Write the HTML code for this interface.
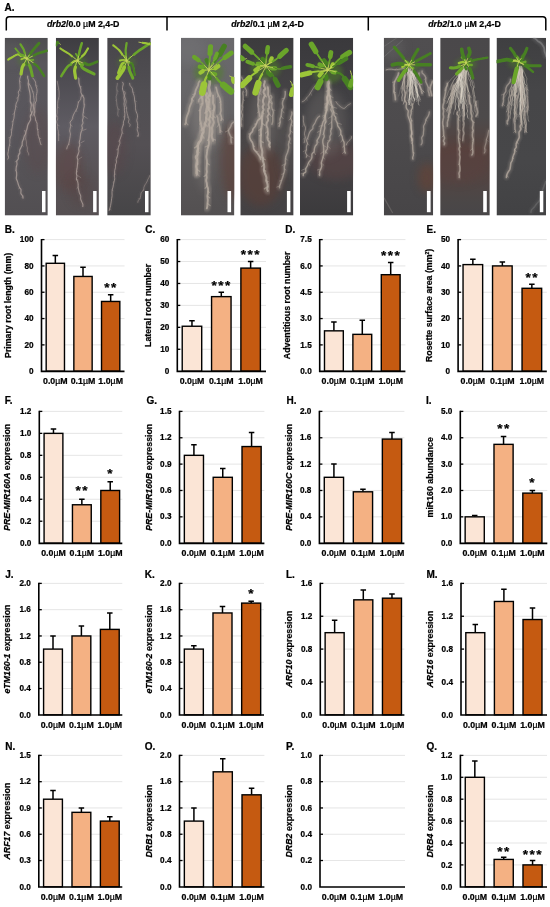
<!DOCTYPE html>
<html lang="en">
<head>
<meta charset="utf-8">
<title>Figure: drb2 response to 2,4-D</title>
<style>
html,body{margin:0;padding:0;background:#fff;}
body{width:550px;height:907px;overflow:hidden;}
svg{display:block;}
svg text{font-family:"Liberation Sans", sans-serif;fill:#000;stroke:#000;stroke-width:0.22px;}
</style>
</head>
<body>
<svg width="550" height="907" viewBox="0 0 550 907">
<rect width="550" height="907" fill="#fff"/>
<text x="4.5" y="10.9" font-size="10" font-weight="bold">A.</text>
<path d="M6.3 30.5V19.6Q6.3 16.8 9.2 16.8H542.9Q545.8 16.8 545.8 19.6V30.5M167.0 16.8V30.5M368.3 16.8V30.5" stroke="#000" stroke-width="1.5" fill="none"/>
<text x="83.2" y="27.3" text-anchor="middle" font-size="8.8" font-weight="bold" xml:space="preserve"><tspan font-style="italic">drb2</tspan>/0.0 <tspan font-weight="normal">µ</tspan>M 2,4-D</text>
<text x="267.5" y="27.3" text-anchor="middle" font-size="8.8" font-weight="bold" xml:space="preserve"><tspan font-style="italic">drb2</tspan>/0.1 <tspan font-weight="normal">µ</tspan>M 2,4-D</text>
<text x="464.5" y="27.3" text-anchor="middle" font-size="8.8" font-weight="bold" xml:space="preserve"><tspan font-style="italic">drb2</tspan>/1.0 <tspan font-weight="normal">µ</tspan>M 2,4-D</text>
<defs>
<filter id="soft" x="-5%" y="-5%" width="110%" height="110%"><feGaussianBlur stdDeviation="0.45"/></filter>
<filter id="halo" x="-30%" y="-10%" width="160%" height="120%"><feGaussianBlur stdDeviation="0.9"/></filter>
<filter id="gblob" x="-50%" y="-50%" width="200%" height="200%"><feGaussianBlur stdDeviation="2.2"/></filter>
<filter id="blob" x="-50%" y="-50%" width="200%" height="200%"><feGaussianBlur stdDeviation="4"/></filter>
<linearGradient id="bg0" x1="0" y1="0" x2="0" y2="1"><stop offset="0" stop-color="#4e4d50"/><stop offset="0.15" stop-color="#58565b"/><stop offset="0.45" stop-color="#5a575d"/><stop offset="0.75" stop-color="#565357"/><stop offset="1" stop-color="#524f52"/></linearGradient>
<clipPath id="cp0"><rect x="4.7" y="37.8" width="43.1" height="177.8"/></clipPath>
<linearGradient id="bg1" x1="0" y1="0" x2="0" y2="1"><stop offset="0" stop-color="#3e3d41"/><stop offset="0.2" stop-color="#4c4a50"/><stop offset="0.5" stop-color="#5f5c63"/><stop offset="0.8" stop-color="#585255"/><stop offset="1" stop-color="#565052"/></linearGradient>
<clipPath id="cp1"><rect x="55.8" y="37.8" width="43.1" height="177.8"/></clipPath>
<linearGradient id="bg2" x1="0" y1="0" x2="0" y2="1"><stop offset="0" stop-color="#48464a"/><stop offset="0.3" stop-color="#514f53"/><stop offset="0.6" stop-color="#545054"/><stop offset="1" stop-color="#464547"/></linearGradient>
<clipPath id="cp2"><rect x="107.2" y="37.8" width="43.6" height="177.8"/></clipPath>
<linearGradient id="bg3" x1="0" y1="0" x2="0" y2="1"><stop offset="0" stop-color="#6a696c"/><stop offset="0.3" stop-color="#676668"/><stop offset="0.6" stop-color="#5f5d5e"/><stop offset="0.85" stop-color="#575455"/><stop offset="1" stop-color="#535051"/></linearGradient>
<clipPath id="cp3"><rect x="181.0" y="37.8" width="53.4" height="177.8"/></clipPath>
<linearGradient id="bg4" x1="0" y1="0" x2="0" y2="1"><stop offset="0" stop-color="#3c3b3d"/><stop offset="0.3" stop-color="#454345"/><stop offset="0.6" stop-color="#4a4748"/><stop offset="1" stop-color="#444244"/></linearGradient>
<clipPath id="cp4"><rect x="240.3" y="37.8" width="53.3" height="177.8"/></clipPath>
<linearGradient id="bg5" x1="0" y1="0" x2="0" y2="1"><stop offset="0" stop-color="#3a393c"/><stop offset="0.4" stop-color="#434245"/><stop offset="0.7" stop-color="#464346"/><stop offset="1" stop-color="#3b3a3c"/></linearGradient>
<clipPath id="cp5"><rect x="300.0" y="37.8" width="53.2" height="177.8"/></clipPath>
<linearGradient id="bg6" x1="0" y1="0" x2="0" y2="1"><stop offset="0" stop-color="#504e50"/><stop offset="0.5" stop-color="#4d4b4d"/><stop offset="1" stop-color="#474547"/></linearGradient>
<clipPath id="cp6"><rect x="383.8" y="37.8" width="49.4" height="177.8"/></clipPath>
<linearGradient id="bg7" x1="0" y1="0" x2="0" y2="1"><stop offset="0" stop-color="#4a484a"/><stop offset="0.45" stop-color="#4d4a4b"/><stop offset="0.62" stop-color="#55433f"/><stop offset="0.8" stop-color="#524543"/><stop offset="0.92" stop-color="#4b4747"/><stop offset="1" stop-color="#484648"/></linearGradient>
<clipPath id="cp7"><rect x="440.2" y="37.8" width="49.6" height="177.8"/></clipPath>
<linearGradient id="bg8" x1="0" y1="0" x2="0" y2="1"><stop offset="0" stop-color="#3f3f41"/><stop offset="0.3" stop-color="#464648"/><stop offset="0.7" stop-color="#474749"/><stop offset="1" stop-color="#424244"/></linearGradient>
<clipPath id="cp8"><rect x="496.5" y="37.8" width="49.5" height="177.8"/></clipPath>
</defs>
<g clip-path="url(#cp0)">
<rect x="4.7" y="37.8" width="43.1" height="177.8" fill="url(#bg0)"/>
<ellipse cx="37.9" cy="140.6" rx="14.4" ry="32.8" fill="#5c4a4c" opacity="0.4125" filter="url(#blob)"/>
<ellipse cx="12.3" cy="52.5" rx="14.4" ry="12.3" fill="#626163" opacity="0.375" filter="url(#blob)"/>
<ellipse cx="26.7" cy="60.4" rx="9.0" ry="7.0" fill="#4f8226" opacity="0.4" filter="url(#gblob)"/>
<g filter="url(#soft)" fill="none" stroke-linecap="round" stroke-linejoin="round">
<path d="M20.5 74.0C20.6 74.3 20.9 75.1 20.8 75.7C20.7 76.4 20.2 77.2 20.0 78.1C19.8 79.0 19.6 79.9 19.6 80.9C19.6 82.0 19.8 83.0 19.9 84.1C20.0 85.2 20.1 86.5 20.1 87.4C20.1 88.3 20.0 89.0 19.7 89.8C19.4 90.5 18.4 91.2 18.3 92.1C18.1 92.9 18.9 93.9 18.9 94.8C18.8 95.7 18.1 96.6 18.0 97.5C17.8 98.4 18.1 99.4 17.8 100.3C17.5 101.2 16.7 102.0 16.4 102.9C16.0 103.8 16.0 104.8 15.8 105.7C15.7 106.6 15.7 107.4 15.6 108.2C15.4 109.0 15.1 109.9 14.9 110.7C14.7 111.6 14.5 112.4 14.4 113.3C14.3 114.2 14.3 115.1 14.2 116.0C14.1 116.9 14.0 117.8 13.8 118.7C13.6 119.5 13.1 120.3 13.0 121.2C12.8 122.1 12.9 123.0 12.8 123.8C12.7 124.7 12.5 125.4 12.4 126.3C12.3 127.2 12.1 128.2 11.9 129.1C11.8 130.0 11.6 130.9 11.5 131.9C11.4 132.8 11.6 133.8 11.4 134.7C11.3 135.6 10.7 136.4 10.4 137.2C10.2 138.1 9.9 139.0 9.8 139.8C9.7 140.7 9.9 141.6 9.9 142.4C9.8 143.2 9.7 143.8 9.6 144.8C9.4 145.7 9.0 147.0 8.8 148.1C8.6 149.2 8.4 150.4 8.3 151.5C8.1 152.5 7.8 153.6 7.8 154.6C7.9 155.5 8.6 156.5 8.6 157.3C8.6 158.0 7.9 158.8 7.8 159.1" stroke="#ad9f9a" stroke-width="2.6" opacity="0.15" filter="url(#halo)"/>
<path d="M20.5 74.0C20.6 74.3 20.9 75.1 20.8 75.7C20.7 76.4 20.2 77.2 20.0 78.1C19.8 79.0 19.6 79.9 19.6 80.9C19.6 82.0 19.8 83.0 19.9 84.1C20.0 85.2 20.1 86.5 20.1 87.4C20.1 88.3 20.0 89.0 19.7 89.8C19.4 90.5 18.4 91.2 18.3 92.1C18.1 92.9 18.9 93.9 18.9 94.8C18.8 95.7 18.1 96.6 18.0 97.5C17.8 98.4 18.1 99.4 17.8 100.3C17.5 101.2 16.7 102.0 16.4 102.9C16.0 103.8 16.0 104.8 15.8 105.7C15.7 106.6 15.7 107.4 15.6 108.2C15.4 109.0 15.1 109.9 14.9 110.7C14.7 111.6 14.5 112.4 14.4 113.3C14.3 114.2 14.3 115.1 14.2 116.0C14.1 116.9 14.0 117.8 13.8 118.7C13.6 119.5 13.1 120.3 13.0 121.2C12.8 122.1 12.9 123.0 12.8 123.8C12.7 124.7 12.5 125.4 12.4 126.3C12.3 127.2 12.1 128.2 11.9 129.1C11.8 130.0 11.6 130.9 11.5 131.9C11.4 132.8 11.6 133.8 11.4 134.7C11.3 135.6 10.7 136.4 10.4 137.2C10.2 138.1 9.9 139.0 9.8 139.8C9.7 140.7 9.9 141.6 9.9 142.4C9.8 143.2 9.7 143.8 9.6 144.8C9.4 145.7 9.0 147.0 8.8 148.1C8.6 149.2 8.4 150.4 8.3 151.5C8.1 152.5 7.8 153.6 7.8 154.6C7.9 155.5 8.6 156.5 8.6 157.3C8.6 158.0 7.9 158.8 7.8 159.1" stroke="#ad9f9a" stroke-width="1.0" opacity="0.75"/>
<path d="M19.6 80.9L21.0 82.0M19.7 89.8L20.7 91.3M18.0 97.5L16.6 98.2M15.8 105.7L17.2 107.1M14.4 113.3L12.7 114.3M13.0 121.2L11.9 121.7M11.9 129.1L10.6 129.8M10.4 137.2L8.7 137.8M9.6 144.8L10.7 146.0" stroke="#ad9f9a" stroke-width="0.7" opacity="0.525"/>
<path d="M27.7 76.0C27.7 76.4 27.6 77.2 27.7 78.0C27.8 78.8 28.4 79.7 28.5 80.8C28.5 81.8 28.2 82.9 28.2 84.0C28.3 85.1 28.5 86.3 28.7 87.3C28.8 88.3 29.1 89.1 29.3 90.0C29.5 90.9 29.7 91.8 29.9 92.8C30.0 93.8 30.2 94.8 30.3 95.8C30.4 96.7 30.3 97.8 30.3 98.8C30.3 99.8 30.1 100.8 30.3 101.7C30.4 102.7 31.2 103.6 31.3 104.6C31.4 105.5 31.1 106.5 31.0 107.5C30.9 108.5 30.6 109.5 30.7 110.4C30.8 111.4 31.7 112.4 31.7 113.3C31.6 114.3 30.5 115.0 30.3 116.0C30.1 116.9 30.8 118.3 30.6 119.3C30.4 120.4 29.7 121.2 29.3 122.1C28.8 123.1 28.2 123.9 27.8 125.0C27.4 126.1 27.3 127.5 27.1 128.5C26.8 129.5 26.5 130.1 26.2 131.0C26.0 131.8 26.0 132.8 25.6 133.7C25.3 134.6 24.5 135.4 24.2 136.3C23.8 137.2 23.7 138.3 23.4 139.2C23.1 140.1 22.6 141.0 22.3 142.0C22.1 142.9 22.3 144.0 22.1 144.9C21.8 145.8 21.3 146.7 20.9 147.6C20.6 148.4 19.9 149.3 19.7 150.2C19.5 151.2 20.0 152.3 19.8 153.2C19.5 154.1 18.5 154.9 18.3 155.8C18.0 156.7 18.6 157.7 18.3 158.6C18.1 159.5 17.0 160.1 16.8 161.0C16.6 162.0 17.1 163.2 17.0 164.2C16.9 165.2 16.5 166.1 16.3 167.0C16.2 168.0 16.0 168.9 16.1 169.9C16.1 170.8 16.5 171.7 16.6 172.7C16.7 173.6 16.7 174.5 16.6 175.5C16.6 176.5 16.1 177.6 16.3 178.6C16.4 179.6 17.2 180.6 17.5 181.6C17.9 182.6 18.0 183.7 18.4 184.7C18.7 185.7 19.1 186.6 19.5 187.5C19.9 188.3 20.7 188.7 21.0 189.7C21.2 190.7 20.6 192.5 20.9 193.5C21.2 194.6 22.4 195.3 22.8 196.1C23.1 196.8 22.9 197.7 23.0 198.1" stroke="#ad9f9a" stroke-width="3.1" opacity="0.16" filter="url(#halo)"/>
<path d="M27.7 76.0C27.7 76.4 27.6 77.2 27.7 78.0C27.8 78.8 28.4 79.7 28.5 80.8C28.5 81.8 28.2 82.9 28.2 84.0C28.3 85.1 28.5 86.3 28.7 87.3C28.8 88.3 29.1 89.1 29.3 90.0C29.5 90.9 29.7 91.8 29.9 92.8C30.0 93.8 30.2 94.8 30.3 95.8C30.4 96.7 30.3 97.8 30.3 98.8C30.3 99.8 30.1 100.8 30.3 101.7C30.4 102.7 31.2 103.6 31.3 104.6C31.4 105.5 31.1 106.5 31.0 107.5C30.9 108.5 30.6 109.5 30.7 110.4C30.8 111.4 31.7 112.4 31.7 113.3C31.6 114.3 30.5 115.0 30.3 116.0C30.1 116.9 30.8 118.3 30.6 119.3C30.4 120.4 29.7 121.2 29.3 122.1C28.8 123.1 28.2 123.9 27.8 125.0C27.4 126.1 27.3 127.5 27.1 128.5C26.8 129.5 26.5 130.1 26.2 131.0C26.0 131.8 26.0 132.8 25.6 133.7C25.3 134.6 24.5 135.4 24.2 136.3C23.8 137.2 23.7 138.3 23.4 139.2C23.1 140.1 22.6 141.0 22.3 142.0C22.1 142.9 22.3 144.0 22.1 144.9C21.8 145.8 21.3 146.7 20.9 147.6C20.6 148.4 19.9 149.3 19.7 150.2C19.5 151.2 20.0 152.3 19.8 153.2C19.5 154.1 18.5 154.9 18.3 155.8C18.0 156.7 18.6 157.7 18.3 158.6C18.1 159.5 17.0 160.1 16.8 161.0C16.6 162.0 17.1 163.2 17.0 164.2C16.9 165.2 16.5 166.1 16.3 167.0C16.2 168.0 16.0 168.9 16.1 169.9C16.1 170.8 16.5 171.7 16.6 172.7C16.7 173.6 16.7 174.5 16.6 175.5C16.6 176.5 16.1 177.6 16.3 178.6C16.4 179.6 17.2 180.6 17.5 181.6C17.9 182.6 18.0 183.7 18.4 184.7C18.7 185.7 19.1 186.6 19.5 187.5C19.9 188.3 20.7 188.7 21.0 189.7C21.2 190.7 20.6 192.5 20.9 193.5C21.2 194.6 22.4 195.3 22.8 196.1C23.1 196.8 22.9 197.7 23.0 198.1" stroke="#ad9f9a" stroke-width="1.2" opacity="0.8"/>
<path d="M28.2 84.0L29.7 85.1M22.1 144.9L23.1 146.2M19.8 153.2L18.3 153.8M16.8 161.0L15.1 161.8M16.1 169.9L15.4 170.4M19.5 187.5L18.8 188.9M22.8 196.1L22.1 197.2" stroke="#ad9f9a" stroke-width="0.7" opacity="0.56"/>
<path d="M32.8 78.1C33.0 78.4 33.6 79.0 34.1 79.6C34.5 80.3 35.2 81.2 35.5 82.1C35.8 83.1 35.6 84.3 35.8 85.3C36.0 86.3 36.5 87.2 36.7 88.2C37.0 89.2 37.1 90.3 37.1 91.5C37.0 92.7 36.5 94.5 36.4 95.5C36.2 96.6 36.2 97.0 36.2 97.9C36.2 98.7 36.5 99.7 36.4 100.6C36.2 101.5 35.4 102.4 35.1 103.4C34.9 104.3 35.0 105.3 34.9 106.3C34.8 107.3 34.7 108.3 34.7 109.2C34.7 110.2 34.9 111.0 34.8 111.9C34.8 112.9 34.4 114.0 34.4 114.9C34.5 115.9 35.1 116.7 35.3 117.6C35.5 118.5 35.3 119.5 35.6 120.4C35.9 121.3 36.7 122.1 37.0 123.1C37.2 124.0 37.1 125.3 37.2 126.2C37.3 127.2 37.2 128.0 37.3 128.9C37.5 129.8 37.9 130.8 38.0 131.8C38.1 132.8 37.9 134.0 38.1 135.0C38.3 136.1 38.9 137.0 39.1 138.0C39.4 138.9 39.6 139.9 39.8 140.8C40.0 141.6 40.2 142.4 40.4 143.1C40.6 143.8 40.9 144.5 41.0 144.7" stroke="#ad9f9a" stroke-width="2.6" opacity="0.15" filter="url(#halo)"/>
<path d="M32.8 78.1C33.0 78.4 33.6 79.0 34.1 79.6C34.5 80.3 35.2 81.2 35.5 82.1C35.8 83.1 35.6 84.3 35.8 85.3C36.0 86.3 36.5 87.2 36.7 88.2C37.0 89.2 37.1 90.3 37.1 91.5C37.0 92.7 36.5 94.5 36.4 95.5C36.2 96.6 36.2 97.0 36.2 97.9C36.2 98.7 36.5 99.7 36.4 100.6C36.2 101.5 35.4 102.4 35.1 103.4C34.9 104.3 35.0 105.3 34.9 106.3C34.8 107.3 34.7 108.3 34.7 109.2C34.7 110.2 34.9 111.0 34.8 111.9C34.8 112.9 34.4 114.0 34.4 114.9C34.5 115.9 35.1 116.7 35.3 117.6C35.5 118.5 35.3 119.5 35.6 120.4C35.9 121.3 36.7 122.1 37.0 123.1C37.2 124.0 37.1 125.3 37.2 126.2C37.3 127.2 37.2 128.0 37.3 128.9C37.5 129.8 37.9 130.8 38.0 131.8C38.1 132.8 37.9 134.0 38.1 135.0C38.3 136.1 38.9 137.0 39.1 138.0C39.4 138.9 39.6 139.9 39.8 140.8C40.0 141.6 40.2 142.4 40.4 143.1C40.6 143.8 40.9 144.5 41.0 144.7" stroke="#ad9f9a" stroke-width="1.0" opacity="0.75"/>
<path d="M35.8 85.3L37.5 86.1M35.1 103.4L35.7 104.0M34.8 111.9L33.9 112.6M35.6 120.4L36.5 120.7M37.3 128.9L38.6 129.6M39.1 138.0L40.8 138.6" stroke="#ad9f9a" stroke-width="0.7" opacity="0.525"/>
<path d="M28.7 83.2C28.9 83.5 29.6 84.3 30.0 85.1C30.5 85.9 31.0 87.1 31.5 88.1C31.9 89.2 32.2 90.5 32.6 91.5C32.9 92.5 33.3 93.2 33.5 94.2C33.7 95.2 33.6 96.3 33.7 97.3C33.9 98.4 34.2 99.5 34.2 100.6C34.2 101.6 33.8 102.6 33.6 103.7C33.5 104.8 33.5 105.9 33.4 107.1C33.3 108.3 33.3 109.7 33.0 110.8C32.7 112.0 31.8 113.0 31.4 113.8C31.1 114.7 30.9 115.7 30.8 116.0" stroke="#ad9f9a" stroke-width="2.6" opacity="0.14" filter="url(#halo)"/>
<path d="M28.7 83.2C28.9 83.5 29.6 84.3 30.0 85.1C30.5 85.9 31.0 87.1 31.5 88.1C31.9 89.2 32.2 90.5 32.6 91.5C32.9 92.5 33.3 93.2 33.5 94.2C33.7 95.2 33.6 96.3 33.7 97.3C33.9 98.4 34.2 99.5 34.2 100.6C34.2 101.6 33.8 102.6 33.6 103.7C33.5 104.8 33.5 105.9 33.4 107.1C33.3 108.3 33.3 109.7 33.0 110.8C32.7 112.0 31.8 113.0 31.4 113.8C31.1 114.7 30.9 115.7 30.8 116.0" stroke="#ad9f9a" stroke-width="1.0" opacity="0.7"/>
<path d="M32.6 91.5L34.1 92.0" stroke="#ad9f9a" stroke-width="0.7" opacity="0.49"/>
<path d="M24.6 130.4C24.7 130.7 25.2 131.5 25.4 132.3C25.6 133.1 25.8 134.2 25.9 135.2C25.9 136.3 25.7 137.5 25.7 138.6C25.8 139.7 26.3 140.9 26.4 141.9C26.5 142.9 26.3 143.8 26.4 144.8C26.6 145.8 27.2 146.8 27.4 147.8C27.5 148.8 27.1 150.0 27.3 150.9C27.5 151.8 28.2 152.5 28.5 153.2C28.7 153.9 28.7 154.7 28.7 155.0" stroke="#ad9f9a" stroke-width="2.1" opacity="0.12" filter="url(#halo)"/>
<path d="M24.6 130.4C24.7 130.7 25.2 131.5 25.4 132.3C25.6 133.1 25.8 134.2 25.9 135.2C25.9 136.3 25.7 137.5 25.7 138.6C25.8 139.7 26.3 140.9 26.4 141.9C26.5 142.9 26.3 143.8 26.4 144.8C26.6 145.8 27.2 146.8 27.4 147.8C27.5 148.8 27.1 150.0 27.3 150.9C27.5 151.8 28.2 152.5 28.5 153.2C28.7 153.9 28.7 154.7 28.7 155.0" stroke="#ad9f9a" stroke-width="0.8" opacity="0.6"/>
<path d="M25.7 138.6L24.6 139.6" stroke="#ad9f9a" stroke-width="0.7" opacity="0.42"/>
<path d="M30.8 101.7C31.0 102.1 31.7 103.3 32.2 104.3C32.7 105.4 33.4 106.8 33.7 107.9C34.1 108.9 34.3 109.8 34.3 110.8C34.3 111.8 34.0 113.0 33.7 113.9C33.5 114.8 33.0 115.7 32.8 116.0" stroke="#ad9f9a" stroke-width="2.3" opacity="0.12" filter="url(#halo)"/>
<path d="M30.8 101.7C31.0 102.1 31.7 103.3 32.2 104.3C32.7 105.4 33.4 106.8 33.7 107.9C34.1 108.9 34.3 109.8 34.3 110.8C34.3 111.8 34.0 113.0 33.7 113.9C33.5 114.8 33.0 115.7 32.8 116.0" stroke="#ad9f9a" stroke-width="0.9" opacity="0.6"/>
<path d="M26.7 58.6C27.2 58.9 28.9 59.9 30.0 60.1C31.1 60.3 32.7 59.9 33.3 59.8" stroke="#c4d35c" stroke-width="0.9"/>
<path d="M28.7 59.5C28.9 59.6 29.2 60.0 30.0 60.1C30.8 60.1 32.7 59.9 33.3 59.8" stroke="#6aa52c" stroke-width="1.8"/>
<path d="M26.7 58.6C26.5 59.2 25.7 60.9 25.8 62.0C25.8 63.0 26.6 64.4 26.7 64.9" stroke="#c4d35c" stroke-width="0.9"/>
<path d="M26.1 60.6C26.1 60.9 25.7 61.3 25.8 62.0C25.9 62.7 26.6 64.4 26.7 64.9" stroke="#478023" stroke-width="1.8"/>
<path d="M26.7 58.6C26.2 58.6 24.6 58.2 23.7 58.3C22.8 58.4 21.7 59.1 21.3 59.3" stroke="#c4d35c" stroke-width="0.9"/>
<path d="M24.9 58.4C24.7 58.4 24.3 58.2 23.7 58.3C23.1 58.4 21.7 59.1 21.3 59.3" stroke="#9cc537" stroke-width="1.8"/>
<path d="M26.7 58.6C26.2 58.1 25.1 56.3 24.1 55.6C23.1 54.9 21.2 54.6 20.7 54.4" stroke="#c4d35c" stroke-width="0.9"/>
<path d="M25.1 56.8C25.0 56.6 24.8 56.0 24.1 55.6C23.4 55.2 21.2 54.6 20.7 54.4" stroke="#6aa52c" stroke-width="1.8"/>
<path d="M26.7 58.6C27.0 58.3 28.5 57.3 29.0 56.5C29.5 55.8 29.5 54.4 29.7 54.0" stroke="#c4d35c" stroke-width="0.9"/>
<path d="M28.0 57.4C28.2 57.2 28.7 57.1 29.0 56.5C29.2 56.0 29.5 54.4 29.7 54.0" stroke="#478023" stroke-width="1.8"/>
<path d="M26.7 58.6C25.1 57.9 20.5 54.3 17.4 54.5C14.4 54.7 9.7 58.8 8.2 59.6" stroke="#c4d35c" stroke-width="0.9"/>
<path d="M21.1 56.1C20.5 55.9 19.6 53.9 17.4 54.5C15.3 55.1 9.7 58.8 8.2 59.6" stroke="#9cc537" stroke-width="2.2"/>
<path d="M26.7 58.6C26.1 57.1 24.6 51.8 23.6 49.4C22.6 47.0 21.0 45.1 20.5 44.3" stroke="#c4d35c" stroke-width="0.9"/>
<path d="M24.8 53.1C24.6 52.5 24.3 50.9 23.6 49.4C22.9 47.9 21.0 45.1 20.5 44.3" stroke="#6aa52c" stroke-width="2.2"/>
<path d="M26.7 58.6C27.7 57.2 30.8 53.0 32.8 50.4C34.9 47.8 37.9 44.4 39.0 43.2" stroke="#c4d35c" stroke-width="0.9"/>
<path d="M30.4 53.7C30.8 53.1 31.4 52.2 32.8 50.4C34.2 48.7 37.9 44.4 39.0 43.2" stroke="#478023" stroke-width="2.8"/>
<path d="M27.7 58.6C29.4 57.8 34.8 54.8 37.9 53.5C41.1 52.2 45.3 51.3 46.8 50.8" stroke="#c4d35c" stroke-width="0.9"/>
<path d="M33.8 55.5C34.5 55.2 35.8 54.3 37.9 53.5C40.1 52.7 45.3 51.3 46.8 50.8" stroke="#478023" stroke-width="2.5"/>
<path d="M26.3 59.6C25.6 61.0 23.0 65.4 22.1 67.8C21.3 70.2 21.3 73.0 21.1 74.0" stroke="#c4d35c" stroke-width="0.9"/>
<path d="M23.8 64.6C23.5 65.1 22.6 66.3 22.1 67.8C21.7 69.4 21.3 73.0 21.1 74.0" stroke="#9cc537" stroke-width="3.2"/>
<path d="M27.7 59.6C28.2 61.2 30.0 66.1 30.8 68.9C31.5 71.6 32.1 74.8 32.4 76.0" stroke="#c4d35c" stroke-width="0.9"/>
<path d="M29.5 65.2C29.7 65.8 30.3 67.1 30.8 68.9C31.2 70.7 32.1 74.8 32.4 76.0" stroke="#6aa52c" stroke-width="3.0"/>
<path d="M28.7 59.6C30.3 60.8 35.4 64.1 37.9 66.8C40.5 69.5 43.1 74.5 44.1 76.0" stroke="#c4d35c" stroke-width="0.9"/>
<path d="M34.2 63.9C34.9 64.4 36.3 64.8 37.9 66.8C39.6 68.8 43.1 74.5 44.1 76.0" stroke="#478023" stroke-width="2.5"/>
<path d="M26.7 58.6C25.6 57.9 22.4 56.2 20.5 54.5C18.6 52.8 16.2 49.4 15.4 48.4" stroke="#c4d35c" stroke-width="0.9"/>
<path d="M23.0 56.1C22.6 55.9 21.8 55.8 20.5 54.5C19.2 53.2 16.2 49.4 15.4 48.4" stroke="#6aa52c" stroke-width="1.9"/>
<circle cx="26.7" cy="58.6" r="1.1" fill="#c4d35c" stroke="none"/>
</g>
<rect x="42.0" y="191.0" width="3.5" height="21.2" fill="#fff"/>
</g>
<g clip-path="url(#cp1)">
<rect x="55.8" y="37.8" width="43.1" height="177.8" fill="url(#bg1)"/>
<ellipse cx="68.5" cy="167.4" rx="14.4" ry="24.6" fill="#5e4240" opacity="0.45" filter="url(#blob)"/>
<ellipse cx="80.8" cy="190.0" rx="12.3" ry="16.4" fill="#57403f" opacity="0.3" filter="url(#blob)"/>
<ellipse cx="77.7" cy="62.4" rx="9.0" ry="7.0" fill="#4f8226" opacity="0.4" filter="url(#gblob)"/>
<g filter="url(#soft)" fill="none" stroke-linecap="round" stroke-linejoin="round">
<path d="M78.7 78.1C78.8 78.5 78.8 79.3 78.9 80.2C78.9 81.0 78.8 82.1 79.0 83.1C79.1 84.1 79.6 85.2 80.0 86.3C80.3 87.3 80.7 88.4 80.9 89.4C81.0 90.4 80.7 91.5 80.9 92.5C81.1 93.4 81.7 94.3 82.2 95.2C82.7 96.1 83.6 97.0 83.9 98.1C84.2 99.2 83.8 100.7 83.9 101.7C83.9 102.7 84.1 103.2 84.1 104.1C84.2 104.9 84.3 105.7 84.2 106.6C84.1 107.5 83.7 108.4 83.6 109.3C83.5 110.2 83.4 111.2 83.3 112.1C83.2 113.0 82.9 113.9 82.9 114.8C82.9 115.8 83.3 116.7 83.2 117.6C83.2 118.5 82.5 119.3 82.5 120.2C82.4 121.1 83.1 122.1 83.0 123.0C82.9 123.9 81.9 124.7 81.8 125.6C81.7 126.5 82.5 127.5 82.4 128.3C82.4 129.2 81.9 130.0 81.6 130.9C81.3 131.8 80.9 132.6 80.7 133.6C80.5 134.5 80.5 135.6 80.3 136.5C80.2 137.5 80.2 138.4 80.0 139.3C79.9 140.2 79.3 141.2 79.3 142.2C79.2 143.2 79.9 144.4 79.8 145.4C79.7 146.4 78.8 147.3 78.7 148.4C78.5 149.4 79.1 150.5 79.0 151.5C78.8 152.5 78.3 153.4 78.0 154.4C77.7 155.3 77.2 156.1 77.1 157.1C77.1 158.0 77.7 159.2 77.8 160.1C77.9 161.1 77.7 162.0 77.6 163.0C77.5 163.9 77.5 164.8 77.4 165.6C77.3 166.5 77.2 167.4 77.1 168.2C76.9 169.1 76.7 170.0 76.6 170.9C76.5 171.7 76.4 172.6 76.4 173.6C76.5 174.5 76.9 175.4 76.9 176.3C76.9 177.2 76.3 178.2 76.4 179.1C76.5 180.0 77.4 180.8 77.7 181.7C77.9 182.6 78.1 183.5 78.1 184.4C78.2 185.4 78.1 186.3 78.1 187.2C78.2 188.2 78.5 189.0 78.7 190.0C78.9 190.9 79.1 191.9 79.4 192.9C79.8 193.9 80.5 194.8 80.7 195.9C80.9 197.0 80.5 198.2 80.7 199.2C80.9 200.3 81.5 201.2 81.9 202.1C82.2 202.9 82.7 203.7 82.9 204.5C83.0 205.2 82.8 206.1 82.8 206.4" stroke="#ad9f9a" stroke-width="2.9" opacity="0.16" filter="url(#halo)"/>
<path d="M78.7 78.1C78.8 78.5 78.8 79.3 78.9 80.2C78.9 81.0 78.8 82.1 79.0 83.1C79.1 84.1 79.6 85.2 80.0 86.3C80.3 87.3 80.7 88.4 80.9 89.4C81.0 90.4 80.7 91.5 80.9 92.5C81.1 93.4 81.7 94.3 82.2 95.2C82.7 96.1 83.6 97.0 83.9 98.1C84.2 99.2 83.8 100.7 83.9 101.7C83.9 102.7 84.1 103.2 84.1 104.1C84.2 104.9 84.3 105.7 84.2 106.6C84.1 107.5 83.7 108.4 83.6 109.3C83.5 110.2 83.4 111.2 83.3 112.1C83.2 113.0 82.9 113.9 82.9 114.8C82.9 115.8 83.3 116.7 83.2 117.6C83.2 118.5 82.5 119.3 82.5 120.2C82.4 121.1 83.1 122.1 83.0 123.0C82.9 123.9 81.9 124.7 81.8 125.6C81.7 126.5 82.5 127.5 82.4 128.3C82.4 129.2 81.9 130.0 81.6 130.9C81.3 131.8 80.9 132.6 80.7 133.6C80.5 134.5 80.5 135.6 80.3 136.5C80.2 137.5 80.2 138.4 80.0 139.3C79.9 140.2 79.3 141.2 79.3 142.2C79.2 143.2 79.9 144.4 79.8 145.4C79.7 146.4 78.8 147.3 78.7 148.4C78.5 149.4 79.1 150.5 79.0 151.5C78.8 152.5 78.3 153.4 78.0 154.4C77.7 155.3 77.2 156.1 77.1 157.1C77.1 158.0 77.7 159.2 77.8 160.1C77.9 161.1 77.7 162.0 77.6 163.0C77.5 163.9 77.5 164.8 77.4 165.6C77.3 166.5 77.2 167.4 77.1 168.2C76.9 169.1 76.7 170.0 76.6 170.9C76.5 171.7 76.4 172.6 76.4 173.6C76.5 174.5 76.9 175.4 76.9 176.3C76.9 177.2 76.3 178.2 76.4 179.1C76.5 180.0 77.4 180.8 77.7 181.7C77.9 182.6 78.1 183.5 78.1 184.4C78.2 185.4 78.1 186.3 78.1 187.2C78.2 188.2 78.5 189.0 78.7 190.0C78.9 190.9 79.1 191.9 79.4 192.9C79.8 193.9 80.5 194.8 80.7 195.9C80.9 197.0 80.5 198.2 80.7 199.2C80.9 200.3 81.5 201.2 81.9 202.1C82.2 202.9 82.7 203.7 82.9 204.5C83.0 205.2 82.8 206.1 82.8 206.4" stroke="#ad9f9a" stroke-width="1.1" opacity="0.8"/>
<path d="M80.0 86.3L81.7 86.9M82.2 95.2L83.4 95.4M84.1 104.1L85.0 104.6M83.3 112.1L84.1 112.8M82.4 128.3L80.9 129.4M79.8 145.4L79.0 145.9M78.0 154.4L78.6 155.1M77.6 163.0L78.2 163.5M76.6 170.9L77.6 171.8M76.4 179.1L78.1 180.0M78.1 187.2L76.8 188.5" stroke="#ad9f9a" stroke-width="0.7" opacity="0.56"/>
<path d="M81.8 95.6C81.7 95.8 81.2 96.4 81.0 97.1C80.8 97.8 80.9 98.7 80.6 99.5C80.2 100.3 79.2 101.0 78.7 101.8C78.3 102.7 78.1 103.8 77.9 104.8C77.6 105.7 77.6 106.8 77.3 107.7C77.0 108.6 76.6 109.3 76.1 110.1C75.7 110.9 75.1 111.8 74.6 112.6C74.2 113.4 73.8 114.1 73.4 115.0C73.1 115.8 72.9 116.6 72.6 117.4C72.4 118.3 72.3 119.1 71.9 119.9C71.5 120.7 70.3 121.3 70.1 122.1C69.9 123.0 70.7 124.1 70.7 125.1C70.8 126.1 70.4 127.0 70.2 128.0C70.1 128.9 69.7 129.9 69.7 130.9C69.8 131.9 70.4 132.9 70.4 133.9C70.5 134.8 70.2 135.6 70.1 136.7C69.9 137.7 69.7 139.0 69.5 140.2C69.2 141.4 69.1 142.7 68.8 143.8C68.4 144.9 67.6 145.9 67.3 146.7C66.9 147.6 66.9 148.6 66.8 148.9" stroke="#ad9f9a" stroke-width="2.6" opacity="0.15" filter="url(#halo)"/>
<path d="M81.8 95.6C81.7 95.8 81.2 96.4 81.0 97.1C80.8 97.8 80.9 98.7 80.6 99.5C80.2 100.3 79.2 101.0 78.7 101.8C78.3 102.7 78.1 103.8 77.9 104.8C77.6 105.7 77.6 106.8 77.3 107.7C77.0 108.6 76.6 109.3 76.1 110.1C75.7 110.9 75.1 111.8 74.6 112.6C74.2 113.4 73.8 114.1 73.4 115.0C73.1 115.8 72.9 116.6 72.6 117.4C72.4 118.3 72.3 119.1 71.9 119.9C71.5 120.7 70.3 121.3 70.1 122.1C69.9 123.0 70.7 124.1 70.7 125.1C70.8 126.1 70.4 127.0 70.2 128.0C70.1 128.9 69.7 129.9 69.7 130.9C69.8 131.9 70.4 132.9 70.4 133.9C70.5 134.8 70.2 135.6 70.1 136.7C69.9 137.7 69.7 139.0 69.5 140.2C69.2 141.4 69.1 142.7 68.8 143.8C68.4 144.9 67.6 145.9 67.3 146.7C66.9 147.6 66.9 148.6 66.8 148.9" stroke="#ad9f9a" stroke-width="1.0" opacity="0.75"/>
<path d="M78.7 101.8L77.8 102.0M76.1 110.1L76.8 111.6M72.6 117.4L73.1 118.1M70.7 125.1L72.2 126.2M68.8 143.8L69.4 144.8" stroke="#ad9f9a" stroke-width="0.7" opacity="0.525"/>
<path d="M57.2 81.2C57.2 81.5 57.4 82.3 57.5 83.0C57.7 83.8 57.8 84.7 58.0 85.6C58.2 86.5 58.4 87.6 58.6 88.6C58.8 89.7 59.0 90.9 59.1 92.0C59.2 93.2 59.2 94.5 59.1 95.6C59.1 96.6 59.0 97.3 58.7 98.1C58.5 99.0 58.1 99.9 57.9 100.8C57.7 101.7 57.6 102.7 57.6 103.7C57.5 104.6 57.7 105.7 57.6 106.7C57.5 107.7 57.3 108.7 57.2 109.7C57.1 110.8 57.2 111.8 57.2 112.9C57.1 113.9 56.6 115.1 56.7 116.1C56.8 117.1 57.7 117.8 57.7 118.8C57.7 119.7 56.7 120.8 56.7 121.8C56.6 122.8 57.5 123.8 57.6 124.9C57.8 125.9 57.4 127.1 57.5 128.1C57.6 129.2 58.2 130.2 58.4 131.2C58.5 132.2 58.3 133.2 58.4 134.2C58.4 135.1 58.6 136.0 58.6 136.8C58.7 137.6 58.6 138.4 58.6 139.0C58.6 139.7 58.6 140.4 58.6 140.7" stroke="#ad9f9a" stroke-width="2.3" opacity="0.12" filter="url(#halo)"/>
<path d="M57.2 81.2C57.2 81.5 57.4 82.3 57.5 83.0C57.7 83.8 57.8 84.7 58.0 85.6C58.2 86.5 58.4 87.6 58.6 88.6C58.8 89.7 59.0 90.9 59.1 92.0C59.2 93.2 59.2 94.5 59.1 95.6C59.1 96.6 59.0 97.3 58.7 98.1C58.5 99.0 58.1 99.9 57.9 100.8C57.7 101.7 57.6 102.7 57.6 103.7C57.5 104.6 57.7 105.7 57.6 106.7C57.5 107.7 57.3 108.7 57.2 109.7C57.1 110.8 57.2 111.8 57.2 112.9C57.1 113.9 56.6 115.1 56.7 116.1C56.8 117.1 57.7 117.8 57.7 118.8C57.7 119.7 56.7 120.8 56.7 121.8C56.6 122.8 57.5 123.8 57.6 124.9C57.8 125.9 57.4 127.1 57.5 128.1C57.6 129.2 58.2 130.2 58.4 131.2C58.5 132.2 58.3 133.2 58.4 134.2C58.4 135.1 58.6 136.0 58.6 136.8C58.7 137.6 58.6 138.4 58.6 139.0C58.6 139.7 58.6 140.4 58.6 140.7" stroke="#ad9f9a" stroke-width="0.9" opacity="0.6"/>
<path d="M58.6 88.6L57.9 89.4M58.7 98.1L59.7 99.3M57.6 106.7L59.1 107.9M56.7 116.1L57.9 116.8M57.6 124.9L59.3 125.8M58.4 134.2L59.8 135.1" stroke="#ad9f9a" stroke-width="0.7" opacity="0.42"/>
<path d="M83.9 116.1L87.3 118.5" stroke="#ad9f9a" stroke-width="0.8" opacity="0.6"/>
<path d="M82.8 130.4L86.1 129.2" stroke="#ad9f9a" stroke-width="0.8" opacity="0.6"/>
<path d="M80.8 142.8L84.1 141.1" stroke="#ad9f9a" stroke-width="0.8" opacity="0.6"/>
<path d="M78.7 159.2L81.8 157.1" stroke="#ad9f9a" stroke-width="0.8" opacity="0.5"/>
<path d="M77.7 175.6L80.8 177.6" stroke="#ad9f9a" stroke-width="0.8" opacity="0.5"/>
<path d="M77.7 60.7C78.1 61.2 79.1 62.9 80.0 63.6C80.9 64.3 82.6 64.7 83.2 64.9" stroke="#c4d35c" stroke-width="0.9"/>
<path d="M79.1 62.4C79.2 62.6 79.3 63.2 80.0 63.6C80.7 64.0 82.6 64.7 83.2 64.9" stroke="#6aa52c" stroke-width="1.8"/>
<path d="M77.7 60.7C77.3 61.2 75.9 62.9 75.5 64.0C75.1 65.1 75.5 66.8 75.5 67.4" stroke="#c4d35c" stroke-width="0.9"/>
<path d="M76.4 62.7C76.2 62.9 75.7 63.2 75.5 64.0C75.4 64.8 75.5 66.8 75.5 67.4" stroke="#478023" stroke-width="1.8"/>
<path d="M77.7 60.7C77.1 60.8 75.0 60.8 73.9 61.2C72.8 61.7 71.7 62.9 71.3 63.2" stroke="#c4d35c" stroke-width="0.9"/>
<path d="M75.4 61.0C75.2 61.0 74.6 60.9 73.9 61.2C73.2 61.6 71.7 62.9 71.3 63.2" stroke="#9cc537" stroke-width="1.8"/>
<path d="M77.7 60.7C77.7 60.0 78.1 58.0 77.8 56.8C77.5 55.7 76.2 54.4 75.9 53.9" stroke="#c4d35c" stroke-width="0.9"/>
<path d="M77.7 58.4C77.7 58.1 78.1 57.6 77.8 56.8C77.5 56.1 76.2 54.4 75.9 53.9" stroke="#6aa52c" stroke-width="1.8"/>
<path d="M77.7 60.7C78.2 60.4 79.7 59.8 80.4 59.2C81.0 58.6 81.5 57.3 81.7 57.0" stroke="#c4d35c" stroke-width="0.9"/>
<path d="M79.3 59.8C79.5 59.7 80.0 59.6 80.4 59.2C80.8 58.7 81.5 57.3 81.7 57.0" stroke="#478023" stroke-width="1.8"/>
<path d="M77.7 60.7C76.2 59.5 71.4 55.5 68.5 53.5C65.6 51.4 61.6 49.2 60.3 48.4" stroke="#c4d35c" stroke-width="0.9"/>
<path d="M72.2 56.4C71.5 55.9 70.5 54.8 68.5 53.5C66.5 52.2 61.6 49.2 60.3 48.4" stroke="#9cc537" stroke-width="2.0"/>
<path d="M77.7 60.7C78.0 59.0 79.1 53.3 79.8 50.4C80.4 47.5 81.5 44.4 81.8 43.2" stroke="#c4d35c" stroke-width="0.9"/>
<path d="M78.9 54.5C79.1 53.8 79.3 52.3 79.8 50.4C80.2 48.5 81.5 44.4 81.8 43.2" stroke="#6aa52c" stroke-width="2.5"/>
<path d="M77.7 60.7C78.9 59.5 83.2 55.5 84.9 53.5C86.6 51.4 87.5 49.2 88.0 48.4" stroke="#c4d35c" stroke-width="0.9"/>
<path d="M82.0 56.4C82.5 55.9 83.9 54.8 84.9 53.5C85.9 52.2 87.5 49.2 88.0 48.4" stroke="#9cc537" stroke-width="2.2"/>
<path d="M77.7 60.7C79.6 61.4 85.7 64.6 89.0 64.8C92.2 65.0 95.8 62.2 97.2 61.7" stroke="#c4d35c" stroke-width="0.9"/>
<path d="M84.5 63.1C85.2 63.4 86.9 65.0 89.0 64.8C91.1 64.5 95.8 62.2 97.2 61.7" stroke="#478023" stroke-width="2.8"/>
<path d="M77.7 61.7C78.7 62.9 81.1 66.8 83.9 68.9C86.6 70.9 92.4 73.2 94.1 74.0" stroke="#c4d35c" stroke-width="0.9"/>
<path d="M81.4 66.0C81.8 66.5 81.7 67.6 83.9 68.9C86.0 70.2 92.4 73.2 94.1 74.0" stroke="#6aa52c" stroke-width="3.0"/>
<path d="M76.7 61.7C76.3 63.2 74.8 68.2 74.6 70.9C74.5 73.7 75.5 76.9 75.7 78.1" stroke="#c4d35c" stroke-width="0.9"/>
<path d="M75.4 67.2C75.3 67.9 74.6 69.1 74.6 70.9C74.7 72.8 75.5 76.9 75.7 78.1" stroke="#9cc537" stroke-width="3.2"/>
<path d="M76.7 60.7C75.1 61.7 70.0 64.3 67.4 66.8C64.9 69.4 62.3 74.5 61.3 76.1" stroke="#c4d35c" stroke-width="0.9"/>
<path d="M71.1 64.4C70.5 64.8 69.1 64.9 67.4 66.8C65.8 68.8 62.3 74.5 61.3 76.1" stroke="#6aa52c" stroke-width="2.5"/>
<path d="M60.3 44.3C59.7 43.9 57.9 42.0 57.2 42.2C56.5 42.4 56.3 44.8 56.2 45.3" stroke="#c4d35c" stroke-width="0.9"/>
<path d="M58.4 43.0C58.2 42.9 57.6 41.8 57.2 42.2C56.8 42.6 56.3 44.8 56.2 45.3" stroke="#478023" stroke-width="2.5"/>
<circle cx="77.7" cy="60.7" r="1.1" fill="#c4d35c" stroke="none"/>
</g>
<rect x="93.1" y="191.0" width="3.5" height="21.2" fill="#fff"/>
</g>
<g clip-path="url(#cp2)">
<rect x="107.2" y="37.8" width="43.6" height="177.8" fill="url(#bg2)"/>
<ellipse cx="114.3" cy="148.9" rx="12.3" ry="26.7" fill="#5c4448" opacity="0.4125" filter="url(#blob)"/>
<ellipse cx="126.6" cy="62.4" rx="9.0" ry="7.0" fill="#4f8226" opacity="0.4" filter="url(#gblob)"/>
<g filter="url(#soft)" fill="none" stroke-linecap="round" stroke-linejoin="round">
<path d="M122.5 82.2C122.7 82.5 123.3 83.2 123.3 83.9C123.4 84.5 122.9 85.4 122.7 86.3C122.6 87.1 122.4 88.1 122.5 89.1C122.6 90.1 123.3 91.1 123.5 92.2C123.8 93.3 124.1 94.5 124.2 95.5C124.3 96.5 123.9 97.2 123.9 98.1C123.9 99.1 124.4 100.0 124.4 101.0C124.4 102.0 124.0 103.1 124.0 104.1C124.0 105.1 124.4 106.2 124.4 107.2C124.5 108.2 124.3 109.3 124.4 110.3C124.5 111.3 124.7 112.3 124.8 113.3C124.9 114.3 124.8 115.1 124.8 116.1C124.7 117.1 124.7 118.1 124.5 119.1C124.3 120.0 123.6 120.9 123.4 121.8C123.2 122.7 123.6 123.7 123.4 124.6C123.3 125.5 122.7 126.3 122.4 127.1C122.2 128.0 121.9 128.8 121.8 129.8C121.8 130.7 122.3 131.7 122.2 132.6C122.1 133.6 121.7 134.4 121.4 135.3C121.1 136.2 120.8 137.0 120.5 137.9C120.2 138.8 119.8 139.6 119.7 140.5C119.6 141.4 120.0 142.5 119.9 143.4C119.7 144.3 119.1 145.1 118.9 146.0C118.6 147.0 118.2 147.9 118.1 148.9C118.0 149.8 118.2 150.6 118.1 151.5C118.1 152.4 117.9 153.3 117.8 154.2C117.6 155.1 117.5 156.1 117.2 156.9C117.0 157.8 116.3 158.7 116.2 159.6C116.1 160.5 116.6 161.5 116.5 162.4C116.3 163.3 115.6 164.1 115.5 164.9C115.3 165.8 115.6 166.5 115.5 167.4C115.4 168.3 114.9 169.5 114.7 170.5C114.6 171.5 114.6 172.4 114.6 173.3C114.5 174.2 114.3 175.1 114.3 176.0C114.3 177.0 114.8 177.9 114.7 178.8C114.7 179.8 114.3 180.8 114.0 181.7C113.8 182.6 113.6 183.4 113.5 184.3C113.3 185.2 113.2 186.2 113.0 187.1C112.8 188.1 112.4 189.0 112.2 190.0C112.0 190.9 112.1 191.9 112.0 192.9C112.0 193.8 112.1 194.8 112.1 195.7C112.0 196.6 111.9 197.2 111.7 198.3C111.6 199.3 111.4 200.7 111.2 201.9C111.0 203.1 110.8 204.4 110.6 205.5C110.4 206.5 110.1 207.6 109.8 208.4C109.6 209.3 109.3 210.1 109.2 210.5" stroke="#ad9f9a" stroke-width="2.6" opacity="0.15" filter="url(#halo)"/>
<path d="M122.5 82.2C122.7 82.5 123.3 83.2 123.3 83.9C123.4 84.5 122.9 85.4 122.7 86.3C122.6 87.1 122.4 88.1 122.5 89.1C122.6 90.1 123.3 91.1 123.5 92.2C123.8 93.3 124.1 94.5 124.2 95.5C124.3 96.5 123.9 97.2 123.9 98.1C123.9 99.1 124.4 100.0 124.4 101.0C124.4 102.0 124.0 103.1 124.0 104.1C124.0 105.1 124.4 106.2 124.4 107.2C124.5 108.2 124.3 109.3 124.4 110.3C124.5 111.3 124.7 112.3 124.8 113.3C124.9 114.3 124.8 115.1 124.8 116.1C124.7 117.1 124.7 118.1 124.5 119.1C124.3 120.0 123.6 120.9 123.4 121.8C123.2 122.7 123.6 123.7 123.4 124.6C123.3 125.5 122.7 126.3 122.4 127.1C122.2 128.0 121.9 128.8 121.8 129.8C121.8 130.7 122.3 131.7 122.2 132.6C122.1 133.6 121.7 134.4 121.4 135.3C121.1 136.2 120.8 137.0 120.5 137.9C120.2 138.8 119.8 139.6 119.7 140.5C119.6 141.4 120.0 142.5 119.9 143.4C119.7 144.3 119.1 145.1 118.9 146.0C118.6 147.0 118.2 147.9 118.1 148.9C118.0 149.8 118.2 150.6 118.1 151.5C118.1 152.4 117.9 153.3 117.8 154.2C117.6 155.1 117.5 156.1 117.2 156.9C117.0 157.8 116.3 158.7 116.2 159.6C116.1 160.5 116.6 161.5 116.5 162.4C116.3 163.3 115.6 164.1 115.5 164.9C115.3 165.8 115.6 166.5 115.5 167.4C115.4 168.3 114.9 169.5 114.7 170.5C114.6 171.5 114.6 172.4 114.6 173.3C114.5 174.2 114.3 175.1 114.3 176.0C114.3 177.0 114.8 177.9 114.7 178.8C114.7 179.8 114.3 180.8 114.0 181.7C113.8 182.6 113.6 183.4 113.5 184.3C113.3 185.2 113.2 186.2 113.0 187.1C112.8 188.1 112.4 189.0 112.2 190.0C112.0 190.9 112.1 191.9 112.0 192.9C112.0 193.8 112.1 194.8 112.1 195.7C112.0 196.6 111.9 197.2 111.7 198.3C111.6 199.3 111.4 200.7 111.2 201.9C111.0 203.1 110.8 204.4 110.6 205.5C110.4 206.5 110.1 207.6 109.8 208.4C109.6 209.3 109.3 210.1 109.2 210.5" stroke="#ad9f9a" stroke-width="1.0" opacity="0.75"/>
<path d="M124.8 116.1L123.4 117.0M123.4 124.6L122.5 125.0M122.2 132.6L123.1 133.5M119.7 140.5L118.3 141.3M118.1 148.9L116.6 149.7M117.2 156.9L116.5 157.2M114.6 173.3L115.9 174.5M114.0 181.7L113.2 182.1M112.2 190.0L113.1 190.9M109.8 208.4L111.0 209.9" stroke="#ad9f9a" stroke-width="0.7" opacity="0.525"/>
<path d="M129.7 83.3C129.8 83.6 129.6 84.7 130.1 85.5C130.5 86.3 131.7 87.1 132.2 88.2C132.7 89.2 132.5 90.7 132.8 91.9C133.1 93.1 133.7 94.5 134.0 95.5C134.3 96.5 134.4 97.1 134.5 97.9C134.6 98.8 134.5 99.6 134.6 100.5C134.8 101.3 135.1 102.1 135.2 103.0C135.3 103.9 135.5 104.8 135.5 105.8C135.6 106.7 135.3 107.8 135.5 108.8C135.6 109.8 136.0 111.1 136.3 112.0C136.6 112.9 137.1 113.6 137.3 114.4C137.5 115.3 137.6 116.3 137.5 117.3C137.4 118.3 136.8 119.5 136.8 120.5C136.8 121.6 137.5 122.6 137.6 123.7C137.7 124.8 137.6 125.9 137.5 126.9C137.4 127.9 137.1 129.0 137.2 129.9C137.3 130.9 137.9 131.8 138.1 132.6C138.3 133.4 138.4 134.2 138.4 134.9C138.4 135.5 138.0 136.3 137.9 136.6" stroke="#ad9f9a" stroke-width="2.6" opacity="0.14" filter="url(#halo)"/>
<path d="M129.7 83.3C129.8 83.6 129.6 84.7 130.1 85.5C130.5 86.3 131.7 87.1 132.2 88.2C132.7 89.2 132.5 90.7 132.8 91.9C133.1 93.1 133.7 94.5 134.0 95.5C134.3 96.5 134.4 97.1 134.5 97.9C134.6 98.8 134.5 99.6 134.6 100.5C134.8 101.3 135.1 102.1 135.2 103.0C135.3 103.9 135.5 104.8 135.5 105.8C135.6 106.7 135.3 107.8 135.5 108.8C135.6 109.8 136.0 111.1 136.3 112.0C136.6 112.9 137.1 113.6 137.3 114.4C137.5 115.3 137.6 116.3 137.5 117.3C137.4 118.3 136.8 119.5 136.8 120.5C136.8 121.6 137.5 122.6 137.6 123.7C137.7 124.8 137.6 125.9 137.5 126.9C137.4 127.9 137.1 129.0 137.2 129.9C137.3 130.9 137.9 131.8 138.1 132.6C138.3 133.4 138.4 134.2 138.4 134.9C138.4 135.5 138.0 136.3 137.9 136.6" stroke="#ad9f9a" stroke-width="1.0" opacity="0.7"/>
<path d="M132.8 91.9L134.0 92.4M134.6 100.5L136.4 101.4M137.5 126.9L138.9 128.1M138.4 134.9L137.1 135.8" stroke="#ad9f9a" stroke-width="0.7" opacity="0.49"/>
<path d="M124.6 91.5C124.7 91.7 125.2 92.5 125.2 93.2C125.2 93.9 124.5 94.8 124.5 95.7C124.5 96.6 125.1 97.5 125.4 98.5C125.6 99.5 126.2 100.5 126.2 101.6C126.3 102.7 125.5 103.9 125.6 104.9C125.6 106.0 126.4 106.9 126.6 107.9C126.8 108.8 126.4 109.7 126.5 110.6C126.7 111.6 127.0 112.6 127.2 113.6C127.5 114.6 127.7 115.6 128.0 116.6C128.3 117.6 128.9 118.6 129.0 119.5C129.0 120.5 128.2 121.6 128.4 122.5C128.6 123.3 129.9 123.9 130.1 124.5C130.3 125.2 129.8 126.0 129.7 126.3" stroke="#ad9f9a" stroke-width="2.3" opacity="0.13" filter="url(#halo)"/>
<path d="M124.6 91.5C124.7 91.7 125.2 92.5 125.2 93.2C125.2 93.9 124.5 94.8 124.5 95.7C124.5 96.6 125.1 97.5 125.4 98.5C125.6 99.5 126.2 100.5 126.2 101.6C126.3 102.7 125.5 103.9 125.6 104.9C125.6 106.0 126.4 106.9 126.6 107.9C126.8 108.8 126.4 109.7 126.5 110.6C126.7 111.6 127.0 112.6 127.2 113.6C127.5 114.6 127.7 115.6 128.0 116.6C128.3 117.6 128.9 118.6 129.0 119.5C129.0 120.5 128.2 121.6 128.4 122.5C128.6 123.3 129.9 123.9 130.1 124.5C130.3 125.2 129.8 126.0 129.7 126.3" stroke="#ad9f9a" stroke-width="0.9" opacity="0.65"/>
<path d="M125.4 98.5L124.3 99.9M126.6 107.9L125.8 108.7M128.0 116.6L127.2 117.7" stroke="#ad9f9a" stroke-width="0.7" opacity="0.455"/>
<path d="M117.4 83.3C117.4 83.5 117.3 84.3 117.2 85.0C117.1 85.7 116.7 86.6 116.7 87.5C116.6 88.4 116.9 89.4 117.0 90.5C117.0 91.5 117.2 92.6 117.0 93.6C116.9 94.7 116.2 95.7 116.1 96.7C116.0 97.7 116.3 98.7 116.4 99.7C116.5 100.6 116.6 101.6 116.7 102.6C116.8 103.6 116.8 104.7 117.0 105.7C117.2 106.8 117.7 107.8 117.9 108.8C118.1 109.8 118.1 110.9 118.0 111.8C118.0 112.7 117.6 113.7 117.7 114.4C117.7 115.1 118.3 115.8 118.4 116.1" stroke="#ad9f9a" stroke-width="2.1" opacity="0.1" filter="url(#halo)"/>
<path d="M117.4 83.3C117.4 83.5 117.3 84.3 117.2 85.0C117.1 85.7 116.7 86.6 116.7 87.5C116.6 88.4 116.9 89.4 117.0 90.5C117.0 91.5 117.2 92.6 117.0 93.6C116.9 94.7 116.2 95.7 116.1 96.7C116.0 97.7 116.3 98.7 116.4 99.7C116.5 100.6 116.6 101.6 116.7 102.6C116.8 103.6 116.8 104.7 117.0 105.7C117.2 106.8 117.7 107.8 117.9 108.8C118.1 109.8 118.1 110.9 118.0 111.8C118.0 112.7 117.6 113.7 117.7 114.4C117.7 115.1 118.3 115.8 118.4 116.1" stroke="#ad9f9a" stroke-width="0.8" opacity="0.5"/>
<path d="M117.0 90.5L118.2 91.3M116.4 99.7L115.7 100.4M117.9 108.8L119.6 109.6" stroke="#ad9f9a" stroke-width="0.7" opacity="0.35"/>
<path d="M149.6 175.6C149.5 175.9 149.4 176.7 149.1 177.3C148.9 177.9 148.2 178.6 147.9 179.4C147.5 180.2 147.3 181.2 146.8 182.1C146.4 183.0 145.6 183.8 145.1 184.7C144.7 185.6 144.1 186.5 143.9 187.4C143.6 188.3 144.0 189.3 143.6 190.2C143.1 191.0 141.7 191.6 141.2 192.5C140.8 193.4 140.9 194.6 140.7 195.6C140.5 196.6 140.4 197.7 140.0 198.5C139.6 199.3 138.6 199.9 138.3 200.5C137.9 201.1 138.0 202.0 137.9 202.3" stroke="#ad9f9a" stroke-width="2.3" opacity="0.11" filter="url(#halo)"/>
<path d="M149.6 175.6C149.5 175.9 149.4 176.7 149.1 177.3C148.9 177.9 148.2 178.6 147.9 179.4C147.5 180.2 147.3 181.2 146.8 182.1C146.4 183.0 145.6 183.8 145.1 184.7C144.7 185.6 144.1 186.5 143.9 187.4C143.6 188.3 144.0 189.3 143.6 190.2C143.1 191.0 141.7 191.6 141.2 192.5C140.8 193.4 140.9 194.6 140.7 195.6C140.5 196.6 140.4 197.7 140.0 198.5C139.6 199.3 138.6 199.9 138.3 200.5C137.9 201.1 138.0 202.0 137.9 202.3" stroke="#ad9f9a" stroke-width="0.9" opacity="0.55"/>
<path d="M143.6 190.2L142.5 190.4M140.0 198.5L138.3 198.8" stroke="#ad9f9a" stroke-width="0.7" opacity="0.385"/>
<path d="M126.6 60.7C127.0 61.0 128.0 62.2 128.8 62.6C129.6 63.1 130.9 63.1 131.4 63.2" stroke="#c4d35c" stroke-width="0.9"/>
<path d="M127.9 61.8C128.1 62.0 128.2 62.4 128.8 62.6C129.3 62.9 130.9 63.1 131.4 63.2" stroke="#6aa52c" stroke-width="1.8"/>
<path d="M126.6 60.7C126.3 61.3 125.1 63.0 124.9 64.1C124.7 65.3 125.2 66.9 125.3 67.4" stroke="#c4d35c" stroke-width="0.9"/>
<path d="M125.6 62.8C125.5 63.0 124.9 63.4 124.9 64.1C124.9 64.9 125.2 66.9 125.3 67.4" stroke="#478023" stroke-width="1.8"/>
<path d="M126.6 60.7C126.0 60.5 124.2 59.8 123.1 59.8C122.0 59.7 120.5 60.4 119.9 60.5" stroke="#c4d35c" stroke-width="0.9"/>
<path d="M124.5 60.1C124.3 60.1 123.8 59.7 123.1 59.8C122.3 59.8 120.5 60.4 119.9 60.5" stroke="#9cc537" stroke-width="1.8"/>
<path d="M126.6 60.7C126.5 60.2 126.4 58.4 126.0 57.6C125.5 56.7 124.3 55.9 123.9 55.6" stroke="#c4d35c" stroke-width="0.9"/>
<path d="M126.2 58.8C126.2 58.6 126.3 58.1 126.0 57.6C125.6 57.1 124.3 55.9 123.9 55.6" stroke="#6aa52c" stroke-width="1.8"/>
<path d="M126.6 60.7C127.0 60.4 128.5 59.8 129.2 59.1C129.8 58.5 130.2 57.3 130.3 57.0" stroke="#c4d35c" stroke-width="0.9"/>
<path d="M128.2 59.8C128.3 59.7 128.8 59.6 129.2 59.1C129.5 58.7 130.2 57.3 130.3 57.0" stroke="#478023" stroke-width="1.8"/>
<path d="M126.6 60.7C125.4 59.0 121.7 53.0 119.4 50.4C117.2 47.9 114.3 46.1 113.3 45.3" stroke="#c4d35c" stroke-width="0.9"/>
<path d="M122.3 54.5C121.8 53.8 120.9 52.0 119.4 50.4C117.9 48.9 114.3 46.1 113.3 45.3" stroke="#9cc537" stroke-width="2.2"/>
<path d="M126.6 60.7C126.5 59.0 125.6 53.3 125.6 50.4C125.6 47.5 126.5 44.4 126.6 43.2" stroke="#c4d35c" stroke-width="0.9"/>
<path d="M126.0 54.5C125.9 53.8 125.5 52.3 125.6 50.4C125.7 48.5 126.5 44.4 126.6 43.2" stroke="#6aa52c" stroke-width="2.2"/>
<path d="M127.7 59.7C129.4 58.3 134.1 54.2 137.9 51.4C141.7 48.7 148.2 44.6 150.2 43.2" stroke="#c4d35c" stroke-width="0.9"/>
<path d="M133.8 54.7C134.5 54.2 135.2 53.4 137.9 51.4C140.6 49.5 148.2 44.6 150.2 43.2" stroke="#6aa52c" stroke-width="2.5"/>
<path d="M138.9 42.2C140.0 42.4 143.1 42.9 145.1 43.2C147.1 43.6 149.9 44.1 150.8 44.3" stroke="#c4d35c" stroke-width="0.9"/>
<path d="M142.6 42.8C143.0 42.9 143.7 43.0 145.1 43.2C146.5 43.5 149.9 44.1 150.8 44.3" stroke="#9cc537" stroke-width="2.2"/>
<path d="M126.6 61.7C125.9 63.2 124.1 68.2 122.5 70.9C121.0 73.7 118.2 76.9 117.4 78.1" stroke="#c4d35c" stroke-width="0.9"/>
<path d="M124.2 67.2C123.9 67.9 123.6 69.1 122.5 70.9C121.4 72.8 118.2 76.9 117.4 78.1" stroke="#9cc537" stroke-width="3.8"/>
<path d="M127.7 61.7C128.0 63.2 128.8 68.2 129.7 70.9C130.6 73.7 132.3 76.9 132.8 78.1" stroke="#c4d35c" stroke-width="0.9"/>
<path d="M128.9 67.2C129.0 67.9 129.1 69.1 129.7 70.9C130.4 72.8 132.3 76.9 132.8 78.1" stroke="#6aa52c" stroke-width="3.0"/>
<path d="M126.2 60.7C125.4 61.4 122.8 62.7 121.5 64.8C120.2 66.8 118.9 71.6 118.4 73.0" stroke="#c4d35c" stroke-width="0.9"/>
<path d="M123.4 63.1C123.1 63.4 122.3 63.1 121.5 64.8C120.7 66.4 118.9 71.6 118.4 73.0" stroke="#9cc537" stroke-width="2.8"/>
<path d="M127.7 60.7C128.5 61.4 131.6 62.4 132.8 64.8C134.0 67.2 134.5 73.3 134.8 75.0" stroke="#c4d35c" stroke-width="0.9"/>
<path d="M130.7 63.1C131.1 63.4 132.1 62.8 132.8 64.8C133.5 66.8 134.5 73.3 134.8 75.0" stroke="#478023" stroke-width="2.2"/>
<circle cx="126.6" cy="60.7" r="1.1" fill="#c4d35c" stroke="none"/>
</g>
<rect x="145.0" y="191.0" width="3.5" height="21.2" fill="#fff"/>
</g>
<g clip-path="url(#cp3)">
<rect x="181.0" y="37.8" width="53.4" height="177.8" fill="url(#bg3)"/>
<ellipse cx="232.4" cy="161.2" rx="11.3" ry="39.0" fill="#5e3e36" opacity="0.5625" filter="url(#blob)"/>
<ellipse cx="188.3" cy="50.4" rx="16.4" ry="14.4" fill="#77777a" opacity="0.375" filter="url(#blob)"/>
<ellipse cx="206.8" cy="116.1" rx="15.4" ry="34.9" fill="#9c9692" opacity="0.3375" filter="url(#blob)"/>
<ellipse cx="204.7" cy="161.2" rx="8.2" ry="30.8" fill="#8f8985" opacity="0.225" filter="url(#blob)"/>
<ellipse cx="208.8" cy="72.6" rx="15.0" ry="11.0" fill="#4f8226" opacity="0.5" filter="url(#gblob)"/>
<g filter="url(#soft)" fill="none" stroke-linecap="round" stroke-linejoin="round">
<path d="M206.8 93.5C206.7 93.8 206.2 94.5 206.2 95.2C206.2 95.9 206.8 96.7 206.8 97.5C206.8 98.4 206.1 99.4 206.1 100.3C206.1 101.3 206.7 102.3 206.9 103.4C207.1 104.4 207.4 105.4 207.3 106.4C207.3 107.4 206.9 108.4 206.7 109.4C206.5 110.3 206.3 111.0 206.3 111.9C206.3 112.9 206.6 114.1 206.6 115.1C206.6 116.1 206.3 117.0 206.2 118.0C206.1 118.9 206.4 119.9 206.1 120.8C205.9 121.7 205.1 122.5 204.9 123.4C204.6 124.3 205.0 125.4 204.7 126.3C204.5 127.3 203.7 128.0 203.5 129.0C203.3 130.0 203.7 131.2 203.4 132.2C203.2 133.2 202.3 133.9 202.0 134.9C201.6 135.9 201.5 136.9 201.3 137.9C201.0 138.9 200.8 140.0 200.3 140.9C199.8 141.7 198.8 142.3 198.4 143.1C197.9 144.0 197.8 144.9 197.7 145.9C197.6 146.8 198.1 147.9 198.0 148.8C198.0 149.7 197.4 150.6 197.3 151.5C197.3 152.5 197.8 153.5 197.6 154.4C197.3 155.3 196.0 156.1 195.9 157.0C195.8 158.0 196.8 159.0 196.9 160.0C197.0 161.0 196.7 162.1 196.6 163.2C196.5 164.2 196.3 165.3 196.3 166.3C196.3 167.3 196.6 168.3 196.6 169.2C196.7 170.1 196.5 171.0 196.5 171.7C196.5 172.4 196.5 173.2 196.5 173.5" stroke="#b9aea3" stroke-width="8.2" opacity="0.336" filter="url(#halo)"/>
<path d="M206.8 93.5C206.7 93.8 206.2 94.5 206.2 95.2C206.2 95.9 206.8 96.7 206.8 97.5C206.8 98.4 206.1 99.4 206.1 100.3C206.1 101.3 206.7 102.3 206.9 103.4C207.1 104.4 207.4 105.4 207.3 106.4C207.3 107.4 206.9 108.4 206.7 109.4C206.5 110.3 206.3 111.0 206.3 111.9C206.3 112.9 206.6 114.1 206.6 115.1C206.6 116.1 206.3 117.0 206.2 118.0C206.1 118.9 206.4 119.9 206.1 120.8C205.9 121.7 205.1 122.5 204.9 123.4C204.6 124.3 205.0 125.4 204.7 126.3C204.5 127.3 203.7 128.0 203.5 129.0C203.3 130.0 203.7 131.2 203.4 132.2C203.2 133.2 202.3 133.9 202.0 134.9C201.6 135.9 201.5 136.9 201.3 137.9C201.0 138.9 200.8 140.0 200.3 140.9C199.8 141.7 198.8 142.3 198.4 143.1C197.9 144.0 197.8 144.9 197.7 145.9C197.6 146.8 198.1 147.9 198.0 148.8C198.0 149.7 197.4 150.6 197.3 151.5C197.3 152.5 197.8 153.5 197.6 154.4C197.3 155.3 196.0 156.1 195.9 157.0C195.8 158.0 196.8 159.0 196.9 160.0C197.0 161.0 196.7 162.1 196.6 163.2C196.5 164.2 196.3 165.3 196.3 166.3C196.3 167.3 196.6 168.3 196.6 169.2C196.7 170.1 196.5 171.0 196.5 171.7C196.5 172.4 196.5 173.2 196.5 173.5" stroke="#b9aea3" stroke-width="2.4" opacity="0.8"/>
<path d="M206.1 100.3L208.9 102.3M207.3 106.4L210.3 108.8M206.3 111.9L204.7 113.1M206.2 118.0L208.6 120.1M204.9 123.4L207.2 126.3M202.0 134.9L204.0 138.1M197.7 145.9L194.5 147.9M196.6 163.2L197.8 164.3M196.6 169.2L199.6 171.3" stroke="#b9aea3" stroke-width="1.4" opacity="0.56"/>
<path d="M208.8 95.5C208.8 95.9 208.4 96.7 208.4 97.4C208.5 98.2 209.1 99.0 209.2 99.9C209.3 100.8 209.1 101.9 209.0 102.9C208.9 104.0 208.8 105.1 208.7 106.2C208.7 107.3 208.6 108.5 208.9 109.6C209.2 110.7 210.3 111.9 210.5 112.9C210.7 114.0 210.3 115.0 210.1 116.1C209.9 117.1 209.2 118.0 209.1 119.0C209.1 119.9 209.8 120.9 209.8 121.9C209.8 122.9 209.0 123.8 209.0 124.8C209.0 125.8 209.6 126.8 209.7 127.8C209.9 128.8 209.7 129.8 209.6 130.7C209.6 131.7 209.5 132.7 209.4 133.7C209.3 134.6 209.2 135.6 209.1 136.6C209.0 137.6 208.7 138.5 208.7 139.5C208.7 140.5 209.0 141.5 209.0 142.5C209.0 143.5 208.8 144.5 208.6 145.4C208.4 146.4 207.9 147.3 207.7 148.3C207.4 149.3 207.2 150.2 207.1 151.2C206.9 152.2 206.9 153.2 206.8 154.1C206.6 155.1 206.4 156.1 206.4 157.1C206.4 158.0 206.7 159.0 206.9 160.0C207.0 161.0 207.0 162.0 207.0 163.0C207.0 164.0 206.8 165.0 206.8 166.0C206.7 167.0 206.6 168.0 206.6 168.9C206.6 169.9 206.9 170.9 206.9 171.9C206.8 172.8 206.4 173.8 206.4 174.8C206.4 175.7 206.7 176.7 206.7 177.6C206.6 178.5 206.1 179.5 206.2 180.4C206.2 181.4 206.6 182.3 206.8 183.2C207.0 184.1 206.9 185.1 207.1 186.0C207.3 186.9 207.9 187.8 208.0 188.6C208.2 189.5 208.0 190.4 208.0 191.3C207.9 192.1 208.0 193.0 207.9 193.7C207.8 194.5 207.4 195.0 207.4 196.0C207.4 197.1 207.7 198.6 207.8 199.9C207.8 201.1 207.6 202.3 207.5 203.4C207.4 204.5 207.4 205.5 207.3 206.3C207.2 207.2 206.9 208.0 206.8 208.4" stroke="#b9aea3" stroke-width="6.5" opacity="0.336" filter="url(#halo)"/>
<path d="M208.8 95.5C208.8 95.9 208.4 96.7 208.4 97.4C208.5 98.2 209.1 99.0 209.2 99.9C209.3 100.8 209.1 101.9 209.0 102.9C208.9 104.0 208.8 105.1 208.7 106.2C208.7 107.3 208.6 108.5 208.9 109.6C209.2 110.7 210.3 111.9 210.5 112.9C210.7 114.0 210.3 115.0 210.1 116.1C209.9 117.1 209.2 118.0 209.1 119.0C209.1 119.9 209.8 120.9 209.8 121.9C209.8 122.9 209.0 123.8 209.0 124.8C209.0 125.8 209.6 126.8 209.7 127.8C209.9 128.8 209.7 129.8 209.6 130.7C209.6 131.7 209.5 132.7 209.4 133.7C209.3 134.6 209.2 135.6 209.1 136.6C209.0 137.6 208.7 138.5 208.7 139.5C208.7 140.5 209.0 141.5 209.0 142.5C209.0 143.5 208.8 144.5 208.6 145.4C208.4 146.4 207.9 147.3 207.7 148.3C207.4 149.3 207.2 150.2 207.1 151.2C206.9 152.2 206.9 153.2 206.8 154.1C206.6 155.1 206.4 156.1 206.4 157.1C206.4 158.0 206.7 159.0 206.9 160.0C207.0 161.0 207.0 162.0 207.0 163.0C207.0 164.0 206.8 165.0 206.8 166.0C206.7 167.0 206.6 168.0 206.6 168.9C206.6 169.9 206.9 170.9 206.9 171.9C206.8 172.8 206.4 173.8 206.4 174.8C206.4 175.7 206.7 176.7 206.7 177.6C206.6 178.5 206.1 179.5 206.2 180.4C206.2 181.4 206.6 182.3 206.8 183.2C207.0 184.1 206.9 185.1 207.1 186.0C207.3 186.9 207.9 187.8 208.0 188.6C208.2 189.5 208.0 190.4 208.0 191.3C207.9 192.1 208.0 193.0 207.9 193.7C207.8 194.5 207.4 195.0 207.4 196.0C207.4 197.1 207.7 198.6 207.8 199.9C207.8 201.1 207.6 202.3 207.5 203.4C207.4 204.5 207.4 205.5 207.3 206.3C207.2 207.2 206.9 208.0 206.8 208.4" stroke="#b9aea3" stroke-width="1.9" opacity="0.8"/>
<path d="M208.9 109.6L207.0 112.0M210.1 116.1L212.4 118.7M208.7 139.5L207.4 140.4M208.6 145.4L205.1 147.0M207.0 163.0L209.3 164.8M206.4 174.8L204.0 176.5M207.1 186.0L205.0 188.4M208.0 191.3L209.3 192.4M207.4 196.0L209.9 198.0M207.5 203.4L210.2 205.7" stroke="#b9aea3" stroke-width="1.1" opacity="0.56"/>
<path d="M199.6 81.2C199.4 81.4 198.7 82.0 198.5 82.7C198.3 83.3 198.4 84.4 198.1 85.2C197.9 86.1 197.2 86.9 196.8 87.8C196.4 88.8 195.9 89.7 195.6 90.7C195.3 91.7 195.3 92.8 195.0 93.7C194.7 94.6 194.2 95.4 193.7 96.3C193.2 97.1 192.3 97.9 192.0 98.8C191.7 99.8 192.0 101.0 191.7 102.0C191.5 103.0 190.8 103.9 190.5 104.9C190.1 105.8 189.7 106.9 189.4 107.9C189.2 108.9 189.3 109.8 189.0 110.8C188.7 111.8 188.3 112.8 187.9 113.8C187.5 114.8 187.0 115.9 186.7 116.9C186.4 117.9 186.3 119.0 186.1 119.9C186.0 120.8 186.0 121.8 185.9 122.5C185.7 123.2 185.3 124.0 185.2 124.3" stroke="#b9aea3" stroke-width="6.1" opacity="0.294" filter="url(#halo)"/>
<path d="M199.6 81.2C199.4 81.4 198.7 82.0 198.5 82.7C198.3 83.3 198.4 84.4 198.1 85.2C197.9 86.1 197.2 86.9 196.8 87.8C196.4 88.8 195.9 89.7 195.6 90.7C195.3 91.7 195.3 92.8 195.0 93.7C194.7 94.6 194.2 95.4 193.7 96.3C193.2 97.1 192.3 97.9 192.0 98.8C191.7 99.8 192.0 101.0 191.7 102.0C191.5 103.0 190.8 103.9 190.5 104.9C190.1 105.8 189.7 106.9 189.4 107.9C189.2 108.9 189.3 109.8 189.0 110.8C188.7 111.8 188.3 112.8 187.9 113.8C187.5 114.8 187.0 115.9 186.7 116.9C186.4 117.9 186.3 119.0 186.1 119.9C186.0 120.8 186.0 121.8 185.9 122.5C185.7 123.2 185.3 124.0 185.2 124.3" stroke="#b9aea3" stroke-width="1.8" opacity="0.7"/>
<path d="M195.0 93.7L192.8 94.4M192.0 98.8L193.5 101.0M185.9 122.5L188.0 124.9" stroke="#b9aea3" stroke-width="1.1" opacity="0.49"/>
<path d="M216.0 87.3C216.1 87.6 216.4 88.5 216.6 89.2C216.8 90.0 216.9 91.0 217.2 91.9C217.5 92.9 217.9 94.0 218.3 95.0C218.8 96.1 219.5 97.1 219.9 98.2C220.2 99.3 220.4 100.6 220.6 101.6C220.7 102.6 220.7 103.3 220.7 104.2C220.8 105.2 220.7 106.2 220.7 107.2C220.8 108.2 221.0 109.3 221.0 110.3C220.9 111.3 220.4 112.4 220.4 113.3C220.5 114.3 221.0 115.3 221.2 116.1C221.4 116.9 221.6 117.8 221.6 118.4C221.6 119.1 221.2 119.9 221.1 120.2" stroke="#b9aea3" stroke-width="5.4" opacity="0.294" filter="url(#halo)"/>
<path d="M216.0 87.3C216.1 87.6 216.4 88.5 216.6 89.2C216.8 90.0 216.9 91.0 217.2 91.9C217.5 92.9 217.9 94.0 218.3 95.0C218.8 96.1 219.5 97.1 219.9 98.2C220.2 99.3 220.4 100.6 220.6 101.6C220.7 102.6 220.7 103.3 220.7 104.2C220.8 105.2 220.7 106.2 220.7 107.2C220.8 108.2 221.0 109.3 221.0 110.3C220.9 111.3 220.4 112.4 220.4 113.3C220.5 114.3 221.0 115.3 221.2 116.1C221.4 116.9 221.6 117.8 221.6 118.4C221.6 119.1 221.2 119.9 221.1 120.2" stroke="#b9aea3" stroke-width="1.6" opacity="0.7"/>
<path d="M218.3 95.0L217.1 97.2M220.6 101.6L219.4 102.7M220.4 113.3L219.0 114.5M221.6 118.4L223.6 120.0" stroke="#b9aea3" stroke-width="1.0" opacity="0.49"/>
<path d="M212.9 95.5C213.0 95.9 213.1 96.7 213.1 97.4C213.2 98.2 213.2 99.1 213.2 100.0C213.2 101.0 213.0 102.1 213.1 103.1C213.3 104.2 214.1 105.3 214.3 106.4C214.4 107.6 214.1 108.8 213.9 109.9C213.8 111.0 213.3 112.1 213.2 113.2C213.0 114.2 213.2 115.0 213.2 116.0C213.2 117.0 213.0 118.0 213.0 119.1C213.1 120.1 213.7 121.2 213.7 122.2C213.7 123.2 213.3 124.1 213.0 125.0C212.7 126.0 212.2 126.8 212.1 127.7C212.0 128.6 212.2 129.5 212.3 130.3C212.3 131.1 212.4 131.5 212.3 132.5C212.2 133.4 211.7 135.1 211.7 136.1C211.8 137.2 212.3 138.1 212.5 138.8C212.8 139.6 212.9 140.4 212.9 140.7" stroke="#b9aea3" stroke-width="7.5" opacity="0.315" filter="url(#halo)"/>
<path d="M212.9 95.5C213.0 95.9 213.1 96.7 213.1 97.4C213.2 98.2 213.2 99.1 213.2 100.0C213.2 101.0 213.0 102.1 213.1 103.1C213.3 104.2 214.1 105.3 214.3 106.4C214.4 107.6 214.1 108.8 213.9 109.9C213.8 111.0 213.3 112.1 213.2 113.2C213.0 114.2 213.2 115.0 213.2 116.0C213.2 117.0 213.0 118.0 213.0 119.1C213.1 120.1 213.7 121.2 213.7 122.2C213.7 123.2 213.3 124.1 213.0 125.0C212.7 126.0 212.2 126.8 212.1 127.7C212.0 128.6 212.2 129.5 212.3 130.3C212.3 131.1 212.4 131.5 212.3 132.5C212.2 133.4 211.7 135.1 211.7 136.1C211.8 137.2 212.3 138.1 212.5 138.8C212.8 139.6 212.9 140.4 212.9 140.7" stroke="#b9aea3" stroke-width="2.2" opacity="0.75"/>
<path d="M213.9 109.9L211.9 111.0M213.2 116.0L215.3 117.7M212.5 138.8L215.5 140.0" stroke="#b9aea3" stroke-width="1.3" opacity="0.525"/>
<path d="M202.7 95.5C202.6 95.8 202.1 96.6 202.0 97.4C202.0 98.2 202.3 99.1 202.4 100.1C202.4 101.1 202.7 102.2 202.5 103.3C202.3 104.4 201.5 105.5 201.1 106.6C200.8 107.7 200.4 108.9 200.3 110.0C200.1 111.1 200.2 112.2 200.2 113.2C200.2 114.2 200.3 115.0 200.2 116.0C200.2 117.1 200.0 118.4 200.1 119.6C200.2 120.7 200.6 121.9 200.8 122.9C201.0 124.0 201.1 125.1 201.3 126.0C201.5 126.9 201.9 127.8 202.0 128.5C202.1 129.2 201.7 130.1 201.6 130.4" stroke="#b9aea3" stroke-width="6.8" opacity="0.294" filter="url(#halo)"/>
<path d="M202.7 95.5C202.6 95.8 202.1 96.6 202.0 97.4C202.0 98.2 202.3 99.1 202.4 100.1C202.4 101.1 202.7 102.2 202.5 103.3C202.3 104.4 201.5 105.5 201.1 106.6C200.8 107.7 200.4 108.9 200.3 110.0C200.1 111.1 200.2 112.2 200.2 113.2C200.2 114.2 200.3 115.0 200.2 116.0C200.2 117.1 200.0 118.4 200.1 119.6C200.2 120.7 200.6 121.9 200.8 122.9C201.0 124.0 201.1 125.1 201.3 126.0C201.5 126.9 201.9 127.8 202.0 128.5C202.1 129.2 201.7 130.1 201.6 130.4" stroke="#b9aea3" stroke-width="2.0" opacity="0.7"/>
<path d="M202.5 103.3L200.2 104.4M200.3 110.0L198.9 110.7M200.8 122.9L199.6 124.2M202.0 128.5L204.1 129.8" stroke="#b9aea3" stroke-width="1.2" opacity="0.49"/>
<path d="M217.0 116.1C217.1 116.4 217.6 117.3 217.8 118.1C217.9 119.0 217.9 120.3 218.1 121.3C218.3 122.3 218.7 123.3 219.0 124.3C219.3 125.3 219.6 126.3 219.8 127.3C220.0 128.3 220.1 129.4 220.1 130.3C220.2 131.2 220.1 132.1 220.1 132.5" stroke="#b9aea3" stroke-width="5.4" opacity="0.252" filter="url(#halo)"/>
<path d="M217.0 116.1C217.1 116.4 217.6 117.3 217.8 118.1C217.9 119.0 217.9 120.3 218.1 121.3C218.3 122.3 218.7 123.3 219.0 124.3C219.3 125.3 219.6 126.3 219.8 127.3C220.0 128.3 220.1 129.4 220.1 130.3C220.2 131.2 220.1 132.1 220.1 132.5" stroke="#b9aea3" stroke-width="1.6" opacity="0.6"/>
<path d="M219.0 124.3L216.9 127.1M220.1 130.3L222.4 131.8" stroke="#b9aea3" stroke-width="1.0" opacity="0.42"/>
<path d="M202.7 132.5C202.5 132.7 201.9 133.4 201.8 134.0C201.6 134.7 201.8 135.5 201.7 136.4C201.7 137.3 201.8 138.3 201.4 139.2C201.1 140.1 200.2 141.0 199.7 142.0C199.2 143.0 198.7 144.1 198.4 145.2C198.2 146.3 198.1 147.8 198.0 148.8C197.9 149.8 198.0 150.3 197.9 151.2C197.8 152.1 197.5 153.0 197.5 153.9C197.4 154.9 197.7 155.9 197.7 157.0C197.7 158.0 197.6 159.0 197.6 160.1C197.6 161.1 198.0 162.2 197.8 163.3C197.6 164.3 196.5 165.3 196.4 166.3C196.3 167.2 197.1 168.3 197.2 169.2C197.3 170.1 197.1 171.0 197.2 171.8C197.2 172.6 197.5 173.3 197.4 174.0C197.3 174.6 196.7 175.3 196.5 175.5" stroke="#b9aea3" stroke-width="5.4" opacity="0.252" filter="url(#halo)"/>
<path d="M202.7 132.5C202.5 132.7 201.9 133.4 201.8 134.0C201.6 134.7 201.8 135.5 201.7 136.4C201.7 137.3 201.8 138.3 201.4 139.2C201.1 140.1 200.2 141.0 199.7 142.0C199.2 143.0 198.7 144.1 198.4 145.2C198.2 146.3 198.1 147.8 198.0 148.8C197.9 149.8 198.0 150.3 197.9 151.2C197.8 152.1 197.5 153.0 197.5 153.9C197.4 154.9 197.7 155.9 197.7 157.0C197.7 158.0 197.6 159.0 197.6 160.1C197.6 161.1 198.0 162.2 197.8 163.3C197.6 164.3 196.5 165.3 196.4 166.3C196.3 167.2 197.1 168.3 197.2 169.2C197.3 170.1 197.1 171.0 197.2 171.8C197.2 172.6 197.5 173.3 197.4 174.0C197.3 174.6 196.7 175.3 196.5 175.5" stroke="#b9aea3" stroke-width="1.6" opacity="0.6"/>
<path d="M198.4 145.2L196.3 146.1M197.9 151.2L199.8 153.0M197.4 174.0L199.6 176.3" stroke="#b9aea3" stroke-width="1.0" opacity="0.42"/>
<path d="M209.8 81.2C209.8 81.6 210.0 82.8 209.8 83.8C209.6 84.9 208.7 86.3 208.7 87.3C208.6 88.4 209.1 89.2 209.4 90.2C209.6 91.2 210.2 92.3 210.2 93.2C210.3 94.1 209.9 95.2 209.8 95.5" stroke="#b9aea3" stroke-width="8.8" opacity="0.294" filter="url(#halo)"/>
<path d="M209.8 81.2C209.8 81.6 210.0 82.8 209.8 83.8C209.6 84.9 208.7 86.3 208.7 87.3C208.6 88.4 209.1 89.2 209.4 90.2C209.6 91.2 210.2 92.3 210.2 93.2C210.3 94.1 209.9 95.2 209.8 95.5" stroke="#b9aea3" stroke-width="2.6" opacity="0.7"/>
<path d="M204.7 83.2C204.6 83.5 204.1 84.3 204.0 85.1C203.8 85.9 204.2 87.1 204.0 88.0C203.7 89.0 202.8 89.9 202.4 90.8C202.0 91.7 201.7 92.4 201.5 93.4C201.3 94.5 201.6 95.9 201.2 96.9C200.8 98.0 199.4 98.7 199.0 99.5C198.5 100.3 198.6 101.3 198.6 101.7" stroke="#b9aea3" stroke-width="5.4" opacity="0.252" filter="url(#halo)"/>
<path d="M204.7 83.2C204.6 83.5 204.1 84.3 204.0 85.1C203.8 85.9 204.2 87.1 204.0 88.0C203.7 89.0 202.8 89.9 202.4 90.8C202.0 91.7 201.7 92.4 201.5 93.4C201.3 94.5 201.6 95.9 201.2 96.9C200.8 98.0 199.4 98.7 199.0 99.5C198.5 100.3 198.6 101.3 198.6 101.7" stroke="#b9aea3" stroke-width="1.6" opacity="0.6"/>
<path d="M202.4 90.8L198.9 91.6M201.2 96.9L202.5 99.1" stroke="#b9aea3" stroke-width="1.0" opacity="0.42"/>
<path d="M233.4 122.2C233.1 122.5 232.2 123.1 231.7 123.9C231.2 124.7 231.0 126.0 230.4 127.1C229.9 128.1 228.8 129.2 228.6 130.3C228.4 131.4 228.9 132.4 229.3 133.5C229.7 134.6 230.6 135.8 230.9 136.9C231.2 138.1 230.9 139.4 231.0 140.4C231.1 141.3 231.3 142.3 231.4 142.7" stroke="#b9aea3" stroke-width="5.4" opacity="0.252" filter="url(#halo)"/>
<path d="M233.4 122.2C233.1 122.5 232.2 123.1 231.7 123.9C231.2 124.7 231.0 126.0 230.4 127.1C229.9 128.1 228.8 129.2 228.6 130.3C228.4 131.4 228.9 132.4 229.3 133.5C229.7 134.6 230.6 135.8 230.9 136.9C231.2 138.1 230.9 139.4 231.0 140.4C231.1 141.3 231.3 142.3 231.4 142.7" stroke="#b9aea3" stroke-width="1.6" opacity="0.6"/>
<path d="M228.6 130.3L225.4 131.9M230.9 136.9L233.2 137.9" stroke="#b9aea3" stroke-width="1.0" opacity="0.42"/>
<path d="M208.8 69.9C209.3 70.4 210.5 72.3 211.5 73.1C212.6 73.8 214.6 74.1 215.2 74.3" stroke="#c4d35c" stroke-width="0.9"/>
<path d="M210.5 71.8C210.6 72.0 210.7 72.7 211.5 73.1C212.3 73.5 214.6 74.1 215.2 74.3" stroke="#6aa52c" stroke-width="1.4"/>
<path d="M212.6 73.5C212.8 73.5 212.9 73.6 213.4 73.7C213.8 73.9 214.9 74.2 215.2 74.3" stroke="#6aa52c" stroke-width="4.2"/>
<path d="M208.8 69.9C208.7 70.7 207.8 73.1 208.0 74.6C208.1 76.0 209.4 77.7 209.7 78.4" stroke="#c4d35c" stroke-width="0.9"/>
<path d="M208.3 72.7C208.3 73.0 207.8 73.6 208.0 74.6C208.2 75.5 209.4 77.7 209.7 78.4" stroke="#478023" stroke-width="1.4"/>
<path d="M208.5 75.7C208.5 75.8 208.6 76.0 208.8 76.5C209.0 76.9 209.5 78.0 209.7 78.4" stroke="#478023" stroke-width="4.2"/>
<path d="M208.8 69.9C208.0 70.0 205.3 69.9 203.9 70.4C202.5 70.9 201.0 72.4 200.4 72.7" stroke="#c4d35c" stroke-width="0.9"/>
<path d="M205.9 70.2C205.5 70.2 204.8 70.0 203.9 70.4C203.0 70.8 201.0 72.4 200.4 72.7" stroke="#9cc537" stroke-width="1.4"/>
<path d="M202.8 71.1C202.7 71.2 202.5 71.3 202.1 71.6C201.7 71.8 200.7 72.6 200.4 72.7" stroke="#9cc537" stroke-width="4.2"/>
<path d="M208.8 69.9C208.1 69.4 205.9 67.6 204.4 67.1C202.9 66.5 200.5 66.8 199.7 66.7" stroke="#c4d35c" stroke-width="0.9"/>
<path d="M206.2 68.2C205.9 68.0 205.5 67.3 204.4 67.1C203.3 66.8 200.5 66.8 199.7 66.7" stroke="#6aa52c" stroke-width="1.4"/>
<path d="M203.0 67.0C202.8 67.0 202.6 66.9 202.0 66.9C201.5 66.9 200.1 66.8 199.7 66.7" stroke="#6aa52c" stroke-width="4.2"/>
<path d="M208.8 69.9C208.9 69.0 209.5 66.0 209.1 64.3C208.8 62.7 207.0 60.8 206.6 60.1" stroke="#c4d35c" stroke-width="0.9"/>
<path d="M209.0 66.6C209.0 66.2 209.5 65.4 209.1 64.3C208.7 63.2 207.0 60.8 206.6 60.1" stroke="#478023" stroke-width="1.4"/>
<path d="M208.4 63.0C208.3 62.9 208.2 62.7 207.9 62.2C207.6 61.7 206.8 60.4 206.6 60.1" stroke="#478023" stroke-width="4.2"/>
<path d="M208.8 69.9C209.8 69.8 212.9 69.7 214.5 69.1C216.1 68.5 217.7 66.7 218.4 66.2" stroke="#c4d35c" stroke-width="0.9"/>
<path d="M212.2 69.4C212.6 69.3 213.4 69.6 214.5 69.1C215.5 68.5 217.7 66.7 218.4 66.2" stroke="#9cc537" stroke-width="1.4"/>
<path d="M215.6 68.2C215.8 68.1 216.0 68.0 216.4 67.6C216.9 67.3 218.0 66.4 218.4 66.2" stroke="#9cc537" stroke-width="4.2"/>
<path d="M208.8 69.9C207.5 68.5 203.1 63.8 200.6 61.7C198.2 59.5 195.1 57.8 194.1 57.0" stroke="#c4d35c" stroke-width="0.9"/>
<path d="M203.9 65.0C203.4 64.4 202.3 63.0 200.6 61.7C199.0 60.4 195.1 57.8 194.1 57.0" stroke="#6aa52c" stroke-width="1.4"/>
<path d="M198.6 60.3C198.4 60.1 198.1 59.9 197.3 59.3C196.6 58.8 194.6 57.4 194.1 57.0" stroke="#6aa52c" stroke-width="4.2"/>
<path d="M208.8 69.9C209.0 67.7 209.6 60.4 209.8 56.6C210.1 52.7 210.4 48.4 210.5 46.7" stroke="#c4d35c" stroke-width="0.9"/>
<path d="M209.4 61.9C209.5 61.0 209.7 59.1 209.8 56.6C210.0 54.0 210.4 48.4 210.5 46.7" stroke="#6aa52c" stroke-width="1.8"/>
<path d="M210.0 53.6C210.1 53.3 210.1 52.8 210.2 51.6C210.2 50.5 210.4 47.5 210.5 46.7" stroke="#6aa52c" stroke-width="5.1"/>
<path d="M208.8 69.9C210.4 67.8 215.5 61.5 218.1 57.6C220.6 53.7 223.2 48.2 224.2 46.3" stroke="#c4d35c" stroke-width="0.9"/>
<path d="M214.4 62.5C215.0 61.7 216.4 60.3 218.1 57.6C219.7 54.9 223.2 48.2 224.2 46.3" stroke="#478023" stroke-width="1.9"/>
<path d="M219.9 54.2C220.1 53.8 220.4 53.3 221.1 51.9C221.8 50.6 223.7 47.2 224.2 46.3" stroke="#478023" stroke-width="5.4"/>
<path d="M209.8 69.9C211.9 68.2 218.6 62.5 222.2 59.6C225.7 56.8 229.8 54.0 231.4 52.9" stroke="#c4d35c" stroke-width="0.9"/>
<path d="M217.2 63.7C218.1 63.1 219.8 61.5 222.2 59.6C224.5 57.8 229.8 54.0 231.4 52.9" stroke="#6aa52c" stroke-width="1.7"/>
<path d="M224.9 57.6C225.2 57.4 225.7 57.0 226.8 56.3C227.8 55.5 230.6 53.4 231.4 52.9" stroke="#6aa52c" stroke-width="4.8"/>
<path d="M208.8 70.9C208.1 72.6 205.8 77.6 204.7 81.2C203.6 84.8 202.7 90.6 202.3 92.5" stroke="#c4d35c" stroke-width="0.9"/>
<path d="M206.4 77.1C206.1 77.8 205.4 78.6 204.7 81.2C204.0 83.7 202.7 90.6 202.3 92.5" stroke="#9cc537" stroke-width="2.3"/>
<path d="M204.0 84.6C203.9 84.9 203.8 85.5 203.5 86.8C203.2 88.1 202.5 91.5 202.3 92.5" stroke="#9cc537" stroke-width="6.7"/>
<path d="M210.9 71.9C212.4 73.7 216.8 79.0 220.1 82.2C223.5 85.5 229.2 89.9 231.0 91.4" stroke="#c4d35c" stroke-width="0.9"/>
<path d="M216.4 78.1C217.0 78.8 217.7 80.0 220.1 82.2C222.5 84.4 229.2 89.9 231.0 91.4" stroke="#6aa52c" stroke-width="2.3"/>
<path d="M223.4 85.0C223.7 85.3 224.3 85.7 225.5 86.8C226.8 87.9 230.1 90.7 231.0 91.4" stroke="#6aa52c" stroke-width="6.7"/>
<path d="M229.7 76.1C230.3 76.4 232.3 77.2 233.0 78.1C233.7 79.0 233.7 81.0 233.8 81.6" stroke="#c4d35c" stroke-width="0.9"/>
<path d="M231.7 77.3C231.9 77.4 232.7 77.4 233.0 78.1C233.4 78.8 233.7 81.0 233.8 81.6" stroke="#9cc537" stroke-width="1.7"/>
<path d="M233.3 79.1C233.3 79.3 233.3 79.4 233.4 79.8C233.5 80.3 233.8 81.3 233.8 81.6" stroke="#9cc537" stroke-width="4.8"/>
<path d="M208.8 69.9C209.7 68.4 212.6 63.4 213.9 60.7C215.3 57.9 216.5 54.7 217.0 53.5" stroke="#c4d35c" stroke-width="0.9"/>
<path d="M211.9 64.4C212.2 63.7 213.1 62.5 213.9 60.7C214.8 58.9 216.5 54.7 217.0 53.5" stroke="#6aa52c" stroke-width="1.3"/>
<path d="M214.9 58.5C215.0 58.3 215.1 57.9 215.5 57.1C215.8 56.2 216.8 54.1 217.0 53.5" stroke="#6aa52c" stroke-width="3.8"/>
<circle cx="208.8" cy="69.9" r="1.1" fill="#c4d35c" stroke="none"/>
</g>
<rect x="227.5" y="191.0" width="3.6" height="21.2" fill="#fff"/>
</g>
<g clip-path="url(#cp4)">
<rect x="240.3" y="37.8" width="53.3" height="177.8" fill="url(#bg4)"/>
<ellipse cx="260.6" cy="175.5" rx="22.6" ry="30.8" fill="#5e3c34" opacity="0.525" filter="url(#blob)"/>
<ellipse cx="263.7" cy="120.2" rx="14.4" ry="36.9" fill="#8e8884" opacity="0.3" filter="url(#blob)"/>
<ellipse cx="286.3" cy="140.7" rx="6.2" ry="36.9" fill="#77716e" opacity="0.225" filter="url(#blob)"/>
<ellipse cx="265.7" cy="68.5" rx="15.0" ry="11.0" fill="#4f8226" opacity="0.5" filter="url(#gblob)"/>
<g filter="url(#soft)" fill="none" stroke-linecap="round" stroke-linejoin="round">
<path d="M264.7 81.2C264.7 81.5 264.6 82.3 264.5 83.0C264.3 83.8 263.8 84.6 263.9 85.6C264.0 86.5 265.2 87.6 265.2 88.7C265.1 89.7 263.6 90.8 263.5 91.9C263.5 93.1 264.8 94.3 264.8 95.4C264.7 96.5 263.7 97.6 263.4 98.7C263.1 99.7 263.0 100.7 263.0 101.6C263.1 102.6 263.7 103.6 263.7 104.4C263.6 105.3 262.7 106.1 262.7 107.0C262.7 107.9 263.6 108.9 263.6 109.7C263.5 110.6 262.7 111.4 262.5 112.2C262.3 113.1 262.5 113.9 262.4 114.8C262.3 115.7 262.0 116.5 261.9 117.4C261.9 118.3 262.0 119.2 262.0 120.2C262.0 121.1 262.1 122.1 262.0 123.0C262.0 124.0 261.8 124.9 261.7 125.9C261.5 126.9 261.4 127.8 261.3 128.8C261.1 129.8 260.9 130.8 260.8 131.8C260.8 132.8 261.0 133.8 261.0 134.8C261.0 135.7 260.8 136.7 260.7 137.7C260.7 138.7 260.6 139.7 260.6 140.7C260.6 141.7 260.8 142.6 260.8 143.6C260.9 144.6 260.9 145.6 261.1 146.6C261.3 147.6 261.7 148.6 261.9 149.6C262.1 150.6 262.3 151.6 262.3 152.6C262.3 153.6 262.0 154.6 262.1 155.6C262.1 156.6 262.6 157.5 262.8 158.4C262.9 159.3 262.8 160.2 263.0 161.1C263.2 162.1 263.7 163.1 263.9 164.1C264.1 165.0 264.2 166.0 264.2 167.0C264.2 167.9 263.8 169.0 263.9 169.9C263.9 170.8 264.3 171.7 264.6 172.5C264.9 173.4 265.3 174.2 265.6 175.0C265.9 175.9 266.3 176.5 266.4 177.5C266.5 178.4 266.2 179.6 266.3 180.7C266.5 181.7 267.1 182.7 267.4 183.7C267.6 184.7 267.7 185.7 267.7 186.6C267.7 187.5 267.1 188.5 267.2 189.2C267.2 189.9 267.7 190.6 267.8 190.9" stroke="#b9aea3" stroke-width="7.1" opacity="0.336" filter="url(#halo)"/>
<path d="M264.7 81.2C264.7 81.5 264.6 82.3 264.5 83.0C264.3 83.8 263.8 84.6 263.9 85.6C264.0 86.5 265.2 87.6 265.2 88.7C265.1 89.7 263.6 90.8 263.5 91.9C263.5 93.1 264.8 94.3 264.8 95.4C264.7 96.5 263.7 97.6 263.4 98.7C263.1 99.7 263.0 100.7 263.0 101.6C263.1 102.6 263.7 103.6 263.7 104.4C263.6 105.3 262.7 106.1 262.7 107.0C262.7 107.9 263.6 108.9 263.6 109.7C263.5 110.6 262.7 111.4 262.5 112.2C262.3 113.1 262.5 113.9 262.4 114.8C262.3 115.7 262.0 116.5 261.9 117.4C261.9 118.3 262.0 119.2 262.0 120.2C262.0 121.1 262.1 122.1 262.0 123.0C262.0 124.0 261.8 124.9 261.7 125.9C261.5 126.9 261.4 127.8 261.3 128.8C261.1 129.8 260.9 130.8 260.8 131.8C260.8 132.8 261.0 133.8 261.0 134.8C261.0 135.7 260.8 136.7 260.7 137.7C260.7 138.7 260.6 139.7 260.6 140.7C260.6 141.7 260.8 142.6 260.8 143.6C260.9 144.6 260.9 145.6 261.1 146.6C261.3 147.6 261.7 148.6 261.9 149.6C262.1 150.6 262.3 151.6 262.3 152.6C262.3 153.6 262.0 154.6 262.1 155.6C262.1 156.6 262.6 157.5 262.8 158.4C262.9 159.3 262.8 160.2 263.0 161.1C263.2 162.1 263.7 163.1 263.9 164.1C264.1 165.0 264.2 166.0 264.2 167.0C264.2 167.9 263.8 169.0 263.9 169.9C263.9 170.8 264.3 171.7 264.6 172.5C264.9 173.4 265.3 174.2 265.6 175.0C265.9 175.9 266.3 176.5 266.4 177.5C266.5 178.4 266.2 179.6 266.3 180.7C266.5 181.7 267.1 182.7 267.4 183.7C267.6 184.7 267.7 185.7 267.7 186.6C267.7 187.5 267.1 188.5 267.2 189.2C267.2 189.9 267.7 190.6 267.8 190.9" stroke="#b9aea3" stroke-width="2.1" opacity="0.8"/>
<path d="M265.2 88.7L263.2 90.0M264.8 95.4L266.5 96.8M262.5 112.2L263.9 113.8M262.0 123.0L264.7 125.3M261.3 128.8L258.8 130.2M261.0 134.8L259.4 135.9M260.6 140.7L263.3 142.6M262.8 158.4L265.2 159.7M263.9 164.1L261.7 166.6M263.9 169.9L265.7 171.1M266.3 180.7L268.0 181.5M267.7 186.6L264.4 188.9" stroke="#b9aea3" stroke-width="1.3" opacity="0.56"/>
<path d="M261.6 116.1C261.4 116.4 261.1 117.3 260.5 118.1C259.9 118.8 258.6 119.3 257.9 120.3C257.3 121.2 257.0 122.6 256.5 123.7C256.0 124.7 255.5 125.8 255.0 126.6C254.4 127.5 253.6 128.1 253.1 128.9C252.7 129.7 252.8 130.8 252.3 131.6C251.9 132.4 250.9 132.9 250.4 133.8C250.0 134.6 249.6 135.6 249.6 136.6C249.6 137.5 250.0 138.6 250.5 139.6C250.9 140.6 251.9 141.5 252.4 142.5C252.8 143.5 253.0 144.7 253.3 145.8C253.5 146.9 253.4 148.2 253.9 149.1C254.4 150.1 255.4 150.9 256.1 151.8C256.8 152.6 257.7 153.6 258.3 154.4C259.0 155.3 259.7 156.2 260.0 157.0C260.4 157.7 260.5 158.8 260.6 159.1" stroke="#b9aea3" stroke-width="5.8" opacity="0.315" filter="url(#halo)"/>
<path d="M261.6 116.1C261.4 116.4 261.1 117.3 260.5 118.1C259.9 118.8 258.6 119.3 257.9 120.3C257.3 121.2 257.0 122.6 256.5 123.7C256.0 124.7 255.5 125.8 255.0 126.6C254.4 127.5 253.6 128.1 253.1 128.9C252.7 129.7 252.8 130.8 252.3 131.6C251.9 132.4 250.9 132.9 250.4 133.8C250.0 134.6 249.6 135.6 249.6 136.6C249.6 137.5 250.0 138.6 250.5 139.6C250.9 140.6 251.9 141.5 252.4 142.5C252.8 143.5 253.0 144.7 253.3 145.8C253.5 146.9 253.4 148.2 253.9 149.1C254.4 150.1 255.4 150.9 256.1 151.8C256.8 152.6 257.7 153.6 258.3 154.4C259.0 155.3 259.7 156.2 260.0 157.0C260.4 157.7 260.5 158.8 260.6 159.1" stroke="#b9aea3" stroke-width="1.7" opacity="0.75"/>
<path d="M256.5 123.7L254.6 124.1M250.4 133.8L248.7 134.0M253.3 145.8L254.7 146.4M256.1 151.8L257.9 151.7M260.0 157.0L263.8 157.7" stroke="#b9aea3" stroke-width="1.0" opacity="0.525"/>
<path d="M267.8 87.3C267.8 87.6 268.0 88.5 268.1 89.2C268.2 89.9 268.3 90.8 268.3 91.7C268.3 92.6 268.0 93.7 268.2 94.7C268.4 95.7 269.2 96.8 269.3 97.9C269.5 99.0 269.4 100.2 269.2 101.4C269.1 102.5 268.5 103.7 268.5 104.7C268.5 105.8 269.2 106.9 269.1 107.9C269.0 108.9 268.0 109.7 267.9 110.7C267.9 111.7 268.9 112.8 268.8 113.8C268.7 114.8 267.5 115.7 267.4 116.7C267.4 117.7 268.3 118.8 268.2 119.8C268.1 120.8 267.2 121.7 266.9 122.6C266.6 123.6 266.4 124.6 266.5 125.5C266.6 126.5 267.3 127.4 267.5 128.3C267.7 129.3 267.6 130.2 267.7 131.2C267.8 132.2 268.0 133.2 267.9 134.2C267.9 135.3 267.3 136.5 267.3 137.5C267.3 138.5 267.7 139.5 268.1 140.4C268.5 141.3 269.6 142.0 269.7 142.8C269.9 143.6 269.1 144.6 269.1 145.3C269.1 145.9 269.7 146.6 269.8 146.8" stroke="#b9aea3" stroke-width="6.5" opacity="0.315" filter="url(#halo)"/>
<path d="M267.8 87.3C267.8 87.6 268.0 88.5 268.1 89.2C268.2 89.9 268.3 90.8 268.3 91.7C268.3 92.6 268.0 93.7 268.2 94.7C268.4 95.7 269.2 96.8 269.3 97.9C269.5 99.0 269.4 100.2 269.2 101.4C269.1 102.5 268.5 103.7 268.5 104.7C268.5 105.8 269.2 106.9 269.1 107.9C269.0 108.9 268.0 109.7 267.9 110.7C267.9 111.7 268.9 112.8 268.8 113.8C268.7 114.8 267.5 115.7 267.4 116.7C267.4 117.7 268.3 118.8 268.2 119.8C268.1 120.8 267.2 121.7 266.9 122.6C266.6 123.6 266.4 124.6 266.5 125.5C266.6 126.5 267.3 127.4 267.5 128.3C267.7 129.3 267.6 130.2 267.7 131.2C267.8 132.2 268.0 133.2 267.9 134.2C267.9 135.3 267.3 136.5 267.3 137.5C267.3 138.5 267.7 139.5 268.1 140.4C268.5 141.3 269.6 142.0 269.7 142.8C269.9 143.6 269.1 144.6 269.1 145.3C269.1 145.9 269.7 146.6 269.8 146.8" stroke="#b9aea3" stroke-width="1.9" opacity="0.75"/>
<path d="M269.2 101.4L271.7 103.7M269.1 107.9L267.5 108.8M268.8 113.8L270.6 115.4M267.7 131.2L265.5 133.1M267.3 137.5L268.7 138.4M269.7 142.8L268.6 144.2" stroke="#b9aea3" stroke-width="1.1" opacity="0.525"/>
<path d="M285.2 91.4C285.2 91.7 285.3 92.5 285.3 93.2C285.2 93.9 285.3 94.7 285.1 95.5C285.0 96.4 284.7 97.3 284.3 98.2C283.9 99.1 283.2 100.1 282.9 101.0C282.6 102.0 282.4 103.1 282.5 104.1C282.5 105.2 283.3 106.3 283.1 107.3C283.0 108.2 282.1 108.9 281.8 109.8C281.5 110.8 281.7 111.9 281.5 112.9C281.4 114.0 281.3 115.1 281.1 116.1C280.8 117.2 280.2 118.2 280.0 119.2C279.9 120.2 280.3 121.3 280.2 122.2C280.1 123.1 279.8 123.9 279.6 124.6C279.4 125.3 279.2 126.0 279.1 126.3" stroke="#b9aea3" stroke-width="5.1" opacity="0.252" filter="url(#halo)"/>
<path d="M285.2 91.4C285.2 91.7 285.3 92.5 285.3 93.2C285.2 93.9 285.3 94.7 285.1 95.5C285.0 96.4 284.7 97.3 284.3 98.2C283.9 99.1 283.2 100.1 282.9 101.0C282.6 102.0 282.4 103.1 282.5 104.1C282.5 105.2 283.3 106.3 283.1 107.3C283.0 108.2 282.1 108.9 281.8 109.8C281.5 110.8 281.7 111.9 281.5 112.9C281.4 114.0 281.3 115.1 281.1 116.1C280.8 117.2 280.2 118.2 280.0 119.2C279.9 120.2 280.3 121.3 280.2 122.2C280.1 123.1 279.8 123.9 279.6 124.6C279.4 125.3 279.2 126.0 279.1 126.3" stroke="#b9aea3" stroke-width="1.5" opacity="0.6"/>
<path d="M284.3 98.2L281.9 98.8M281.8 109.8L284.0 112.8M281.1 116.1L283.3 118.8M280.2 122.2L278.0 123.6" stroke="#b9aea3" stroke-width="0.9" opacity="0.42"/>
<path d="M291.8 111.9C291.8 112.2 292.1 113.0 292.0 113.6C292.0 114.2 291.6 115.0 291.4 115.8C291.2 116.5 290.8 117.4 290.8 118.3C290.9 119.2 291.8 120.3 291.9 121.3C292.0 122.3 291.5 123.3 291.2 124.3C291.0 125.3 290.6 126.4 290.4 127.4C290.2 128.4 290.2 129.4 290.2 130.4C290.1 131.3 290.4 132.2 290.2 133.1C290.0 134.0 289.0 134.8 288.9 135.7C288.9 136.7 289.9 137.8 289.9 138.7C290.0 139.7 289.4 140.6 289.1 141.6C288.9 142.5 288.6 143.5 288.5 144.5C288.5 145.5 288.8 146.5 288.8 147.5C288.7 148.4 288.4 149.4 288.1 150.3C287.9 151.2 287.6 152.1 287.3 153.0C286.9 153.8 286.5 154.7 286.2 155.6C285.9 156.4 285.7 157.3 285.6 158.3C285.4 159.2 285.4 160.1 285.4 161.0C285.3 161.9 285.6 162.9 285.4 163.8C285.2 164.6 284.6 165.4 284.4 166.3C284.2 167.1 284.4 168.0 284.4 168.9C284.4 169.7 284.5 170.6 284.4 171.4C284.3 172.2 284.0 172.7 283.7 173.6C283.4 174.6 283.1 176.0 282.8 177.1C282.4 178.2 281.9 179.3 281.6 180.4C281.2 181.4 280.9 182.5 280.6 183.4C280.3 184.3 279.9 185.2 279.7 185.9C279.5 186.7 279.5 187.5 279.5 187.8" stroke="#b9aea3" stroke-width="5.1" opacity="0.252" filter="url(#halo)"/>
<path d="M291.8 111.9C291.8 112.2 292.1 113.0 292.0 113.6C292.0 114.2 291.6 115.0 291.4 115.8C291.2 116.5 290.8 117.4 290.8 118.3C290.9 119.2 291.8 120.3 291.9 121.3C292.0 122.3 291.5 123.3 291.2 124.3C291.0 125.3 290.6 126.4 290.4 127.4C290.2 128.4 290.2 129.4 290.2 130.4C290.1 131.3 290.4 132.2 290.2 133.1C290.0 134.0 289.0 134.8 288.9 135.7C288.9 136.7 289.9 137.8 289.9 138.7C290.0 139.7 289.4 140.6 289.1 141.6C288.9 142.5 288.6 143.5 288.5 144.5C288.5 145.5 288.8 146.5 288.8 147.5C288.7 148.4 288.4 149.4 288.1 150.3C287.9 151.2 287.6 152.1 287.3 153.0C286.9 153.8 286.5 154.7 286.2 155.6C285.9 156.4 285.7 157.3 285.6 158.3C285.4 159.2 285.4 160.1 285.4 161.0C285.3 161.9 285.6 162.9 285.4 163.8C285.2 164.6 284.6 165.4 284.4 166.3C284.2 167.1 284.4 168.0 284.4 168.9C284.4 169.7 284.5 170.6 284.4 171.4C284.3 172.2 284.0 172.7 283.7 173.6C283.4 174.6 283.1 176.0 282.8 177.1C282.4 178.2 281.9 179.3 281.6 180.4C281.2 181.4 280.9 182.5 280.6 183.4C280.3 184.3 279.9 185.2 279.7 185.9C279.5 186.7 279.5 187.5 279.5 187.8" stroke="#b9aea3" stroke-width="1.5" opacity="0.6"/>
<path d="M290.8 118.3L288.9 120.1M291.2 124.3L293.0 126.5M290.2 130.4L293.1 132.7M289.1 141.6L291.0 143.8M285.6 158.3L287.4 160.1M285.4 163.8L282.0 165.5M284.4 168.9L285.9 170.0M283.7 173.6L281.8 174.3M281.6 180.4L279.5 181.0M279.7 185.9L276.8 187.1" stroke="#b9aea3" stroke-width="0.9" opacity="0.42"/>
<path d="M243.2 91.4C243.1 91.8 242.8 92.6 242.7 93.3C242.7 94.1 243.0 95.0 243.1 96.0C243.1 97.0 243.2 98.0 243.1 99.1C243.1 100.2 242.9 101.4 242.7 102.5C242.5 103.6 242.1 104.8 242.1 105.9C242.0 107.0 242.4 108.2 242.3 109.2C242.2 110.2 241.4 110.9 241.4 111.9C241.4 113.0 242.4 114.3 242.4 115.5C242.5 116.6 241.8 117.7 241.5 118.8C241.3 119.9 241.2 120.9 241.2 121.9C241.2 122.8 241.4 123.7 241.5 124.4C241.6 125.2 241.7 126.0 241.7 126.3" stroke="#b9aea3" stroke-width="4.8" opacity="0.21" filter="url(#halo)"/>
<path d="M243.2 91.4C243.1 91.8 242.8 92.6 242.7 93.3C242.7 94.1 243.0 95.0 243.1 96.0C243.1 97.0 243.2 98.0 243.1 99.1C243.1 100.2 242.9 101.4 242.7 102.5C242.5 103.6 242.1 104.8 242.1 105.9C242.0 107.0 242.4 108.2 242.3 109.2C242.2 110.2 241.4 110.9 241.4 111.9C241.4 113.0 242.4 114.3 242.4 115.5C242.5 116.6 241.8 117.7 241.5 118.8C241.3 119.9 241.2 120.9 241.2 121.9C241.2 122.8 241.4 123.7 241.5 124.4C241.6 125.2 241.7 126.0 241.7 126.3" stroke="#b9aea3" stroke-width="1.4" opacity="0.5"/>
<path d="M243.1 99.1L244.7 100.5M242.1 105.9L243.5 107.1M241.4 111.9L238.9 113.9M241.5 118.8L242.6 120.0M241.5 124.4L239.8 126.1" stroke="#b9aea3" stroke-width="0.8" opacity="0.35"/>
<path d="M241.7 77.1C241.8 77.4 242.0 78.3 242.4 79.0C242.8 79.7 243.9 80.5 244.2 81.4C244.4 82.4 243.9 83.8 244.0 84.8C244.1 85.8 244.4 86.5 244.8 87.4C245.2 88.4 246.2 89.4 246.5 90.4C246.8 91.4 246.6 92.6 246.6 93.4C246.5 94.3 246.3 95.2 246.3 95.5" stroke="#b9aea3" stroke-width="4.4" opacity="0.21" filter="url(#halo)"/>
<path d="M241.7 77.1C241.8 77.4 242.0 78.3 242.4 79.0C242.8 79.7 243.9 80.5 244.2 81.4C244.4 82.4 243.9 83.8 244.0 84.8C244.1 85.8 244.4 86.5 244.8 87.4C245.2 88.4 246.2 89.4 246.5 90.4C246.8 91.4 246.6 92.6 246.6 93.4C246.5 94.3 246.3 95.2 246.3 95.5" stroke="#b9aea3" stroke-width="1.3" opacity="0.5"/>
<path d="M246.5 90.4L244.9 92.6" stroke="#b9aea3" stroke-width="0.8" opacity="0.35"/>
<path d="M260.6 85.3C260.5 85.6 260.2 86.3 260.2 87.1C260.2 87.8 260.7 88.8 260.6 89.7C260.5 90.6 259.9 91.6 259.6 92.6C259.3 93.6 259.0 94.7 258.8 95.7C258.5 96.8 258.3 97.8 258.3 98.8C258.2 99.8 258.4 100.7 258.4 101.7C258.3 102.7 257.9 103.8 257.9 104.9C257.9 106.1 258.4 107.2 258.6 108.3C258.7 109.4 258.6 110.5 258.8 111.5C258.9 112.4 259.3 113.4 259.4 114.1C259.5 114.9 259.6 115.7 259.6 116.1" stroke="#b9aea3" stroke-width="5.4" opacity="0.252" filter="url(#halo)"/>
<path d="M260.6 85.3C260.5 85.6 260.2 86.3 260.2 87.1C260.2 87.8 260.7 88.8 260.6 89.7C260.5 90.6 259.9 91.6 259.6 92.6C259.3 93.6 259.0 94.7 258.8 95.7C258.5 96.8 258.3 97.8 258.3 98.8C258.2 99.8 258.4 100.7 258.4 101.7C258.3 102.7 257.9 103.8 257.9 104.9C257.9 106.1 258.4 107.2 258.6 108.3C258.7 109.4 258.6 110.5 258.8 111.5C258.9 112.4 259.3 113.4 259.4 114.1C259.5 114.9 259.6 115.7 259.6 116.1" stroke="#b9aea3" stroke-width="1.6" opacity="0.6"/>
<path d="M259.6 92.6L261.3 94.9M258.3 98.8L260.1 100.4M257.9 104.9L259.5 106.1M258.8 111.5L257.3 113.0" stroke="#b9aea3" stroke-width="1.0" opacity="0.42"/>
<path d="M270.9 95.5C271.0 95.8 271.8 96.5 271.8 97.3C271.8 98.0 270.8 99.1 270.9 100.0C270.9 101.0 271.9 101.9 272.1 103.0C272.2 104.0 271.6 105.2 271.6 106.3C271.6 107.3 271.9 108.4 272.2 109.3C272.5 110.3 273.2 110.9 273.3 111.9C273.4 113.0 272.8 114.4 272.8 115.6C272.7 116.8 272.8 118.1 272.8 119.2C272.8 120.3 272.8 121.3 272.6 122.2C272.5 123.0 272.0 123.9 271.9 124.3" stroke="#b9aea3" stroke-width="5.1" opacity="0.231" filter="url(#halo)"/>
<path d="M270.9 95.5C271.0 95.8 271.8 96.5 271.8 97.3C271.8 98.0 270.8 99.1 270.9 100.0C270.9 101.0 271.9 101.9 272.1 103.0C272.2 104.0 271.6 105.2 271.6 106.3C271.6 107.3 271.9 108.4 272.2 109.3C272.5 110.3 273.2 110.9 273.3 111.9C273.4 113.0 272.8 114.4 272.8 115.6C272.7 116.8 272.8 118.1 272.8 119.2C272.8 120.3 272.8 121.3 272.6 122.2C272.5 123.0 272.0 123.9 271.9 124.3" stroke="#b9aea3" stroke-width="1.5" opacity="0.55"/>
<path d="M272.2 109.3L275.0 110.4M272.8 115.6L271.0 116.7" stroke="#b9aea3" stroke-width="0.9" opacity="0.385"/>
<path d="M265.7 65.8C266.5 66.2 268.9 67.9 270.5 68.4C272.0 68.8 274.5 68.4 275.3 68.4" stroke="#c4d35c" stroke-width="0.9"/>
<path d="M268.6 67.3C268.9 67.5 269.3 68.2 270.5 68.4C271.6 68.5 274.5 68.4 275.3 68.4" stroke="#6aa52c" stroke-width="1.4"/>
<path d="M271.9 68.4C272.1 68.4 272.3 68.4 272.9 68.4C273.4 68.4 274.9 68.4 275.3 68.4" stroke="#6aa52c" stroke-width="4.2"/>
<path d="M265.7 65.8C265.9 66.7 266.1 69.9 266.9 71.4C267.7 73.0 269.9 74.5 270.5 75.1" stroke="#c4d35c" stroke-width="0.9"/>
<path d="M266.4 69.2C266.5 69.5 266.2 70.4 266.9 71.4C267.6 72.4 269.9 74.5 270.5 75.1" stroke="#478023" stroke-width="1.4"/>
<path d="M268.0 72.5C268.1 72.7 268.3 72.8 268.7 73.3C269.1 73.7 270.2 74.8 270.5 75.1" stroke="#478023" stroke-width="4.2"/>
<path d="M265.7 65.8C264.7 66.0 261.3 66.2 259.5 66.9C257.8 67.6 256.1 69.7 255.4 70.2" stroke="#c4d35c" stroke-width="0.9"/>
<path d="M262.0 66.5C261.6 66.5 260.6 66.3 259.5 66.9C258.4 67.5 256.1 69.7 255.4 70.2" stroke="#9cc537" stroke-width="1.4"/>
<path d="M258.3 67.9C258.1 68.0 257.9 68.2 257.5 68.6C257.0 69.0 255.7 70.0 255.4 70.2" stroke="#9cc537" stroke-width="4.2"/>
<path d="M265.7 65.8C265.1 65.5 263.1 64.1 261.7 63.8C260.4 63.5 258.4 63.9 257.7 63.9" stroke="#c4d35c" stroke-width="0.9"/>
<path d="M263.3 64.6C263.1 64.5 262.7 63.9 261.7 63.8C260.8 63.7 258.4 63.9 257.7 63.9" stroke="#6aa52c" stroke-width="1.4"/>
<path d="M260.5 63.8C260.4 63.8 260.2 63.9 259.7 63.9C259.3 63.9 258.0 63.9 257.7 63.9" stroke="#6aa52c" stroke-width="4.2"/>
<path d="M265.7 65.8C265.6 65.1 265.6 62.8 265.0 61.7C264.5 60.6 262.9 59.4 262.5 58.9" stroke="#c4d35c" stroke-width="0.9"/>
<path d="M265.3 63.3C265.3 63.1 265.5 62.4 265.0 61.7C264.6 61.0 262.9 59.4 262.5 58.9" stroke="#478023" stroke-width="1.4"/>
<path d="M264.3 60.9C264.2 60.8 264.1 60.6 263.8 60.3C263.5 60.0 262.7 59.2 262.5 58.9" stroke="#478023" stroke-width="4.2"/>
<path d="M265.7 65.8C266.5 65.2 269.1 63.8 270.1 62.5C271.1 61.3 271.5 59.0 271.7 58.3" stroke="#c4d35c" stroke-width="0.9"/>
<path d="M268.3 63.8C268.6 63.6 269.5 63.4 270.1 62.5C270.6 61.6 271.5 59.0 271.7 58.3" stroke="#9cc537" stroke-width="1.4"/>
<path d="M270.6 61.2C270.6 61.1 270.7 60.9 270.9 60.4C271.1 59.9 271.6 58.6 271.7 58.3" stroke="#9cc537" stroke-width="4.2"/>
<path d="M265.7 65.8C263.9 63.9 257.9 57.8 254.5 54.5C251.0 51.3 246.8 47.7 245.2 46.3" stroke="#c4d35c" stroke-width="0.9"/>
<path d="M259.0 59.0C258.2 58.3 256.8 56.6 254.5 54.5C252.2 52.4 246.8 47.7 245.2 46.3" stroke="#6aa52c" stroke-width="1.8"/>
<path d="M251.7 52.1C251.4 51.8 250.9 51.4 249.8 50.4C248.8 49.5 246.0 47.0 245.2 46.3" stroke="#6aa52c" stroke-width="5.1"/>
<path d="M265.7 65.8C265.9 63.9 266.4 57.6 266.8 54.5C267.1 51.4 267.6 48.5 267.8 47.3" stroke="#c4d35c" stroke-width="0.9"/>
<path d="M266.4 59.0C266.4 58.3 266.5 56.5 266.8 54.5C267.0 52.6 267.6 48.5 267.8 47.3" stroke="#6aa52c" stroke-width="1.5"/>
<path d="M267.1 52.4C267.1 52.1 267.2 51.8 267.3 50.9C267.4 50.1 267.7 47.9 267.8 47.3" stroke="#6aa52c" stroke-width="4.5"/>
<path d="M265.7 65.8C267.6 64.6 273.6 61.2 277.0 58.6C280.4 56.1 284.7 51.8 286.3 50.4" stroke="#c4d35c" stroke-width="0.9"/>
<path d="M272.5 61.5C273.3 61.0 274.7 60.5 277.0 58.6C279.3 56.8 284.7 51.8 286.3 50.4" stroke="#6aa52c" stroke-width="1.8"/>
<path d="M279.8 56.2C280.1 55.9 280.6 55.5 281.6 54.5C282.7 53.6 285.5 51.1 286.3 50.4" stroke="#6aa52c" stroke-width="5.1"/>
<path d="M265.7 65.8C268.0 66.3 275.0 68.7 279.1 68.9C283.2 69.0 288.5 67.2 290.4 66.8" stroke="#c4d35c" stroke-width="0.9"/>
<path d="M273.7 67.6C274.6 67.8 276.3 69.0 279.1 68.9C281.8 68.7 288.5 67.2 290.4 66.8" stroke="#478023" stroke-width="1.2"/>
<path d="M282.5 68.3C282.8 68.2 283.4 68.1 284.7 67.8C286.0 67.6 289.4 67.0 290.4 66.8" stroke="#478023" stroke-width="3.5"/>
<path d="M265.7 66.8C264.7 68.9 261.3 74.9 259.6 79.1C257.9 83.4 256.2 90.2 255.5 92.5" stroke="#c4d35c" stroke-width="0.9"/>
<path d="M262.1 74.2C261.6 75.0 260.7 76.1 259.6 79.1C258.5 82.2 256.2 90.2 255.5 92.5" stroke="#9cc537" stroke-width="2.2"/>
<path d="M258.4 83.1C258.2 83.6 258.0 84.2 257.5 85.8C257.1 87.4 255.8 91.4 255.5 92.5" stroke="#9cc537" stroke-width="6.4"/>
<path d="M266.8 66.8C268.0 68.5 272.1 74.0 273.9 77.1C275.8 80.2 277.4 83.9 278.1 85.3" stroke="#c4d35c" stroke-width="0.9"/>
<path d="M271.1 73.0C271.6 73.7 272.8 75.0 273.9 77.1C275.1 79.1 277.4 83.9 278.1 85.3" stroke="#478023" stroke-width="1.8"/>
<path d="M275.2 79.5C275.3 79.8 275.5 80.2 276.0 81.2C276.5 82.1 277.7 84.6 278.1 85.3" stroke="#478023" stroke-width="5.1"/>
<path d="M264.7 66.8C262.7 68.2 256.2 71.9 252.4 75.0C248.6 78.1 243.9 83.6 242.2 85.3" stroke="#c4d35c" stroke-width="0.9"/>
<path d="M257.3 71.7C256.5 72.3 254.9 72.8 252.4 75.0C249.9 77.3 243.9 83.6 242.2 85.3" stroke="#9cc537" stroke-width="2.0"/>
<path d="M249.3 78.1C249.0 78.4 248.5 79.0 247.3 80.2C246.1 81.4 243.0 84.4 242.2 85.3" stroke="#9cc537" stroke-width="5.8"/>
<path d="M246.3 58.6C245.7 58.8 244.0 59.8 243.2 59.6C242.3 59.5 241.5 57.9 241.1 57.6" stroke="#c4d35c" stroke-width="0.9"/>
<path d="M244.4 59.2C244.2 59.3 243.7 59.9 243.2 59.6C242.6 59.4 241.5 57.9 241.1 57.6" stroke="#6aa52c" stroke-width="1.7"/>
<path d="M242.6 59.0C242.5 59.0 242.4 58.9 242.2 58.6C241.9 58.4 241.3 57.8 241.1 57.6" stroke="#6aa52c" stroke-width="4.8"/>
<path d="M265.7 65.8C264.0 65.6 258.6 65.5 255.5 64.8C252.4 64.1 248.6 62.2 247.3 61.7" stroke="#c4d35c" stroke-width="0.9"/>
<path d="M259.6 65.2C258.9 65.1 257.5 65.4 255.5 64.8C253.4 64.2 248.6 62.2 247.3 61.7" stroke="#6aa52c" stroke-width="1.3"/>
<path d="M253.0 63.8C252.8 63.7 252.3 63.6 251.4 63.2C250.4 62.9 248.0 61.9 247.3 61.7" stroke="#6aa52c" stroke-width="3.8"/>
<path d="M290.4 81.2C290.9 82.2 293.3 85.1 293.4 87.3C293.6 89.6 291.7 93.3 291.4 94.5" stroke="#c4d35c" stroke-width="0.9"/>
<path d="M292.2 84.9C292.4 85.3 293.6 85.7 293.4 87.3C293.3 88.9 291.7 93.3 291.4 94.5" stroke="#9cc537" stroke-width="1.8"/>
<path d="M292.8 89.5C292.8 89.7 292.6 90.1 292.4 90.9C292.2 91.8 291.6 93.9 291.4 94.5" stroke="#9cc537" stroke-width="5.1"/>
<circle cx="265.7" cy="65.8" r="1.1" fill="#c4d35c" stroke="none"/>
</g>
<rect x="286.9" y="191.0" width="3.5" height="21.2" fill="#fff"/>
</g>
<g clip-path="url(#cp5)">
<rect x="300.0" y="37.8" width="53.2" height="177.8" fill="url(#bg5)"/>
<ellipse cx="336.0" cy="161.2" rx="26.7" ry="18.5" fill="#5e4444" opacity="0.4875" filter="url(#blob)"/>
<ellipse cx="325.8" cy="122.2" rx="20.5" ry="34.9" fill="#7d7875" opacity="0.3" filter="url(#blob)"/>
<ellipse cx="327.8" cy="72.6" rx="15.0" ry="11.0" fill="#4f8226" opacity="0.5" filter="url(#gblob)"/>
<g filter="url(#soft)" fill="none" stroke-linecap="round" stroke-linejoin="round">
<path d="M328.8 81.2C328.9 81.5 329.3 82.2 329.3 82.8C329.2 83.5 328.7 84.2 328.6 85.0C328.5 85.9 328.6 86.8 328.5 87.7C328.5 88.6 328.2 89.6 328.2 90.6C328.2 91.6 328.6 92.7 328.4 93.7C328.3 94.7 327.6 95.7 327.4 96.7C327.3 97.7 327.5 98.7 327.6 99.6C327.7 100.5 328.1 101.4 328.0 102.2C327.9 103.0 327.5 103.8 327.2 104.7C327.0 105.5 326.6 106.3 326.5 107.2C326.3 108.0 326.3 108.9 326.2 109.8C326.1 110.7 326.3 111.6 326.2 112.5C326.0 113.4 325.6 114.2 325.4 115.1C325.1 115.9 324.8 116.8 324.6 117.6C324.3 118.5 324.4 119.4 324.1 120.2C323.8 121.1 323.0 121.8 322.7 122.7C322.4 123.5 322.4 124.5 322.1 125.3C321.9 126.2 321.4 127.0 321.1 127.9C320.9 128.8 320.8 129.7 320.6 130.6C320.5 131.5 320.4 132.5 320.2 133.3C320.0 134.2 319.9 135.1 319.6 136.0C319.3 136.8 318.8 137.6 318.4 138.3C318.0 139.1 317.3 139.6 317.1 140.5C316.9 141.4 317.3 142.8 317.0 143.8C316.7 144.7 315.7 145.4 315.2 146.2C314.8 147.1 314.6 148.0 314.4 148.9C314.2 149.9 314.4 150.9 314.0 151.8C313.6 152.6 312.3 153.1 312.0 154.0C311.6 155.0 312.1 156.3 311.9 157.3C311.7 158.3 311.2 159.1 310.7 159.9C310.1 160.8 309.1 161.6 308.6 162.6C308.0 163.5 307.8 164.7 307.4 165.7C306.9 166.7 306.0 167.6 305.8 168.6C305.5 169.6 306.1 171.0 305.7 171.9C305.3 172.7 303.9 173.0 303.5 173.6C303.1 174.3 303.3 175.2 303.2 175.5" stroke="#b9aea3" stroke-width="4.5" opacity="0.28" filter="url(#halo)"/>
<path d="M328.8 81.2C328.9 81.5 329.3 82.2 329.3 82.8C329.2 83.5 328.7 84.2 328.6 85.0C328.5 85.9 328.6 86.8 328.5 87.7C328.5 88.6 328.2 89.6 328.2 90.6C328.2 91.6 328.6 92.7 328.4 93.7C328.3 94.7 327.6 95.7 327.4 96.7C327.3 97.7 327.5 98.7 327.6 99.6C327.7 100.5 328.1 101.4 328.0 102.2C327.9 103.0 327.5 103.8 327.2 104.7C327.0 105.5 326.6 106.3 326.5 107.2C326.3 108.0 326.3 108.9 326.2 109.8C326.1 110.7 326.3 111.6 326.2 112.5C326.0 113.4 325.6 114.2 325.4 115.1C325.1 115.9 324.8 116.8 324.6 117.6C324.3 118.5 324.4 119.4 324.1 120.2C323.8 121.1 323.0 121.8 322.7 122.7C322.4 123.5 322.4 124.5 322.1 125.3C321.9 126.2 321.4 127.0 321.1 127.9C320.9 128.8 320.8 129.7 320.6 130.6C320.5 131.5 320.4 132.5 320.2 133.3C320.0 134.2 319.9 135.1 319.6 136.0C319.3 136.8 318.8 137.6 318.4 138.3C318.0 139.1 317.3 139.6 317.1 140.5C316.9 141.4 317.3 142.8 317.0 143.8C316.7 144.7 315.7 145.4 315.2 146.2C314.8 147.1 314.6 148.0 314.4 148.9C314.2 149.9 314.4 150.9 314.0 151.8C313.6 152.6 312.3 153.1 312.0 154.0C311.6 155.0 312.1 156.3 311.9 157.3C311.7 158.3 311.2 159.1 310.7 159.9C310.1 160.8 309.1 161.6 308.6 162.6C308.0 163.5 307.8 164.7 307.4 165.7C306.9 166.7 306.0 167.6 305.8 168.6C305.5 169.6 306.1 171.0 305.7 171.9C305.3 172.7 303.9 173.0 303.5 173.6C303.1 174.3 303.3 175.2 303.2 175.5" stroke="#b9aea3" stroke-width="1.4" opacity="0.7"/>
<path d="M328.5 87.7L331.8 90.5M328.4 93.7L330.5 95.7M326.2 109.8L327.9 111.2M325.4 115.1L322.6 116.1M324.1 120.2L325.6 122.7M322.1 125.3L319.1 126.4M320.6 130.6L317.2 132.4M317.1 140.5L318.8 142.6M314.0 151.8L315.5 154.6M308.6 162.6L309.8 165.3M305.8 168.6L301.6 170.3M303.5 173.6L301.1 173.8" stroke="#b9aea3" stroke-width="0.8" opacity="0.49"/>
<path d="M328.8 83.2C328.8 83.5 328.6 84.3 328.7 84.9C328.7 85.6 328.9 86.4 329.1 87.2C329.3 88.0 329.8 88.9 329.8 89.8C329.9 90.8 329.3 91.8 329.3 92.9C329.2 93.9 329.3 94.9 329.6 95.9C329.8 96.9 330.3 97.9 330.5 98.9C330.8 99.8 331.0 100.7 331.1 101.7C331.2 102.6 330.8 103.6 331.1 104.4C331.3 105.3 332.3 106.0 332.6 106.9C333.0 107.8 332.8 108.8 332.9 109.7C333.1 110.6 333.5 111.5 333.7 112.4C333.9 113.3 333.7 114.3 334.1 115.1C334.4 116.0 335.4 116.6 335.7 117.5C336.0 118.3 335.6 119.3 335.9 120.2C336.1 121.1 336.9 122.0 337.2 122.9C337.6 123.9 337.4 125.0 337.8 125.9C338.2 126.8 339.0 127.5 339.5 128.4C340.0 129.2 340.6 130.0 340.8 131.0C341.0 131.9 340.6 133.1 340.8 134.0C341.0 135.0 341.9 135.6 342.2 136.6C342.5 137.5 342.4 138.5 342.7 139.5C343.0 140.5 343.9 141.5 344.1 142.5C344.3 143.6 344.1 144.8 344.1 145.8C344.2 146.8 344.4 147.8 344.5 148.7C344.5 149.6 344.5 150.5 344.6 151.2C344.8 151.9 345.2 152.7 345.3 153.0" stroke="#b9aea3" stroke-width="4.5" opacity="0.28" filter="url(#halo)"/>
<path d="M328.8 83.2C328.8 83.5 328.6 84.3 328.7 84.9C328.7 85.6 328.9 86.4 329.1 87.2C329.3 88.0 329.8 88.9 329.8 89.8C329.9 90.8 329.3 91.8 329.3 92.9C329.2 93.9 329.3 94.9 329.6 95.9C329.8 96.9 330.3 97.9 330.5 98.9C330.8 99.8 331.0 100.7 331.1 101.7C331.2 102.6 330.8 103.6 331.1 104.4C331.3 105.3 332.3 106.0 332.6 106.9C333.0 107.8 332.8 108.8 332.9 109.7C333.1 110.6 333.5 111.5 333.7 112.4C333.9 113.3 333.7 114.3 334.1 115.1C334.4 116.0 335.4 116.6 335.7 117.5C336.0 118.3 335.6 119.3 335.9 120.2C336.1 121.1 336.9 122.0 337.2 122.9C337.6 123.9 337.4 125.0 337.8 125.9C338.2 126.8 339.0 127.5 339.5 128.4C340.0 129.2 340.6 130.0 340.8 131.0C341.0 131.9 340.6 133.1 340.8 134.0C341.0 135.0 341.9 135.6 342.2 136.6C342.5 137.5 342.4 138.5 342.7 139.5C343.0 140.5 343.9 141.5 344.1 142.5C344.3 143.6 344.1 144.8 344.1 145.8C344.2 146.8 344.4 147.8 344.5 148.7C344.5 149.6 344.5 150.5 344.6 151.2C344.8 151.9 345.2 152.7 345.3 153.0" stroke="#b9aea3" stroke-width="1.4" opacity="0.7"/>
<path d="M329.8 89.8L328.5 90.8M329.6 95.9L333.2 97.6M331.1 101.7L329.5 103.1M332.6 106.9L336.8 108.2M333.7 112.4L337.3 114.0M335.7 117.5L334.4 119.5M337.2 122.9L341.4 124.3M340.8 134.0L339.0 136.2M342.7 139.5L340.9 142.1M344.1 145.8L342.4 147.2M344.6 151.2L342.6 153.4" stroke="#b9aea3" stroke-width="0.8" opacity="0.49"/>
<path d="M327.8 95.5C327.7 95.8 327.1 96.6 327.0 97.3C327.0 98.1 327.4 99.0 327.5 99.9C327.6 100.9 327.7 101.9 327.6 103.0C327.6 104.0 327.1 105.1 327.0 106.2C326.9 107.3 327.4 108.5 327.1 109.7C326.9 110.8 325.8 111.8 325.5 112.9C325.2 113.9 325.3 115.0 325.3 116.0C325.3 117.0 325.4 118.0 325.5 119.0C325.6 120.0 326.1 121.0 325.9 122.0C325.8 123.0 324.7 123.8 324.5 124.8C324.4 125.8 324.9 126.8 324.8 127.8C324.8 128.8 324.4 129.7 324.2 130.7C324.0 131.7 323.7 132.6 323.7 133.6C323.7 134.6 324.4 135.6 324.2 136.6C324.1 137.6 323.3 138.5 323.0 139.5C322.8 140.5 322.7 141.5 322.8 142.5C322.9 143.5 323.3 144.5 323.4 145.5C323.6 146.5 323.6 147.5 323.6 148.4C323.6 149.4 323.6 150.4 323.6 151.4C323.6 152.4 323.8 153.4 323.7 154.3C323.6 155.3 323.2 156.2 323.0 157.1C322.7 158.1 322.4 159.0 322.2 160.0C321.9 160.9 321.4 161.9 321.3 162.9C321.2 164.0 321.8 165.1 321.7 166.2C321.6 167.2 321.2 168.1 320.8 169.0C320.5 169.9 319.8 170.7 319.6 171.5C319.4 172.3 319.7 173.2 319.7 173.9C319.7 174.5 319.6 175.3 319.6 175.5" stroke="#b9aea3" stroke-width="4.5" opacity="0.28" filter="url(#halo)"/>
<path d="M327.8 95.5C327.7 95.8 327.1 96.6 327.0 97.3C327.0 98.1 327.4 99.0 327.5 99.9C327.6 100.9 327.7 101.9 327.6 103.0C327.6 104.0 327.1 105.1 327.0 106.2C326.9 107.3 327.4 108.5 327.1 109.7C326.9 110.8 325.8 111.8 325.5 112.9C325.2 113.9 325.3 115.0 325.3 116.0C325.3 117.0 325.4 118.0 325.5 119.0C325.6 120.0 326.1 121.0 325.9 122.0C325.8 123.0 324.7 123.8 324.5 124.8C324.4 125.8 324.9 126.8 324.8 127.8C324.8 128.8 324.4 129.7 324.2 130.7C324.0 131.7 323.7 132.6 323.7 133.6C323.7 134.6 324.4 135.6 324.2 136.6C324.1 137.6 323.3 138.5 323.0 139.5C322.8 140.5 322.7 141.5 322.8 142.5C322.9 143.5 323.3 144.5 323.4 145.5C323.6 146.5 323.6 147.5 323.6 148.4C323.6 149.4 323.6 150.4 323.6 151.4C323.6 152.4 323.8 153.4 323.7 154.3C323.6 155.3 323.2 156.2 323.0 157.1C322.7 158.1 322.4 159.0 322.2 160.0C321.9 160.9 321.4 161.9 321.3 162.9C321.2 164.0 321.8 165.1 321.7 166.2C321.6 167.2 321.2 168.1 320.8 169.0C320.5 169.9 319.8 170.7 319.6 171.5C319.4 172.3 319.7 173.2 319.7 173.9C319.7 174.5 319.6 175.3 319.6 175.5" stroke="#b9aea3" stroke-width="1.4" opacity="0.7"/>
<path d="M327.6 103.0L330.9 105.8M327.1 109.7L325.0 110.6M325.3 116.0L323.0 117.8M325.9 122.0L324.2 122.9M323.7 133.6L322.5 134.6M323.4 145.5L326.5 147.2M323.6 151.4L320.6 153.7M323.0 157.1L324.5 159.0M321.3 162.9L323.8 165.2M320.8 169.0L317.3 170.0M319.7 173.9L318.5 174.8" stroke="#b9aea3" stroke-width="0.8" opacity="0.49"/>
<path d="M329.9 95.5C329.9 95.8 330.3 96.6 330.2 97.4C330.2 98.1 329.5 99.1 329.6 100.0C329.8 100.9 330.7 101.8 331.1 102.9C331.5 103.9 332.0 105.0 331.9 106.1C331.9 107.2 330.8 108.5 330.9 109.7C330.9 110.8 332.3 111.8 332.4 112.9C332.6 114.0 332.0 115.0 331.9 116.1C331.8 117.1 331.9 118.0 331.9 119.0C331.9 120.0 331.7 121.0 331.7 122.0C331.7 123.0 331.8 124.1 331.8 125.1C331.8 126.1 331.9 127.1 331.7 128.1C331.5 129.1 330.8 130.0 330.7 131.0C330.6 132.0 331.2 133.0 331.0 134.0C330.9 134.9 330.1 135.6 329.9 136.6C329.7 137.6 330.4 138.9 330.0 139.9C329.7 140.9 328.2 141.8 327.8 142.8C327.4 143.8 327.7 145.0 327.6 146.0C327.5 147.0 327.5 148.1 327.2 149.0C326.9 149.8 326.0 150.4 325.7 151.1C325.5 151.8 325.8 152.7 325.8 153.0" stroke="#b9aea3" stroke-width="4.2" opacity="0.26" filter="url(#halo)"/>
<path d="M329.9 95.5C329.9 95.8 330.3 96.6 330.2 97.4C330.2 98.1 329.5 99.1 329.6 100.0C329.8 100.9 330.7 101.8 331.1 102.9C331.5 103.9 332.0 105.0 331.9 106.1C331.9 107.2 330.8 108.5 330.9 109.7C330.9 110.8 332.3 111.8 332.4 112.9C332.6 114.0 332.0 115.0 331.9 116.1C331.8 117.1 331.9 118.0 331.9 119.0C331.9 120.0 331.7 121.0 331.7 122.0C331.7 123.0 331.8 124.1 331.8 125.1C331.8 126.1 331.9 127.1 331.7 128.1C331.5 129.1 330.8 130.0 330.7 131.0C330.6 132.0 331.2 133.0 331.0 134.0C330.9 134.9 330.1 135.6 329.9 136.6C329.7 137.6 330.4 138.9 330.0 139.9C329.7 140.9 328.2 141.8 327.8 142.8C327.4 143.8 327.7 145.0 327.6 146.0C327.5 147.0 327.5 148.1 327.2 149.0C326.9 149.8 326.0 150.4 325.7 151.1C325.5 151.8 325.8 152.7 325.8 153.0" stroke="#b9aea3" stroke-width="1.3" opacity="0.65"/>
<path d="M330.9 109.7L334.0 111.7M331.9 116.1L328.4 118.3M331.7 122.0L328.5 124.4M331.7 128.1L330.2 128.9M330.0 139.9L327.5 140.7M327.6 146.0L330.3 148.5M325.7 151.1L327.3 153.4" stroke="#b9aea3" stroke-width="0.8" opacity="0.455"/>
<path d="M319.6 116.1C319.3 116.3 318.5 116.8 317.9 117.4C317.4 118.1 316.8 118.9 316.3 119.9C315.8 120.8 315.5 122.0 314.9 123.1C314.3 124.1 313.3 125.1 313.0 126.0C312.6 127.0 313.2 127.9 312.8 128.7C312.5 129.4 311.4 129.8 310.8 130.5C310.2 131.2 309.8 132.0 309.4 132.8C309.0 133.6 308.8 134.5 308.5 135.4C308.3 136.3 308.0 137.1 307.7 138.0C307.3 138.8 306.6 139.6 306.6 140.5C306.5 141.4 307.5 142.5 307.5 143.6C307.4 144.6 306.5 145.5 306.4 146.6C306.2 147.6 306.5 148.7 306.4 149.8C306.3 150.8 305.5 151.8 305.6 152.7C305.7 153.7 306.8 154.6 306.9 155.3C307.0 156.0 306.4 156.8 306.3 157.1" stroke="#b9aea3" stroke-width="3.8" opacity="0.24" filter="url(#halo)"/>
<path d="M319.6 116.1C319.3 116.3 318.5 116.8 317.9 117.4C317.4 118.1 316.8 118.9 316.3 119.9C315.8 120.8 315.5 122.0 314.9 123.1C314.3 124.1 313.3 125.1 313.0 126.0C312.6 127.0 313.2 127.9 312.8 128.7C312.5 129.4 311.4 129.8 310.8 130.5C310.2 131.2 309.8 132.0 309.4 132.8C309.0 133.6 308.8 134.5 308.5 135.4C308.3 136.3 308.0 137.1 307.7 138.0C307.3 138.8 306.6 139.6 306.6 140.5C306.5 141.4 307.5 142.5 307.5 143.6C307.4 144.6 306.5 145.5 306.4 146.6C306.2 147.6 306.5 148.7 306.4 149.8C306.3 150.8 305.5 151.8 305.6 152.7C305.7 153.7 306.8 154.6 306.9 155.3C307.0 156.0 306.4 156.8 306.3 157.1" stroke="#b9aea3" stroke-width="1.2" opacity="0.6"/>
<path d="M307.7 138.0L308.6 139.5M307.5 143.6L309.2 145.0M306.4 149.8L303.2 151.6M306.9 155.3L310.5 157.2" stroke="#b9aea3" stroke-width="0.7" opacity="0.42"/>
<path d="M303.2 116.1C303.2 116.4 303.4 117.2 303.5 118.1C303.5 118.9 303.3 119.9 303.4 121.0C303.5 122.0 303.7 123.1 304.0 124.2C304.4 125.3 305.3 126.4 305.5 127.4C305.7 128.4 305.4 129.3 305.2 130.4C305.0 131.5 304.4 132.7 304.4 133.9C304.4 135.1 305.3 136.4 305.3 137.5C305.4 138.6 304.7 139.7 304.6 140.6C304.4 141.4 304.3 142.4 304.2 142.7" stroke="#b9aea3" stroke-width="3.2" opacity="0.2" filter="url(#halo)"/>
<path d="M303.2 116.1C303.2 116.4 303.4 117.2 303.5 118.1C303.5 118.9 303.3 119.9 303.4 121.0C303.5 122.0 303.7 123.1 304.0 124.2C304.4 125.3 305.3 126.4 305.5 127.4C305.7 128.4 305.4 129.3 305.2 130.4C305.0 131.5 304.4 132.7 304.4 133.9C304.4 135.1 305.3 136.4 305.3 137.5C305.4 138.6 304.7 139.7 304.6 140.6C304.4 141.4 304.3 142.4 304.2 142.7" stroke="#b9aea3" stroke-width="1.0" opacity="0.5"/>
<path d="M304.0 124.2L302.4 126.5M305.3 137.5L303.1 139.2" stroke="#b9aea3" stroke-width="0.7" opacity="0.35"/>
<path d="M315.5 85.3C315.3 85.6 314.6 86.3 314.1 87.1C313.6 87.8 312.9 88.8 312.4 89.7C311.8 90.7 311.1 91.7 310.6 92.7C310.0 93.6 309.7 94.4 309.0 95.3C308.4 96.1 307.4 97.0 306.6 97.9C305.8 98.8 305.1 100.0 304.4 100.7C303.7 101.3 302.5 101.5 302.2 101.7" stroke="#b9aea3" stroke-width="3.2" opacity="0.2" filter="url(#halo)"/>
<path d="M315.5 85.3C315.3 85.6 314.6 86.3 314.1 87.1C313.6 87.8 312.9 88.8 312.4 89.7C311.8 90.7 311.1 91.7 310.6 92.7C310.0 93.6 309.7 94.4 309.0 95.3C308.4 96.1 307.4 97.0 306.6 97.9C305.8 98.8 305.1 100.0 304.4 100.7C303.7 101.3 302.5 101.5 302.2 101.7" stroke="#b9aea3" stroke-width="1.0" opacity="0.5"/>
<path d="M310.6 92.7L311.6 95.3M306.6 97.9L307.1 100.3" stroke="#b9aea3" stroke-width="0.7" opacity="0.35"/>
<path d="M336.0 101.7C336.3 102.1 336.9 103.4 337.7 104.2C338.5 105.1 339.8 106.3 340.9 107.0C342.0 107.6 343.2 108.6 344.2 108.4C345.3 108.1 346.4 106.3 347.4 105.5C348.4 104.7 349.9 104.0 350.4 103.7" stroke="#b9aea3" stroke-width="3.2" opacity="0.2" filter="url(#halo)"/>
<path d="M336.0 101.7C336.3 102.1 336.9 103.4 337.7 104.2C338.5 105.1 339.8 106.3 340.9 107.0C342.0 107.6 343.2 108.6 344.2 108.4C345.3 108.1 346.4 106.3 347.4 105.5C348.4 104.7 349.9 104.0 350.4 103.7" stroke="#b9aea3" stroke-width="1.0" opacity="0.5"/>
<path d="M346.3 144.8C346.4 144.4 346.8 143.4 347.3 142.7C347.7 141.9 348.5 141.2 349.1 140.5C349.7 139.8 350.7 139.3 351.1 138.6C351.5 138.0 351.4 136.9 351.4 136.6" stroke="#b9aea3" stroke-width="3.2" opacity="0.2" filter="url(#halo)"/>
<path d="M346.3 144.8C346.4 144.4 346.8 143.4 347.3 142.7C347.7 141.9 348.5 141.2 349.1 140.5C349.7 139.8 350.7 139.3 351.1 138.6C351.5 138.0 351.4 136.9 351.4 136.6" stroke="#b9aea3" stroke-width="1.0" opacity="0.5"/>
<path d="M327.8 82.2C327.8 82.5 327.7 83.3 327.6 84.0C327.6 84.8 327.4 85.7 327.5 86.6C327.7 87.6 328.4 88.6 328.5 89.7C328.5 90.7 327.9 91.7 327.8 92.7C327.7 93.7 328.1 94.5 327.9 95.6C327.7 96.6 327.0 97.8 326.9 99.0C326.8 100.1 327.5 101.5 327.4 102.6C327.2 103.8 326.5 104.8 326.2 105.7C326.0 106.5 325.8 107.5 325.8 107.8" stroke="#b9aea3" stroke-width="6.4" opacity="0.24" filter="url(#halo)"/>
<path d="M327.8 82.2C327.8 82.5 327.7 83.3 327.6 84.0C327.6 84.8 327.4 85.7 327.5 86.6C327.7 87.6 328.4 88.6 328.5 89.7C328.5 90.7 327.9 91.7 327.8 92.7C327.7 93.7 328.1 94.5 327.9 95.6C327.7 96.6 327.0 97.8 326.9 99.0C326.8 100.1 327.5 101.5 327.4 102.6C327.2 103.8 326.5 104.8 326.2 105.7C326.0 106.5 325.8 107.5 325.8 107.8" stroke="#b9aea3" stroke-width="2.0" opacity="0.6"/>
<path d="M328.5 89.7L326.3 91.5M327.4 102.6L325.0 104.1" stroke="#b9aea3" stroke-width="1.2" opacity="0.42"/>
<path d="M327.8 69.9C328.5 70.3 330.3 71.8 331.6 72.2C332.9 72.6 334.9 72.3 335.6 72.3" stroke="#c4d35c" stroke-width="0.9"/>
<path d="M330.1 71.3C330.3 71.4 330.7 72.0 331.6 72.2C332.5 72.4 334.9 72.3 335.6 72.3" stroke="#6aa52c" stroke-width="1.4"/>
<path d="M332.8 72.2C332.9 72.2 333.1 72.2 333.6 72.3C334.1 72.3 335.3 72.3 335.6 72.3" stroke="#6aa52c" stroke-width="4.2"/>
<path d="M327.8 69.9C327.5 70.7 326.0 73.1 325.8 74.5C325.6 76.0 326.4 78.1 326.5 78.8" stroke="#c4d35c" stroke-width="0.9"/>
<path d="M326.6 72.7C326.5 73.0 325.8 73.5 325.8 74.5C325.8 75.6 326.4 78.1 326.5 78.8" stroke="#478023" stroke-width="1.4"/>
<path d="M326.0 75.8C326.0 76.0 326.1 76.2 326.2 76.7C326.2 77.2 326.5 78.5 326.5 78.8" stroke="#478023" stroke-width="4.2"/>
<path d="M327.8 69.9C326.9 70.2 324.0 70.9 322.6 71.8C321.2 72.7 320.0 74.8 319.5 75.4" stroke="#c4d35c" stroke-width="0.9"/>
<path d="M324.7 71.0C324.3 71.2 323.4 71.1 322.6 71.8C321.7 72.5 320.0 74.8 319.5 75.4" stroke="#9cc537" stroke-width="1.4"/>
<path d="M321.7 72.9C321.5 73.0 321.4 73.2 321.0 73.6C320.7 74.0 319.8 75.1 319.5 75.4" stroke="#9cc537" stroke-width="4.2"/>
<path d="M327.8 69.9C327.2 69.2 325.6 66.9 324.2 66.0C322.8 65.1 320.3 64.8 319.5 64.5" stroke="#c4d35c" stroke-width="0.9"/>
<path d="M325.6 67.5C325.4 67.3 325.2 66.5 324.2 66.0C323.2 65.5 320.3 64.8 319.5 64.5" stroke="#6aa52c" stroke-width="1.4"/>
<path d="M322.8 65.5C322.6 65.5 322.4 65.4 321.8 65.3C321.3 65.1 319.9 64.7 319.5 64.5" stroke="#6aa52c" stroke-width="4.2"/>
<path d="M327.8 69.9C327.7 68.9 327.8 65.8 327.2 64.2C326.5 62.6 324.4 60.9 323.9 60.2" stroke="#c4d35c" stroke-width="0.9"/>
<path d="M327.4 66.5C327.4 66.1 327.8 65.2 327.2 64.2C326.6 63.2 324.4 60.9 323.9 60.2" stroke="#478023" stroke-width="1.4"/>
<path d="M326.2 63.0C326.1 62.9 325.9 62.7 325.5 62.2C325.1 61.7 324.1 60.5 323.9 60.2" stroke="#478023" stroke-width="4.2"/>
<path d="M327.8 69.9C328.4 69.5 330.5 68.4 331.4 67.5C332.2 66.6 332.7 64.8 332.9 64.3" stroke="#c4d35c" stroke-width="0.9"/>
<path d="M330.0 68.5C330.2 68.3 330.9 68.2 331.4 67.5C331.9 66.8 332.7 64.8 332.9 64.3" stroke="#9cc537" stroke-width="1.4"/>
<path d="M331.9 66.5C331.9 66.4 332.0 66.3 332.2 65.9C332.3 65.5 332.8 64.6 332.9 64.3" stroke="#9cc537" stroke-width="4.2"/>
<path d="M327.8 69.9C326.1 67.3 320.3 58.8 317.6 54.5C314.8 50.2 312.4 46.0 311.4 44.3" stroke="#c4d35c" stroke-width="0.9"/>
<path d="M321.7 60.7C321.0 59.6 319.3 57.2 317.6 54.5C315.9 51.8 312.4 46.0 311.4 44.3" stroke="#6aa52c" stroke-width="1.9"/>
<path d="M315.7 51.4C315.5 51.1 315.2 50.6 314.5 49.4C313.8 48.2 311.9 45.1 311.4 44.3" stroke="#6aa52c" stroke-width="5.4"/>
<path d="M327.8 69.9C328.2 68.0 329.4 61.5 329.9 58.6C330.4 55.7 330.7 53.5 330.9 52.5" stroke="#c4d35c" stroke-width="0.9"/>
<path d="M329.1 63.1C329.2 62.4 329.6 60.4 329.9 58.6C330.2 56.8 330.7 53.5 330.9 52.5" stroke="#6aa52c" stroke-width="1.7"/>
<path d="M330.2 56.8C330.2 56.6 330.3 56.3 330.4 55.5C330.5 54.8 330.8 53.0 330.9 52.5" stroke="#6aa52c" stroke-width="4.8"/>
<path d="M327.8 69.9C329.9 68.0 336.5 61.5 340.1 58.6C343.7 55.7 347.8 53.5 349.4 52.5" stroke="#c4d35c" stroke-width="0.9"/>
<path d="M335.2 63.1C336.0 62.4 337.8 60.4 340.1 58.6C342.5 56.8 347.8 53.5 349.4 52.5" stroke="#6aa52c" stroke-width="1.9"/>
<path d="M342.9 56.8C343.2 56.6 343.7 56.3 344.7 55.5C345.8 54.8 348.6 53.0 349.4 52.5" stroke="#6aa52c" stroke-width="5.4"/>
<path d="M328.8 69.9C331.1 70.8 338.6 72.1 342.2 75.0C345.8 77.9 349.0 85.3 350.4 87.3" stroke="#c4d35c" stroke-width="0.9"/>
<path d="M336.8 73.0C337.7 73.3 339.9 72.6 342.2 75.0C344.4 77.4 349.0 85.3 350.4 87.3" stroke="#478023" stroke-width="2.0"/>
<path d="M344.6 78.7C344.9 79.1 345.3 79.7 346.3 81.2C347.2 82.6 349.7 86.3 350.4 87.3" stroke="#478023" stroke-width="5.8"/>
<path d="M327.8 70.9C326.8 72.3 323.4 76.4 321.7 79.1C320.0 81.9 318.2 86.0 317.6 87.3" stroke="#c4d35c" stroke-width="0.9"/>
<path d="M324.1 75.8C323.7 76.4 322.8 77.2 321.7 79.1C320.6 81.0 318.2 86.0 317.6 87.3" stroke="#6aa52c" stroke-width="2.1"/>
<path d="M320.4 81.6C320.3 81.9 320.1 82.3 319.6 83.2C319.1 84.2 317.9 86.6 317.6 87.3" stroke="#6aa52c" stroke-width="6.1"/>
<path d="M326.8 70.5C324.6 70.8 317.7 71.2 313.5 71.9C309.2 72.7 303.2 74.5 301.2 75.0" stroke="#c4d35c" stroke-width="0.9"/>
<path d="M318.8 71.4C317.9 71.5 316.4 71.3 313.5 71.9C310.5 72.6 303.2 74.5 301.2 75.0" stroke="#9cc537" stroke-width="1.8"/>
<path d="M309.8 72.9C309.4 73.0 308.7 73.1 307.3 73.5C305.9 73.8 302.2 74.8 301.2 75.0" stroke="#9cc537" stroke-width="5.1"/>
<path d="M327.8 69.9C329.2 69.0 332.9 66.6 336.0 64.8C339.1 62.9 344.6 59.6 346.3 58.6" stroke="#c4d35c" stroke-width="0.9"/>
<path d="M332.7 66.8C333.3 66.5 333.8 66.1 336.0 64.8C338.3 63.4 344.6 59.6 346.3 58.6" stroke="#478023" stroke-width="1.4"/>
<path d="M339.1 62.9C339.4 62.7 340.0 62.4 341.2 61.7C342.4 61.0 345.4 59.1 346.3 58.6" stroke="#478023" stroke-width="4.2"/>
<path d="M327.8 69.9C325.8 69.4 318.9 67.7 315.5 66.8C312.1 66.0 308.7 65.1 307.3 64.8" stroke="#c4d35c" stroke-width="0.9"/>
<path d="M320.4 68.1C319.6 67.8 317.7 67.4 315.5 66.8C313.3 66.3 308.7 65.1 307.3 64.8" stroke="#6aa52c" stroke-width="1.3"/>
<path d="M313.1 66.2C312.8 66.1 312.4 66.0 311.4 65.8C310.5 65.6 308.0 64.9 307.3 64.8" stroke="#6aa52c" stroke-width="3.8"/>
<path d="M350.4 70.9C350.7 72.3 352.4 76.7 352.4 79.1C352.4 81.5 350.7 84.3 350.4 85.3" stroke="#c4d35c" stroke-width="0.9"/>
<path d="M351.6 75.8C351.8 76.4 352.6 77.6 352.4 79.1C352.2 80.7 350.7 84.3 350.4 85.3" stroke="#6aa52c" stroke-width="1.7"/>
<path d="M351.8 81.0C351.8 81.2 351.6 81.5 351.4 82.2C351.2 82.9 350.6 84.8 350.4 85.3" stroke="#6aa52c" stroke-width="4.8"/>
<circle cx="327.8" cy="69.9" r="1.1" fill="#c4d35c" stroke="none"/>
</g>
<rect x="347.1" y="191.0" width="3.6" height="21.2" fill="#fff"/>
</g>
<g clip-path="url(#cp6)">
<rect x="383.8" y="37.8" width="49.4" height="177.8" fill="url(#bg6)"/>
<ellipse cx="427.2" cy="177.6" rx="9.2" ry="14.4" fill="#6c4232" opacity="0.5625" filter="url(#blob)"/>
<ellipse cx="392.4" cy="48.4" rx="12.3" ry="12.3" fill="#6b6a6a" opacity="0.3375" filter="url(#blob)"/>
<ellipse cx="408.8" cy="66.3" rx="11.0" ry="6.0" fill="#4f8226" opacity="0.45" filter="url(#gblob)"/>
<g filter="url(#soft)" fill="none" stroke-linecap="round" stroke-linejoin="round">
<path d="M407.2 67.3C407.0 67.6 406.7 68.2 406.4 68.8C406.2 69.4 406.0 70.1 405.8 70.8C405.6 71.6 405.5 72.5 405.3 73.4C405.2 74.2 404.9 75.2 404.7 76.1C404.6 77.0 404.5 78.1 404.2 79.0C403.9 79.9 403.2 80.7 402.9 81.5C402.7 82.4 402.8 83.3 402.6 84.1C402.5 85.0 402.1 85.8 402.1 86.6C402.0 87.5 402.4 88.5 402.3 89.4C402.3 90.3 401.9 91.3 401.9 92.2C401.9 93.1 402.4 94.0 402.4 94.9C402.4 95.7 401.9 96.6 401.9 97.3C401.8 98.1 401.9 98.8 402.0 99.4C402.0 100.0 402.2 100.6 402.2 100.9" stroke="#d0c7b9" stroke-width="1.0" opacity="0.62"/>
<path d="M409.6 67.6C409.7 67.9 410.1 68.4 410.3 68.9C410.6 69.5 411.1 70.0 411.3 70.8C411.6 71.5 411.5 72.4 411.8 73.2C412.2 74.0 413.0 74.6 413.4 75.4C413.7 76.2 413.6 77.2 413.9 78.0C414.1 78.7 414.5 79.3 414.8 80.1C415.1 80.9 415.6 81.8 415.8 82.8C416.0 83.7 415.7 84.8 415.9 85.8C416.1 86.7 416.7 87.7 416.8 88.5C417.0 89.4 416.8 90.3 416.8 91.0C416.8 91.7 417.0 92.4 417.0 92.7" stroke="#d0c7b9" stroke-width="1.0" opacity="0.40"/>
<path d="M409.7 69.0C409.7 69.3 410.0 70.0 409.9 70.7C409.7 71.4 409.0 72.3 409.0 73.2C408.9 74.1 409.6 75.2 409.6 76.1C409.5 77.0 408.8 77.8 408.7 78.7C408.5 79.6 408.8 80.6 408.7 81.5C408.5 82.4 408.2 83.4 407.8 84.3C407.4 85.1 406.5 85.9 406.3 86.6C406.1 87.3 406.3 88.2 406.3 88.5" stroke="#d0c7b9" stroke-width="0.8" opacity="0.46"/>
<path d="M408.3 69.8C408.5 70.0 409.1 70.6 409.6 71.1C410.1 71.5 410.8 72.2 411.5 72.8C412.1 73.4 413.0 73.9 413.6 74.6C414.2 75.4 414.4 76.5 415.0 77.1C415.7 77.7 416.9 77.8 417.6 78.4C418.3 79.0 418.7 80.0 419.2 80.7C419.8 81.5 420.2 82.3 420.7 82.8C421.3 83.3 422.0 83.6 422.3 83.8" stroke="#d0c7b9" stroke-width="0.7" opacity="0.31"/>
<path d="M410.1 68.7C410.1 68.9 410.0 69.6 410.0 70.1C410.1 70.7 410.2 71.4 410.2 72.1C410.2 72.9 410.1 73.7 410.1 74.5C410.2 75.4 410.6 76.2 410.6 77.1C410.6 78.0 410.1 79.0 410.1 79.9C410.0 80.8 410.1 81.7 410.2 82.6C410.3 83.4 410.4 84.2 410.6 85.0C410.7 85.8 411.2 86.6 411.3 87.5C411.4 88.3 411.2 89.3 411.3 90.2C411.4 91.1 411.7 92.0 411.9 92.9C412.0 93.7 412.3 94.6 412.3 95.5C412.3 96.3 412.0 97.2 412.0 98.0C412.0 98.7 412.1 99.4 412.3 100.0C412.4 100.5 412.9 101.1 413.0 101.4" stroke="#d0c7b9" stroke-width="0.8" opacity="0.53"/>
<path d="M408.2 69.4C408.3 69.6 408.4 70.4 408.6 71.1C408.7 71.8 408.8 72.6 408.8 73.5C408.9 74.4 408.8 75.4 409.0 76.4C409.2 77.4 409.7 78.3 410.0 79.2C410.2 80.2 410.3 81.1 410.5 82.0C410.7 82.9 410.8 83.8 411.1 84.7C411.4 85.6 412.0 86.6 412.3 87.5C412.6 88.5 412.6 89.6 412.8 90.4C413.0 91.3 413.2 92.2 413.4 92.9C413.6 93.6 413.9 94.3 414.0 94.6" stroke="#d0c7b9" stroke-width="0.7" opacity="0.41"/>
<path d="M408.9 69.7C408.8 70.0 408.6 70.6 408.2 71.2C407.9 71.7 407.4 72.4 407.0 73.1C406.6 73.8 406.2 74.6 405.8 75.4C405.5 76.3 405.4 77.3 405.0 78.2C404.7 79.1 404.4 80.0 404.0 80.8C403.6 81.5 403.0 82.2 402.7 82.9C402.3 83.7 402.3 84.5 402.0 85.3C401.6 86.1 401.0 86.9 400.7 87.7C400.4 88.5 400.3 89.5 400.1 90.3C399.9 91.1 399.8 91.9 399.6 92.7C399.4 93.4 399.3 94.1 399.1 94.6C399.0 95.2 398.9 95.9 398.8 96.1" stroke="#d0c7b9" stroke-width="0.7" opacity="0.31"/>
<path d="M408.0 69.0C408.2 69.2 408.6 69.8 408.7 70.4C408.9 71.0 408.8 71.8 408.9 72.6C409.1 73.4 409.4 74.2 409.6 75.1C409.9 75.9 409.9 76.9 410.2 77.8C410.6 78.7 411.3 79.6 411.6 80.5C412.0 81.4 412.1 82.4 412.3 83.2C412.5 84.1 412.7 84.9 412.9 85.8C413.0 86.7 413.2 87.5 413.2 88.4C413.2 89.3 412.9 90.3 413.0 91.2C413.1 92.1 413.8 93.1 413.9 94.0C414.0 94.9 413.6 95.8 413.7 96.7C413.7 97.6 414.1 98.4 414.2 99.2C414.3 99.9 414.2 100.6 414.2 101.2C414.2 101.8 414.2 102.5 414.1 102.8" stroke="#d0c7b9" stroke-width="0.8" opacity="0.41"/>
<path d="M408.0 69.8C408.1 70.0 408.4 70.7 408.4 71.2C408.3 71.8 407.9 72.4 407.8 73.1C407.7 73.8 407.9 74.6 407.8 75.4C407.8 76.1 407.5 77.0 407.5 77.8C407.6 78.7 408.1 79.6 408.2 80.4C408.3 81.2 408.3 82.1 408.2 82.9C408.1 83.7 407.8 84.5 407.7 85.3C407.6 86.0 407.7 86.8 407.7 87.6C407.8 88.4 408.0 89.3 408.0 90.1C408.0 91.0 407.6 91.8 407.6 92.7C407.6 93.5 407.9 94.4 407.8 95.2C407.8 96.0 407.4 96.7 407.4 97.4C407.4 98.1 408.0 98.8 408.0 99.3C408.0 99.9 407.7 100.5 407.6 100.7" stroke="#d0c7b9" stroke-width="0.9" opacity="0.34"/>
<path d="M408.0 69.6C408.0 69.9 407.7 70.7 408.0 71.3C408.2 72.0 409.3 72.6 409.5 73.4C409.7 74.2 409.3 75.3 409.4 76.1C409.6 76.9 410.4 77.6 410.5 78.4C410.6 79.2 409.9 80.1 410.1 80.9C410.2 81.7 411.2 82.5 411.3 83.3C411.4 84.1 410.7 85.0 410.7 85.7C410.7 86.3 411.1 87.0 411.2 87.2" stroke="#d0c7b9" stroke-width="1.0" opacity="0.35"/>
<path d="M407.6 68.1C407.9 68.3 408.5 68.8 409.0 69.3C409.6 69.8 410.2 70.6 410.8 71.3C411.4 72.0 412.2 72.7 412.9 73.4C413.5 74.1 414.1 74.8 414.6 75.5C415.2 76.2 415.7 76.8 416.2 77.5C416.7 78.2 417.0 79.2 417.5 79.8C418.0 80.5 418.8 81.0 419.2 81.5C419.5 82.1 419.7 82.8 419.9 83.0" stroke="#d0c7b9" stroke-width="0.6" opacity="0.36"/>
<path d="M408.4 68.8C408.4 69.0 408.7 69.6 408.8 70.2C409.0 70.8 409.0 71.5 409.2 72.2C409.4 72.9 409.5 73.8 409.9 74.5C410.2 75.3 411.0 76.0 411.4 76.8C411.7 77.6 411.6 78.7 411.9 79.5C412.1 80.4 412.5 81.2 412.9 82.0C413.2 82.9 413.4 83.6 413.8 84.4C414.2 85.1 414.8 85.8 415.3 86.5C415.7 87.3 416.1 88.2 416.4 89.0C416.8 89.9 417.0 90.9 417.2 91.8C417.5 92.6 417.6 93.6 418.0 94.4C418.4 95.2 419.1 95.8 419.5 96.5C419.8 97.1 419.9 97.9 420.1 98.5C420.3 99.0 420.6 99.6 420.7 99.9" stroke="#d0c7b9" stroke-width="0.8" opacity="0.42"/>
<path d="M407.9 68.6C408.0 68.9 408.4 69.4 408.5 70.0C408.6 70.6 408.3 71.4 408.4 72.2C408.5 73.0 409.0 73.8 409.2 74.6C409.4 75.4 409.7 76.3 409.8 77.2C409.9 78.1 409.9 79.0 409.9 79.9C410.0 80.8 410.1 81.5 410.2 82.3C410.3 83.2 410.3 83.9 410.4 84.8C410.4 85.6 410.4 86.5 410.4 87.4C410.5 88.3 410.6 89.2 410.6 90.1C410.6 90.9 410.6 91.8 410.5 92.5C410.4 93.3 410.1 94.0 410.0 94.6C410.0 95.2 410.2 95.8 410.2 96.1" stroke="#d0c7b9" stroke-width="0.7" opacity="0.53"/>
<path d="M408.1 68.3C408.0 68.5 407.9 69.1 407.9 69.6C407.8 70.2 407.7 70.8 407.7 71.5C407.8 72.1 407.9 72.9 408.0 73.7C408.0 74.4 407.9 75.3 407.9 76.1C408.0 76.9 408.1 77.8 408.0 78.7C407.9 79.5 407.3 80.4 407.3 81.3C407.2 82.1 407.7 83.0 407.8 83.9C407.9 84.7 407.8 85.5 407.7 86.2C407.6 87.0 407.4 87.8 407.2 88.6C407.0 89.4 406.9 90.3 406.7 91.2C406.5 92.0 406.2 92.9 406.0 93.8C405.8 94.6 405.6 95.5 405.5 96.4C405.3 97.2 405.2 98.1 405.0 98.8C404.8 99.6 404.4 100.3 404.2 101.0C404.0 101.6 403.9 102.3 403.8 102.8C403.6 103.3 403.3 103.9 403.2 104.2" stroke="#d0c7b9" stroke-width="0.8" opacity="0.56"/>
<path d="M407.3 68.5C407.3 68.7 407.1 69.4 407.2 70.0C407.3 70.6 407.7 71.2 407.9 71.9C408.1 72.6 408.2 73.4 408.4 74.2C408.5 75.0 408.5 75.9 408.8 76.7C409.1 77.5 409.7 78.3 410.0 79.2C410.2 80.0 410.0 81.0 410.0 81.8C410.0 82.6 410.0 83.4 410.0 84.2C410.0 85.0 410.1 85.7 410.2 86.5C410.2 87.4 410.3 88.2 410.4 89.1C410.5 90.0 410.7 90.9 410.7 91.7C410.7 92.6 410.5 93.4 410.3 94.2C410.1 95.0 409.5 95.7 409.5 96.5C409.5 97.2 410.2 97.9 410.3 98.4C410.3 99.0 409.8 99.6 409.8 99.8" stroke="#d0c7b9" stroke-width="0.7" opacity="0.58"/>
<path d="M407.9 69.3C408.0 69.5 408.5 70.0 408.7 70.6C408.9 71.2 408.7 72.0 408.9 72.8C409.0 73.5 409.4 74.3 409.7 75.1C410.0 75.9 410.4 76.8 410.7 77.6C411.1 78.5 411.6 79.3 411.8 80.2C412.0 81.1 411.9 82.2 412.1 83.0C412.2 83.9 412.5 84.7 412.7 85.5C413.0 86.3 413.4 87.0 413.6 87.9C413.9 88.7 414.0 89.6 414.2 90.5C414.5 91.4 414.8 92.3 415.1 93.1C415.3 94.0 415.7 94.8 415.8 95.7C416.0 96.5 415.9 97.4 415.9 98.1C416.0 98.8 416.0 99.5 416.1 100.1C416.2 100.7 416.4 101.3 416.5 101.6" stroke="#d0c7b9" stroke-width="0.7" opacity="0.44"/>
<path d="M406.4 68.8C406.6 69.1 406.8 70.0 407.4 70.5C408.0 71.1 409.1 71.4 409.9 72.1C410.6 72.7 411.5 73.5 412.1 74.3C412.7 75.2 412.8 76.5 413.4 77.2C414.1 77.9 415.1 77.9 415.8 78.4C416.5 78.9 417.2 79.5 417.7 80.2C418.3 80.9 418.7 81.8 419.2 82.4C419.8 83.0 420.6 83.3 421.1 83.7C421.6 84.1 422.0 84.7 422.1 84.9" stroke="#d0c7b9" stroke-width="0.7" opacity="0.34"/>
<path d="M410.7 66.8C410.7 67.1 410.5 67.7 410.6 68.3C410.6 68.8 410.8 69.4 411.0 70.1C411.1 70.7 411.2 71.4 411.5 72.2C411.8 72.9 412.6 73.5 412.8 74.3C413.1 75.1 412.8 76.1 412.9 76.9C413.1 77.8 413.5 78.6 413.7 79.4C413.9 80.2 414.0 81.1 414.2 81.9C414.5 82.6 414.9 83.3 415.2 84.0C415.5 84.8 415.6 85.5 415.8 86.3C416.0 87.1 416.0 88.0 416.3 88.8C416.5 89.7 417.0 90.5 417.2 91.3C417.5 92.1 417.5 93.0 417.8 93.8C418.0 94.6 418.6 95.3 418.9 96.0C419.2 96.8 419.4 97.5 419.5 98.2C419.6 98.9 419.4 99.6 419.5 100.1C419.6 100.7 420.0 101.2 420.1 101.4" stroke="#d0c7b9" stroke-width="1.0" opacity="0.35"/>
<path d="M407.0 68.6C407.1 68.8 407.5 69.4 407.9 69.9C408.2 70.4 408.6 71.0 409.2 71.5C409.8 72.0 410.9 72.3 411.4 72.9C412.0 73.6 412.0 74.8 412.6 75.5C413.2 76.1 414.4 76.4 414.9 77.0C415.4 77.6 415.4 78.4 415.9 79.1C416.3 79.8 417.3 80.3 417.6 81.0C418.0 81.8 417.8 82.9 418.1 83.7C418.5 84.5 419.3 85.1 419.6 85.8C419.9 86.6 419.7 87.4 419.8 88.0C420.0 88.6 420.4 89.1 420.6 89.4" stroke="#d0c7b9" stroke-width="0.8" opacity="0.51"/>
<path d="M407.5 67.4C407.6 67.7 407.9 68.3 408.0 69.0C408.0 69.7 407.8 70.7 407.9 71.6C408.0 72.4 408.2 73.4 408.4 74.2C408.6 75.1 409.1 76.0 409.1 76.8C409.0 77.6 408.3 78.4 408.0 79.3C407.8 80.1 407.7 81.1 407.6 82.0C407.5 82.9 407.6 83.9 407.4 84.6C407.2 85.3 406.6 85.9 406.5 86.2" stroke="#d0c7b9" stroke-width="1.0" opacity="0.34"/>
<path d="M407.8 69.6C407.9 69.9 407.7 70.6 407.9 71.3C408.1 71.9 408.6 72.6 408.8 73.4C409.1 74.2 409.2 75.1 409.3 76.0C409.4 77.0 409.3 78.0 409.5 79.0C409.7 79.9 410.4 80.8 410.6 81.7C410.7 82.6 410.4 83.6 410.4 84.5C410.5 85.4 410.7 86.3 411.1 87.2C411.4 88.1 412.2 88.9 412.5 89.9C412.8 90.8 412.4 91.9 412.6 92.9C412.8 93.8 413.3 94.7 413.5 95.5C413.7 96.3 413.8 97.1 413.9 97.8C414.1 98.4 414.4 99.1 414.5 99.3" stroke="#d0c7b9" stroke-width="0.7" opacity="0.43"/>
<path d="M406.4 67.7C406.4 67.9 406.6 68.7 406.7 69.4C406.9 70.1 407.2 71.0 407.4 71.9C407.6 72.8 407.6 73.8 407.9 74.7C408.1 75.5 408.8 76.3 409.0 77.2C409.3 78.0 409.3 78.9 409.2 79.8C409.1 80.7 408.4 81.6 408.2 82.5C408.1 83.4 408.5 84.3 408.4 85.0C408.4 85.7 408.1 86.4 408.1 86.7" stroke="#d0c7b9" stroke-width="1.0" opacity="0.41"/>
<path d="M408.9 69.9C408.8 70.2 408.6 71.1 408.3 71.8C408.0 72.5 407.5 73.4 407.0 74.3C406.4 75.1 405.6 75.9 405.1 76.8C404.7 77.7 404.6 78.7 404.4 79.6C404.1 80.5 403.9 81.3 403.6 82.2C403.3 83.1 402.9 84.1 402.6 84.9C402.4 85.8 402.3 86.7 402.1 87.4C402.0 88.1 401.8 88.8 401.7 89.1" stroke="#d0c7b9" stroke-width="0.7" opacity="0.42"/>
<path d="M406.7 69.0C406.8 69.3 406.8 70.0 406.9 70.6C407.1 71.2 407.4 71.9 407.5 72.7C407.6 73.5 407.3 74.4 407.4 75.3C407.6 76.1 408.2 77.0 408.3 77.8C408.5 78.6 408.3 79.4 408.3 80.2C408.3 81.1 408.5 81.8 408.5 82.7C408.5 83.5 408.5 84.4 408.3 85.3C408.2 86.1 407.6 87.0 407.6 87.7C407.6 88.5 408.2 89.3 408.3 90.0C408.3 90.6 407.8 91.2 407.8 91.5" stroke="#d0c7b9" stroke-width="0.7" opacity="0.37"/>
<path d="M409.2 69.7C409.3 70.0 409.6 70.6 410.0 71.2C410.4 71.8 411.0 72.5 411.6 73.3C412.1 74.0 412.8 74.8 413.3 75.6C413.8 76.5 413.9 77.7 414.4 78.6C414.9 79.4 415.8 80.1 416.3 80.8C416.9 81.5 417.2 82.1 417.7 82.8C418.1 83.5 418.6 84.3 419.0 85.0C419.5 85.8 420.0 86.6 420.4 87.3C420.8 88.1 421.1 88.9 421.5 89.5C422.0 90.1 422.8 90.4 423.2 90.9C423.6 91.3 423.9 91.9 424.0 92.1" stroke="#d0c7b9" stroke-width="1.0" opacity="0.54"/>
<path d="M410.1 67.0C410.2 67.3 410.6 67.9 410.7 68.4C410.8 68.9 410.7 69.5 410.7 70.2C410.7 70.9 410.6 71.6 410.6 72.4C410.6 73.2 410.4 74.0 410.5 74.9C410.6 75.7 411.0 76.5 411.2 77.4C411.3 78.2 411.3 79.1 411.3 80.0C411.3 80.8 411.4 81.7 411.3 82.5C411.2 83.3 410.7 84.1 410.7 84.9C410.7 85.6 411.3 86.4 411.2 87.2C411.1 88.1 410.6 88.9 410.4 89.7C410.2 90.6 410.2 91.4 410.2 92.3C410.2 93.2 410.4 94.1 410.4 94.9C410.3 95.8 409.8 96.5 409.6 97.3C409.5 98.1 409.5 98.8 409.4 99.5C409.3 100.2 409.3 100.8 409.2 101.3C409.1 101.9 409.0 102.5 408.9 102.7" stroke="#d0c7b9" stroke-width="0.9" opacity="0.45"/>
<path d="M413.9 72.2C414.0 72.5 414.2 73.2 414.3 73.9C414.4 74.6 414.3 75.5 414.5 76.4C414.8 77.2 415.6 78.1 415.9 79.0C416.2 80.0 416.1 81.1 416.3 82.0C416.5 82.9 417.0 83.8 417.1 84.7C417.2 85.6 416.8 86.5 416.9 87.5C417.0 88.4 417.5 89.4 417.6 90.4C417.8 91.3 417.8 92.3 417.7 93.2C417.7 94.1 417.4 94.9 417.4 95.6C417.4 96.3 417.8 97.0 417.8 97.3" stroke="#e6dfd2" stroke-width="1.0" opacity="0.51"/>
<path d="M414.2 70.5C414.1 70.7 413.9 71.3 413.8 71.8C413.7 72.3 413.3 72.9 413.4 73.6C413.4 74.2 413.9 75.0 414.0 75.8C414.0 76.6 414.0 77.4 413.7 78.2C413.5 79.0 412.6 79.8 412.4 80.6C412.3 81.4 412.8 82.4 412.8 83.2C412.8 84.1 412.8 84.9 412.6 85.7C412.5 86.5 412.2 87.2 412.1 88.0C412.0 88.8 411.9 89.8 411.8 90.7C411.7 91.6 411.5 92.6 411.4 93.5C411.4 94.5 411.4 95.5 411.4 96.4C411.3 97.4 411.3 98.4 411.3 99.3C411.2 100.2 410.9 101.0 410.9 101.8C410.9 102.6 411.3 103.4 411.3 104.0C411.3 104.6 411.0 105.3 410.9 105.6" stroke="#e6dfd2" stroke-width="0.9" opacity="0.53"/>
<path d="M413.6 71.9C413.7 72.1 414.1 72.7 414.2 73.3C414.3 73.9 414.1 74.7 414.3 75.5C414.4 76.3 415.1 77.0 415.3 77.9C415.4 78.7 414.8 79.8 415.0 80.7C415.1 81.6 415.9 82.4 416.1 83.2C416.3 84.1 416.2 84.9 416.2 85.7C416.1 86.6 416.0 87.4 416.0 88.2C416.0 89.1 415.9 90.0 415.9 90.9C416.0 91.8 416.2 92.7 416.2 93.5C416.3 94.4 416.1 95.3 416.1 96.0C416.1 96.8 416.2 97.5 416.2 98.1C416.2 98.7 416.2 99.4 416.2 99.6" stroke="#e6dfd2" stroke-width="0.9" opacity="0.42"/>
<path d="M412.5 70.7C412.5 70.9 412.1 71.6 412.1 72.3C412.1 72.9 412.7 73.8 412.7 74.6C412.6 75.4 411.7 76.3 411.6 77.2C411.5 78.1 411.8 79.2 411.9 80.1C412.0 81.1 412.1 82.1 412.1 83.0C412.1 84.0 412.1 84.8 412.1 85.7C412.1 86.6 411.9 87.5 411.9 88.4C412.0 89.3 412.2 90.3 412.3 91.3C412.4 92.3 412.5 93.3 412.6 94.2C412.8 95.2 412.9 96.1 413.2 96.9C413.5 97.7 414.2 98.4 414.4 99.0C414.6 99.7 414.3 100.5 414.3 100.7" stroke="#e6dfd2" stroke-width="1.1" opacity="0.60"/>
<path d="M412.1 70.9C412.2 71.1 412.6 71.7 412.8 72.2C413.0 72.8 413.2 73.4 413.3 74.2C413.3 74.9 413.1 75.8 413.2 76.6C413.4 77.4 413.8 78.2 414.1 79.0C414.4 79.8 414.8 80.6 415.0 81.4C415.2 82.2 415.3 82.9 415.5 83.7C415.7 84.6 415.7 85.6 415.9 86.5C416.2 87.5 416.6 88.5 416.8 89.5C417.0 90.4 416.9 91.5 417.1 92.4C417.3 93.3 418.0 94.1 418.2 94.8C418.4 95.4 418.2 96.3 418.2 96.6" stroke="#e6dfd2" stroke-width="1.1" opacity="0.49"/>
<path d="M411.6 71.6C411.6 71.8 411.6 72.5 411.6 73.1C411.6 73.7 411.8 74.4 411.6 75.1C411.5 75.8 410.9 76.6 410.7 77.4C410.6 78.3 410.8 79.2 410.8 80.1C410.7 81.0 410.7 82.0 410.6 82.9C410.5 83.8 410.4 84.7 410.2 85.5C410.1 86.4 410.0 87.2 409.9 88.0C409.8 88.9 409.8 89.7 409.9 90.6C410.0 91.4 410.4 92.4 410.3 93.3C410.2 94.2 409.3 95.1 409.3 96.0C409.2 96.9 409.9 97.8 410.0 98.7C410.1 99.5 409.9 100.3 409.9 101.1C409.8 101.8 409.8 102.5 409.7 103.1C409.6 103.7 409.4 104.3 409.3 104.6" stroke="#e6dfd2" stroke-width="0.8" opacity="0.62"/>
<path d="M413.0 70.9C413.1 71.1 413.3 71.9 413.2 72.5C413.0 73.1 412.5 73.8 412.2 74.6C411.9 75.4 411.5 76.2 411.4 77.1C411.3 78.0 411.9 79.1 411.7 80.0C411.6 80.9 410.7 81.8 410.6 82.7C410.4 83.5 410.9 84.5 410.9 85.3C410.9 86.2 410.6 87.0 410.4 87.9C410.2 88.7 409.7 89.7 409.6 90.6C409.6 91.5 410.1 92.5 410.0 93.4C410.0 94.3 409.5 95.1 409.5 95.9C409.5 96.7 410.0 97.5 410.0 98.1C409.9 98.8 409.5 99.4 409.4 99.7" stroke="#e6dfd2" stroke-width="0.8" opacity="0.30"/>
<path d="M410.9 71.2C411.0 71.4 411.4 71.9 411.6 72.5C411.9 73.0 412.2 73.6 412.3 74.3C412.5 74.9 412.3 75.8 412.5 76.6C412.6 77.4 413.0 78.2 413.3 79.0C413.5 79.8 413.7 80.7 414.0 81.5C414.3 82.3 414.7 83.0 414.9 83.8C415.2 84.6 415.3 85.3 415.4 86.1C415.5 86.9 415.4 87.9 415.5 88.9C415.6 89.8 415.8 90.8 416.1 91.7C416.4 92.6 416.9 93.6 417.1 94.5C417.3 95.4 417.3 96.3 417.5 97.1C417.6 98.0 417.9 98.7 418.0 99.4C418.0 100.0 417.8 100.8 417.8 101.0" stroke="#e6dfd2" stroke-width="0.9" opacity="0.39"/>
<path d="M409.8 70.9C410.0 71.1 410.4 71.5 410.7 72.0C410.9 72.5 411.1 73.1 411.3 73.8C411.4 74.5 411.3 75.4 411.6 76.1C411.8 76.8 412.7 77.4 412.9 78.2C413.2 79.0 412.9 80.1 413.1 80.9C413.3 81.8 413.7 82.6 414.0 83.4C414.3 84.2 414.6 85.0 414.9 85.8C415.2 86.5 415.6 87.1 415.8 87.9C416.0 88.7 415.9 89.7 416.1 90.6C416.3 91.5 417.0 92.3 417.3 93.3C417.5 94.2 417.3 95.2 417.4 96.2C417.6 97.1 418.0 98.0 418.1 98.9C418.3 99.7 418.4 100.6 418.4 101.4C418.4 102.1 418.2 102.9 418.3 103.5C418.4 104.1 418.9 104.8 419.0 105.0" stroke="#e6dfd2" stroke-width="0.8" opacity="0.56"/>
<path d="M410.5 72.7C410.5 72.9 410.5 73.6 410.5 74.1C410.4 74.7 410.3 75.4 410.3 76.1C410.2 76.8 410.2 77.6 410.2 78.4C410.1 79.2 410.1 80.1 410.0 81.0C409.9 81.8 409.8 82.7 409.7 83.6C409.6 84.5 409.4 85.4 409.4 86.2C409.4 87.0 409.6 87.8 409.6 88.6C409.6 89.4 409.4 90.2 409.3 91.0C409.3 91.9 409.4 92.8 409.5 93.7C409.5 94.5 409.5 95.4 409.4 96.3C409.4 97.2 409.1 98.0 409.0 98.8C408.8 99.7 408.7 100.4 408.7 101.2C408.7 101.9 409.0 102.6 409.0 103.1C409.1 103.7 409.0 104.3 409.0 104.6" stroke="#e6dfd2" stroke-width="1.1" opacity="0.58"/>
<path d="M398.5 73.0C398.4 73.4 398.3 74.4 398.0 75.3C397.7 76.2 397.0 77.2 396.5 78.3C395.9 79.3 395.1 80.5 394.7 81.6C394.2 82.8 394.1 84.1 394.0 85.2C393.9 86.3 394.2 87.2 394.2 88.3C394.2 89.3 393.9 90.5 394.0 91.6C394.1 92.7 394.7 93.8 394.9 94.8C395.1 95.8 395.2 96.8 395.3 97.6C395.4 98.4 395.4 99.3 395.4 99.6" stroke="#b9aea3" stroke-width="5.1" opacity="0.28" filter="url(#halo)"/>
<path d="M398.5 73.0C398.4 73.4 398.3 74.4 398.0 75.3C397.7 76.2 397.0 77.2 396.5 78.3C395.9 79.3 395.1 80.5 394.7 81.6C394.2 82.8 394.1 84.1 394.0 85.2C393.9 86.3 394.2 87.2 394.2 88.3C394.2 89.3 393.9 90.5 394.0 91.6C394.1 92.7 394.7 93.8 394.9 94.8C395.1 95.8 395.2 96.8 395.3 97.6C395.4 98.4 395.4 99.3 395.4 99.6" stroke="#b9aea3" stroke-width="1.7" opacity="0.7"/>
<path d="M394.7 81.6L392.5 82.3M394.0 91.6L395.6 92.6" stroke="#b9aea3" stroke-width="1.0" opacity="0.49"/>
<path d="M404.7 75.0C404.6 75.3 404.2 76.1 404.0 76.9C403.9 77.6 403.8 78.4 403.9 79.4C403.9 80.3 404.4 81.3 404.4 82.4C404.5 83.4 404.2 84.6 404.2 85.7C404.1 86.8 403.8 88.0 404.0 89.1C404.1 90.2 404.9 91.3 405.0 92.4C405.2 93.5 405.1 94.5 405.1 95.5C405.0 96.5 404.5 97.3 404.5 98.2C404.5 99.1 404.6 99.9 405.0 100.8C405.3 101.6 406.3 102.3 406.5 103.1C406.7 104.0 406.1 105.0 406.1 105.9C406.1 106.8 406.2 107.7 406.5 108.5C406.8 109.3 407.9 110.0 408.2 110.8C408.4 111.7 408.0 112.6 408.0 113.5C408.0 114.4 407.9 115.3 408.1 116.2C408.3 117.1 408.7 118.1 409.1 119.0C409.4 119.9 409.8 120.9 410.1 121.8C410.4 122.7 410.7 123.7 410.9 124.6C411.0 125.6 410.9 126.6 411.0 127.6C411.1 128.6 411.5 129.5 411.6 130.5C411.7 131.5 411.7 132.5 411.7 133.5C411.7 134.5 411.3 135.6 411.3 136.6C411.4 137.6 411.9 138.4 412.1 139.4C412.2 140.4 412.2 141.5 412.3 142.6C412.4 143.7 412.6 144.8 412.7 145.9C412.8 146.9 412.7 148.1 412.8 149.1C412.9 150.2 413.0 151.2 413.1 152.2C413.2 153.2 413.4 154.1 413.4 155.0C413.3 155.9 412.8 156.7 412.7 157.4C412.6 158.1 412.8 158.8 412.9 159.1" stroke="#b9aea3" stroke-width="3.9" opacity="0.3" filter="url(#halo)"/>
<path d="M404.7 75.0C404.6 75.3 404.2 76.1 404.0 76.9C403.9 77.6 403.8 78.4 403.9 79.4C403.9 80.3 404.4 81.3 404.4 82.4C404.5 83.4 404.2 84.6 404.2 85.7C404.1 86.8 403.8 88.0 404.0 89.1C404.1 90.2 404.9 91.3 405.0 92.4C405.2 93.5 405.1 94.5 405.1 95.5C405.0 96.5 404.5 97.3 404.5 98.2C404.5 99.1 404.6 99.9 405.0 100.8C405.3 101.6 406.3 102.3 406.5 103.1C406.7 104.0 406.1 105.0 406.1 105.9C406.1 106.8 406.2 107.7 406.5 108.5C406.8 109.3 407.9 110.0 408.2 110.8C408.4 111.7 408.0 112.6 408.0 113.5C408.0 114.4 407.9 115.3 408.1 116.2C408.3 117.1 408.7 118.1 409.1 119.0C409.4 119.9 409.8 120.9 410.1 121.8C410.4 122.7 410.7 123.7 410.9 124.6C411.0 125.6 410.9 126.6 411.0 127.6C411.1 128.6 411.5 129.5 411.6 130.5C411.7 131.5 411.7 132.5 411.7 133.5C411.7 134.5 411.3 135.6 411.3 136.6C411.4 137.6 411.9 138.4 412.1 139.4C412.2 140.4 412.2 141.5 412.3 142.6C412.4 143.7 412.6 144.8 412.7 145.9C412.8 146.9 412.7 148.1 412.8 149.1C412.9 150.2 413.0 151.2 413.1 152.2C413.2 153.2 413.4 154.1 413.4 155.0C413.3 155.9 412.8 156.7 412.7 157.4C412.6 158.1 412.8 158.8 412.9 159.1" stroke="#b9aea3" stroke-width="1.3" opacity="0.75"/>
<path d="M405.0 92.4L406.4 93.1M405.0 100.8L403.8 102.8M411.7 133.5L413.0 134.6M412.3 142.6L411.4 143.4M413.1 152.2L414.5 153.1" stroke="#b9aea3" stroke-width="0.8" opacity="0.525"/>
<path d="M412.9 103.7C412.8 104.0 412.4 104.7 412.3 105.4C412.3 106.1 412.6 107.0 412.4 107.9C412.2 108.7 411.4 109.6 411.2 110.6C411.0 111.6 411.3 112.7 411.2 113.7C411.0 114.8 410.3 115.9 410.4 116.9C410.4 118.0 411.2 119.2 411.3 120.2C411.4 121.2 411.1 122.0 411.1 123.0C411.1 124.1 411.3 125.2 411.3 126.3C411.4 127.4 411.2 128.6 411.3 129.7C411.4 130.9 411.9 132.0 411.8 133.1C411.8 134.1 410.9 135.3 411.0 136.2C411.0 137.2 411.8 138.0 412.0 138.8C412.1 139.5 411.9 140.3 411.8 140.7" stroke="#b9aea3" stroke-width="3.9" opacity="0.28" filter="url(#halo)"/>
<path d="M412.9 103.7C412.8 104.0 412.4 104.7 412.3 105.4C412.3 106.1 412.6 107.0 412.4 107.9C412.2 108.7 411.4 109.6 411.2 110.6C411.0 111.6 411.3 112.7 411.2 113.7C411.0 114.8 410.3 115.9 410.4 116.9C410.4 118.0 411.2 119.2 411.3 120.2C411.4 121.2 411.1 122.0 411.1 123.0C411.1 124.1 411.3 125.2 411.3 126.3C411.4 127.4 411.2 128.6 411.3 129.7C411.4 130.9 411.9 132.0 411.8 133.1C411.8 134.1 410.9 135.3 411.0 136.2C411.0 137.2 411.8 138.0 412.0 138.8C412.1 139.5 411.9 140.3 411.8 140.7" stroke="#b9aea3" stroke-width="1.3" opacity="0.7"/>
<path d="M411.2 110.6L411.9 111.4M411.3 120.2L412.7 121.0" stroke="#b9aea3" stroke-width="0.8" opacity="0.49"/>
<path d="M386.2 69.9C386.6 69.8 387.5 69.4 388.4 69.3C389.3 69.2 390.5 69.1 391.7 69.2C392.9 69.3 394.2 69.8 395.3 69.8C396.5 69.8 397.4 69.6 398.6 69.4C399.8 69.2 401.2 69.0 402.5 68.7C403.7 68.4 405.1 67.7 406.1 67.6C407.2 67.4 408.3 67.8 408.8 67.8" stroke="#b9aea3" stroke-width="3.0" opacity="0.24" filter="url(#halo)"/>
<path d="M386.2 69.9C386.6 69.8 387.5 69.4 388.4 69.3C389.3 69.2 390.5 69.1 391.7 69.2C392.9 69.3 394.2 69.8 395.3 69.8C396.5 69.8 397.4 69.6 398.6 69.4C399.8 69.2 401.2 69.0 402.5 68.7C403.7 68.4 405.1 67.7 406.1 67.6C407.2 67.4 408.3 67.8 408.8 67.8" stroke="#b9aea3" stroke-width="1.0" opacity="0.6"/>
<path d="M395.3 69.8L396.3 68.5M406.1 67.6L406.7 66.8" stroke="#b9aea3" stroke-width="0.7" opacity="0.42"/>
<path d="M422.1 70.9C422.1 71.3 421.9 72.3 422.2 72.9C422.6 73.6 423.7 74.2 424.3 75.0C424.9 75.8 425.5 76.8 425.8 77.9C426.0 78.9 425.6 80.3 425.7 81.3C425.9 82.4 426.4 83.1 426.8 84.0C427.2 85.0 427.9 86.1 428.1 87.2C428.3 88.3 428.0 89.6 428.2 90.7C428.3 91.7 428.8 92.7 429.0 93.5C429.1 94.3 429.2 95.2 429.3 95.5" stroke="#b9aea3" stroke-width="4.2" opacity="0.24" filter="url(#halo)"/>
<path d="M422.1 70.9C422.1 71.3 421.9 72.3 422.2 72.9C422.6 73.6 423.7 74.2 424.3 75.0C424.9 75.8 425.5 76.8 425.8 77.9C426.0 78.9 425.6 80.3 425.7 81.3C425.9 82.4 426.4 83.1 426.8 84.0C427.2 85.0 427.9 86.1 428.1 87.2C428.3 88.3 428.0 89.6 428.2 90.7C428.3 91.7 428.8 92.7 429.0 93.5C429.1 94.3 429.2 95.2 429.3 95.5" stroke="#b9aea3" stroke-width="1.4" opacity="0.6"/>
<path d="M425.8 77.9L424.3 79.6M428.1 87.2L429.8 88.0" stroke="#b9aea3" stroke-width="0.8" opacity="0.42"/>
<path d="M429.3 111.9C429.2 112.3 429.3 113.2 429.0 114.0C428.8 114.8 428.4 115.7 427.9 116.6C427.4 117.5 426.5 118.4 426.0 119.5C425.6 120.5 425.6 121.8 425.2 123.0C424.7 124.1 423.8 125.2 423.6 126.2C423.4 127.2 423.8 128.0 423.8 128.9C423.7 129.9 423.6 130.9 423.5 131.9C423.4 132.9 423.5 134.0 423.2 135.0C422.9 136.0 421.9 136.9 421.7 137.9C421.6 138.8 422.1 139.9 422.2 140.8C422.2 141.7 422.2 142.5 422.0 143.2C421.8 143.8 421.2 144.5 421.1 144.8" stroke="#b9aea3" stroke-width="3.9" opacity="0.24" filter="url(#halo)"/>
<path d="M429.3 111.9C429.2 112.3 429.3 113.2 429.0 114.0C428.8 114.8 428.4 115.7 427.9 116.6C427.4 117.5 426.5 118.4 426.0 119.5C425.6 120.5 425.6 121.8 425.2 123.0C424.7 124.1 423.8 125.2 423.6 126.2C423.4 127.2 423.8 128.0 423.8 128.9C423.7 129.9 423.6 130.9 423.5 131.9C423.4 132.9 423.5 134.0 423.2 135.0C422.9 136.0 421.9 136.9 421.7 137.9C421.6 138.8 422.1 139.9 422.2 140.8C422.2 141.7 422.2 142.5 422.0 143.2C421.8 143.8 421.2 144.5 421.1 144.8" stroke="#b9aea3" stroke-width="1.3" opacity="0.6"/>
<path d="M426.0 119.5L426.9 121.0" stroke="#b9aea3" stroke-width="0.8" opacity="0.42"/>
<path d="M432.4 81.2C432.3 81.5 432.0 82.5 431.7 83.4C431.4 84.3 430.7 85.4 430.5 86.4C430.2 87.4 430.0 88.3 430.1 89.4C430.3 90.5 431.0 91.9 431.2 92.9C431.5 93.9 431.7 95.1 431.7 95.5" stroke="#b9aea3" stroke-width="5.1" opacity="0.24" filter="url(#halo)"/>
<path d="M432.4 81.2C432.3 81.5 432.0 82.5 431.7 83.4C431.4 84.3 430.7 85.4 430.5 86.4C430.2 87.4 430.0 88.3 430.1 89.4C430.3 90.5 431.0 91.9 431.2 92.9C431.5 93.9 431.7 95.1 431.7 95.5" stroke="#b9aea3" stroke-width="1.7" opacity="0.6"/>
<path d="M419.0 73.0C419.0 73.4 418.8 74.6 418.9 75.7C418.9 76.7 419.1 78.2 419.3 79.5C419.5 80.7 419.8 82.1 419.9 83.2C420.0 84.4 419.8 85.2 420.0 86.1C420.2 87.1 420.8 88.1 421.0 89.0C421.3 90.0 421.3 90.9 421.5 91.7C421.7 92.4 422.0 93.2 422.1 93.5" stroke="#b9aea3" stroke-width="4.8" opacity="0.24" filter="url(#halo)"/>
<path d="M419.0 73.0C419.0 73.4 418.8 74.6 418.9 75.7C418.9 76.7 419.1 78.2 419.3 79.5C419.5 80.7 419.8 82.1 419.9 83.2C420.0 84.4 419.8 85.2 420.0 86.1C420.2 87.1 420.8 88.1 421.0 89.0C421.3 90.0 421.3 90.9 421.5 91.7C421.7 92.4 422.0 93.2 422.1 93.5" stroke="#b9aea3" stroke-width="1.6" opacity="0.6"/>
<path d="M419.9 83.2L421.3 84.1M421.5 91.7L422.6 92.1" stroke="#b9aea3" stroke-width="1.0" opacity="0.42"/>
<path d="M384.2 56.6L402.6 40.2" stroke="#9a9a9a" stroke-width="0.8" opacity="0.35"/>
<path d="M384.2 46.3L396.5 38.1" stroke="#9a9a9a" stroke-width="0.8" opacity="0.3"/>
<path d="M384.2 198.1L392.4 212.5" stroke="#8c8684" stroke-width="1.2" opacity="0.4"/>
<path d="M408.8 64.8C409.1 65.2 409.9 66.5 410.7 67.1C411.4 67.6 412.8 67.9 413.2 68.1" stroke="#c4d35c" stroke-width="0.9"/>
<path d="M409.9 66.2C410.0 66.3 410.1 66.8 410.7 67.1C411.2 67.4 412.8 67.9 413.2 68.1" stroke="#6aa52c" stroke-width="2.4"/>
<path d="M408.8 64.8C408.4 65.3 407.0 66.8 406.6 67.9C406.3 68.9 406.6 70.5 406.6 71.1" stroke="#c4d35c" stroke-width="0.9"/>
<path d="M407.5 66.6C407.3 66.9 406.8 67.2 406.6 67.9C406.5 68.6 406.6 70.5 406.6 71.1" stroke="#478023" stroke-width="2.4"/>
<path d="M408.8 64.8C408.1 64.8 406.1 64.8 405.0 65.2C403.9 65.6 402.8 66.7 402.4 67.0" stroke="#c4d35c" stroke-width="0.9"/>
<path d="M406.5 65.0C406.3 65.0 405.7 64.8 405.0 65.2C404.3 65.5 402.8 66.7 402.4 67.0" stroke="#9cc537" stroke-width="2.4"/>
<path d="M408.8 64.8C408.6 64.4 408.1 63.0 407.6 62.3C407.0 61.7 405.8 61.2 405.5 61.0" stroke="#c4d35c" stroke-width="0.9"/>
<path d="M408.1 63.3C408.0 63.2 408.0 62.7 407.6 62.3C407.2 62.0 405.8 61.2 405.5 61.0" stroke="#6aa52c" stroke-width="2.4"/>
<path d="M408.8 64.8C409.2 64.4 410.9 63.4 411.6 62.5C412.2 61.7 412.5 60.2 412.6 59.7" stroke="#c4d35c" stroke-width="0.9"/>
<path d="M410.5 63.4C410.6 63.3 411.2 63.1 411.6 62.5C412.0 61.9 412.5 60.2 412.6 59.7" stroke="#478023" stroke-width="2.4"/>
<path d="M408.8 64.8C407.4 63.1 403.0 57.4 400.6 54.5C398.2 51.6 395.4 48.5 394.4 47.3" stroke="#c4d35c" stroke-width="0.9"/>
<path d="M403.8 58.6C403.3 57.9 402.1 56.4 400.6 54.5C399.0 52.6 395.4 48.5 394.4 47.3" stroke="#478023" stroke-width="3.1"/>
<path d="M408.8 64.8C409.8 63.1 413.4 57.1 414.9 54.5C416.5 51.9 417.5 50.2 418.0 49.4" stroke="#c4d35c" stroke-width="0.9"/>
<path d="M412.5 58.6C412.9 57.9 414.0 56.1 414.9 54.5C415.8 53.0 417.5 50.2 418.0 49.4" stroke="#478023" stroke-width="3.1"/>
<path d="M408.8 64.8C410.8 63.7 417.5 60.5 421.1 58.6C424.7 56.7 428.8 54.3 430.3 53.5" stroke="#c4d35c" stroke-width="0.9"/>
<path d="M416.2 61.1C417.0 60.7 418.7 59.9 421.1 58.6C423.4 57.4 428.8 54.3 430.3 53.5" stroke="#478023" stroke-width="2.9"/>
<path d="M408.8 64.8C411.0 64.8 418.5 64.8 422.1 64.8C425.7 64.8 428.9 64.8 430.3 64.8" stroke="#c4d35c" stroke-width="0.9"/>
<path d="M416.8 64.8C417.7 64.8 419.8 64.8 422.1 64.8C424.4 64.8 428.9 64.8 430.3 64.8" stroke="#478023" stroke-width="3.6"/>
<path d="M408.8 64.8C407.1 64.6 401.2 63.7 398.5 63.7C395.8 63.7 393.4 64.6 392.4 64.8" stroke="#c4d35c" stroke-width="0.9"/>
<path d="M402.6 64.2C401.9 64.1 400.2 63.6 398.5 63.7C396.8 63.8 393.4 64.6 392.4 64.8" stroke="#478023" stroke-width="3.8"/>
<path d="M408.8 65.8C407.7 67.2 404.3 71.6 402.6 74.0C400.9 76.4 399.2 79.1 398.5 80.2" stroke="#c4d35c" stroke-width="0.9"/>
<path d="M405.1 70.7C404.7 71.3 403.7 72.4 402.6 74.0C401.5 75.6 399.2 79.1 398.5 80.2" stroke="#6aa52c" stroke-width="3.6"/>
<path d="M409.8 65.8C411.0 67.3 415.1 72.3 417.0 75.0C418.9 77.8 420.4 81.0 421.1 82.2" stroke="#c4d35c" stroke-width="0.9"/>
<path d="M414.1 71.3C414.6 71.9 415.8 73.2 417.0 75.0C418.1 76.8 420.4 81.0 421.1 82.2" stroke="#478023" stroke-width="3.1"/>
<circle cx="408.8" cy="64.8" r="1.1" fill="#c4d35c" stroke="none"/>
</g>
<rect x="426.9" y="191.0" width="3.7" height="21.2" fill="#fff"/>
</g>
<g clip-path="url(#cp7)">
<rect x="440.2" y="37.8" width="49.6" height="177.8" fill="url(#bg7)"/>
<ellipse cx="459.6" cy="163.2" rx="28.7" ry="19.5" fill="#5e403c" opacity="0.375" filter="url(#blob)"/>
<ellipse cx="465.8" cy="64.2" rx="11.0" ry="6.0" fill="#4f8226" opacity="0.45" filter="url(#gblob)"/>
<g filter="url(#soft)" fill="none" stroke-linecap="round" stroke-linejoin="round">
<path d="M463.9 67.9C463.8 68.1 463.6 68.7 463.4 69.2C463.2 69.6 463.0 70.3 462.7 70.8C462.3 71.4 461.5 71.8 461.2 72.4C460.8 73.1 460.9 74.1 460.5 74.8C460.2 75.5 459.4 76.1 458.9 76.8C458.5 77.6 458.2 78.4 457.9 79.2C457.5 80.0 457.4 80.9 457.0 81.6C456.6 82.4 455.9 83.0 455.6 83.7C455.3 84.4 455.4 85.2 455.2 85.9C454.9 86.7 454.3 87.4 454.0 88.2C453.8 89.0 453.8 89.9 453.7 90.8C453.5 91.7 453.3 92.5 453.0 93.4C452.8 94.2 452.4 95.1 452.1 95.9C451.9 96.7 451.4 97.5 451.3 98.2C451.2 99.0 451.6 99.9 451.6 100.6C451.5 101.2 451.3 101.9 451.1 102.4C450.9 102.9 450.6 103.5 450.5 103.7" stroke="#d0c7b9" stroke-width="0.9" opacity="0.55"/>
<path d="M463.7 66.9C463.5 67.1 463.4 67.9 463.0 68.3C462.6 68.7 461.6 68.9 461.2 69.5C460.8 70.1 460.9 71.2 460.4 71.9C460.0 72.6 458.9 73.0 458.4 73.8C457.9 74.5 457.7 75.6 457.3 76.4C456.8 77.2 456.2 77.9 455.5 78.6C454.9 79.3 453.9 79.7 453.4 80.5C453.0 81.2 453.2 82.2 452.8 83.0C452.5 83.8 451.6 84.4 451.2 85.2C450.7 86.0 450.5 87.0 450.1 87.8C449.7 88.7 449.3 89.6 449.0 90.5C448.6 91.4 448.2 92.2 447.9 93.0C447.6 93.9 447.6 94.8 447.2 95.5C446.9 96.1 446.1 96.6 445.8 97.2C445.6 97.7 445.6 98.5 445.6 98.7" stroke="#d0c7b9" stroke-width="0.9" opacity="0.31"/>
<path d="M463.8 67.4C463.7 67.6 463.6 68.2 463.5 68.7C463.4 69.3 463.3 69.8 463.2 70.5C463.1 71.1 463.2 71.9 462.9 72.5C462.7 73.2 461.9 73.9 461.7 74.7C461.5 75.4 462.1 76.4 462.0 77.3C461.9 78.1 461.3 78.9 460.9 79.8C460.6 80.6 460.1 81.4 460.0 82.3C459.9 83.2 460.4 84.2 460.4 85.0C460.3 85.9 459.7 86.6 459.5 87.4C459.3 88.2 459.1 89.0 459.1 89.8C459.1 90.5 459.5 91.3 459.5 92.1C459.5 93.0 459.2 93.8 459.0 94.6C458.9 95.5 458.7 96.3 458.6 97.2C458.6 98.1 458.9 98.9 458.9 99.8C458.9 100.7 458.6 101.5 458.6 102.4C458.7 103.2 459.1 104.0 459.2 104.8C459.3 105.6 459.2 106.4 459.2 107.1C459.2 107.8 459.4 108.5 459.4 109.1C459.3 109.7 459.1 110.3 459.0 110.8C458.9 111.3 459.0 111.9 459.0 112.2" stroke="#d0c7b9" stroke-width="0.7" opacity="0.32"/>
<path d="M466.2 69.6C466.1 69.8 465.8 70.3 465.5 70.7C465.3 71.1 465.1 71.7 464.8 72.2C464.5 72.7 464.0 73.2 463.6 73.8C463.3 74.4 463.2 75.2 462.8 75.9C462.4 76.5 461.6 76.9 461.0 77.6C460.5 78.2 460.2 79.0 459.8 79.7C459.3 80.5 458.9 81.2 458.6 82.0C458.3 82.8 458.1 83.7 457.8 84.5C457.4 85.2 456.6 85.8 456.2 86.5C455.8 87.2 455.6 88.0 455.3 88.7C455.0 89.4 454.8 90.1 454.4 90.7C453.9 91.4 453.2 91.9 452.7 92.6C452.3 93.3 451.9 94.1 451.7 95.0C451.5 95.8 451.9 96.9 451.7 97.7C451.4 98.6 450.4 99.1 450.0 99.9C449.6 100.7 449.6 101.6 449.4 102.4C449.2 103.2 449.0 104.0 448.8 104.8C448.6 105.5 448.4 106.3 448.2 106.9C447.9 107.6 447.4 108.1 447.1 108.7C446.9 109.3 446.9 109.9 446.8 110.4C446.7 110.9 446.4 111.4 446.3 111.6" stroke="#d0c7b9" stroke-width="0.8" opacity="0.40"/>
<path d="M464.0 66.9C464.2 67.1 464.7 67.7 465.1 68.3C465.6 68.9 466.1 69.6 466.6 70.3C467.1 71.1 467.5 72.1 468.1 72.9C468.7 73.7 469.7 74.3 470.2 75.0C470.8 75.8 471.2 76.5 471.6 77.3C472.0 78.2 472.3 79.2 472.7 80.2C473.1 81.2 473.7 82.1 473.9 83.1C474.2 84.0 474.1 85.1 474.3 85.9C474.4 86.6 474.7 87.4 474.7 87.7" stroke="#d0c7b9" stroke-width="1.0" opacity="0.29"/>
<path d="M463.6 68.0C463.5 68.2 463.1 68.8 462.6 69.2C462.2 69.7 461.5 70.1 461.0 70.7C460.4 71.3 459.7 71.9 459.2 72.6C458.6 73.3 458.2 74.2 457.7 75.0C457.2 75.8 456.7 76.5 456.2 77.1C455.7 77.8 455.0 78.1 454.6 78.8C454.1 79.5 453.9 80.4 453.5 81.1C453.1 81.9 452.4 82.6 452.1 83.4C451.7 84.2 451.6 85.1 451.5 85.9C451.3 86.6 451.1 87.4 451.0 87.9C450.8 88.5 450.7 89.2 450.6 89.4" stroke="#d0c7b9" stroke-width="0.9" opacity="0.38"/>
<path d="M466.8 67.2C466.8 67.5 467.1 68.2 467.0 68.9C467.0 69.6 466.6 70.4 466.5 71.2C466.4 72.0 466.5 73.0 466.5 73.9C466.4 74.9 466.2 75.9 466.3 76.9C466.4 77.9 466.8 78.9 467.0 79.8C467.1 80.8 467.0 81.7 467.1 82.6C467.2 83.4 467.4 84.1 467.5 84.9C467.7 85.7 467.8 86.5 467.9 87.4C468.0 88.2 467.7 89.2 467.9 90.0C468.1 90.9 468.9 91.6 469.1 92.4C469.3 93.1 469.1 94.0 469.2 94.7C469.4 95.4 469.9 95.9 470.0 96.5C470.1 97.0 470.0 97.7 470.0 97.9" stroke="#d0c7b9" stroke-width="1.0" opacity="0.42"/>
<path d="M463.6 67.6C463.6 67.8 464.0 68.5 464.0 69.2C464.0 69.8 463.6 70.6 463.5 71.4C463.5 72.2 463.7 73.1 463.7 74.0C463.7 74.9 463.4 75.9 463.4 76.8C463.5 77.8 464.0 78.7 464.1 79.7C464.2 80.6 464.1 81.4 463.9 82.3C463.8 83.2 463.3 84.0 463.1 84.9C462.9 85.8 462.8 86.7 462.6 87.7C462.5 88.6 462.6 89.7 462.3 90.6C462.1 91.5 461.6 92.3 461.3 93.1C461.1 93.9 461.2 94.8 461.1 95.4C460.9 96.0 460.7 96.7 460.6 97.0" stroke="#d0c7b9" stroke-width="0.9" opacity="0.57"/>
<path d="M463.3 68.8C463.1 69.0 462.3 69.4 462.0 70.0C461.7 70.7 462.0 71.8 461.6 72.6C461.2 73.4 460.0 73.9 459.5 74.7C459.0 75.5 459.0 76.7 458.5 77.5C458.0 78.3 456.9 78.7 456.5 79.5C456.1 80.3 456.5 81.5 456.1 82.3C455.7 83.1 454.6 83.7 454.1 84.4C453.6 85.2 453.5 86.2 453.1 87.0C452.8 87.7 452.2 88.4 452.0 89.0C451.7 89.6 451.7 90.4 451.6 90.6" stroke="#d0c7b9" stroke-width="0.8" opacity="0.45"/>
<path d="M464.1 68.3C464.0 68.5 463.9 69.1 463.6 69.6C463.4 70.0 463.0 70.5 462.7 71.0C462.4 71.6 462.1 72.2 461.8 72.8C461.4 73.5 461.0 74.1 460.7 74.8C460.3 75.5 460.0 76.2 459.5 77.0C459.1 77.7 458.5 78.3 458.1 79.1C457.7 79.9 457.6 80.8 457.2 81.6C456.8 82.4 456.1 83.0 455.7 83.8C455.4 84.6 455.5 85.6 455.2 86.4C454.9 87.2 454.3 87.8 453.9 88.5C453.5 89.2 453.3 89.8 453.0 90.6C452.8 91.3 452.7 92.1 452.4 92.9C452.1 93.7 451.3 94.4 451.1 95.2C450.8 96.0 451.0 97.0 450.8 97.9C450.6 98.7 450.0 99.5 449.7 100.4C449.4 101.2 449.1 102.0 449.0 102.9C448.9 103.7 449.3 104.7 449.1 105.4C449.0 106.2 448.3 106.9 448.0 107.6C447.8 108.2 447.8 109.0 447.7 109.6C447.6 110.2 447.6 110.8 447.5 111.3C447.4 111.8 447.4 112.4 447.4 112.7" stroke="#d0c7b9" stroke-width="0.7" opacity="0.33"/>
<path d="M464.2 69.5C464.2 69.7 464.0 70.3 463.7 70.8C463.5 71.2 463.1 71.7 462.8 72.3C462.5 72.8 462.0 73.4 461.8 74.1C461.6 74.8 461.8 75.8 461.6 76.5C461.3 77.3 460.6 77.9 460.2 78.6C459.8 79.4 459.5 80.3 459.2 81.1C458.9 81.9 458.5 82.7 458.3 83.6C458.0 84.5 458.0 85.5 457.8 86.3C457.6 87.2 457.3 88.1 456.9 88.9C456.6 89.6 456.1 90.4 455.7 91.1C455.3 91.9 454.8 92.5 454.6 93.3C454.4 94.0 454.6 94.9 454.4 95.7C454.2 96.5 453.7 97.2 453.5 98.0C453.3 98.8 453.3 99.7 453.0 100.5C452.8 101.4 452.2 102.1 451.9 102.9C451.6 103.7 451.3 104.6 451.2 105.4C451.1 106.3 451.4 107.2 451.2 108.0C451.0 108.8 450.2 109.4 450.1 110.2C450.0 110.9 450.6 111.8 450.5 112.5C450.4 113.2 449.6 113.7 449.4 114.2C449.1 114.8 449.0 115.3 448.9 115.8C448.9 116.3 449.0 116.9 449.0 117.2" stroke="#d0c7b9" stroke-width="0.9" opacity="0.54"/>
<path d="M464.6 68.8C464.6 69.1 464.7 69.8 464.5 70.2C464.3 70.7 463.7 71.1 463.5 71.7C463.3 72.3 463.3 73.1 463.2 73.8C463.0 74.5 462.9 75.2 462.6 76.0C462.4 76.7 461.9 77.5 461.6 78.3C461.3 79.1 461.1 79.9 460.8 80.8C460.5 81.6 460.3 82.5 460.0 83.3C459.7 84.2 459.4 85.0 459.2 85.9C458.9 86.8 458.8 87.7 458.5 88.5C458.3 89.4 458.0 90.2 457.7 91.0C457.4 91.8 456.8 92.4 456.5 93.1C456.2 93.9 456.3 94.8 456.0 95.6C455.7 96.4 455.2 97.1 454.8 97.9C454.4 98.7 454.1 99.6 453.7 100.4C453.4 101.3 453.0 102.1 452.7 103.0C452.3 103.8 451.8 104.6 451.6 105.5C451.4 106.4 451.5 107.4 451.3 108.2C451.1 109.1 450.8 109.9 450.4 110.6C450.0 111.3 449.4 111.9 449.1 112.6C448.8 113.3 448.6 114.0 448.5 114.6C448.3 115.2 448.4 115.9 448.2 116.4C448.0 116.9 447.6 117.4 447.4 117.6" stroke="#d0c7b9" stroke-width="0.8" opacity="0.33"/>
<path d="M463.6 69.7C463.4 69.9 463.1 70.5 462.8 70.9C462.5 71.4 462.2 71.9 461.9 72.5C461.7 73.1 461.5 73.9 461.2 74.6C461.0 75.3 460.5 76.0 460.2 76.8C459.9 77.5 459.7 78.4 459.2 79.1C458.8 79.9 457.9 80.5 457.6 81.3C457.2 82.1 457.4 83.2 457.2 84.0C456.9 84.8 456.6 85.6 456.3 86.4C456.0 87.1 455.7 87.7 455.4 88.5C455.1 89.3 454.8 90.1 454.5 91.0C454.2 91.8 453.9 92.7 453.6 93.6C453.4 94.5 453.1 95.4 452.9 96.3C452.7 97.2 452.6 98.2 452.3 99.0C452.1 99.9 451.7 100.7 451.5 101.5C451.2 102.3 451.1 103.1 450.9 103.8C450.7 104.5 450.3 105.1 450.2 105.7C450.0 106.2 449.9 106.9 449.8 107.1" stroke="#d0c7b9" stroke-width="0.8" opacity="0.59"/>
<path d="M464.4 69.8C464.3 70.0 463.8 70.7 463.7 71.3C463.5 71.9 463.6 72.7 463.5 73.5C463.3 74.3 463.1 75.2 462.9 76.1C462.7 77.0 462.3 77.9 462.2 78.9C462.2 79.8 462.5 80.9 462.4 81.8C462.3 82.7 461.9 83.5 461.7 84.3C461.5 85.2 461.3 86.0 461.2 86.9C461.1 87.8 461.0 88.7 461.0 89.7C461.0 90.6 461.1 91.6 461.2 92.5C461.3 93.4 461.5 94.3 461.5 95.1C461.5 95.9 461.3 96.6 461.2 97.3C461.1 97.9 461.1 98.6 461.0 98.9" stroke="#d0c7b9" stroke-width="0.9" opacity="0.50"/>
<path d="M465.8 69.2C465.8 69.5 466.1 70.1 466.1 70.6C466.0 71.0 465.6 71.6 465.5 72.2C465.4 72.8 465.5 73.5 465.5 74.1C465.5 74.8 465.5 75.6 465.6 76.3C465.6 77.1 465.8 77.9 465.7 78.7C465.7 79.5 465.2 80.4 465.1 81.2C465.0 82.1 465.0 82.9 465.0 83.8C465.0 84.7 465.2 85.5 465.3 86.4C465.3 87.2 465.2 88.1 465.3 88.9C465.3 89.8 465.5 90.6 465.6 91.4C465.7 92.2 465.9 92.9 465.9 93.7C465.9 94.5 465.7 95.2 465.6 96.0C465.6 96.8 465.5 97.7 465.6 98.5C465.7 99.4 466.3 100.2 466.4 101.0C466.4 101.9 465.9 102.8 465.9 103.7C466.0 104.6 466.6 105.4 466.8 106.2C467.0 107.1 466.9 107.9 467.1 108.7C467.2 109.5 467.6 110.3 467.6 111.1C467.5 111.8 466.9 112.7 466.9 113.4C466.9 114.1 467.3 114.7 467.4 115.3C467.5 115.9 467.4 116.5 467.5 117.0C467.6 117.5 467.9 118.0 468.0 118.2" stroke="#d0c7b9" stroke-width="1.0" opacity="0.59"/>
<path d="M464.6 69.4C464.5 69.6 464.0 70.2 464.0 70.8C464.0 71.4 464.6 72.1 464.6 72.9C464.7 73.6 464.8 74.5 464.5 75.3C464.3 76.1 463.4 76.9 463.3 77.8C463.2 78.7 463.8 79.7 463.8 80.6C463.9 81.5 463.8 82.4 463.6 83.3C463.5 84.1 463.0 84.9 462.8 85.7C462.7 86.5 463.0 87.4 462.8 88.2C462.7 89.1 462.0 89.9 461.9 90.8C461.8 91.7 462.3 92.7 462.2 93.6C462.0 94.5 461.2 95.3 461.1 96.1C460.9 96.9 461.4 97.9 461.4 98.6C461.3 99.3 460.9 100.0 460.8 100.6C460.7 101.1 460.7 101.8 460.7 102.0" stroke="#d0c7b9" stroke-width="0.7" opacity="0.50"/>
<path d="M464.8 67.6C464.6 67.9 464.1 68.5 463.8 69.1C463.4 69.8 463.1 70.7 462.8 71.6C462.4 72.5 462.0 73.4 461.8 74.4C461.7 75.3 462.0 76.3 461.8 77.2C461.7 78.0 461.1 78.8 461.0 79.6C460.8 80.5 461.0 81.5 460.9 82.4C460.9 83.3 460.7 84.1 460.7 84.8C460.7 85.5 460.7 86.3 460.7 86.5" stroke="#d0c7b9" stroke-width="0.7" opacity="0.43"/>
<path d="M466.2 67.5C466.3 67.8 466.4 68.4 466.5 68.9C466.6 69.4 466.7 70.0 467.1 70.6C467.4 71.2 468.2 71.7 468.5 72.4C468.7 73.1 468.3 74.1 468.6 74.9C468.9 75.7 469.9 76.2 470.2 77.0C470.6 77.8 470.4 78.8 470.7 79.6C471.0 80.4 471.9 81.1 472.1 81.9C472.4 82.7 472.0 83.7 472.2 84.4C472.5 85.2 473.2 85.7 473.4 86.5C473.6 87.3 473.4 88.3 473.5 89.1C473.5 90.0 473.8 90.9 473.9 91.8C474.1 92.7 474.1 93.7 474.3 94.6C474.5 95.5 474.9 96.4 475.0 97.3C475.1 98.2 474.8 99.1 474.8 99.9C474.8 100.8 474.8 101.6 475.0 102.3C475.2 103.0 475.9 103.6 476.1 104.1C476.2 104.7 475.9 105.4 475.9 105.6" stroke="#d0c7b9" stroke-width="1.0" opacity="0.57"/>
<path d="M465.2 67.4C465.2 67.6 465.6 68.1 465.7 68.7C465.8 69.2 465.6 69.9 465.8 70.6C465.9 71.2 466.2 71.9 466.5 72.5C466.9 73.2 467.6 73.8 467.9 74.6C468.2 75.4 467.9 76.4 468.1 77.3C468.3 78.1 468.7 78.9 469.1 79.7C469.6 80.5 470.3 81.3 470.5 82.1C470.7 83.0 470.2 84.1 470.4 85.0C470.6 85.8 471.5 86.5 471.8 87.3C472.1 88.1 472.2 88.8 472.3 89.6C472.5 90.4 472.6 91.2 472.7 92.0C472.8 92.8 472.8 93.7 473.0 94.5C473.2 95.3 473.7 96.1 473.8 97.0C473.9 97.9 473.6 98.8 473.6 99.7C473.6 100.5 473.7 101.4 473.8 102.2C473.9 103.1 474.3 103.9 474.4 104.6C474.5 105.4 474.3 106.2 474.4 106.9C474.5 107.7 474.7 108.3 474.8 108.9C474.9 109.6 474.7 110.2 474.8 110.7C474.9 111.2 475.2 111.7 475.3 112.0" stroke="#d0c7b9" stroke-width="0.9" opacity="0.46"/>
<path d="M464.2 67.2C464.1 67.4 463.8 68.0 463.9 68.6C463.9 69.1 464.3 69.8 464.4 70.5C464.5 71.2 464.4 71.9 464.4 72.7C464.3 73.5 463.9 74.3 463.9 75.2C463.9 76.0 464.5 76.9 464.4 77.8C464.4 78.7 463.8 79.6 463.7 80.5C463.6 81.4 463.6 82.2 463.7 83.1C463.9 83.9 464.5 84.7 464.5 85.5C464.5 86.3 464.0 87.1 464.0 87.9C463.9 88.7 464.2 89.6 464.3 90.5C464.3 91.4 464.3 92.3 464.3 93.1C464.3 94.0 464.2 94.9 464.2 95.8C464.2 96.7 464.2 97.5 464.4 98.3C464.5 99.1 465.1 99.8 465.1 100.5C465.2 101.1 464.8 101.8 464.9 102.4C464.9 102.9 465.2 103.5 465.3 103.8" stroke="#d0c7b9" stroke-width="0.8" opacity="0.38"/>
<path d="M462.7 69.4C462.8 69.7 462.8 70.3 462.9 70.9C463.0 71.5 463.2 72.1 463.4 72.9C463.5 73.6 463.4 74.4 463.7 75.2C464.0 76.0 464.7 76.8 465.1 77.6C465.5 78.5 465.8 79.4 465.9 80.3C466.0 81.3 465.6 82.3 465.7 83.3C465.9 84.2 466.5 85.0 466.8 85.8C467.0 86.7 467.1 87.5 467.1 88.4C467.2 89.2 466.9 90.0 467.0 90.9C467.1 91.8 467.8 92.6 467.8 93.5C467.9 94.5 467.3 95.4 467.3 96.4C467.3 97.3 467.6 98.2 467.8 99.1C468.0 99.9 468.3 100.8 468.3 101.6C468.2 102.4 467.6 103.2 467.5 104.0C467.4 104.7 467.8 105.3 467.9 105.9C468.0 106.5 468.0 107.1 468.0 107.4" stroke="#d0c7b9" stroke-width="0.7" opacity="0.37"/>
<path d="M466.6 68.7C466.7 69.0 466.9 69.7 466.9 70.3C466.9 71.0 466.7 71.8 466.6 72.6C466.4 73.4 465.9 74.3 465.9 75.1C465.8 76.0 466.1 77.0 466.1 77.9C466.2 78.7 466.2 79.5 466.2 80.3C466.2 81.2 466.1 82.0 466.3 82.9C466.4 83.8 466.7 84.7 466.9 85.6C467.2 86.5 467.6 87.3 467.8 88.1C468.1 88.9 468.2 89.8 468.3 90.4C468.4 91.1 468.6 91.8 468.6 92.0" stroke="#d0c7b9" stroke-width="0.9" opacity="0.59"/>
<path d="M466.5 68.1C466.4 68.3 466.3 69.0 466.3 69.5C466.2 70.0 466.4 70.6 466.3 71.3C466.2 71.9 465.6 72.5 465.5 73.3C465.5 74.0 465.9 74.8 465.8 75.6C465.8 76.5 465.5 77.3 465.3 78.1C465.2 79.0 465.3 79.9 465.2 80.8C465.2 81.7 465.1 82.6 464.9 83.5C464.7 84.4 464.1 85.3 464.1 86.2C464.0 87.1 464.7 88.1 464.7 89.0C464.7 89.8 464.3 90.7 464.2 91.5C464.1 92.4 464.3 93.2 464.3 94.0C464.2 94.8 464.2 95.6 464.1 96.4C463.9 97.3 463.4 98.1 463.4 99.0C463.4 99.9 464.0 100.8 464.0 101.7C464.1 102.6 463.8 103.6 463.7 104.5C463.7 105.4 464.0 106.3 464.0 107.2C463.9 108.1 463.7 109.0 463.7 109.8C463.7 110.7 463.9 111.5 464.0 112.3C464.1 113.1 464.3 113.9 464.3 114.6C464.4 115.4 464.1 116.1 464.1 116.7C464.1 117.3 464.2 117.9 464.2 118.5C464.2 119.0 464.1 119.6 464.1 119.8" stroke="#d0c7b9" stroke-width="0.9" opacity="0.58"/>
<path d="M463.2 67.4C463.0 67.5 462.5 67.9 462.1 68.4C461.6 68.8 461.2 69.4 460.7 69.9C460.2 70.5 459.7 71.3 459.0 71.8C458.4 72.3 457.3 72.6 456.6 73.2C456.0 73.8 455.6 74.7 455.0 75.4C454.4 76.0 453.7 76.6 453.1 77.2C452.6 77.8 452.1 78.2 451.5 78.8C450.9 79.5 450.2 80.3 449.6 81.1C448.9 81.9 448.1 82.7 447.7 83.6C447.2 84.5 447.2 85.6 446.8 86.4C446.4 87.2 445.5 87.7 445.2 88.4C444.9 89.0 444.9 89.8 444.8 90.1" stroke="#d0c7b9" stroke-width="0.7" opacity="0.45"/>
<path d="M462.8 69.1C462.7 69.4 462.7 70.1 462.5 70.6C462.3 71.2 462.0 71.7 461.6 72.3C461.2 72.9 460.7 73.6 460.3 74.3C459.8 75.0 459.2 75.7 458.9 76.5C458.5 77.3 458.5 78.3 458.2 79.2C457.8 80.0 457.4 80.9 457.0 81.7C456.6 82.5 456.2 83.3 455.7 84.0C455.2 84.8 454.5 85.3 454.2 86.1C453.8 86.8 454.0 87.8 453.7 88.6C453.3 89.3 452.5 90.0 452.1 90.7C451.6 91.5 451.3 92.4 451.0 93.3C450.8 94.1 450.8 95.1 450.4 95.9C450.1 96.7 449.4 97.4 449.1 98.1C448.7 98.8 448.5 99.5 448.2 100.2C448.0 100.8 447.7 101.4 447.5 102.0C447.3 102.5 447.0 103.0 446.9 103.2" stroke="#d0c7b9" stroke-width="0.9" opacity="0.61"/>
<path d="M462.6 68.3C462.7 68.6 463.1 69.2 463.3 69.9C463.5 70.5 463.5 71.3 463.6 72.1C463.7 72.9 464.0 73.8 464.1 74.7C464.1 75.7 463.9 76.7 464.1 77.7C464.3 78.6 464.9 79.5 465.1 80.4C465.4 81.3 465.3 82.3 465.6 83.1C465.9 83.9 466.7 84.4 467.0 85.1C467.2 85.9 467.2 86.8 467.4 87.7C467.6 88.5 467.7 89.4 468.0 90.2C468.3 91.0 469.0 91.7 469.3 92.5C469.5 93.2 469.5 94.1 469.7 94.8C469.9 95.5 470.2 96.1 470.5 96.6C470.8 97.1 471.2 97.5 471.4 97.7" stroke="#d0c7b9" stroke-width="0.7" opacity="0.31"/>
<path d="M462.7 66.9C462.6 67.2 462.4 67.7 462.2 68.2C462.1 68.7 461.9 69.3 461.7 69.9C461.4 70.5 461.0 71.1 460.9 71.8C460.7 72.5 460.9 73.4 460.7 74.2C460.5 75.0 459.9 75.7 459.6 76.5C459.2 77.3 458.9 78.1 458.6 78.9C458.3 79.7 457.9 80.6 457.7 81.4C457.6 82.3 457.8 83.3 457.6 84.2C457.3 85.0 456.6 85.7 456.3 86.5C456.0 87.2 455.8 88.0 455.5 88.8C455.3 89.5 455.1 90.3 454.8 91.1C454.4 91.9 453.7 92.5 453.4 93.4C453.1 94.2 453.1 95.2 452.8 96.0C452.6 96.9 452.3 97.8 451.9 98.6C451.5 99.4 450.7 100.1 450.4 100.9C450.0 101.7 449.9 102.6 449.7 103.4C449.5 104.3 449.3 105.1 449.1 105.8C448.8 106.5 448.5 107.2 448.2 107.8C448.0 108.4 447.6 108.9 447.4 109.4C447.1 109.9 446.9 110.5 446.8 110.7" stroke="#d0c7b9" stroke-width="0.6" opacity="0.59"/>
<path d="M465.9 67.4C465.8 67.6 465.6 68.2 465.4 68.6C465.2 69.1 465.0 69.6 464.7 70.2C464.4 70.8 464.0 71.3 463.7 72.0C463.4 72.6 463.2 73.3 462.9 74.0C462.6 74.8 462.2 75.5 462.0 76.3C461.8 77.1 461.9 78.1 461.6 78.9C461.3 79.7 460.5 80.3 460.2 81.1C459.9 82.0 460.0 82.9 459.8 83.8C459.6 84.7 459.3 85.5 459.1 86.3C458.9 87.1 458.8 87.9 458.6 88.7C458.3 89.4 457.7 90.0 457.5 90.8C457.3 91.6 457.4 92.5 457.3 93.3C457.1 94.2 456.9 95.0 456.6 95.9C456.4 96.7 456.0 97.6 455.8 98.5C455.6 99.4 455.4 100.3 455.2 101.2C455.0 102.1 454.8 103.0 454.8 103.9C454.8 104.8 455.1 105.7 455.1 106.6C455.1 107.4 454.9 108.2 454.8 108.9C454.7 109.7 454.5 110.4 454.3 111.0C454.1 111.7 453.9 112.2 453.8 112.8C453.6 113.3 453.6 113.9 453.6 114.2" stroke="#d0c7b9" stroke-width="0.9" opacity="0.32"/>
<path d="M466.7 67.4C466.6 67.7 466.6 68.4 466.4 69.0C466.3 69.7 466.1 70.4 466.0 71.2C465.9 72.0 465.9 73.0 465.8 73.9C465.7 74.8 465.4 75.7 465.3 76.7C465.3 77.6 465.7 78.7 465.6 79.6C465.4 80.5 464.7 81.2 464.5 82.1C464.2 83.0 464.5 83.9 464.3 84.8C464.1 85.7 463.7 86.7 463.4 87.6C463.2 88.6 462.9 89.6 462.7 90.5C462.4 91.4 461.9 92.2 461.8 93.0C461.6 93.9 461.9 94.8 461.8 95.4C461.7 96.1 461.2 96.7 461.1 97.0" stroke="#d0c7b9" stroke-width="0.7" opacity="0.55"/>
<path d="M466.1 68.4C466.1 68.6 466.2 69.3 466.1 69.9C466.0 70.4 465.5 71.0 465.3 71.7C465.2 72.4 465.3 73.2 465.2 74.0C465.2 74.8 465.1 75.7 465.1 76.5C465.0 77.4 465.1 78.3 465.0 79.2C464.9 80.1 464.6 81.0 464.7 81.9C464.7 82.8 465.3 83.8 465.2 84.6C465.2 85.5 464.4 86.2 464.2 87.0C464.1 87.8 464.3 88.7 464.2 89.5C464.0 90.4 463.3 91.2 463.1 92.1C462.9 93.0 462.9 93.9 462.7 94.9C462.6 95.8 462.2 96.6 461.9 97.5C461.7 98.4 461.5 99.2 461.3 100.0C461.1 100.8 460.9 101.6 460.6 102.3C460.4 103.0 460.0 103.6 459.9 104.1C459.8 104.7 459.9 105.4 459.8 105.7" stroke="#d0c7b9" stroke-width="0.7" opacity="0.34"/>
<path d="M463.2 66.8C463.2 67.1 463.1 67.8 463.2 68.3C463.4 68.8 464.0 69.3 464.1 70.0C464.3 70.6 464.0 71.4 464.0 72.2C464.0 73.0 464.1 73.8 464.2 74.6C464.3 75.5 464.4 76.4 464.7 77.2C464.9 78.1 465.3 79.0 465.4 79.9C465.6 80.8 465.6 81.7 465.8 82.7C466.0 83.6 466.4 84.4 466.6 85.3C466.8 86.2 466.8 87.2 467.0 88.0C467.2 88.8 467.7 89.6 467.9 90.4C468.0 91.2 467.7 92.0 467.8 92.7C467.9 93.5 468.2 94.3 468.4 95.1C468.7 95.9 469.1 96.7 469.3 97.5C469.6 98.3 469.7 99.2 469.8 100.0C470.0 100.9 469.9 101.8 470.1 102.6C470.3 103.4 470.8 104.1 471.0 104.9C471.1 105.7 471.0 106.6 471.0 107.3C471.1 108.1 471.4 108.8 471.6 109.5C471.8 110.1 471.9 110.8 472.2 111.3C472.5 111.9 473.1 112.3 473.3 112.7C473.5 113.2 473.2 113.9 473.2 114.1" stroke="#d0c7b9" stroke-width="0.7" opacity="0.48"/>
<path d="M465.8 68.1C465.7 68.3 465.5 68.9 465.4 69.4C465.3 69.9 465.3 70.5 465.2 71.1C465.0 71.7 464.6 72.3 464.5 73.0C464.4 73.7 464.8 74.6 464.6 75.3C464.4 76.1 463.7 76.8 463.5 77.6C463.2 78.4 463.4 79.3 463.2 80.2C463.1 81.0 462.6 81.8 462.5 82.7C462.3 83.6 462.5 84.5 462.4 85.4C462.3 86.3 461.9 87.1 461.7 87.9C461.6 88.8 461.5 89.6 461.4 90.4C461.3 91.2 461.2 92.0 461.0 92.7C460.8 93.5 460.5 94.2 460.4 95.0C460.3 95.8 460.5 96.7 460.4 97.5C460.3 98.3 459.8 99.2 459.8 100.0C459.7 100.9 459.9 101.8 460.0 102.7C460.1 103.5 460.3 104.4 460.3 105.3C460.2 106.1 459.9 106.9 459.8 107.8C459.7 108.6 459.7 109.4 459.8 110.1C459.9 110.9 460.2 111.7 460.1 112.4C460.1 113.0 459.7 113.7 459.7 114.3C459.7 114.9 460.2 115.5 460.2 116.0C460.2 116.5 459.7 117.1 459.6 117.3" stroke="#d0c7b9" stroke-width="0.9" opacity="0.39"/>
<path d="M466.3 68.4C466.3 68.6 466.5 69.2 466.5 69.7C466.5 70.2 466.3 70.8 466.2 71.4C466.2 72.0 466.3 72.6 466.3 73.3C466.2 74.0 466.0 74.7 465.9 75.4C465.8 76.2 465.7 77.0 465.6 77.8C465.5 78.6 465.4 79.4 465.4 80.2C465.3 81.1 465.6 81.9 465.6 82.8C465.6 83.7 465.4 84.5 465.3 85.4C465.3 86.2 465.5 87.1 465.3 87.9C465.2 88.7 464.6 89.5 464.6 90.3C464.5 91.1 465.0 91.8 465.0 92.6C464.9 93.4 464.3 94.2 464.3 95.1C464.3 96.0 464.9 96.9 465.0 97.8C465.1 98.7 465.1 99.7 465.0 100.6C464.9 101.5 464.6 102.5 464.5 103.4C464.4 104.3 464.5 105.3 464.4 106.2C464.4 107.1 464.2 108.0 464.1 108.8C464.0 109.7 463.9 110.5 463.9 111.3C463.9 112.0 464.1 112.8 464.2 113.5C464.3 114.1 464.4 114.8 464.4 115.3C464.4 115.9 464.2 116.5 464.1 116.7" stroke="#d0c7b9" stroke-width="0.7" opacity="0.50"/>
<path d="M465.2 67.0C465.1 67.2 464.9 67.8 464.5 68.3C464.2 68.7 463.5 69.1 463.2 69.7C462.9 70.3 463.1 71.4 462.8 72.1C462.5 72.8 461.9 73.5 461.3 74.2C460.8 74.8 459.9 75.4 459.4 76.2C459.0 76.9 458.7 77.8 458.4 78.6C458.1 79.5 458.0 80.4 457.6 81.2C457.3 81.9 456.8 82.6 456.3 83.2C455.8 83.9 455.1 84.4 454.8 85.1C454.4 85.8 454.3 86.7 454.0 87.6C453.8 88.4 453.7 89.4 453.3 90.1C452.9 90.9 451.8 91.3 451.4 92.1C451.1 92.8 451.4 93.9 451.1 94.6C450.9 95.3 450.1 95.8 449.8 96.3C449.4 96.9 449.2 97.5 449.0 98.0C448.8 98.5 448.7 99.1 448.6 99.3" stroke="#d0c7b9" stroke-width="0.9" opacity="0.50"/>
<path d="M458.8 72.9C458.8 73.2 458.7 74.0 458.8 74.6C458.8 75.3 458.7 76.1 459.0 76.9C459.2 77.7 460.0 78.6 460.2 79.5C460.5 80.4 460.7 81.4 460.7 82.4C460.7 83.4 460.0 84.5 460.1 85.4C460.1 86.4 460.8 87.1 461.0 88.0C461.2 88.9 461.3 89.8 461.3 90.7C461.3 91.7 461.2 92.7 461.1 93.6C461.1 94.6 461.1 95.6 461.1 96.5C461.1 97.5 460.9 98.4 460.9 99.2C460.9 100.1 461.0 100.9 461.1 101.5C461.1 102.2 461.2 102.9 461.2 103.2" stroke="#e6dfd2" stroke-width="1.0" opacity="0.53"/>
<path d="M459.9 74.0C459.9 74.2 460.1 74.8 460.0 75.4C459.8 75.9 459.3 76.4 459.2 77.1C459.1 77.8 459.4 78.6 459.2 79.4C459.0 80.1 458.1 80.8 458.0 81.6C457.8 82.4 458.3 83.4 458.2 84.3C458.1 85.1 457.7 86.0 457.4 86.8C457.2 87.6 456.9 88.5 456.7 89.3C456.5 90.1 456.3 90.8 456.2 91.6C456.2 92.4 456.4 93.1 456.3 94.0C456.3 94.8 456.1 95.6 456.0 96.5C456.0 97.3 456.1 98.2 456.0 99.0C455.9 99.9 455.5 100.7 455.5 101.6C455.5 102.4 456.0 103.2 456.0 104.0C456.0 104.8 455.6 105.5 455.5 106.1C455.4 106.8 455.5 107.4 455.5 107.9C455.5 108.5 455.5 109.1 455.5 109.3" stroke="#e6dfd2" stroke-width="0.8" opacity="0.56"/>
<path d="M461.7 74.7C461.6 74.9 461.3 75.5 461.4 76.1C461.5 76.6 462.2 77.2 462.2 77.9C462.3 78.5 461.5 79.3 461.5 80.0C461.5 80.8 462.0 81.6 462.1 82.4C462.3 83.3 462.4 84.1 462.5 85.0C462.6 85.9 462.6 86.8 462.5 87.7C462.5 88.6 462.3 89.5 462.2 90.4C462.1 91.2 462.2 92.1 462.1 92.9C462.1 93.8 462.0 94.5 462.0 95.4C462.0 96.2 461.9 96.9 462.0 97.8C462.1 98.6 462.7 99.5 462.7 100.3C462.7 101.2 462.0 102.1 462.0 103.0C462.0 103.9 462.7 104.8 462.7 105.7C462.7 106.5 462.0 107.4 462.0 108.2C461.9 109.1 462.3 109.9 462.3 110.7C462.3 111.4 462.2 112.2 462.2 112.8C462.1 113.5 462.0 114.1 462.0 114.6C462.0 115.2 462.2 115.8 462.2 116.0" stroke="#e6dfd2" stroke-width="0.8" opacity="0.48"/>
<path d="M458.3 73.5C458.3 73.8 458.5 74.5 458.4 75.1C458.4 75.7 458.4 76.4 458.2 77.1C457.9 77.8 457.4 78.6 457.2 79.5C457.0 80.3 457.2 81.2 457.2 82.2C457.2 83.1 457.2 84.0 457.2 84.9C457.2 85.9 457.0 86.8 457.0 87.6C456.9 88.5 456.7 89.3 456.7 90.2C456.7 91.0 457.0 91.8 457.0 92.7C457.1 93.5 456.8 94.5 456.9 95.4C457.0 96.3 457.6 97.2 457.8 98.1C458.0 99.0 457.8 99.9 457.9 100.8C458.0 101.6 458.3 102.4 458.4 103.2C458.4 104.0 458.1 104.7 458.2 105.3C458.2 105.9 458.6 106.5 458.7 106.8" stroke="#e6dfd2" stroke-width="1.1" opacity="0.29"/>
<path d="M458.8 72.9C458.9 73.1 459.1 73.8 459.2 74.3C459.4 74.8 459.8 75.4 459.8 76.1C459.9 76.9 459.5 77.7 459.6 78.5C459.7 79.4 460.2 80.1 460.5 81.0C460.7 81.9 461.0 82.8 461.1 83.7C461.3 84.6 461.4 85.5 461.5 86.5C461.7 87.4 461.7 88.4 461.9 89.3C462.1 90.2 462.3 91.1 462.5 91.9C462.8 92.8 463.4 93.5 463.4 94.4C463.5 95.2 462.8 96.1 462.9 97.0C462.9 97.9 463.7 98.7 464.0 99.6C464.2 100.5 464.1 101.5 464.1 102.4C464.2 103.3 464.2 104.3 464.2 105.2C464.2 106.1 464.2 107.0 464.1 107.9C464.1 108.8 463.9 109.6 464.0 110.4C464.0 111.2 464.5 111.9 464.6 112.6C464.7 113.3 464.6 114.0 464.6 114.5C464.6 115.1 464.4 115.7 464.3 116.0" stroke="#e6dfd2" stroke-width="0.8" opacity="0.46"/>
<path d="M459.3 72.8C459.4 73.1 459.9 73.8 460.1 74.5C460.3 75.2 460.2 76.1 460.2 77.0C460.3 77.9 460.2 79.0 460.5 80.0C460.8 80.9 461.8 81.8 461.9 82.8C462.1 83.7 461.5 84.7 461.6 85.6C461.6 86.5 462.2 87.4 462.2 88.3C462.2 89.3 461.9 90.3 461.7 91.3C461.5 92.2 460.9 93.2 460.8 94.1C460.7 95.0 461.1 95.9 461.0 96.6C461.0 97.3 460.7 98.0 460.6 98.3" stroke="#e6dfd2" stroke-width="1.0" opacity="0.35"/>
<path d="M462.2 74.6C462.2 74.9 462.5 75.5 462.6 76.1C462.8 76.7 463.0 77.4 463.0 78.1C463.0 78.9 462.7 79.7 462.8 80.6C462.8 81.4 463.0 82.3 463.1 83.2C463.2 84.0 463.2 84.9 463.3 85.8C463.4 86.6 463.6 87.4 463.7 88.2C463.7 89.0 463.7 89.8 463.6 90.6C463.4 91.4 463.1 92.3 463.0 93.2C462.9 94.0 462.8 94.9 462.9 95.8C462.9 96.6 463.2 97.5 463.2 98.2C463.2 99.0 463.1 99.7 463.0 100.3C462.9 100.8 462.7 101.5 462.6 101.7" stroke="#e6dfd2" stroke-width="1.0" opacity="0.32"/>
<path d="M460.8 73.7C460.9 73.9 461.2 74.5 461.4 75.1C461.5 75.6 461.5 76.3 461.5 77.0C461.5 77.7 461.2 78.5 461.3 79.3C461.4 80.1 462.1 80.8 462.2 81.7C462.3 82.5 461.7 83.5 461.7 84.4C461.7 85.3 462.0 86.2 462.2 87.1C462.3 87.9 462.4 88.8 462.6 89.6C462.7 90.5 463.0 91.2 463.1 92.0C463.1 92.8 462.8 93.6 462.8 94.5C462.9 95.3 463.5 96.2 463.6 97.0C463.6 97.9 463.3 98.8 463.3 99.7C463.3 100.6 463.5 101.5 463.6 102.3C463.6 103.2 463.6 104.0 463.5 104.8C463.4 105.6 463.0 106.4 463.1 107.1C463.1 107.7 463.8 108.4 463.9 108.9C464.0 109.5 463.7 110.1 463.6 110.3" stroke="#e6dfd2" stroke-width="0.8" opacity="0.48"/>
<path d="M462.1 72.2C462.0 72.5 461.9 73.1 461.6 73.7C461.4 74.2 461.0 74.8 460.7 75.5C460.4 76.2 460.1 77.0 459.7 77.8C459.4 78.5 459.1 79.4 458.7 80.2C458.3 81.0 457.9 81.9 457.5 82.7C457.1 83.5 456.7 84.4 456.4 85.2C456.1 86.0 456.1 86.8 455.9 87.6C455.7 88.4 455.3 89.1 455.1 89.9C454.9 90.8 454.9 91.7 454.8 92.5C454.6 93.4 454.5 94.3 454.3 95.1C454.1 95.9 453.7 96.7 453.5 97.5C453.3 98.3 453.0 99.0 452.9 99.7C452.8 100.4 453.0 101.1 453.0 101.7C453.0 102.3 452.8 102.9 452.8 103.1" stroke="#e6dfd2" stroke-width="1.0" opacity="0.46"/>
<path d="M460.4 72.1C460.3 72.4 459.9 72.9 459.8 73.5C459.7 74.0 460.0 74.7 459.9 75.5C459.9 76.2 459.6 76.9 459.5 77.7C459.4 78.5 459.4 79.4 459.4 80.2C459.3 81.1 459.4 82.0 459.3 82.8C459.2 83.7 458.9 84.5 458.9 85.4C458.8 86.2 458.9 86.9 459.0 87.7C459.0 88.5 459.1 89.2 459.2 90.0C459.2 90.8 459.3 91.7 459.4 92.6C459.5 93.4 459.8 94.3 459.9 95.1C460.0 96.0 459.7 96.9 459.8 97.7C459.9 98.5 460.5 99.2 460.6 99.9C460.8 100.6 460.5 101.3 460.5 101.9C460.5 102.4 460.8 103.0 460.8 103.3" stroke="#e6dfd2" stroke-width="1.0" opacity="0.44"/>
<path d="M459.0 73.4C458.9 73.7 458.8 74.3 458.8 74.9C458.9 75.4 459.1 76.1 459.2 76.8C459.2 77.5 459.0 78.3 458.9 79.1C458.8 79.8 458.6 80.7 458.6 81.6C458.6 82.4 458.9 83.3 458.9 84.2C458.8 85.1 458.5 86.0 458.3 86.9C458.1 87.8 457.8 88.7 457.8 89.5C457.8 90.4 458.3 91.2 458.3 92.0C458.3 92.8 458.0 93.6 457.9 94.4C457.9 95.3 457.7 96.2 457.9 97.1C458.1 98.0 458.8 98.8 459.0 99.7C459.2 100.6 459.2 101.5 459.2 102.4C459.1 103.3 459.0 104.1 458.9 104.9C458.8 105.7 458.5 106.5 458.5 107.2C458.6 107.9 459.1 108.6 459.2 109.1C459.3 109.7 459.2 110.3 459.2 110.5" stroke="#e6dfd2" stroke-width="1.0" opacity="0.61"/>
<path d="M462.4 73.6C462.3 73.9 462.0 74.5 462.0 75.2C461.9 75.8 462.1 76.5 462.0 77.3C461.8 78.1 461.3 78.9 461.2 79.8C461.1 80.7 461.4 81.7 461.3 82.6C461.3 83.6 460.7 84.5 460.7 85.5C460.7 86.4 461.3 87.5 461.3 88.4C461.3 89.3 460.9 90.1 460.9 91.0C460.9 91.9 461.2 92.7 461.3 93.6C461.4 94.5 461.6 95.5 461.6 96.4C461.7 97.4 461.8 98.4 461.8 99.3C461.9 100.2 461.9 101.2 462.0 102.1C462.1 103.0 462.3 103.8 462.4 104.6C462.4 105.4 462.2 106.2 462.3 106.8C462.3 107.4 462.5 108.1 462.5 108.4" stroke="#e6dfd2" stroke-width="1.2" opacity="0.45"/>
<path d="M447.3 83.2C447.3 83.5 447.4 84.4 447.2 85.0C447.1 85.7 446.6 86.5 446.3 87.3C446.1 88.2 446.0 89.2 445.8 90.1C445.6 91.1 445.5 92.2 445.3 93.3C445.1 94.3 445.0 95.4 444.7 96.5C444.5 97.5 444.1 98.6 444.0 99.6C443.9 100.6 444.1 101.4 444.0 102.3C443.8 103.2 443.3 104.1 443.1 105.0C442.9 106.0 442.8 106.9 442.9 107.9C443.0 108.9 443.5 109.9 443.6 110.9C443.6 111.9 443.2 112.9 443.2 113.9C443.2 114.9 443.7 115.9 443.6 117.0C443.6 118.0 443.1 119.2 443.0 120.2C442.8 121.1 442.7 121.9 442.7 122.9C442.7 123.8 442.9 124.8 443.0 125.8C443.1 126.9 443.2 127.9 443.3 129.0C443.4 130.0 443.5 131.1 443.6 132.2C443.6 133.2 443.6 134.3 443.7 135.3C443.9 136.3 444.5 137.3 444.5 138.2C444.4 139.1 443.5 140.1 443.5 140.9C443.5 141.7 444.5 142.4 444.6 143.1C444.7 143.7 444.3 144.5 444.2 144.8" stroke="#b9aea3" stroke-width="4.8" opacity="0.26" filter="url(#halo)"/>
<path d="M447.3 83.2C447.3 83.5 447.4 84.4 447.2 85.0C447.1 85.7 446.6 86.5 446.3 87.3C446.1 88.2 446.0 89.2 445.8 90.1C445.6 91.1 445.5 92.2 445.3 93.3C445.1 94.3 445.0 95.4 444.7 96.5C444.5 97.5 444.1 98.6 444.0 99.6C443.9 100.6 444.1 101.4 444.0 102.3C443.8 103.2 443.3 104.1 443.1 105.0C442.9 106.0 442.8 106.9 442.9 107.9C443.0 108.9 443.5 109.9 443.6 110.9C443.6 111.9 443.2 112.9 443.2 113.9C443.2 114.9 443.7 115.9 443.6 117.0C443.6 118.0 443.1 119.2 443.0 120.2C442.8 121.1 442.7 121.9 442.7 122.9C442.7 123.8 442.9 124.8 443.0 125.8C443.1 126.9 443.2 127.9 443.3 129.0C443.4 130.0 443.5 131.1 443.6 132.2C443.6 133.2 443.6 134.3 443.7 135.3C443.9 136.3 444.5 137.3 444.5 138.2C444.4 139.1 443.5 140.1 443.5 140.9C443.5 141.7 444.5 142.4 444.6 143.1C444.7 143.7 444.3 144.5 444.2 144.8" stroke="#b9aea3" stroke-width="1.6" opacity="0.65"/>
<path d="M445.8 90.1L444.7 90.7M444.0 99.6L445.7 101.3M442.9 107.9L445.3 109.4M443.0 125.8L443.9 126.4M443.7 135.3L442.0 137.0M444.6 143.1L443.8 143.9" stroke="#b9aea3" stroke-width="1.0" opacity="0.455"/>
<path d="M453.5 85.3C453.4 85.6 453.2 86.4 453.0 87.1C452.9 87.8 452.5 88.7 452.5 89.6C452.5 90.5 452.9 91.7 452.8 92.7C452.7 93.8 452.0 94.8 451.8 95.9C451.5 97.0 451.4 98.2 451.4 99.3C451.3 100.5 451.3 101.7 451.2 102.7C451.1 103.8 451.1 104.8 450.8 105.8C450.4 106.9 449.6 107.8 449.4 108.8C449.1 109.9 449.2 111.1 449.1 112.2C449.0 113.3 448.7 114.5 448.5 115.6C448.4 116.7 448.5 117.9 448.3 118.9C448.1 120.0 447.5 120.9 447.4 121.9C447.2 122.8 447.4 123.7 447.4 124.4C447.4 125.2 447.3 126.0 447.3 126.3" stroke="#b9aea3" stroke-width="4.8" opacity="0.26" filter="url(#halo)"/>
<path d="M453.5 85.3C453.4 85.6 453.2 86.4 453.0 87.1C452.9 87.8 452.5 88.7 452.5 89.6C452.5 90.5 452.9 91.7 452.8 92.7C452.7 93.8 452.0 94.8 451.8 95.9C451.5 97.0 451.4 98.2 451.4 99.3C451.3 100.5 451.3 101.7 451.2 102.7C451.1 103.8 451.1 104.8 450.8 105.8C450.4 106.9 449.6 107.8 449.4 108.8C449.1 109.9 449.2 111.1 449.1 112.2C449.0 113.3 448.7 114.5 448.5 115.6C448.4 116.7 448.5 117.9 448.3 118.9C448.1 120.0 447.5 120.9 447.4 121.9C447.2 122.8 447.4 123.7 447.4 124.4C447.4 125.2 447.3 126.0 447.3 126.3" stroke="#b9aea3" stroke-width="1.6" opacity="0.65"/>
<path d="M452.8 92.7L450.2 94.2M451.2 102.7L452.6 104.0" stroke="#b9aea3" stroke-width="1.0" opacity="0.455"/>
<path d="M457.6 111.9C457.5 112.3 456.8 113.1 457.0 113.8C457.1 114.5 458.3 115.3 458.5 116.2C458.7 117.0 458.2 118.1 458.2 119.1C458.1 120.1 458.1 121.2 458.1 122.3C458.1 123.4 458.2 124.6 458.2 125.7C458.2 126.8 458.0 128.0 458.1 129.2C458.3 130.3 458.9 131.5 459.0 132.4C459.1 133.4 458.7 134.2 458.6 135.0C458.5 135.9 458.4 136.8 458.5 137.8C458.5 138.7 458.7 139.6 458.8 140.5C458.9 141.5 459.2 142.4 459.3 143.3C459.5 144.3 459.8 145.2 459.7 146.2C459.7 147.1 459.0 148.1 459.0 149.0C459.0 150.0 459.7 150.9 459.8 151.8C459.8 152.7 459.4 153.6 459.4 154.5C459.4 155.4 460.0 156.1 460.0 157.1C460.0 158.1 459.7 159.3 459.6 160.4C459.5 161.5 459.3 162.7 459.3 163.8C459.4 165.0 459.8 166.1 459.9 167.2C459.9 168.3 460.0 169.4 459.9 170.5C459.7 171.5 459.1 172.4 459.0 173.3C458.9 174.2 459.3 175.1 459.4 175.8C459.4 176.5 459.2 177.3 459.2 177.6" stroke="#b9aea3" stroke-width="4.2" opacity="0.28" filter="url(#halo)"/>
<path d="M457.6 111.9C457.5 112.3 456.8 113.1 457.0 113.8C457.1 114.5 458.3 115.3 458.5 116.2C458.7 117.0 458.2 118.1 458.2 119.1C458.1 120.1 458.1 121.2 458.1 122.3C458.1 123.4 458.2 124.6 458.2 125.7C458.2 126.8 458.0 128.0 458.1 129.2C458.3 130.3 458.9 131.5 459.0 132.4C459.1 133.4 458.7 134.2 458.6 135.0C458.5 135.9 458.4 136.8 458.5 137.8C458.5 138.7 458.7 139.6 458.8 140.5C458.9 141.5 459.2 142.4 459.3 143.3C459.5 144.3 459.8 145.2 459.7 146.2C459.7 147.1 459.0 148.1 459.0 149.0C459.0 150.0 459.7 150.9 459.8 151.8C459.8 152.7 459.4 153.6 459.4 154.5C459.4 155.4 460.0 156.1 460.0 157.1C460.0 158.1 459.7 159.3 459.6 160.4C459.5 161.5 459.3 162.7 459.3 163.8C459.4 165.0 459.8 166.1 459.9 167.2C459.9 168.3 460.0 169.4 459.9 170.5C459.7 171.5 459.1 172.4 459.0 173.3C458.9 174.2 459.3 175.1 459.4 175.8C459.4 176.5 459.2 177.3 459.2 177.6" stroke="#b9aea3" stroke-width="1.4" opacity="0.7"/>
<path d="M458.2 119.1L460.1 120.7M458.1 129.2L460.1 130.3M458.5 137.8L460.6 139.2M459.7 146.2L461.0 147.2M459.3 163.8L458.4 164.6" stroke="#b9aea3" stroke-width="0.8" opacity="0.49"/>
<path d="M468.8 95.5C468.9 95.8 469.1 96.7 469.2 97.4C469.3 98.1 469.3 99.0 469.4 99.9C469.5 100.9 469.4 101.9 469.7 103.0C469.9 104.0 470.8 105.0 471.0 106.1C471.2 107.2 470.9 108.5 470.9 109.6C471.0 110.8 470.9 111.9 471.0 113.0C471.2 114.1 471.8 115.1 471.9 116.1C471.9 117.1 471.3 118.1 471.5 119.1C471.7 120.0 472.7 121.0 473.0 121.9C473.2 122.9 473.0 123.9 473.0 124.9C472.9 125.9 472.4 126.9 472.5 127.9C472.5 128.9 473.2 129.9 473.2 130.8C473.2 131.8 472.6 132.8 472.5 133.7C472.4 134.7 472.4 135.6 472.5 136.6C472.6 137.5 473.2 138.5 473.3 139.5C473.4 140.5 473.0 141.5 472.9 142.5C472.7 143.5 472.6 144.6 472.5 145.6C472.5 146.6 472.5 147.6 472.5 148.5C472.6 149.5 472.8 150.4 472.9 151.2C472.9 152.0 472.8 152.8 472.7 153.4C472.5 154.1 472.0 154.8 471.9 155.0" stroke="#b9aea3" stroke-width="4.5" opacity="0.28" filter="url(#halo)"/>
<path d="M468.8 95.5C468.9 95.8 469.1 96.7 469.2 97.4C469.3 98.1 469.3 99.0 469.4 99.9C469.5 100.9 469.4 101.9 469.7 103.0C469.9 104.0 470.8 105.0 471.0 106.1C471.2 107.2 470.9 108.5 470.9 109.6C471.0 110.8 470.9 111.9 471.0 113.0C471.2 114.1 471.8 115.1 471.9 116.1C471.9 117.1 471.3 118.1 471.5 119.1C471.7 120.0 472.7 121.0 473.0 121.9C473.2 122.9 473.0 123.9 473.0 124.9C472.9 125.9 472.4 126.9 472.5 127.9C472.5 128.9 473.2 129.9 473.2 130.8C473.2 131.8 472.6 132.8 472.5 133.7C472.4 134.7 472.4 135.6 472.5 136.6C472.6 137.5 473.2 138.5 473.3 139.5C473.4 140.5 473.0 141.5 472.9 142.5C472.7 143.5 472.6 144.6 472.5 145.6C472.5 146.6 472.5 147.6 472.5 148.5C472.6 149.5 472.8 150.4 472.9 151.2C472.9 152.0 472.8 152.8 472.7 153.4C472.5 154.1 472.0 154.8 471.9 155.0" stroke="#b9aea3" stroke-width="1.5" opacity="0.7"/>
<path d="M469.7 103.0L468.7 104.1M473.0 121.9L474.5 122.6M473.2 130.8L471.6 132.1M473.3 139.5L472.1 140.5M472.5 148.5L470.4 150.4" stroke="#b9aea3" stroke-width="0.9" opacity="0.49"/>
<path d="M476.0 101.7C476.0 102.2 475.6 103.5 475.7 104.7C475.8 105.8 476.5 107.4 476.8 108.6C477.2 109.8 477.6 111.0 477.6 112.0C477.7 113.0 477.2 114.0 476.9 114.7C476.6 115.4 476.2 115.8 476.0 116.1" stroke="#b9aea3" stroke-width="5.1" opacity="0.24" filter="url(#halo)"/>
<path d="M476.0 101.7C476.0 102.2 475.6 103.5 475.7 104.7C475.8 105.8 476.5 107.4 476.8 108.6C477.2 109.8 477.6 111.0 477.6 112.0C477.7 113.0 477.2 114.0 476.9 114.7C476.6 115.4 476.2 115.8 476.0 116.1" stroke="#b9aea3" stroke-width="1.7" opacity="0.6"/>
<path d="M463.7 105.8C463.8 106.1 464.0 106.9 464.1 107.7C464.1 108.5 463.9 109.4 463.9 110.3C463.8 111.3 463.9 112.4 463.8 113.5C463.7 114.6 463.4 115.7 463.3 116.9C463.2 118.0 463.0 119.2 463.1 120.3C463.3 121.4 463.9 122.5 464.0 123.5C464.1 124.5 463.9 125.3 463.7 126.3C463.6 127.3 463.0 128.6 463.0 129.8C463.0 130.9 463.9 132.1 463.9 133.2C464.0 134.3 463.3 135.3 463.2 136.3C463.0 137.2 463.0 138.1 462.9 138.8C462.8 139.6 462.7 140.4 462.7 140.7" stroke="#b9aea3" stroke-width="3.9" opacity="0.24" filter="url(#halo)"/>
<path d="M463.7 105.8C463.8 106.1 464.0 106.9 464.1 107.7C464.1 108.5 463.9 109.4 463.9 110.3C463.8 111.3 463.9 112.4 463.8 113.5C463.7 114.6 463.4 115.7 463.3 116.9C463.2 118.0 463.0 119.2 463.1 120.3C463.3 121.4 463.9 122.5 464.0 123.5C464.1 124.5 463.9 125.3 463.7 126.3C463.6 127.3 463.0 128.6 463.0 129.8C463.0 130.9 463.9 132.1 463.9 133.2C464.0 134.3 463.3 135.3 463.2 136.3C463.0 137.2 463.0 138.1 462.9 138.8C462.8 139.6 462.7 140.4 462.7 140.7" stroke="#b9aea3" stroke-width="1.3" opacity="0.6"/>
<path d="M463.8 113.5L465.3 114.8M464.0 123.5L462.4 125.0" stroke="#b9aea3" stroke-width="0.8" opacity="0.42"/>
<path d="M488.7 130.4C488.7 130.8 488.4 131.7 488.2 132.7C488.1 133.6 488.0 134.8 487.7 135.9C487.4 137.1 486.7 138.3 486.4 139.4C486.2 140.5 486.3 141.7 486.1 142.7C485.9 143.7 485.5 144.6 485.2 145.6C485.0 146.6 484.7 147.6 484.7 148.5C484.7 149.5 485.1 150.5 485.1 151.3C485.0 152.0 484.4 152.7 484.2 153.0" stroke="#b9aea3" stroke-width="3.6" opacity="0.2" filter="url(#halo)"/>
<path d="M488.7 130.4C488.7 130.8 488.4 131.7 488.2 132.7C488.1 133.6 488.0 134.8 487.7 135.9C487.4 137.1 486.7 138.3 486.4 139.4C486.2 140.5 486.3 141.7 486.1 142.7C485.9 143.7 485.5 144.6 485.2 145.6C485.0 146.6 484.7 147.6 484.7 148.5C484.7 149.5 485.1 150.5 485.1 151.3C485.0 152.0 484.4 152.7 484.2 153.0" stroke="#b9aea3" stroke-width="1.2" opacity="0.5"/>
<path d="M486.4 139.4L488.1 141.4M484.7 148.5L486.4 149.9" stroke="#b9aea3" stroke-width="0.7" opacity="0.35"/>
<path d="M465.8 62.7C466.2 63.0 467.6 64.3 468.6 64.7C469.6 65.1 471.2 65.0 471.7 65.0" stroke="#c4d35c" stroke-width="0.9"/>
<path d="M467.4 63.9C467.6 64.0 467.9 64.5 468.6 64.7C469.3 64.9 471.2 65.0 471.7 65.0" stroke="#6aa52c" stroke-width="2.4"/>
<path d="M465.8 62.7C465.6 63.3 464.9 65.2 465.0 66.3C465.1 67.4 466.0 68.8 466.2 69.3" stroke="#c4d35c" stroke-width="0.9"/>
<path d="M465.3 64.9C465.3 65.1 464.9 65.6 465.0 66.3C465.2 67.0 466.0 68.8 466.2 69.3" stroke="#478023" stroke-width="2.4"/>
<path d="M465.8 62.7C465.2 62.6 463.2 62.0 462.1 62.1C460.9 62.1 459.5 62.9 458.9 63.1" stroke="#c4d35c" stroke-width="0.9"/>
<path d="M463.6 62.3C463.3 62.3 462.8 61.9 462.1 62.1C461.3 62.2 459.5 62.9 458.9 63.1" stroke="#9cc537" stroke-width="2.4"/>
<path d="M465.8 62.7C465.6 62.2 465.2 60.3 464.5 59.4C463.9 58.5 462.4 57.7 461.9 57.4" stroke="#c4d35c" stroke-width="0.9"/>
<path d="M465.0 60.7C464.9 60.5 465.0 59.9 464.5 59.4C464.0 58.8 462.4 57.7 461.9 57.4" stroke="#6aa52c" stroke-width="2.4"/>
<path d="M465.8 62.7C466.3 62.5 468.1 62.0 469.0 61.4C469.8 60.8 470.5 59.5 470.8 59.1" stroke="#c4d35c" stroke-width="0.9"/>
<path d="M467.7 61.9C467.9 61.8 468.5 61.9 469.0 61.4C469.5 60.9 470.5 59.5 470.8 59.1" stroke="#478023" stroke-width="2.4"/>
<path d="M465.8 62.7C465.3 61.4 463.4 56.7 462.7 54.5C462.0 52.3 461.8 50.2 461.7 49.4" stroke="#c4d35c" stroke-width="0.9"/>
<path d="M463.9 57.8C463.7 57.2 463.1 55.9 462.7 54.5C462.3 53.1 461.8 50.2 461.7 49.4" stroke="#478023" stroke-width="3.6"/>
<path d="M465.8 62.7C466.5 61.0 469.4 54.9 469.9 52.5C470.4 50.1 469.0 49.0 468.8 48.4" stroke="#c4d35c" stroke-width="0.9"/>
<path d="M468.2 56.6C468.5 55.9 469.8 53.8 469.9 52.5C470.0 51.1 469.0 49.0 468.8 48.4" stroke="#478023" stroke-width="3.6"/>
<path d="M465.8 62.7C467.5 62.2 472.4 60.5 476.0 59.6C479.6 58.8 485.4 57.9 487.3 57.6" stroke="#c4d35c" stroke-width="0.9"/>
<path d="M471.9 60.9C472.6 60.7 473.5 60.2 476.0 59.6C478.6 59.1 485.4 57.9 487.3 57.6" stroke="#478023" stroke-width="2.4"/>
<path d="M465.8 63.7C464.1 64.4 458.1 67.2 455.5 67.8C452.9 68.5 451.2 67.8 450.4 67.8" stroke="#c4d35c" stroke-width="0.9"/>
<path d="M459.6 66.2C458.9 66.5 457.1 67.6 455.5 67.8C454.0 68.1 451.2 67.8 450.4 67.8" stroke="#6aa52c" stroke-width="3.1"/>
<path d="M466.8 63.7C467.5 64.9 469.9 68.5 470.9 70.9C471.9 73.3 472.6 76.9 472.9 78.1" stroke="#c4d35c" stroke-width="0.9"/>
<path d="M469.3 68.1C469.5 68.5 470.3 69.2 470.9 70.9C471.5 72.6 472.6 76.9 472.9 78.1" stroke="#478023" stroke-width="3.1"/>
<path d="M465.8 63.7C464.7 64.9 461.2 69.2 459.6 70.9C458.1 72.6 457.1 73.5 456.5 74.0" stroke="#c4d35c" stroke-width="0.9"/>
<path d="M462.1 68.1C461.7 68.5 460.5 69.9 459.6 70.9C458.7 71.9 457.1 73.5 456.5 74.0" stroke="#6aa52c" stroke-width="3.1"/>
<circle cx="465.8" cy="62.7" r="1.1" fill="#c4d35c" stroke="none"/>
</g>
<rect x="483.2" y="191.0" width="3.6" height="21.2" fill="#fff"/>
</g>
<g clip-path="url(#cp8)">
<rect x="496.5" y="37.8" width="49.5" height="177.8" fill="url(#bg8)"/>
<ellipse cx="518.7" cy="63.1" rx="11.0" ry="6.0" fill="#4f8226" opacity="0.45" filter="url(#gblob)"/>
<g filter="url(#soft)" fill="none" stroke-linecap="round" stroke-linejoin="round">
<path d="M520.1 65.9C520.1 66.1 520.5 66.8 520.4 67.4C520.4 68.0 519.8 68.8 519.8 69.6C519.9 70.3 520.7 71.1 520.8 72.0C520.9 72.9 520.3 73.9 520.3 74.8C520.4 75.7 521.0 76.7 521.1 77.6C521.3 78.5 521.2 79.5 521.2 80.4C521.1 81.3 520.5 82.2 520.6 83.0C520.7 83.9 521.5 84.7 521.6 85.6C521.8 86.5 521.5 87.5 521.5 88.4C521.6 89.3 521.9 90.3 522.0 91.2C522.2 92.2 522.3 93.1 522.4 94.0C522.5 94.8 522.5 95.7 522.6 96.5C522.8 97.2 523.1 97.9 523.2 98.5C523.3 99.1 523.1 99.8 523.1 100.1" stroke="#d0c7b9" stroke-width="1.0" opacity="0.32"/>
<path d="M520.8 66.3C520.8 66.5 521.0 67.2 521.1 67.9C521.3 68.5 521.5 69.3 521.7 70.2C521.9 71.0 522.4 71.9 522.5 72.8C522.6 73.7 522.2 74.8 522.4 75.7C522.7 76.6 523.6 77.2 523.9 78.1C524.3 78.9 524.1 79.9 524.3 80.8C524.5 81.7 524.5 82.8 524.9 83.7C525.4 84.6 526.4 85.3 526.7 86.1C527.1 86.9 527.0 87.9 527.2 88.6C527.4 89.2 527.8 89.9 527.9 90.2" stroke="#d0c7b9" stroke-width="0.9" opacity="0.59"/>
<path d="M518.8 67.2C518.8 67.4 518.7 68.0 518.7 68.5C518.7 69.0 518.9 69.6 518.9 70.2C518.9 70.8 518.7 71.4 518.7 72.1C518.7 72.8 519.1 73.5 519.1 74.2C519.0 75.0 518.5 75.8 518.4 76.6C518.3 77.4 518.4 78.2 518.4 79.1C518.4 80.0 518.5 80.8 518.6 81.7C518.7 82.6 519.1 83.5 519.1 84.4C519.1 85.3 518.8 86.2 518.8 87.1C518.8 88.0 518.9 88.9 519.0 89.8C519.1 90.7 519.2 91.6 519.2 92.4C519.1 93.3 518.7 94.2 518.6 95.0C518.5 95.8 518.5 96.6 518.7 97.4C518.9 98.2 519.7 98.9 519.8 99.8C519.9 100.6 519.3 101.5 519.3 102.4C519.3 103.3 519.6 104.1 519.8 105.0C520.0 105.9 520.2 106.8 520.4 107.7C520.6 108.6 520.8 109.5 520.8 110.4C520.9 111.3 520.7 112.2 520.8 113.1C520.9 114.0 521.3 114.8 521.4 115.7C521.5 116.5 521.5 117.4 521.6 118.2C521.7 119.0 521.7 119.8 522.0 120.6C522.2 121.3 522.7 122.0 522.8 122.7C522.9 123.3 522.5 124.1 522.5 124.7C522.4 125.3 522.4 125.9 522.5 126.4C522.6 126.9 523.0 127.4 523.2 127.6" stroke="#d0c7b9" stroke-width="1.0" opacity="0.40"/>
<path d="M519.7 67.3C519.7 67.5 519.8 68.1 519.8 68.6C519.8 69.0 519.8 69.6 519.8 70.1C519.7 70.7 519.4 71.3 519.5 72.0C519.5 72.6 520.0 73.3 520.1 74.0C520.2 74.7 520.1 75.4 520.1 76.2C520.2 76.9 520.1 77.7 520.2 78.5C520.3 79.3 520.7 80.1 520.7 81.0C520.8 81.8 520.6 82.7 520.5 83.6C520.5 84.4 520.6 85.3 520.5 86.2C520.5 87.0 520.4 87.9 520.5 88.8C520.6 89.6 521.2 90.5 521.3 91.3C521.4 92.2 521.2 93.0 521.2 93.9C521.2 94.7 521.6 95.5 521.5 96.3C521.4 97.1 520.9 97.9 520.8 98.6C520.7 99.4 520.8 100.2 521.0 100.9C521.1 101.7 521.7 102.5 521.6 103.4C521.6 104.2 520.9 105.1 520.7 105.9C520.5 106.8 520.7 107.6 520.7 108.5C520.8 109.4 521.0 110.2 521.0 111.1C521.1 112.0 520.9 112.8 521.0 113.7C521.1 114.6 521.3 115.4 521.4 116.3C521.5 117.1 521.6 117.9 521.5 118.7C521.5 119.5 521.0 120.3 521.0 121.1C521.0 121.8 521.4 122.6 521.4 123.3C521.5 124.0 521.3 124.7 521.2 125.3C521.2 126.0 521.1 126.6 521.2 127.1C521.2 127.7 521.4 128.2 521.4 128.7C521.3 129.2 520.9 129.8 520.9 130.0" stroke="#d0c7b9" stroke-width="0.8" opacity="0.51"/>
<path d="M517.2 68.1C517.3 68.4 517.3 69.4 517.3 70.3C517.3 71.2 517.2 72.5 517.3 73.6C517.3 74.6 517.4 75.9 517.6 76.8C517.9 77.7 518.4 78.3 518.8 79.0C519.2 79.8 519.5 80.7 519.8 81.5C520.1 82.3 520.2 83.2 520.3 83.9C520.5 84.5 520.7 85.2 520.8 85.5" stroke="#d0c7b9" stroke-width="0.8" opacity="0.55"/>
<path d="M520.2 68.2C520.2 68.5 520.3 69.1 520.1 69.6C520.0 70.1 519.6 70.5 519.4 71.1C519.2 71.7 519.2 72.3 519.0 73.0C518.8 73.7 518.5 74.3 518.4 75.1C518.3 75.9 518.7 76.7 518.6 77.5C518.5 78.4 518.2 79.1 518.1 80.0C517.9 80.8 517.8 81.7 517.7 82.5C517.5 83.4 517.4 84.3 517.1 85.1C516.9 86.0 516.3 86.8 516.2 87.6C516.0 88.5 516.4 89.4 516.4 90.3C516.3 91.1 515.7 91.9 515.6 92.6C515.5 93.4 515.7 94.2 515.7 95.0C515.7 95.8 515.5 96.5 515.4 97.3C515.3 98.1 515.3 98.9 515.2 99.7C515.0 100.6 514.7 101.4 514.7 102.3C514.6 103.1 514.7 104.0 514.9 104.9C515.0 105.7 515.4 106.6 515.4 107.5C515.5 108.3 515.2 109.2 515.2 110.0C515.2 110.8 515.4 111.7 515.3 112.4C515.2 113.2 514.7 114.0 514.6 114.8C514.5 115.5 514.7 116.2 514.7 116.9C514.8 117.6 514.8 118.2 514.8 118.8C514.8 119.4 514.7 119.9 514.8 120.4C514.8 120.9 515.0 121.5 515.1 121.7" stroke="#d0c7b9" stroke-width="1.0" opacity="0.45"/>
<path d="M519.9 67.1C519.9 67.4 520.1 68.1 519.9 68.7C519.7 69.2 519.0 69.7 518.7 70.4C518.4 71.1 518.3 71.9 518.0 72.7C517.7 73.5 517.2 74.2 517.0 75.1C516.8 76.0 517.0 77.0 516.9 77.9C516.8 78.7 516.5 79.6 516.3 80.4C516.0 81.2 515.5 81.9 515.3 82.6C515.1 83.4 515.1 84.2 515.1 85.0C515.0 85.9 515.3 86.7 515.2 87.6C515.1 88.4 514.7 89.3 514.7 90.2C514.6 91.0 514.9 91.9 514.9 92.7C514.8 93.5 514.4 94.2 514.4 94.9C514.5 95.6 515.0 96.3 515.0 96.8C515.1 97.4 514.7 98.0 514.6 98.2" stroke="#d0c7b9" stroke-width="0.8" opacity="0.52"/>
<path d="M518.3 68.3C518.2 68.5 517.7 69.1 517.8 69.6C517.9 70.1 518.7 70.7 518.7 71.4C518.8 72.0 518.0 72.7 518.0 73.4C518.0 74.1 518.6 74.9 518.5 75.7C518.5 76.5 517.7 77.3 517.7 78.2C517.7 79.0 518.6 79.9 518.6 80.8C518.6 81.7 517.9 82.6 517.7 83.5C517.6 84.4 517.9 85.3 517.9 86.2C517.9 87.1 517.7 88.0 517.7 88.8C517.6 89.7 517.4 90.6 517.5 91.4C517.6 92.3 518.1 93.0 518.2 93.9C518.3 94.7 518.1 95.5 518.0 96.3C517.9 97.1 517.6 98.0 517.5 98.8C517.5 99.7 517.8 100.6 517.9 101.5C517.9 102.4 517.8 103.3 517.8 104.2C517.8 105.1 517.8 106.1 517.7 106.9C517.6 107.8 517.1 108.7 517.0 109.5C516.8 110.4 516.9 111.2 516.8 112.0C516.8 112.8 516.7 113.6 516.8 114.3C516.9 115.0 517.3 115.7 517.3 116.4C517.2 117.0 516.6 117.6 516.5 118.1C516.4 118.6 516.8 119.2 516.9 119.4" stroke="#d0c7b9" stroke-width="0.8" opacity="0.38"/>
<path d="M518.7 67.4C518.8 67.6 518.9 68.2 518.8 68.7C518.8 69.1 518.7 69.6 518.7 70.2C518.7 70.8 518.7 71.4 518.7 72.0C518.7 72.6 518.7 73.3 518.6 74.0C518.6 74.7 518.7 75.5 518.6 76.2C518.6 77.0 518.3 77.7 518.3 78.5C518.3 79.3 518.7 80.2 518.7 81.0C518.7 81.8 518.2 82.7 518.2 83.5C518.2 84.4 518.8 85.3 518.8 86.1C518.8 87.0 518.5 87.8 518.4 88.7C518.3 89.6 518.3 90.4 518.3 91.3C518.3 92.1 518.5 93.0 518.3 93.8C518.2 94.6 517.7 95.4 517.6 96.2C517.5 97.0 518.0 97.7 517.9 98.5C517.8 99.3 517.4 100.0 517.3 100.8C517.1 101.5 516.9 102.3 516.9 103.2C516.9 104.0 517.4 104.9 517.4 105.7C517.3 106.6 516.6 107.4 516.5 108.2C516.3 109.1 516.3 110.0 516.3 110.8C516.2 111.7 516.1 112.6 516.1 113.4C516.2 114.3 516.6 115.2 516.5 116.0C516.4 116.9 516.0 117.7 515.8 118.4C515.6 119.2 515.4 120.0 515.4 120.8C515.3 121.5 515.5 122.3 515.4 123.0C515.4 123.7 515.3 124.4 515.3 125.0C515.2 125.6 515.1 126.2 515.0 126.8C514.9 127.4 514.9 127.9 514.9 128.4C514.8 128.8 514.5 129.4 514.5 129.6" stroke="#d0c7b9" stroke-width="1.0" opacity="0.34"/>
<path d="M518.8 66.4C518.8 66.6 518.6 67.2 518.4 67.8C518.2 68.3 517.9 68.9 517.6 69.5C517.3 70.2 517.0 70.9 516.8 71.6C516.7 72.4 517.0 73.4 516.8 74.2C516.6 75.0 516.0 75.8 515.7 76.6C515.4 77.4 515.4 78.3 515.2 79.0C515.1 79.8 514.9 80.5 514.9 81.3C514.9 82.2 515.2 83.1 515.3 84.0C515.4 84.9 515.4 85.9 515.4 86.9C515.3 87.8 515.2 88.8 515.1 89.7C515.1 90.7 514.9 91.6 514.9 92.4C515.0 93.2 515.5 94.0 515.6 94.6C515.7 95.3 515.5 96.0 515.4 96.3" stroke="#d0c7b9" stroke-width="0.8" opacity="0.49"/>
<path d="M519.4 66.4C519.4 66.7 519.5 67.6 519.4 68.3C519.2 69.0 518.6 69.9 518.4 70.8C518.3 71.7 518.3 72.8 518.3 73.8C518.2 74.7 518.1 75.6 517.9 76.6C517.8 77.5 517.4 78.3 517.2 79.3C517.0 80.2 516.9 81.3 516.8 82.2C516.7 83.1 516.5 84.0 516.4 84.8C516.3 85.5 516.2 86.3 516.1 86.6" stroke="#d0c7b9" stroke-width="1.0" opacity="0.31"/>
<path d="M520.9 68.2C520.9 68.4 520.9 69.0 520.9 69.5C520.9 69.9 520.9 70.5 521.0 71.1C521.0 71.7 521.3 72.3 521.4 72.9C521.6 73.6 521.6 74.3 521.7 75.0C521.8 75.8 522.1 76.5 522.1 77.3C522.1 78.1 521.7 79.0 521.8 79.8C521.9 80.7 522.5 81.4 522.8 82.3C523.0 83.1 523.1 84.0 523.2 84.8C523.3 85.7 523.4 86.6 523.5 87.4C523.5 88.3 523.7 89.1 523.8 89.9C523.9 90.8 523.9 91.6 524.0 92.4C524.2 93.2 524.3 93.9 524.4 94.7C524.6 95.4 524.8 96.2 524.9 97.0C525.1 97.7 525.0 98.6 525.1 99.4C525.2 100.3 525.5 101.1 525.6 101.9C525.7 102.8 525.6 103.7 525.7 104.6C525.9 105.4 526.3 106.2 526.5 107.1C526.8 107.9 527.0 108.8 527.1 109.6C527.3 110.4 527.4 111.2 527.4 112.0C527.5 112.8 527.4 113.7 527.5 114.4C527.6 115.1 527.9 115.8 528.0 116.5C528.1 117.2 528.0 117.8 528.0 118.4C528.1 119.0 528.1 119.6 528.3 120.0C528.4 120.5 528.7 121.1 528.8 121.3" stroke="#d0c7b9" stroke-width="0.8" opacity="0.54"/>
<path d="M519.2 67.1C519.1 67.3 518.7 67.9 518.5 68.4C518.4 68.9 518.5 69.6 518.4 70.2C518.3 70.9 518.1 71.6 517.9 72.3C517.7 73.1 517.4 73.8 517.3 74.7C517.2 75.5 517.6 76.5 517.4 77.4C517.3 78.3 516.8 79.1 516.6 80.0C516.3 80.9 516.0 81.8 515.8 82.7C515.6 83.6 515.5 84.5 515.4 85.4C515.3 86.3 515.3 87.2 515.3 88.1C515.3 89.0 515.5 89.8 515.4 90.6C515.4 91.4 515.2 92.2 515.0 93.0C514.8 93.9 514.2 94.7 514.2 95.6C514.2 96.5 514.9 97.4 515.0 98.4C515.1 99.3 514.8 100.2 514.7 101.1C514.5 102.0 514.0 102.9 514.0 103.8C513.9 104.6 514.3 105.5 514.4 106.3C514.5 107.2 514.6 108.0 514.6 108.7C514.6 109.5 514.6 110.2 514.5 110.9C514.3 111.5 513.9 112.1 513.9 112.6C513.8 113.2 514.2 113.8 514.2 114.1" stroke="#d0c7b9" stroke-width="0.9" opacity="0.47"/>
<path d="M519.1 66.4C519.2 66.6 519.6 67.1 519.6 67.6C519.6 68.1 519.3 68.7 519.3 69.2C519.3 69.8 519.4 70.4 519.5 71.0C519.7 71.6 519.8 72.3 519.9 73.0C520.1 73.7 520.4 74.4 520.5 75.1C520.5 75.9 520.2 76.7 520.2 77.5C520.2 78.4 520.3 79.2 520.5 80.0C520.6 80.8 520.9 81.6 521.1 82.5C521.2 83.3 521.2 84.2 521.4 85.1C521.5 85.9 521.8 86.8 521.9 87.6C522.1 88.4 522.4 89.3 522.5 90.1C522.5 91.0 522.4 91.8 522.4 92.7C522.4 93.5 522.3 94.3 522.4 95.1C522.5 95.9 523.1 96.6 523.1 97.4C523.2 98.1 522.6 98.9 522.6 99.7C522.7 100.5 523.2 101.3 523.4 102.1C523.6 102.9 523.5 103.7 523.6 104.6C523.7 105.4 524.0 106.2 524.0 107.1C523.9 108.0 523.3 108.9 523.2 109.8C523.2 110.6 523.6 111.5 523.7 112.3C523.7 113.2 523.6 114.0 523.7 114.9C523.8 115.7 523.9 116.5 524.1 117.3C524.3 118.1 524.8 118.8 524.9 119.6C525.0 120.3 524.8 121.1 524.7 121.8C524.7 122.5 524.6 123.2 524.7 123.8C524.8 124.4 525.2 125.0 525.2 125.6C525.2 126.1 524.5 126.7 524.5 127.2C524.4 127.6 524.9 128.2 525.0 128.4" stroke="#d0c7b9" stroke-width="0.6" opacity="0.37"/>
<path d="M519.1 65.8C519.0 66.1 518.7 66.8 518.9 67.3C519.0 67.7 519.7 68.2 520.0 68.8C520.3 69.4 520.5 70.0 520.5 70.8C520.5 71.5 519.8 72.4 520.0 73.2C520.1 74.0 520.9 74.7 521.2 75.5C521.5 76.3 521.7 77.2 521.8 78.0C521.9 78.9 521.6 79.8 521.8 80.7C521.9 81.6 522.5 82.4 522.6 83.2C522.7 84.1 522.4 85.0 522.6 85.8C522.8 86.6 523.6 87.2 523.7 88.0C523.9 88.8 523.4 89.7 523.5 90.5C523.7 91.3 524.5 92.0 524.7 92.8C525.0 93.6 525.0 94.5 525.1 95.4C525.2 96.3 525.2 97.2 525.4 98.1C525.6 98.9 526.0 99.7 526.2 100.6C526.4 101.4 526.4 102.3 526.6 103.0C526.8 103.8 527.0 104.6 527.4 105.2C527.7 105.9 528.4 106.5 528.5 107.1C528.6 107.7 528.1 108.5 528.1 109.0C528.2 109.5 528.7 110.0 528.8 110.2" stroke="#d0c7b9" stroke-width="0.7" opacity="0.48"/>
<path d="M518.1 66.1C518.1 66.3 518.0 67.0 518.1 67.5C518.1 68.1 518.3 68.7 518.5 69.3C518.7 69.9 518.8 70.7 519.2 71.4C519.5 72.1 520.3 72.7 520.6 73.5C520.9 74.3 520.6 75.3 520.8 76.2C520.9 77.1 521.4 77.9 521.6 78.8C521.8 79.6 521.9 80.5 522.1 81.4C522.4 82.2 522.8 83.0 523.1 83.8C523.3 84.6 523.4 85.4 523.4 86.2C523.5 87.0 523.4 87.8 523.5 88.6C523.6 89.4 523.9 90.2 524.0 91.1C524.1 92.0 523.9 92.9 524.0 93.7C524.1 94.6 524.5 95.5 524.6 96.3C524.7 97.2 524.8 98.0 524.7 98.8C524.6 99.7 524.2 100.5 524.2 101.2C524.2 102.0 524.5 102.7 524.6 103.3C524.6 104.0 524.6 104.6 524.6 105.1C524.6 105.6 524.7 106.2 524.7 106.5" stroke="#d0c7b9" stroke-width="0.8" opacity="0.57"/>
<path d="M520.1 68.2C520.0 68.5 519.9 69.2 519.8 69.9C519.7 70.6 519.5 71.4 519.6 72.3C519.7 73.1 520.2 74.1 520.2 75.1C520.1 76.0 519.2 76.9 519.1 77.9C519.1 78.8 519.7 79.7 519.6 80.6C519.5 81.5 518.8 82.3 518.6 83.2C518.4 84.2 518.7 85.3 518.4 86.2C518.1 87.2 517.2 88.0 516.9 88.8C516.7 89.7 517.0 90.7 516.8 91.4C516.6 92.1 516.1 92.7 516.0 92.9" stroke="#d0c7b9" stroke-width="0.9" opacity="0.49"/>
<path d="M517.8 66.3C517.9 66.5 518.2 67.2 518.2 67.8C518.2 68.4 518.0 69.3 518.1 70.1C518.1 70.9 518.3 71.7 518.6 72.6C518.9 73.5 519.5 74.3 519.7 75.2C519.8 76.1 519.4 77.2 519.4 78.1C519.5 79.0 519.8 79.8 520.0 80.6C520.2 81.4 520.8 82.2 520.7 83.1C520.7 84.0 519.9 85.0 519.9 85.9C519.9 86.8 520.6 87.7 520.7 88.6C520.8 89.5 520.7 90.4 520.7 91.2C520.6 92.0 520.6 92.7 520.5 93.3C520.5 94.0 520.5 94.6 520.5 94.9" stroke="#d0c7b9" stroke-width="1.0" opacity="0.38"/>
<path d="M519.4 66.9C519.3 67.1 519.0 67.8 519.0 68.4C519.0 69.0 519.3 69.8 519.3 70.6C519.3 71.4 519.2 72.3 519.0 73.2C518.9 74.0 518.4 74.9 518.3 75.9C518.2 76.8 518.6 77.8 518.5 78.7C518.3 79.6 517.6 80.3 517.3 81.1C517.1 82.0 516.9 82.8 516.8 83.7C516.7 84.6 517.1 85.7 516.8 86.6C516.6 87.5 515.8 88.3 515.5 89.2C515.2 90.0 515.2 91.0 515.0 91.8C514.8 92.6 514.4 93.3 514.3 93.9C514.1 94.5 514.0 95.2 514.0 95.5" stroke="#d0c7b9" stroke-width="1.0" opacity="0.56"/>
<path d="M518.7 68.4C518.7 68.7 518.6 69.3 518.5 69.8C518.4 70.4 518.4 71.1 518.3 71.8C518.2 72.5 517.9 73.3 518.0 74.1C518.0 74.9 518.5 75.8 518.6 76.7C518.7 77.5 518.7 78.4 518.5 79.3C518.3 80.2 517.6 81.0 517.5 81.8C517.4 82.6 517.7 83.5 517.7 84.3C517.7 85.1 517.5 85.9 517.3 86.7C517.0 87.5 516.5 88.3 516.3 89.2C516.2 90.0 516.6 91.1 516.4 91.9C516.2 92.8 515.3 93.5 515.1 94.3C514.9 95.1 515.0 96.0 515.0 96.7C514.9 97.5 515.0 98.2 514.9 98.7C514.8 99.3 514.3 99.9 514.2 100.1" stroke="#d0c7b9" stroke-width="1.0" opacity="0.45"/>
<path d="M517.5 68.6C517.5 68.8 517.7 69.5 517.7 69.9C517.7 70.4 517.6 71.0 517.5 71.6C517.3 72.2 516.8 72.8 516.7 73.5C516.6 74.1 516.9 74.9 516.9 75.7C516.8 76.4 516.8 77.2 516.6 78.0C516.5 78.8 516.1 79.6 516.0 80.5C515.8 81.3 515.8 82.2 515.7 83.0C515.6 83.9 515.7 84.7 515.6 85.6C515.5 86.4 515.4 87.3 515.2 88.1C515.0 88.9 514.5 89.7 514.5 90.5C514.5 91.3 515.0 92.1 515.1 92.8C515.2 93.6 514.9 94.3 514.9 95.1C514.9 95.9 515.1 96.7 515.0 97.6C515.0 98.4 514.8 99.2 514.8 100.1C514.8 100.9 515.1 101.8 515.0 102.7C514.9 103.5 514.1 104.4 514.1 105.2C514.1 106.0 514.8 106.9 514.8 107.7C514.9 108.5 514.2 109.3 514.2 110.0C514.3 110.8 515.1 111.5 515.1 112.2C515.2 112.9 514.5 113.5 514.4 114.1C514.4 114.7 514.8 115.3 514.9 115.8C514.9 116.2 514.9 116.8 514.9 117.1" stroke="#d0c7b9" stroke-width="0.8" opacity="0.58"/>
<path d="M521.4 66.5C521.3 66.8 521.1 67.4 520.9 67.9C520.8 68.5 520.8 69.2 520.5 69.9C520.2 70.6 519.5 71.3 519.3 72.1C519.1 72.9 519.3 73.9 519.1 74.7C518.9 75.6 518.3 76.4 518.1 77.3C517.8 78.1 517.8 79.0 517.6 79.9C517.4 80.7 517.3 81.4 517.0 82.2C516.8 83.0 516.1 83.7 516.1 84.5C516.0 85.3 516.7 86.3 516.7 87.2C516.7 88.0 516.2 88.9 516.1 89.7C516.0 90.6 516.2 91.4 516.2 92.2C516.2 93.0 516.1 93.8 515.9 94.5C515.8 95.2 515.3 95.8 515.2 96.4C515.1 96.9 515.5 97.6 515.6 97.8" stroke="#d0c7b9" stroke-width="0.8" opacity="0.31"/>
<path d="M517.7 66.9C517.8 67.2 517.8 67.8 517.9 68.3C518.1 68.8 518.3 69.3 518.5 69.9C518.7 70.5 519.0 71.2 519.1 71.9C519.2 72.6 518.8 73.5 518.9 74.2C519.0 75.0 519.5 75.8 519.7 76.6C520.0 77.4 520.0 78.3 520.1 79.2C520.3 80.0 520.4 80.9 520.4 81.8C520.5 82.6 520.6 83.5 520.6 84.4C520.6 85.2 520.5 86.1 520.6 86.9C520.7 87.7 521.3 88.4 521.4 89.2C521.5 89.9 521.1 90.7 521.1 91.5C521.1 92.3 521.1 93.2 521.3 94.0C521.5 94.8 522.1 95.7 522.3 96.5C522.5 97.4 522.5 98.2 522.6 99.1C522.7 99.9 522.8 100.8 522.7 101.6C522.6 102.5 522.2 103.3 522.1 104.1C522.1 104.9 522.5 105.6 522.5 106.4C522.5 107.1 522.3 107.8 522.3 108.4C522.2 109.0 522.2 109.6 522.3 110.1C522.4 110.6 522.8 111.2 522.9 111.4" stroke="#d0c7b9" stroke-width="0.8" opacity="0.35"/>
<path d="M517.6 67.5C517.7 67.7 518.1 68.4 518.2 69.0C518.3 69.6 518.2 70.4 518.2 71.2C518.1 71.9 518.1 72.8 518.0 73.7C518.0 74.6 517.8 75.6 517.9 76.5C518.0 77.5 518.5 78.4 518.6 79.4C518.8 80.3 518.8 81.3 518.9 82.2C519.0 83.1 519.1 84.0 519.1 84.8C519.1 85.7 518.7 86.4 518.9 87.2C519.0 88.0 519.7 88.7 519.9 89.6C520.0 90.4 519.7 91.3 519.8 92.2C519.8 93.0 520.1 93.9 520.3 94.7C520.6 95.5 521.1 96.2 521.3 96.9C521.5 97.7 521.3 98.5 521.3 99.1C521.4 99.8 521.7 100.4 521.8 100.9C521.9 101.4 522.0 102.0 522.0 102.3" stroke="#d0c7b9" stroke-width="0.8" opacity="0.48"/>
<path d="M521.6 66.5C521.7 66.7 522.1 67.3 522.2 67.9C522.4 68.4 522.3 69.1 522.4 69.7C522.5 70.4 522.7 71.2 522.7 72.0C522.7 72.8 522.4 73.7 522.6 74.5C522.7 75.4 523.2 76.2 523.4 77.1C523.5 78.0 523.3 78.9 523.5 79.8C523.7 80.6 524.3 81.4 524.5 82.3C524.6 83.1 524.3 83.9 524.3 84.7C524.2 85.5 524.0 86.3 524.0 87.1C524.1 87.9 524.4 88.8 524.4 89.7C524.4 90.6 524.0 91.5 524.0 92.3C523.9 93.2 523.9 94.1 524.0 94.9C524.0 95.8 524.3 96.6 524.4 97.4C524.5 98.2 524.8 99.0 524.7 99.7C524.6 100.3 523.9 101.0 523.8 101.5C523.7 102.0 524.0 102.7 524.1 102.9" stroke="#d0c7b9" stroke-width="1.0" opacity="0.39"/>
<path d="M521.3 67.6C521.3 67.8 521.3 68.5 521.3 69.0C521.3 69.5 521.3 70.2 521.3 70.8C521.3 71.5 521.2 72.2 521.3 73.0C521.4 73.7 521.9 74.5 522.0 75.3C522.1 76.2 521.8 77.1 521.8 77.9C521.7 78.8 521.7 79.7 521.7 80.6C521.7 81.5 521.7 82.4 521.9 83.3C522.0 84.1 522.6 85.0 522.7 85.8C522.8 86.6 522.4 87.4 522.4 88.2C522.4 89.0 522.5 89.8 522.6 90.6C522.7 91.5 522.9 92.3 522.9 93.2C522.9 94.1 522.5 95.0 522.6 95.9C522.6 96.8 523.0 97.6 523.2 98.5C523.3 99.4 523.4 100.2 523.4 101.1C523.4 101.9 523.0 102.7 523.0 103.5C523.0 104.3 523.3 105.0 523.5 105.6C523.6 106.3 523.8 106.9 523.9 107.4C524.0 108.0 523.8 108.6 523.8 108.8" stroke="#d0c7b9" stroke-width="0.7" opacity="0.59"/>
<path d="M517.4 66.0C517.4 66.2 517.4 66.8 517.5 67.3C517.5 67.7 517.6 68.2 517.6 68.8C517.6 69.3 517.5 69.9 517.5 70.5C517.5 71.2 517.6 71.8 517.6 72.5C517.7 73.2 517.7 73.9 517.9 74.6C518.0 75.3 518.5 76.1 518.6 76.8C518.7 77.6 518.2 78.5 518.3 79.3C518.3 80.1 518.8 80.9 519.0 81.7C519.2 82.5 519.3 83.4 519.4 84.2C519.6 85.1 519.8 85.9 519.9 86.8C520.0 87.6 519.7 88.5 519.8 89.4C519.9 90.2 520.3 91.1 520.4 91.9C520.6 92.7 520.6 93.6 520.6 94.4C520.6 95.2 520.5 96.0 520.6 96.8C520.6 97.6 520.6 98.4 520.7 99.1C520.8 99.9 520.8 100.6 521.0 101.4C521.3 102.1 521.8 102.9 522.1 103.7C522.3 104.5 522.4 105.3 522.5 106.1C522.6 107.0 522.6 107.8 522.7 108.7C522.7 109.6 522.8 110.5 522.8 111.3C522.9 112.2 522.9 113.1 523.0 113.9C523.1 114.8 523.3 115.6 523.4 116.5C523.6 117.3 523.6 118.2 523.7 119.0C523.9 119.8 524.3 120.5 524.5 121.3C524.7 122.1 524.7 122.9 524.8 123.6C525.0 124.3 525.4 125.0 525.6 125.7C525.7 126.3 525.8 127.0 525.9 127.6C526.0 128.2 526.2 128.8 526.3 129.3C526.4 129.9 526.2 130.4 526.2 130.9C526.3 131.4 526.4 131.9 526.5 132.1" stroke="#d0c7b9" stroke-width="1.0" opacity="0.54"/>
<path d="M521.2 66.4C521.4 66.7 521.8 67.5 522.2 68.2C522.5 68.9 523.0 69.9 523.4 70.8C523.8 71.7 524.4 72.7 524.8 73.6C525.2 74.5 525.4 75.4 525.8 76.2C526.1 77.1 526.8 77.9 526.9 78.7C527.0 79.6 526.4 80.7 526.5 81.6C526.5 82.5 526.9 83.4 527.0 84.1C527.1 84.8 527.1 85.5 527.1 85.8" stroke="#d0c7b9" stroke-width="0.9" opacity="0.39"/>
<path d="M521.1 70.4C521.2 70.6 521.5 71.2 521.6 71.7C521.6 72.3 521.3 73.0 521.4 73.7C521.4 74.4 522.1 75.1 522.1 75.9C522.1 76.7 521.5 77.6 521.5 78.4C521.6 79.3 522.3 80.1 522.5 80.9C522.6 81.8 522.5 82.6 522.4 83.5C522.4 84.3 522.3 85.0 522.3 85.8C522.3 86.6 522.2 87.4 522.3 88.2C522.4 89.0 522.7 89.8 522.8 90.7C522.8 91.5 522.7 92.4 522.8 93.2C522.8 94.1 523.0 94.9 523.0 95.7C523.0 96.5 522.7 97.3 522.8 98.0C522.8 98.6 523.4 99.3 523.4 99.8C523.5 100.4 523.2 101.0 523.2 101.2" stroke="#e6dfd2" stroke-width="1.0" opacity="0.42"/>
<path d="M520.5 68.5C520.4 68.7 520.1 69.3 520.1 69.8C520.2 70.3 520.9 71.0 520.8 71.7C520.8 72.3 520.0 73.0 519.9 73.8C519.9 74.5 520.2 75.4 520.4 76.2C520.5 77.0 520.6 77.9 520.6 78.7C520.6 79.6 520.6 80.4 520.5 81.3C520.5 82.1 520.2 83.0 520.1 83.8C520.1 84.6 520.1 85.4 520.2 86.1C520.2 86.9 520.2 87.7 520.2 88.5C520.3 89.3 520.3 90.2 520.6 91.0C520.9 91.8 521.6 92.6 521.8 93.5C521.9 94.3 521.3 95.3 521.5 96.1C521.7 97.0 522.6 97.6 522.7 98.4C522.9 99.1 522.4 100.0 522.5 100.7C522.6 101.4 523.0 101.9 523.2 102.4C523.4 102.9 523.4 103.6 523.4 103.8" stroke="#e6dfd2" stroke-width="1.1" opacity="0.30"/>
<path d="M521.4 69.1C521.5 69.4 521.8 70.0 521.9 70.5C522.0 71.1 522.0 71.8 522.0 72.5C521.9 73.3 521.5 74.1 521.5 74.9C521.5 75.8 521.8 76.6 521.9 77.5C522.0 78.3 522.2 79.2 522.3 80.0C522.3 80.8 522.3 81.6 522.2 82.4C522.1 83.2 521.9 83.9 521.8 84.7C521.7 85.5 521.9 86.4 521.7 87.3C521.6 88.1 521.1 89.0 521.0 89.8C521.0 90.6 521.3 91.5 521.3 92.2C521.2 93.0 520.9 93.6 520.7 94.2C520.6 94.7 520.5 95.4 520.4 95.6" stroke="#e6dfd2" stroke-width="1.1" opacity="0.33"/>
<path d="M521.5 69.1C521.5 69.4 521.7 70.0 521.8 70.5C521.9 71.0 522.3 71.6 522.3 72.2C522.3 72.9 521.9 73.7 521.9 74.4C521.9 75.2 522.3 75.9 522.5 76.7C522.7 77.6 522.9 78.4 523.0 79.3C523.1 80.1 523.2 81.0 523.2 81.9C523.3 82.8 523.3 83.8 523.4 84.7C523.6 85.5 523.7 86.4 523.9 87.3C524.2 88.2 524.7 89.0 524.8 89.8C524.8 90.7 524.0 91.5 524.1 92.3C524.2 93.1 524.9 93.9 525.1 94.7C525.3 95.5 525.2 96.4 525.2 97.3C525.2 98.2 525.2 99.1 525.2 100.0C525.1 100.8 525.0 101.8 524.9 102.7C524.9 103.5 524.6 104.4 524.7 105.3C524.7 106.2 525.1 107.0 525.2 107.8C525.2 108.7 525.2 109.5 525.1 110.2C525.0 110.9 524.9 111.6 524.8 112.3C524.6 112.9 524.4 113.5 524.3 114.0C524.3 114.6 524.6 115.2 524.7 115.4" stroke="#e6dfd2" stroke-width="0.8" opacity="0.51"/>
<path d="M519.0 69.0C519.1 69.2 519.5 69.8 519.5 70.4C519.6 70.9 519.3 71.6 519.2 72.3C519.2 72.9 518.9 73.7 519.1 74.5C519.3 75.2 520.1 76.0 520.3 76.8C520.4 77.6 519.8 78.6 519.9 79.5C520.0 80.4 520.7 81.3 520.8 82.2C521.0 83.1 520.9 84.1 520.8 85.0C520.8 85.9 520.5 86.9 520.6 87.8C520.7 88.7 521.3 89.6 521.3 90.4C521.4 91.3 521.0 92.1 521.0 92.9C521.1 93.8 521.6 94.6 521.6 95.5C521.5 96.3 520.8 97.2 520.7 98.1C520.6 99.0 520.8 99.9 520.9 100.9C521.0 101.8 521.2 102.8 521.1 103.7C521.1 104.6 520.9 105.6 520.8 106.4C520.6 107.3 520.4 108.2 520.2 109.0C520.0 109.9 519.7 110.7 519.6 111.4C519.5 112.2 519.7 113.0 519.6 113.6C519.5 114.3 519.0 114.9 519.0 115.4C518.9 116.0 519.3 116.6 519.3 116.9" stroke="#e6dfd2" stroke-width="0.9" opacity="0.38"/>
<path d="M521.0 69.8C521.1 70.0 521.3 70.6 521.4 71.1C521.4 71.6 521.6 72.2 521.5 72.8C521.5 73.4 521.1 74.1 521.1 74.8C521.0 75.5 521.2 76.3 521.2 77.1C521.3 77.9 521.2 78.7 521.3 79.5C521.3 80.4 521.6 81.2 521.6 82.1C521.7 82.9 521.7 83.8 521.6 84.7C521.6 85.5 521.3 86.4 521.2 87.3C521.2 88.1 521.2 88.9 521.3 89.7C521.4 90.5 521.8 91.3 521.8 92.1C521.9 92.9 521.7 93.6 521.7 94.4C521.7 95.2 521.9 96.1 521.8 96.9C521.7 97.8 521.0 98.6 521.0 99.5C520.9 100.3 521.5 101.2 521.4 102.1C521.4 103.0 520.8 103.8 520.6 104.6C520.4 105.4 520.2 106.2 520.1 107.0C520.0 107.8 519.9 108.6 520.0 109.3C520.0 110.0 520.3 110.7 520.3 111.4C520.2 112.0 519.7 112.5 519.7 113.0C519.6 113.5 519.8 114.2 519.8 114.4" stroke="#e6dfd2" stroke-width="0.8" opacity="0.60"/>
<path d="M520.3 70.0C520.4 70.2 520.7 70.8 520.7 71.2C520.8 71.7 520.7 72.3 520.6 72.9C520.5 73.4 520.1 74.1 520.1 74.8C520.1 75.4 520.7 76.1 520.7 76.9C520.6 77.6 520.0 78.4 519.9 79.2C519.8 80.0 520.0 80.8 520.0 81.6C520.0 82.5 520.0 83.3 520.1 84.2C520.2 85.0 520.4 85.9 520.4 86.7C520.4 87.6 520.0 88.5 520.0 89.3C520.1 90.2 520.6 91.0 520.7 91.9C520.7 92.7 520.3 93.5 520.3 94.3C520.3 95.1 520.6 95.9 520.6 96.6C520.6 97.4 520.6 98.1 520.5 98.9C520.4 99.7 520.0 100.6 520.1 101.4C520.2 102.2 520.8 103.1 520.9 103.9C520.9 104.8 520.5 105.6 520.4 106.5C520.4 107.4 520.3 108.2 520.5 109.1C520.6 109.9 521.2 110.8 521.2 111.6C521.2 112.4 520.4 113.3 520.4 114.1C520.4 114.9 520.9 115.6 521.0 116.4C521.1 117.1 520.9 117.8 521.0 118.5C521.0 119.2 521.3 119.8 521.3 120.4C521.3 121.0 521.1 121.5 521.1 122.0C521.0 122.5 521.1 123.1 521.2 123.3" stroke="#e6dfd2" stroke-width="0.8" opacity="0.59"/>
<path d="M522.6 69.8C522.6 70.1 522.7 70.7 522.7 71.3C522.6 71.8 522.5 72.4 522.4 73.1C522.4 73.8 522.4 74.5 522.3 75.3C522.3 76.1 522.3 76.9 522.2 77.7C522.1 78.6 521.9 79.5 521.9 80.3C521.8 81.2 521.6 82.1 521.6 83.0C521.6 84.0 521.8 84.9 521.9 85.8C521.9 86.7 521.7 87.5 521.7 88.4C521.8 89.2 521.9 90.0 522.0 90.8C522.1 91.7 522.3 92.4 522.3 93.3C522.3 94.1 522.2 95.0 522.2 95.9C522.2 96.8 522.2 97.8 522.4 98.7C522.5 99.6 523.0 100.4 523.2 101.3C523.3 102.2 523.3 103.1 523.5 103.9C523.7 104.8 524.3 105.5 524.4 106.3C524.5 107.1 524.0 107.9 524.0 108.6C524.0 109.3 524.3 109.9 524.5 110.4C524.6 111.0 524.7 111.6 524.8 111.8" stroke="#e6dfd2" stroke-width="0.9" opacity="0.60"/>
<path d="M519.7 69.2C519.6 69.4 519.3 70.0 519.3 70.6C519.4 71.1 519.7 71.7 519.8 72.3C519.9 73.0 519.8 73.7 519.8 74.5C519.9 75.2 520.0 76.0 520.2 76.9C520.3 77.7 520.5 78.5 520.5 79.4C520.5 80.3 520.3 81.2 520.3 82.1C520.4 82.9 520.5 83.8 520.6 84.7C520.7 85.6 520.7 86.4 520.7 87.2C520.8 88.1 520.7 88.8 520.7 89.6C520.8 90.4 520.9 91.2 520.9 92.0C520.8 92.9 520.4 93.7 520.4 94.6C520.3 95.5 520.8 96.4 520.8 97.2C520.8 98.1 520.3 99.0 520.3 99.9C520.2 100.7 520.5 101.6 520.5 102.4C520.4 103.3 520.0 104.1 519.9 104.8C519.8 105.6 520.1 106.3 520.1 106.9C520.1 107.6 520.0 108.2 520.0 108.7C520.0 109.3 520.2 109.9 520.2 110.1" stroke="#e6dfd2" stroke-width="0.8" opacity="0.49"/>
<path d="M521.8 69.2C521.8 69.4 521.7 70.0 521.7 70.5C521.7 71.0 522.0 71.6 522.0 72.3C522.0 72.9 521.8 73.6 521.7 74.3C521.6 75.0 521.4 75.7 521.4 76.5C521.4 77.3 521.7 78.2 521.7 79.0C521.6 79.9 521.2 80.7 521.0 81.6C520.8 82.4 520.4 83.3 520.4 84.2C520.4 85.1 520.8 86.1 520.8 86.9C520.8 87.8 520.4 88.7 520.3 89.6C520.1 90.4 519.9 91.3 520.1 92.1C520.2 93.0 520.8 93.8 521.0 94.6C521.1 95.4 521.0 96.1 521.0 97.0C520.9 97.8 520.7 98.6 520.6 99.5C520.5 100.4 520.1 101.3 520.1 102.2C520.2 103.1 520.7 104.0 520.8 104.9C520.8 105.8 520.5 106.7 520.5 107.5C520.5 108.4 520.6 109.3 520.8 110.1C520.9 111.0 521.5 111.8 521.5 112.6C521.6 113.4 521.3 114.1 521.2 114.9C521.2 115.6 521.1 116.3 521.2 116.9C521.3 117.5 521.7 118.1 521.7 118.6C521.8 119.1 521.5 119.7 521.5 120.0" stroke="#e6dfd2" stroke-width="0.8" opacity="0.38"/>
<path d="M518.9 69.0C518.9 69.2 519.2 69.9 519.1 70.4C518.9 70.9 518.1 71.3 517.9 71.9C517.8 72.5 518.2 73.3 518.2 74.0C518.2 74.7 518.0 75.4 517.8 76.2C517.6 76.9 517.2 77.7 517.0 78.5C516.8 79.3 516.6 80.2 516.4 81.0C516.1 81.8 515.6 82.7 515.5 83.5C515.4 84.4 515.7 85.4 515.6 86.3C515.6 87.2 515.1 88.1 515.0 89.0C514.8 89.8 514.9 90.8 514.7 91.6C514.5 92.5 514.1 93.3 514.0 94.1C513.8 94.9 513.8 95.7 513.6 96.5C513.3 97.3 512.6 97.9 512.5 98.8C512.4 99.6 513.0 100.6 512.8 101.4C512.7 102.3 512.1 103.1 511.8 104.0C511.5 104.8 511.4 105.7 511.2 106.6C511.0 107.5 510.7 108.4 510.6 109.2C510.4 110.1 510.6 111.1 510.5 112.0C510.4 112.8 510.3 113.7 510.1 114.5C509.9 115.3 509.6 116.1 509.3 116.8C509.0 117.5 508.6 118.2 508.4 118.9C508.2 119.6 508.2 120.3 508.1 120.9C508.0 121.5 507.8 122.0 507.7 122.5C507.7 123.0 507.8 123.7 507.9 123.9" stroke="#d0c7b9" stroke-width="0.6" opacity="0.48"/>
<path d="M520.7 69.2C520.6 69.4 520.2 70.0 519.9 70.5C519.6 71.1 519.3 71.7 519.0 72.4C518.6 73.1 518.1 73.8 517.6 74.5C517.2 75.3 516.9 76.2 516.4 77.0C515.9 77.8 515.0 78.5 514.6 79.3C514.2 80.1 514.1 81.2 513.7 82.1C513.4 82.9 512.8 83.6 512.4 84.3C511.9 85.0 511.5 85.6 511.2 86.3C510.8 87.0 510.5 87.8 510.1 88.5C509.7 89.3 509.1 90.0 508.7 90.7C508.3 91.4 507.9 92.2 507.5 92.9C507.0 93.6 506.6 94.3 506.2 95.0C505.8 95.6 505.5 96.3 505.0 96.8C504.5 97.2 503.7 97.5 503.3 97.9C503.0 98.3 503.1 99.1 503.0 99.3" stroke="#d0c7b9" stroke-width="0.7" opacity="0.29"/>
<path d="M518.7 70.7C518.7 71.0 518.8 71.7 518.6 72.3C518.4 72.9 518.1 73.5 517.7 74.2C517.3 74.8 516.6 75.4 516.3 76.2C516.0 77.0 516.1 78.1 515.9 78.9C515.6 79.8 515.1 80.7 514.8 81.6C514.6 82.5 514.7 83.6 514.4 84.5C514.2 85.4 513.6 86.2 513.4 87.0C513.1 87.9 513.4 88.8 513.1 89.6C512.8 90.4 511.9 91.1 511.7 91.9C511.6 92.7 512.1 93.8 511.9 94.7C511.8 95.6 511.0 96.4 510.9 97.3C510.7 98.2 511.0 99.2 511.0 100.1C511.1 101.0 511.1 101.8 510.9 102.6C510.8 103.4 510.6 104.2 510.3 104.9C510.1 105.6 509.7 106.2 509.6 106.8C509.5 107.3 509.8 108.0 509.9 108.3" stroke="#d0c7b9" stroke-width="0.7" opacity="0.45"/>
<path d="M518.6 68.8C518.7 69.1 519.0 69.8 518.8 70.4C518.7 70.9 517.8 71.5 517.6 72.2C517.3 72.9 517.2 73.7 517.2 74.6C517.2 75.4 517.6 76.4 517.5 77.3C517.4 78.2 517.0 79.0 516.8 79.8C516.6 80.7 516.5 81.5 516.2 82.3C515.9 83.0 515.1 83.6 514.8 84.4C514.4 85.2 514.3 86.2 514.0 87.0C513.8 87.9 513.7 88.9 513.4 89.7C513.1 90.6 512.6 91.3 512.2 92.0C511.9 92.7 511.4 93.4 511.2 93.9C510.9 94.5 510.9 95.2 510.8 95.5" stroke="#d0c7b9" stroke-width="0.6" opacity="0.61"/>
<path d="M517.0 69.4C517.0 69.6 517.2 70.2 517.1 70.7C517.0 71.2 516.5 71.7 516.4 72.3C516.2 72.9 516.3 73.6 516.2 74.3C516.1 75.0 516.0 75.8 515.9 76.6C515.9 77.4 516.0 78.2 515.8 79.0C515.6 79.8 514.9 80.6 514.6 81.4C514.3 82.3 514.1 83.1 514.0 84.0C513.9 84.9 514.3 85.9 514.2 86.7C514.1 87.6 513.5 88.4 513.3 89.3C513.0 90.1 512.9 90.9 512.7 91.7C512.6 92.5 512.6 93.3 512.6 94.1C512.6 94.9 512.5 95.7 512.5 96.5C512.5 97.3 512.7 98.2 512.6 99.0C512.4 99.9 511.7 100.7 511.6 101.5C511.4 102.4 511.6 103.3 511.7 104.2C511.7 105.1 511.8 106.0 511.8 106.9C511.7 107.7 511.5 108.6 511.3 109.4C511.1 110.2 510.7 111.0 510.6 111.7C510.5 112.5 510.8 113.3 510.8 114.0C510.7 114.7 510.2 115.3 510.2 115.9C510.1 116.5 510.5 117.1 510.4 117.6C510.4 118.1 510.0 118.7 509.9 118.9" stroke="#d0c7b9" stroke-width="0.8" opacity="0.40"/>
<path d="M519.6 70.8C519.5 71.1 519.5 71.7 519.4 72.3C519.3 72.8 519.2 73.5 519.0 74.1C518.8 74.7 518.4 75.4 518.0 76.1C517.7 76.8 517.1 77.6 516.8 78.3C516.5 79.1 516.5 80.1 516.3 80.9C516.0 81.8 515.8 82.6 515.6 83.5C515.3 84.3 515.0 85.1 514.8 85.9C514.7 86.7 514.7 87.5 514.6 88.3C514.4 89.1 513.8 89.7 513.7 90.5C513.5 91.3 513.6 92.2 513.5 93.0C513.4 93.9 513.4 94.8 513.2 95.6C513.0 96.4 512.5 97.2 512.4 98.0C512.4 98.9 513.0 99.8 512.9 100.5C512.8 101.3 512.0 101.9 511.9 102.6C511.8 103.2 512.3 103.9 512.3 104.4C512.2 105.0 511.8 105.5 511.7 105.7" stroke="#d0c7b9" stroke-width="0.9" opacity="0.40"/>
<path d="M519.8 70.8C519.7 71.1 519.3 71.6 519.1 72.2C518.9 72.8 518.8 73.7 518.6 74.5C518.4 75.2 518.1 76.1 517.9 76.9C517.6 77.7 517.5 78.5 517.2 79.3C517.0 80.0 516.8 80.8 516.3 81.6C515.9 82.3 515.1 83.0 514.7 83.7C514.4 84.5 514.4 85.4 514.2 86.0C514.0 86.6 513.7 87.3 513.6 87.5" stroke="#d0c7b9" stroke-width="0.9" opacity="0.34"/>
<path d="M517.7 69.2C517.6 69.4 517.6 70.1 517.4 70.5C517.2 71.0 516.7 71.5 516.5 72.0C516.2 72.6 516.0 73.3 515.8 74.0C515.6 74.7 515.7 75.6 515.3 76.3C515.0 77.1 514.2 77.6 513.8 78.4C513.5 79.2 513.6 80.2 513.3 81.0C513.1 81.9 512.4 82.6 512.1 83.4C511.8 84.2 511.9 85.2 511.7 86.0C511.5 86.8 511.0 87.6 510.7 88.3C510.4 89.1 510.0 89.7 509.8 90.5C509.6 91.3 509.5 92.2 509.4 93.0C509.4 93.9 509.5 94.9 509.4 95.8C509.2 96.7 508.5 97.5 508.3 98.5C508.2 99.4 508.4 100.4 508.4 101.3C508.3 102.2 508.3 103.1 508.1 104.0C507.9 104.8 507.2 105.6 507.1 106.4C507.0 107.2 507.4 108.0 507.4 108.7C507.4 109.4 507.2 110.0 507.1 110.5C506.9 111.1 506.7 111.7 506.6 111.9" stroke="#d0c7b9" stroke-width="0.9" opacity="0.57"/>
<path d="M520.7 68.8C520.7 69.1 520.8 69.8 520.9 70.4C521.0 71.0 521.2 71.6 521.2 72.4C521.1 73.1 520.8 73.9 520.9 74.7C520.9 75.6 521.3 76.4 521.5 77.3C521.7 78.2 522.0 79.2 522.0 80.2C521.9 81.2 521.2 82.2 521.2 83.2C521.1 84.2 521.7 85.3 521.9 86.3C522.0 87.3 522.1 88.4 522.1 89.4C522.0 90.4 521.6 91.5 521.5 92.5C521.4 93.5 521.1 94.5 521.2 95.4C521.3 96.4 521.8 97.2 522.0 98.1C522.1 99.0 522.2 100.0 522.3 100.9C522.3 101.9 522.4 102.9 522.3 103.9C522.3 104.8 522.3 105.8 522.2 106.8C522.2 107.8 522.4 108.8 522.2 109.8C522.0 110.8 521.2 111.8 520.9 112.8C520.7 113.8 520.8 114.7 520.8 115.7C520.8 116.7 520.9 117.6 520.9 118.5C521.0 119.5 521.1 120.4 521.2 121.3C521.3 122.2 521.6 123.0 521.4 123.9C521.3 124.7 520.3 125.2 520.1 126.1C520.0 127.0 520.7 128.4 520.6 129.5C520.4 130.5 519.4 131.2 519.1 132.1C518.9 133.0 519.1 133.9 519.1 134.8C519.1 135.6 519.3 136.5 519.2 137.3C519.0 138.1 518.6 138.8 518.2 139.6C517.9 140.3 517.4 141.1 517.0 141.9C516.7 142.7 516.2 143.5 516.1 144.4C515.9 145.3 516.4 146.3 516.2 147.2C515.9 148.0 514.9 148.7 514.7 149.6C514.4 150.5 514.8 151.6 514.6 152.6C514.4 153.5 513.8 154.3 513.5 155.2C513.1 156.1 512.9 157.0 512.7 157.9C512.5 158.8 512.5 159.7 512.2 160.6C511.9 161.4 511.2 162.1 510.9 162.8C510.7 163.6 510.8 164.1 510.6 165.1C510.5 166.2 510.3 168.0 509.9 169.2C509.4 170.4 508.4 171.4 507.9 172.4C507.4 173.4 507.0 174.4 506.7 175.2C506.5 176.0 506.4 177.0 506.4 177.4" stroke="#b9aea3" stroke-width="4.5" opacity="0.3" filter="url(#halo)"/>
<path d="M520.7 68.8C520.7 69.1 520.8 69.8 520.9 70.4C521.0 71.0 521.2 71.6 521.2 72.4C521.1 73.1 520.8 73.9 520.9 74.7C520.9 75.6 521.3 76.4 521.5 77.3C521.7 78.2 522.0 79.2 522.0 80.2C521.9 81.2 521.2 82.2 521.2 83.2C521.1 84.2 521.7 85.3 521.9 86.3C522.0 87.3 522.1 88.4 522.1 89.4C522.0 90.4 521.6 91.5 521.5 92.5C521.4 93.5 521.1 94.5 521.2 95.4C521.3 96.4 521.8 97.2 522.0 98.1C522.1 99.0 522.2 100.0 522.3 100.9C522.3 101.9 522.4 102.9 522.3 103.9C522.3 104.8 522.3 105.8 522.2 106.8C522.2 107.8 522.4 108.8 522.2 109.8C522.0 110.8 521.2 111.8 520.9 112.8C520.7 113.8 520.8 114.7 520.8 115.7C520.8 116.7 520.9 117.6 520.9 118.5C521.0 119.5 521.1 120.4 521.2 121.3C521.3 122.2 521.6 123.0 521.4 123.9C521.3 124.7 520.3 125.2 520.1 126.1C520.0 127.0 520.7 128.4 520.6 129.5C520.4 130.5 519.4 131.2 519.1 132.1C518.9 133.0 519.1 133.9 519.1 134.8C519.1 135.6 519.3 136.5 519.2 137.3C519.0 138.1 518.6 138.8 518.2 139.6C517.9 140.3 517.4 141.1 517.0 141.9C516.7 142.7 516.2 143.5 516.1 144.4C515.9 145.3 516.4 146.3 516.2 147.2C515.9 148.0 514.9 148.7 514.7 149.6C514.4 150.5 514.8 151.6 514.6 152.6C514.4 153.5 513.8 154.3 513.5 155.2C513.1 156.1 512.9 157.0 512.7 157.9C512.5 158.8 512.5 159.7 512.2 160.6C511.9 161.4 511.2 162.1 510.9 162.8C510.7 163.6 510.8 164.1 510.6 165.1C510.5 166.2 510.3 168.0 509.9 169.2C509.4 170.4 508.4 171.4 507.9 172.4C507.4 173.4 507.0 174.4 506.7 175.2C506.5 176.0 506.4 177.0 506.4 177.4" stroke="#b9aea3" stroke-width="1.5" opacity="0.75"/>
<path d="M520.9 74.7L519.2 76.2M521.2 83.2L520.3 83.9M521.5 92.5L523.2 94.2M522.3 100.9L521.4 101.7M522.2 109.8L520.1 110.8M517.0 141.9L518.2 143.9M514.7 149.6L516.2 151.6M512.7 157.9L513.4 158.7M506.7 175.2L508.2 177.1" stroke="#b9aea3" stroke-width="0.9" opacity="0.525"/>
<path d="M510.5 79.1C510.5 79.4 510.6 80.3 510.3 81.0C510.1 81.7 509.8 82.5 509.2 83.2C508.7 84.0 507.7 84.7 507.1 85.5C506.6 86.4 506.1 87.4 505.9 88.4C505.7 89.4 506.1 90.5 505.7 91.5C505.4 92.4 504.4 93.2 504.0 94.2C503.7 95.2 503.6 96.4 503.5 97.5C503.4 98.7 503.6 99.9 503.5 100.9C503.4 102.0 503.1 102.9 502.8 103.7C502.6 104.5 502.4 105.4 502.3 105.7" stroke="#b9aea3" stroke-width="4.2" opacity="0.24" filter="url(#halo)"/>
<path d="M510.5 79.1C510.5 79.4 510.6 80.3 510.3 81.0C510.1 81.7 509.8 82.5 509.2 83.2C508.7 84.0 507.7 84.7 507.1 85.5C506.6 86.4 506.1 87.4 505.9 88.4C505.7 89.4 506.1 90.5 505.7 91.5C505.4 92.4 504.4 93.2 504.0 94.2C503.7 95.2 503.6 96.4 503.5 97.5C503.4 98.7 503.6 99.9 503.5 100.9C503.4 102.0 503.1 102.9 502.8 103.7C502.6 104.5 502.4 105.4 502.3 105.7" stroke="#b9aea3" stroke-width="1.4" opacity="0.6"/>
<path d="M504.0 94.2L501.3 95.0M502.8 103.7L504.5 105.8" stroke="#b9aea3" stroke-width="0.8" opacity="0.42"/>
<path d="M512.5 87.2C512.4 87.5 512.1 88.2 511.9 88.9C511.7 89.5 511.3 90.2 511.3 91.1C511.3 91.9 512.2 93.0 512.0 94.0C511.8 94.9 510.6 95.7 510.3 96.7C510.1 97.7 510.9 98.9 510.7 99.9C510.6 101.0 509.8 101.9 509.5 102.8C509.2 103.8 508.9 104.7 508.8 105.6C508.7 106.5 508.8 107.4 508.7 108.4C508.7 109.4 508.8 110.5 508.6 111.5C508.5 112.5 508.1 113.5 508.1 114.5C508.1 115.5 508.5 116.6 508.5 117.5C508.4 118.5 508.1 119.4 507.9 120.2C507.6 121.0 507.0 121.7 506.9 122.4C506.8 123.0 507.3 123.8 507.4 124.1" stroke="#b9aea3" stroke-width="3.9" opacity="0.24" filter="url(#halo)"/>
<path d="M512.5 87.2C512.4 87.5 512.1 88.2 511.9 88.9C511.7 89.5 511.3 90.2 511.3 91.1C511.3 91.9 512.2 93.0 512.0 94.0C511.8 94.9 510.6 95.7 510.3 96.7C510.1 97.7 510.9 98.9 510.7 99.9C510.6 101.0 509.8 101.9 509.5 102.8C509.2 103.8 508.9 104.7 508.8 105.6C508.7 106.5 508.8 107.4 508.7 108.4C508.7 109.4 508.8 110.5 508.6 111.5C508.5 112.5 508.1 113.5 508.1 114.5C508.1 115.5 508.5 116.6 508.5 117.5C508.4 118.5 508.1 119.4 507.9 120.2C507.6 121.0 507.0 121.7 506.9 122.4C506.8 123.0 507.3 123.8 507.4 124.1" stroke="#b9aea3" stroke-width="1.3" opacity="0.6"/>
<path d="M509.5 102.8L511.0 105.1M508.6 111.5L510.2 112.9M507.9 120.2L506.2 120.8" stroke="#b9aea3" stroke-width="0.8" opacity="0.42"/>
<path d="M516.6 95.4C516.7 95.8 517.1 96.7 517.1 97.4C517.1 98.2 516.5 99.0 516.3 99.9C516.2 100.9 516.2 102.0 516.0 103.0C515.9 104.1 515.8 105.3 515.6 106.4C515.3 107.5 514.5 108.6 514.4 109.7C514.3 110.8 514.9 112.0 515.0 113.0C515.1 114.1 515.2 114.9 515.1 115.9C514.9 116.9 514.0 118.0 513.9 119.1C513.8 120.2 514.0 121.3 514.2 122.3C514.3 123.4 514.7 124.4 514.8 125.4C515.0 126.4 514.9 127.4 514.9 128.2C515.0 129.1 515.3 129.9 515.4 130.6C515.5 131.2 515.6 132.0 515.6 132.3" stroke="#b9aea3" stroke-width="3.9" opacity="0.24" filter="url(#halo)"/>
<path d="M516.6 95.4C516.7 95.8 517.1 96.7 517.1 97.4C517.1 98.2 516.5 99.0 516.3 99.9C516.2 100.9 516.2 102.0 516.0 103.0C515.9 104.1 515.8 105.3 515.6 106.4C515.3 107.5 514.5 108.6 514.4 109.7C514.3 110.8 514.9 112.0 515.0 113.0C515.1 114.1 515.2 114.9 515.1 115.9C514.9 116.9 514.0 118.0 513.9 119.1C513.8 120.2 514.0 121.3 514.2 122.3C514.3 123.4 514.7 124.4 514.8 125.4C515.0 126.4 514.9 127.4 514.9 128.2C515.0 129.1 515.3 129.9 515.4 130.6C515.5 131.2 515.6 132.0 515.6 132.3" stroke="#b9aea3" stroke-width="1.3" opacity="0.6"/>
<path d="M515.0 113.0L517.3 114.4M515.4 130.6L513.5 132.5" stroke="#b9aea3" stroke-width="0.8" opacity="0.42"/>
<path d="M525.8 87.2C525.9 87.6 526.1 88.6 526.3 89.5C526.5 90.3 526.9 91.5 527.1 92.6C527.2 93.7 526.9 95.1 527.0 96.3C527.1 97.4 527.4 98.4 527.5 99.5C527.6 100.7 527.7 101.7 527.8 102.9C527.9 104.0 528.0 105.4 527.9 106.5C527.8 107.6 527.5 108.8 527.3 109.6C527.2 110.5 526.9 111.5 526.9 111.8" stroke="#b9aea3" stroke-width="3.9" opacity="0.24" filter="url(#halo)"/>
<path d="M525.8 87.2C525.9 87.6 526.1 88.6 526.3 89.5C526.5 90.3 526.9 91.5 527.1 92.6C527.2 93.7 526.9 95.1 527.0 96.3C527.1 97.4 527.4 98.4 527.5 99.5C527.6 100.7 527.7 101.7 527.8 102.9C527.9 104.0 528.0 105.4 527.9 106.5C527.8 107.6 527.5 108.8 527.3 109.6C527.2 110.5 526.9 111.5 526.9 111.8" stroke="#b9aea3" stroke-width="1.3" opacity="0.6"/>
<path d="M527.0 96.3L528.1 97.0M527.9 106.5L526.1 107.7" stroke="#b9aea3" stroke-width="0.8" opacity="0.42"/>
<path d="M524.8 111.8C524.8 112.2 525.0 113.2 525.0 114.1C525.0 115.1 524.9 116.3 525.0 117.5C525.1 118.6 525.4 119.9 525.7 121.0C525.9 122.1 526.4 123.0 526.4 124.1C526.4 125.2 525.9 126.4 525.7 127.5C525.4 128.5 525.2 129.5 525.1 130.3C524.9 131.1 524.9 132.0 524.8 132.3" stroke="#b9aea3" stroke-width="3.9" opacity="0.24" filter="url(#halo)"/>
<path d="M524.8 111.8C524.8 112.2 525.0 113.2 525.0 114.1C525.0 115.1 524.9 116.3 525.0 117.5C525.1 118.6 525.4 119.9 525.7 121.0C525.9 122.1 526.4 123.0 526.4 124.1C526.4 125.2 525.9 126.4 525.7 127.5C525.4 128.5 525.2 129.5 525.1 130.3C524.9 131.1 524.9 132.0 524.8 132.3" stroke="#b9aea3" stroke-width="1.3" opacity="0.6"/>
<path d="M525.1 130.3L527.1 132.5" stroke="#b9aea3" stroke-width="0.8" opacity="0.42"/>
<path d="M534.0 38.1C534.3 38.2 535.2 38.5 535.8 39.0C536.5 39.5 537.0 40.5 537.8 41.1C538.5 41.7 539.8 42.1 540.5 42.7C541.3 43.4 541.9 44.2 542.5 45.1C543.1 45.9 543.7 46.8 544.1 47.9C544.4 48.9 544.3 50.3 544.6 51.4C544.9 52.5 545.4 53.6 545.7 54.4C546.0 55.3 546.2 56.2 546.3 56.5" stroke="#8e8e90" stroke-width="5.4" opacity="0.22" filter="url(#halo)"/>
<path d="M534.0 38.1C534.3 38.2 535.2 38.5 535.8 39.0C536.5 39.5 537.0 40.5 537.8 41.1C538.5 41.7 539.8 42.1 540.5 42.7C541.3 43.4 541.9 44.2 542.5 45.1C543.1 45.9 543.7 46.8 544.1 47.9C544.4 48.9 544.3 50.3 544.6 51.4C544.9 52.5 545.4 53.6 545.7 54.4C546.0 55.3 546.2 56.2 546.3 56.5" stroke="#8e8e90" stroke-width="1.8" opacity="0.55"/>
<path d="M545.7 181.5C545.6 181.7 545.3 182.5 545.1 183.2C544.8 183.9 544.5 184.8 544.1 185.7C543.8 186.6 543.4 187.6 543.0 188.6C542.7 189.6 542.3 190.7 542.0 191.7C541.7 192.8 541.5 193.9 541.2 195.0C540.9 196.0 540.8 197.0 540.4 198.0C540.1 198.9 539.8 199.9 539.2 200.8C538.6 201.7 537.7 202.4 537.0 203.3C536.3 204.1 535.7 205.1 535.1 205.9C534.4 206.7 533.7 207.5 533.1 208.3C532.5 209.0 531.8 209.6 531.4 210.2C531.1 210.9 531.0 211.8 531.0 212.2" stroke="#7c7c7e" stroke-width="4.5" opacity="0.16" filter="url(#halo)"/>
<path d="M545.7 181.5C545.6 181.7 545.3 182.5 545.1 183.2C544.8 183.9 544.5 184.8 544.1 185.7C543.8 186.6 543.4 187.6 543.0 188.6C542.7 189.6 542.3 190.7 542.0 191.7C541.7 192.8 541.5 193.9 541.2 195.0C540.9 196.0 540.8 197.0 540.4 198.0C540.1 198.9 539.8 199.9 539.2 200.8C538.6 201.7 537.7 202.4 537.0 203.3C536.3 204.1 535.7 205.1 535.1 205.9C534.4 206.7 533.7 207.5 533.1 208.3C532.5 209.0 531.8 209.6 531.4 210.2C531.1 210.9 531.0 211.8 531.0 212.2" stroke="#7c7c7e" stroke-width="1.5" opacity="0.4"/>
<path d="M518.7 61.6C519.3 61.8 521.1 62.5 522.2 62.6C523.3 62.6 524.8 61.9 525.4 61.8" stroke="#c4d35c" stroke-width="0.9"/>
<path d="M520.8 62.2C521.0 62.2 521.4 62.6 522.2 62.6C523.0 62.5 524.8 61.9 525.4 61.8" stroke="#6aa52c" stroke-width="2.4"/>
<path d="M518.7 61.6C518.4 62.2 517.4 63.9 517.3 65.0C517.1 66.1 517.7 67.6 517.8 68.1" stroke="#c4d35c" stroke-width="0.9"/>
<path d="M517.8 63.7C517.7 63.9 517.3 64.3 517.3 65.0C517.3 65.7 517.7 67.6 517.8 68.1" stroke="#478023" stroke-width="2.4"/>
<path d="M518.7 61.6C518.1 61.5 516.4 60.6 515.3 60.5C514.2 60.4 512.6 60.9 512.1 61.0" stroke="#c4d35c" stroke-width="0.9"/>
<path d="M516.6 61.0C516.4 60.9 516.0 60.5 515.3 60.5C514.5 60.5 512.6 60.9 512.1 61.0" stroke="#9cc537" stroke-width="2.4"/>
<path d="M518.7 61.6C518.6 61.1 518.7 59.4 518.3 58.5C517.9 57.6 516.8 56.7 516.5 56.3" stroke="#c4d35c" stroke-width="0.9"/>
<path d="M518.5 59.8C518.4 59.6 518.6 59.1 518.3 58.5C518.0 57.9 516.8 56.7 516.5 56.3" stroke="#6aa52c" stroke-width="2.4"/>
<path d="M518.7 61.6C519.2 61.3 521.2 60.5 522.0 59.7C522.8 58.9 523.2 57.3 523.5 56.8" stroke="#c4d35c" stroke-width="0.9"/>
<path d="M520.6 60.5C520.9 60.3 521.5 60.3 522.0 59.7C522.4 59.1 523.2 57.3 523.5 56.8" stroke="#478023" stroke-width="2.4"/>
<path d="M518.7 61.6C517.8 60.1 514.9 54.6 513.6 52.4C512.2 50.2 511.0 49.0 510.5 48.3" stroke="#c4d35c" stroke-width="0.9"/>
<path d="M515.6 56.1C515.3 55.5 514.4 53.7 513.6 52.4C512.7 51.1 511.0 49.0 510.5 48.3" stroke="#478023" stroke-width="3.1"/>
<path d="M518.7 61.6C519.7 60.3 523.4 55.7 524.8 53.5C526.2 51.2 526.5 49.2 526.9 48.3" stroke="#c4d35c" stroke-width="0.9"/>
<path d="M522.4 56.7C522.8 56.2 524.1 54.9 524.8 53.5C525.6 52.1 526.5 49.2 526.9 48.3" stroke="#478023" stroke-width="3.1"/>
<path d="M518.7 61.6C516.6 61.3 510.0 59.6 506.4 59.6C502.8 59.6 498.7 61.3 497.2 61.6" stroke="#c4d35c" stroke-width="0.9"/>
<path d="M511.3 60.4C510.5 60.3 508.7 59.4 506.4 59.6C504.0 59.8 498.7 61.3 497.2 61.6" stroke="#478023" stroke-width="3.6"/>
<path d="M519.7 62.7C521.2 63.2 525.5 65.2 528.9 65.7C532.3 66.3 538.3 65.7 540.2 65.7" stroke="#c4d35c" stroke-width="0.9"/>
<path d="M525.2 64.5C525.8 64.7 526.4 65.5 528.9 65.7C531.4 65.9 538.3 65.7 540.2 65.7" stroke="#478023" stroke-width="3.1"/>
<path d="M518.3 62.7C517.8 64.4 516.4 69.7 515.6 72.9C514.8 76.2 513.9 80.6 513.6 82.1" stroke="#c4d35c" stroke-width="0.9"/>
<path d="M516.7 68.8C516.5 69.5 516.1 70.7 515.6 72.9C515.1 75.1 513.9 80.6 513.6 82.1" stroke="#6aa52c" stroke-width="4.3"/>
<path d="M520.7 62.7C521.9 63.5 525.8 66.3 527.9 67.8C529.9 69.3 532.2 71.2 533.0 71.9" stroke="#c4d35c" stroke-width="0.9"/>
<path d="M525.0 65.7C525.5 66.1 526.6 66.8 527.9 67.8C529.2 68.8 532.2 71.2 533.0 71.9" stroke="#478023" stroke-width="2.4"/>
<circle cx="518.7" cy="61.6" r="1.1" fill="#c4d35c" stroke="none"/>
</g>
<rect x="539.8" y="191.0" width="3.5" height="21.2" fill="#fff"/>
</g>
<g>
<line x1="41.50" y1="344.88" x2="124.50" y2="344.88" stroke="#DEDEDE" stroke-width="0.8"/>
<line x1="41.50" y1="318.56" x2="124.50" y2="318.56" stroke="#DEDEDE" stroke-width="0.8"/>
<line x1="41.50" y1="292.24" x2="124.50" y2="292.24" stroke="#DEDEDE" stroke-width="0.8"/>
<line x1="41.50" y1="265.92" x2="124.50" y2="265.92" stroke="#DEDEDE" stroke-width="0.8"/>
<line x1="41.50" y1="239.60" x2="124.50" y2="239.60" stroke="#DEDEDE" stroke-width="0.8"/>
<path d="M55.33 263.29V255.39M52.58 255.39H58.08" stroke="#000" stroke-width="1.5" fill="none"/>
<rect x="46.18" y="263.29" width="18.30" height="107.91" fill="#FBE5D6" stroke="#000" stroke-width="1.4"/>
<path d="M83.00 276.45V267.24M80.25 267.24H85.75" stroke="#000" stroke-width="1.5" fill="none"/>
<rect x="73.85" y="276.45" width="18.30" height="94.75" fill="#F4B183" stroke="#000" stroke-width="1.4"/>
<path d="M110.67 301.45V294.87M107.92 294.87H113.42" stroke="#000" stroke-width="1.5" fill="none"/>
<rect x="101.52" y="301.45" width="18.30" height="69.75" fill="#C55A11" stroke="#000" stroke-width="1.4"/>
<text x="111.02" y="292.49" text-anchor="middle" font-size="13.6" font-weight="bold" stroke="none" letter-spacing="1.45">**</text>
<path d="M41.50 239.00V371.40H124.50" stroke="#000" stroke-width="1.6" fill="none" stroke-linejoin="miter"/>
<text x="33.50" y="374.00" text-anchor="end" font-size="8.2" font-weight="bold">0</text>
<line x1="41.50" y1="344.88" x2="44.50" y2="344.88" stroke="#000" stroke-width="1.3"/>
<text x="33.50" y="347.68" text-anchor="end" font-size="8.2" font-weight="bold">20</text>
<line x1="41.50" y1="318.56" x2="44.50" y2="318.56" stroke="#000" stroke-width="1.3"/>
<text x="33.50" y="321.36" text-anchor="end" font-size="8.2" font-weight="bold">40</text>
<line x1="41.50" y1="292.24" x2="44.50" y2="292.24" stroke="#000" stroke-width="1.3"/>
<text x="33.50" y="295.04" text-anchor="end" font-size="8.2" font-weight="bold">60</text>
<line x1="41.50" y1="265.92" x2="44.50" y2="265.92" stroke="#000" stroke-width="1.3"/>
<text x="33.50" y="268.72" text-anchor="end" font-size="8.2" font-weight="bold">80</text>
<line x1="41.50" y1="239.60" x2="44.50" y2="239.60" stroke="#000" stroke-width="1.3"/>
<text x="33.50" y="242.40" text-anchor="end" font-size="8.2" font-weight="bold">100</text>
<text x="55.33" y="384.20" text-anchor="middle" font-size="8.8" font-weight="bold">0.0<tspan font-weight="normal">µ</tspan>M</text>
<text x="83.00" y="384.20" text-anchor="middle" font-size="8.8" font-weight="bold">0.1<tspan font-weight="normal">µ</tspan>M</text>
<text x="110.67" y="384.20" text-anchor="middle" font-size="8.8" font-weight="bold">1.0<tspan font-weight="normal">µ</tspan>M</text>
<text x="4.80" y="233.00" font-size="10.0" font-weight="bold">B.</text>
<text transform="translate(11.00 305.40) rotate(-90)" text-anchor="middle" font-size="8.8" font-weight="bold" xml:space="preserve">Primary root length (mm)</text>
</g>
<g>
<line x1="177.30" y1="349.27" x2="266.00" y2="349.27" stroke="#DEDEDE" stroke-width="0.8"/>
<line x1="177.30" y1="327.33" x2="266.00" y2="327.33" stroke="#DEDEDE" stroke-width="0.8"/>
<line x1="177.30" y1="305.40" x2="266.00" y2="305.40" stroke="#DEDEDE" stroke-width="0.8"/>
<line x1="177.30" y1="283.47" x2="266.00" y2="283.47" stroke="#DEDEDE" stroke-width="0.8"/>
<line x1="177.30" y1="261.53" x2="266.00" y2="261.53" stroke="#DEDEDE" stroke-width="0.8"/>
<line x1="177.30" y1="239.60" x2="266.00" y2="239.60" stroke="#DEDEDE" stroke-width="0.8"/>
<path d="M191.97 326.24V320.75M189.22 320.75H194.72" stroke="#000" stroke-width="1.5" fill="none"/>
<rect x="182.22" y="326.24" width="19.49" height="44.96" fill="#FBE5D6" stroke="#000" stroke-width="1.4"/>
<path d="M221.30 296.63V292.24M218.55 292.24H224.05" stroke="#000" stroke-width="1.5" fill="none"/>
<rect x="211.56" y="296.63" width="19.49" height="74.57" fill="#F4B183" stroke="#000" stroke-width="1.4"/>
<text x="221.65" y="289.86" text-anchor="middle" font-size="13.6" font-weight="bold" stroke="none" letter-spacing="1.45">***</text>
<path d="M250.63 268.11V261.53M247.88 261.53H253.38" stroke="#000" stroke-width="1.5" fill="none"/>
<rect x="240.89" y="268.11" width="19.49" height="103.09" fill="#C55A11" stroke="#000" stroke-width="1.4"/>
<text x="250.98" y="259.15" text-anchor="middle" font-size="13.6" font-weight="bold" stroke="none" letter-spacing="1.45">***</text>
<path d="M177.30 239.00V371.40H266.00" stroke="#000" stroke-width="1.6" fill="none" stroke-linejoin="miter"/>
<text x="169.30" y="374.00" text-anchor="end" font-size="8.2" font-weight="bold">0</text>
<line x1="177.30" y1="349.27" x2="180.30" y2="349.27" stroke="#000" stroke-width="1.3"/>
<text x="169.30" y="352.07" text-anchor="end" font-size="8.2" font-weight="bold">10</text>
<line x1="177.30" y1="327.33" x2="180.30" y2="327.33" stroke="#000" stroke-width="1.3"/>
<text x="169.30" y="330.13" text-anchor="end" font-size="8.2" font-weight="bold">20</text>
<line x1="177.30" y1="305.40" x2="180.30" y2="305.40" stroke="#000" stroke-width="1.3"/>
<text x="169.30" y="308.20" text-anchor="end" font-size="8.2" font-weight="bold">30</text>
<line x1="177.30" y1="283.47" x2="180.30" y2="283.47" stroke="#000" stroke-width="1.3"/>
<text x="169.30" y="286.27" text-anchor="end" font-size="8.2" font-weight="bold">40</text>
<line x1="177.30" y1="261.53" x2="180.30" y2="261.53" stroke="#000" stroke-width="1.3"/>
<text x="169.30" y="264.33" text-anchor="end" font-size="8.2" font-weight="bold">50</text>
<line x1="177.30" y1="239.60" x2="180.30" y2="239.60" stroke="#000" stroke-width="1.3"/>
<text x="169.30" y="242.40" text-anchor="end" font-size="8.2" font-weight="bold">60</text>
<text x="191.97" y="384.20" text-anchor="middle" font-size="8.8" font-weight="bold">0.0<tspan font-weight="normal">µ</tspan>M</text>
<text x="221.30" y="384.20" text-anchor="middle" font-size="8.8" font-weight="bold">0.1<tspan font-weight="normal">µ</tspan>M</text>
<text x="250.63" y="384.20" text-anchor="middle" font-size="8.8" font-weight="bold">1.0<tspan font-weight="normal">µ</tspan>M</text>
<text x="145.20" y="233.00" font-size="10.0" font-weight="bold">C.</text>
<text transform="translate(150.90 305.40) rotate(-90)" text-anchor="middle" font-size="8.8" font-weight="bold" xml:space="preserve">Lateral root number</text>
</g>
<g>
<line x1="319.70" y1="344.88" x2="405.40" y2="344.88" stroke="#DEDEDE" stroke-width="0.8"/>
<line x1="319.70" y1="318.56" x2="405.40" y2="318.56" stroke="#DEDEDE" stroke-width="0.8"/>
<line x1="319.70" y1="292.24" x2="405.40" y2="292.24" stroke="#DEDEDE" stroke-width="0.8"/>
<line x1="319.70" y1="265.92" x2="405.40" y2="265.92" stroke="#DEDEDE" stroke-width="0.8"/>
<line x1="319.70" y1="239.60" x2="405.40" y2="239.60" stroke="#DEDEDE" stroke-width="0.8"/>
<path d="M333.90 330.84V322.07M331.15 322.07H336.65" stroke="#000" stroke-width="1.5" fill="none"/>
<rect x="324.49" y="330.84" width="18.82" height="40.36" fill="#FBE5D6" stroke="#000" stroke-width="1.4"/>
<path d="M362.30 334.35V320.31M359.55 320.31H365.05" stroke="#000" stroke-width="1.5" fill="none"/>
<rect x="352.89" y="334.35" width="18.82" height="36.85" fill="#F4B183" stroke="#000" stroke-width="1.4"/>
<path d="M390.70 274.69V262.41M387.95 262.41H393.45" stroke="#000" stroke-width="1.5" fill="none"/>
<rect x="381.29" y="274.69" width="18.82" height="96.51" fill="#C55A11" stroke="#000" stroke-width="1.4"/>
<text x="391.05" y="260.03" text-anchor="middle" font-size="13.6" font-weight="bold" stroke="none" letter-spacing="1.45">***</text>
<path d="M319.70 239.00V371.40H405.40" stroke="#000" stroke-width="1.6" fill="none" stroke-linejoin="miter"/>
<text x="311.70" y="374.00" text-anchor="end" font-size="8.2" font-weight="bold">0.0</text>
<line x1="319.70" y1="344.88" x2="322.70" y2="344.88" stroke="#000" stroke-width="1.3"/>
<text x="311.70" y="347.68" text-anchor="end" font-size="8.2" font-weight="bold">1.5</text>
<line x1="319.70" y1="318.56" x2="322.70" y2="318.56" stroke="#000" stroke-width="1.3"/>
<text x="311.70" y="321.36" text-anchor="end" font-size="8.2" font-weight="bold">3.0</text>
<line x1="319.70" y1="292.24" x2="322.70" y2="292.24" stroke="#000" stroke-width="1.3"/>
<text x="311.70" y="295.04" text-anchor="end" font-size="8.2" font-weight="bold">4.5</text>
<line x1="319.70" y1="265.92" x2="322.70" y2="265.92" stroke="#000" stroke-width="1.3"/>
<text x="311.70" y="268.72" text-anchor="end" font-size="8.2" font-weight="bold">6.0</text>
<line x1="319.70" y1="239.60" x2="322.70" y2="239.60" stroke="#000" stroke-width="1.3"/>
<text x="311.70" y="242.40" text-anchor="end" font-size="8.2" font-weight="bold">7.5</text>
<text x="333.90" y="384.20" text-anchor="middle" font-size="8.8" font-weight="bold">0.0<tspan font-weight="normal">µ</tspan>M</text>
<text x="362.30" y="384.20" text-anchor="middle" font-size="8.8" font-weight="bold">0.1<tspan font-weight="normal">µ</tspan>M</text>
<text x="390.70" y="384.20" text-anchor="middle" font-size="8.8" font-weight="bold">1.0<tspan font-weight="normal">µ</tspan>M</text>
<text x="285.20" y="233.00" font-size="10.0" font-weight="bold">D.</text>
<text transform="translate(290.20 305.40) rotate(-90)" text-anchor="middle" font-size="8.8" font-weight="bold" xml:space="preserve">Adventitious root number</text>
</g>
<g>
<line x1="458.10" y1="344.88" x2="546.80" y2="344.88" stroke="#DEDEDE" stroke-width="0.8"/>
<line x1="458.10" y1="318.56" x2="546.80" y2="318.56" stroke="#DEDEDE" stroke-width="0.8"/>
<line x1="458.10" y1="292.24" x2="546.80" y2="292.24" stroke="#DEDEDE" stroke-width="0.8"/>
<line x1="458.10" y1="265.92" x2="546.80" y2="265.92" stroke="#DEDEDE" stroke-width="0.8"/>
<line x1="458.10" y1="239.60" x2="546.80" y2="239.60" stroke="#DEDEDE" stroke-width="0.8"/>
<path d="M472.85 264.60V259.34M470.10 259.34H475.60" stroke="#000" stroke-width="1.5" fill="none"/>
<rect x="463.05" y="264.60" width="19.60" height="106.60" fill="#FBE5D6" stroke="#000" stroke-width="1.4"/>
<path d="M502.35 265.92V261.97M499.60 261.97H505.10" stroke="#000" stroke-width="1.5" fill="none"/>
<rect x="492.55" y="265.92" width="19.60" height="105.28" fill="#F4B183" stroke="#000" stroke-width="1.4"/>
<path d="M531.85 288.29V284.34M529.10 284.34H534.60" stroke="#000" stroke-width="1.5" fill="none"/>
<rect x="522.05" y="288.29" width="19.60" height="82.91" fill="#C55A11" stroke="#000" stroke-width="1.4"/>
<text x="532.20" y="281.96" text-anchor="middle" font-size="13.6" font-weight="bold" stroke="none" letter-spacing="1.45">**</text>
<path d="M458.10 239.00V371.40H546.80" stroke="#000" stroke-width="1.6" fill="none" stroke-linejoin="miter"/>
<text x="450.10" y="374.00" text-anchor="end" font-size="8.2" font-weight="bold">0</text>
<line x1="458.10" y1="344.88" x2="461.10" y2="344.88" stroke="#000" stroke-width="1.3"/>
<text x="450.10" y="347.68" text-anchor="end" font-size="8.2" font-weight="bold">10</text>
<line x1="458.10" y1="318.56" x2="461.10" y2="318.56" stroke="#000" stroke-width="1.3"/>
<text x="450.10" y="321.36" text-anchor="end" font-size="8.2" font-weight="bold">20</text>
<line x1="458.10" y1="292.24" x2="461.10" y2="292.24" stroke="#000" stroke-width="1.3"/>
<text x="450.10" y="295.04" text-anchor="end" font-size="8.2" font-weight="bold">30</text>
<line x1="458.10" y1="265.92" x2="461.10" y2="265.92" stroke="#000" stroke-width="1.3"/>
<text x="450.10" y="268.72" text-anchor="end" font-size="8.2" font-weight="bold">40</text>
<line x1="458.10" y1="239.60" x2="461.10" y2="239.60" stroke="#000" stroke-width="1.3"/>
<text x="450.10" y="242.40" text-anchor="end" font-size="8.2" font-weight="bold">50</text>
<text x="472.85" y="384.20" text-anchor="middle" font-size="8.8" font-weight="bold">0.0<tspan font-weight="normal">µ</tspan>M</text>
<text x="502.35" y="384.20" text-anchor="middle" font-size="8.8" font-weight="bold">0.1<tspan font-weight="normal">µ</tspan>M</text>
<text x="531.85" y="384.20" text-anchor="middle" font-size="8.8" font-weight="bold">1.0<tspan font-weight="normal">µ</tspan>M</text>
<text x="426.50" y="233.00" font-size="10.0" font-weight="bold">E.</text>
<text transform="translate(432.00 305.40) rotate(-90)" text-anchor="middle" font-size="8.8" font-weight="bold" xml:space="preserve">Rosette surface area (mm<tspan font-size="5" dy="-2.6">2</tspan><tspan dy="2.6" font-size="0.1"> </tspan>)</text>
</g>
<g>
<line x1="39.30" y1="521.23" x2="122.30" y2="521.23" stroke="#DEDEDE" stroke-width="0.8"/>
<line x1="39.30" y1="499.27" x2="122.30" y2="499.27" stroke="#DEDEDE" stroke-width="0.8"/>
<line x1="39.30" y1="477.30" x2="122.30" y2="477.30" stroke="#DEDEDE" stroke-width="0.8"/>
<line x1="39.30" y1="455.33" x2="122.30" y2="455.33" stroke="#DEDEDE" stroke-width="0.8"/>
<line x1="39.30" y1="433.37" x2="122.30" y2="433.37" stroke="#DEDEDE" stroke-width="0.8"/>
<line x1="39.30" y1="411.40" x2="122.30" y2="411.40" stroke="#DEDEDE" stroke-width="0.8"/>
<path d="M53.48 433.37V428.97M50.73 428.97H56.23" stroke="#000" stroke-width="1.5" fill="none"/>
<rect x="44.08" y="433.37" width="18.80" height="109.83" fill="#FBE5D6" stroke="#000" stroke-width="1.4"/>
<path d="M81.85 504.76V499.27M79.10 499.27H84.60" stroke="#000" stroke-width="1.5" fill="none"/>
<rect x="72.45" y="504.76" width="18.80" height="38.44" fill="#F4B183" stroke="#000" stroke-width="1.4"/>
<text x="82.20" y="495.38" text-anchor="middle" font-size="13.6" font-weight="bold" stroke="none" letter-spacing="1.45">**</text>
<path d="M110.22 490.48V481.69M107.47 481.69H112.97" stroke="#000" stroke-width="1.5" fill="none"/>
<rect x="100.82" y="490.48" width="18.80" height="52.72" fill="#C55A11" stroke="#000" stroke-width="1.4"/>
<text x="110.57" y="477.81" text-anchor="middle" font-size="13.6" font-weight="bold" stroke="none" letter-spacing="1.45">*</text>
<path d="M39.30 410.80V543.40H122.30" stroke="#000" stroke-width="1.6" fill="none" stroke-linejoin="miter"/>
<text x="31.30" y="545.80" text-anchor="end" font-size="8.2" font-weight="bold">0.0</text>
<line x1="39.30" y1="521.23" x2="42.30" y2="521.23" stroke="#000" stroke-width="1.3"/>
<text x="31.30" y="523.83" text-anchor="end" font-size="8.2" font-weight="bold">0.2</text>
<line x1="39.30" y1="499.27" x2="42.30" y2="499.27" stroke="#000" stroke-width="1.3"/>
<text x="31.30" y="501.87" text-anchor="end" font-size="8.2" font-weight="bold">0.4</text>
<line x1="39.30" y1="477.30" x2="42.30" y2="477.30" stroke="#000" stroke-width="1.3"/>
<text x="31.30" y="479.90" text-anchor="end" font-size="8.2" font-weight="bold">0.6</text>
<line x1="39.30" y1="455.33" x2="42.30" y2="455.33" stroke="#000" stroke-width="1.3"/>
<text x="31.30" y="457.93" text-anchor="end" font-size="8.2" font-weight="bold">0.8</text>
<line x1="39.30" y1="433.37" x2="42.30" y2="433.37" stroke="#000" stroke-width="1.3"/>
<text x="31.30" y="435.97" text-anchor="end" font-size="8.2" font-weight="bold">1.0</text>
<line x1="39.30" y1="411.40" x2="42.30" y2="411.40" stroke="#000" stroke-width="1.3"/>
<text x="31.30" y="414.00" text-anchor="end" font-size="8.2" font-weight="bold">1.2</text>
<text x="53.48" y="556.20" text-anchor="middle" font-size="8.8" font-weight="bold">0.0<tspan font-weight="normal">µ</tspan>M</text>
<text x="81.85" y="556.20" text-anchor="middle" font-size="8.8" font-weight="bold">0.1<tspan font-weight="normal">µ</tspan>M</text>
<text x="110.22" y="556.20" text-anchor="middle" font-size="8.8" font-weight="bold">1.0<tspan font-weight="normal">µ</tspan>M</text>
<text x="4.80" y="403.90" font-size="10.0" font-weight="bold">F.</text>
<text transform="translate(9.90 477.30) rotate(-90)" text-anchor="middle" font-size="8.8" font-weight="bold" xml:space="preserve"><tspan font-style="italic">PRE-MIR160A</tspan> expression</text>
</g>
<g>
<line x1="179.50" y1="516.84" x2="264.40" y2="516.84" stroke="#DEDEDE" stroke-width="0.8"/>
<line x1="179.50" y1="490.48" x2="264.40" y2="490.48" stroke="#DEDEDE" stroke-width="0.8"/>
<line x1="179.50" y1="464.12" x2="264.40" y2="464.12" stroke="#DEDEDE" stroke-width="0.8"/>
<line x1="179.50" y1="437.76" x2="264.40" y2="437.76" stroke="#DEDEDE" stroke-width="0.8"/>
<line x1="179.50" y1="411.40" x2="264.40" y2="411.40" stroke="#DEDEDE" stroke-width="0.8"/>
<path d="M193.92 455.33V444.79M191.17 444.79H196.67" stroke="#000" stroke-width="1.5" fill="none"/>
<rect x="184.35" y="455.33" width="19.13" height="87.87" fill="#FBE5D6" stroke="#000" stroke-width="1.4"/>
<path d="M222.75 477.30V468.51M220.00 468.51H225.50" stroke="#000" stroke-width="1.5" fill="none"/>
<rect x="213.19" y="477.30" width="19.13" height="65.90" fill="#F4B183" stroke="#000" stroke-width="1.4"/>
<path d="M251.58 446.55V432.49M248.83 432.49H254.33" stroke="#000" stroke-width="1.5" fill="none"/>
<rect x="242.02" y="446.55" width="19.13" height="96.65" fill="#C55A11" stroke="#000" stroke-width="1.4"/>
<path d="M179.50 410.80V543.40H264.40" stroke="#000" stroke-width="1.6" fill="none" stroke-linejoin="miter"/>
<text x="171.50" y="545.80" text-anchor="end" font-size="8.2" font-weight="bold">0.0</text>
<line x1="179.50" y1="516.84" x2="182.50" y2="516.84" stroke="#000" stroke-width="1.3"/>
<text x="171.50" y="519.44" text-anchor="end" font-size="8.2" font-weight="bold">0.3</text>
<line x1="179.50" y1="490.48" x2="182.50" y2="490.48" stroke="#000" stroke-width="1.3"/>
<text x="171.50" y="493.08" text-anchor="end" font-size="8.2" font-weight="bold">0.6</text>
<line x1="179.50" y1="464.12" x2="182.50" y2="464.12" stroke="#000" stroke-width="1.3"/>
<text x="171.50" y="466.72" text-anchor="end" font-size="8.2" font-weight="bold">0.9</text>
<line x1="179.50" y1="437.76" x2="182.50" y2="437.76" stroke="#000" stroke-width="1.3"/>
<text x="171.50" y="440.36" text-anchor="end" font-size="8.2" font-weight="bold">1.2</text>
<line x1="179.50" y1="411.40" x2="182.50" y2="411.40" stroke="#000" stroke-width="1.3"/>
<text x="171.50" y="414.00" text-anchor="end" font-size="8.2" font-weight="bold">1.5</text>
<text x="193.92" y="556.20" text-anchor="middle" font-size="8.8" font-weight="bold">0.0<tspan font-weight="normal">µ</tspan>M</text>
<text x="222.75" y="556.20" text-anchor="middle" font-size="8.8" font-weight="bold">0.1<tspan font-weight="normal">µ</tspan>M</text>
<text x="251.58" y="556.20" text-anchor="middle" font-size="8.8" font-weight="bold">1.0<tspan font-weight="normal">µ</tspan>M</text>
<text x="146.50" y="403.90" font-size="10.0" font-weight="bold">G.</text>
<text transform="translate(151.90 477.30) rotate(-90)" text-anchor="middle" font-size="8.8" font-weight="bold" xml:space="preserve"><tspan font-style="italic">PRE-MIR160B</tspan> expression</text>
</g>
<g>
<line x1="319.40" y1="516.84" x2="404.40" y2="516.84" stroke="#DEDEDE" stroke-width="0.8"/>
<line x1="319.40" y1="490.48" x2="404.40" y2="490.48" stroke="#DEDEDE" stroke-width="0.8"/>
<line x1="319.40" y1="464.12" x2="404.40" y2="464.12" stroke="#DEDEDE" stroke-width="0.8"/>
<line x1="319.40" y1="437.76" x2="404.40" y2="437.76" stroke="#DEDEDE" stroke-width="0.8"/>
<line x1="319.40" y1="411.40" x2="404.40" y2="411.40" stroke="#DEDEDE" stroke-width="0.8"/>
<path d="M333.92 477.30V464.12M331.17 464.12H336.67" stroke="#000" stroke-width="1.5" fill="none"/>
<rect x="324.28" y="477.30" width="19.27" height="65.90" fill="#FBE5D6" stroke="#000" stroke-width="1.4"/>
<path d="M362.95 491.80V489.16M360.20 489.16H365.70" stroke="#000" stroke-width="1.5" fill="none"/>
<rect x="353.31" y="491.80" width="19.27" height="51.40" fill="#F4B183" stroke="#000" stroke-width="1.4"/>
<path d="M391.98 439.08V432.49M389.23 432.49H394.73" stroke="#000" stroke-width="1.5" fill="none"/>
<rect x="382.35" y="439.08" width="19.27" height="104.12" fill="#C55A11" stroke="#000" stroke-width="1.4"/>
<path d="M319.40 410.80V543.40H404.40" stroke="#000" stroke-width="1.6" fill="none" stroke-linejoin="miter"/>
<text x="311.40" y="545.80" text-anchor="end" font-size="8.2" font-weight="bold">0.0</text>
<line x1="319.40" y1="516.84" x2="322.40" y2="516.84" stroke="#000" stroke-width="1.3"/>
<text x="311.40" y="519.44" text-anchor="end" font-size="8.2" font-weight="bold">0.4</text>
<line x1="319.40" y1="490.48" x2="322.40" y2="490.48" stroke="#000" stroke-width="1.3"/>
<text x="311.40" y="493.08" text-anchor="end" font-size="8.2" font-weight="bold">0.8</text>
<line x1="319.40" y1="464.12" x2="322.40" y2="464.12" stroke="#000" stroke-width="1.3"/>
<text x="311.40" y="466.72" text-anchor="end" font-size="8.2" font-weight="bold">1.2</text>
<line x1="319.40" y1="437.76" x2="322.40" y2="437.76" stroke="#000" stroke-width="1.3"/>
<text x="311.40" y="440.36" text-anchor="end" font-size="8.2" font-weight="bold">1.6</text>
<line x1="319.40" y1="411.40" x2="322.40" y2="411.40" stroke="#000" stroke-width="1.3"/>
<text x="311.40" y="414.00" text-anchor="end" font-size="8.2" font-weight="bold">2.0</text>
<text x="333.92" y="556.20" text-anchor="middle" font-size="8.8" font-weight="bold">0.0<tspan font-weight="normal">µ</tspan>M</text>
<text x="362.95" y="556.20" text-anchor="middle" font-size="8.8" font-weight="bold">0.1<tspan font-weight="normal">µ</tspan>M</text>
<text x="391.98" y="556.20" text-anchor="middle" font-size="8.8" font-weight="bold">1.0<tspan font-weight="normal">µ</tspan>M</text>
<text x="286.50" y="403.90" font-size="10.0" font-weight="bold">H.</text>
<text transform="translate(291.70 477.30) rotate(-90)" text-anchor="middle" font-size="8.8" font-weight="bold" xml:space="preserve"><tspan font-style="italic">PRE-MIR160C</tspan> expression</text>
</g>
<g>
<line x1="460.30" y1="516.84" x2="547.30" y2="516.84" stroke="#DEDEDE" stroke-width="0.8"/>
<line x1="460.30" y1="490.48" x2="547.30" y2="490.48" stroke="#DEDEDE" stroke-width="0.8"/>
<line x1="460.30" y1="464.12" x2="547.30" y2="464.12" stroke="#DEDEDE" stroke-width="0.8"/>
<line x1="460.30" y1="437.76" x2="547.30" y2="437.76" stroke="#DEDEDE" stroke-width="0.8"/>
<line x1="460.30" y1="411.40" x2="547.30" y2="411.40" stroke="#DEDEDE" stroke-width="0.8"/>
<path d="M474.72 516.84V515.52M471.97 515.52H477.47" stroke="#000" stroke-width="1.5" fill="none"/>
<rect x="465.15" y="516.84" width="19.13" height="26.36" fill="#FBE5D6" stroke="#000" stroke-width="1.4"/>
<path d="M503.55 444.35V436.44M500.80 436.44H506.30" stroke="#000" stroke-width="1.5" fill="none"/>
<rect x="493.99" y="444.35" width="19.13" height="98.85" fill="#F4B183" stroke="#000" stroke-width="1.4"/>
<text x="503.90" y="433.06" text-anchor="middle" font-size="13.6" font-weight="bold" stroke="none" letter-spacing="1.45">**</text>
<path d="M532.38 493.12V490.48M529.63 490.48H535.13" stroke="#000" stroke-width="1.5" fill="none"/>
<rect x="522.82" y="493.12" width="19.13" height="50.08" fill="#C55A11" stroke="#000" stroke-width="1.4"/>
<text x="532.73" y="487.10" text-anchor="middle" font-size="13.6" font-weight="bold" stroke="none" letter-spacing="1.45">*</text>
<path d="M460.30 410.80V543.40H547.30" stroke="#000" stroke-width="1.6" fill="none" stroke-linejoin="miter"/>
<text x="452.30" y="545.80" text-anchor="end" font-size="8.2" font-weight="bold">0.0</text>
<line x1="460.30" y1="516.84" x2="463.30" y2="516.84" stroke="#000" stroke-width="1.3"/>
<text x="452.30" y="519.44" text-anchor="end" font-size="8.2" font-weight="bold">1.0</text>
<line x1="460.30" y1="490.48" x2="463.30" y2="490.48" stroke="#000" stroke-width="1.3"/>
<text x="452.30" y="493.08" text-anchor="end" font-size="8.2" font-weight="bold">2.0</text>
<line x1="460.30" y1="464.12" x2="463.30" y2="464.12" stroke="#000" stroke-width="1.3"/>
<text x="452.30" y="466.72" text-anchor="end" font-size="8.2" font-weight="bold">3.0</text>
<line x1="460.30" y1="437.76" x2="463.30" y2="437.76" stroke="#000" stroke-width="1.3"/>
<text x="452.30" y="440.36" text-anchor="end" font-size="8.2" font-weight="bold">4.0</text>
<line x1="460.30" y1="411.40" x2="463.30" y2="411.40" stroke="#000" stroke-width="1.3"/>
<text x="452.30" y="414.00" text-anchor="end" font-size="8.2" font-weight="bold">5.0</text>
<text x="474.72" y="556.20" text-anchor="middle" font-size="8.8" font-weight="bold">0.0<tspan font-weight="normal">µ</tspan>M</text>
<text x="503.55" y="556.20" text-anchor="middle" font-size="8.8" font-weight="bold">0.1<tspan font-weight="normal">µ</tspan>M</text>
<text x="532.38" y="556.20" text-anchor="middle" font-size="8.8" font-weight="bold">1.0<tspan font-weight="normal">µ</tspan>M</text>
<text x="426.00" y="403.90" font-size="10.0" font-weight="bold">I.</text>
<text transform="translate(433.00 477.30) rotate(-90)" text-anchor="middle" font-size="8.8" font-weight="bold" xml:space="preserve">miR160 abundance</text>
</g>
<g>
<line x1="38.80" y1="688.52" x2="122.30" y2="688.52" stroke="#DEDEDE" stroke-width="0.8"/>
<line x1="38.80" y1="662.24" x2="122.30" y2="662.24" stroke="#DEDEDE" stroke-width="0.8"/>
<line x1="38.80" y1="635.96" x2="122.30" y2="635.96" stroke="#DEDEDE" stroke-width="0.8"/>
<line x1="38.80" y1="609.68" x2="122.30" y2="609.68" stroke="#DEDEDE" stroke-width="0.8"/>
<line x1="38.80" y1="583.40" x2="122.30" y2="583.40" stroke="#DEDEDE" stroke-width="0.8"/>
<path d="M53.00 649.10V635.96M50.25 635.96H55.75" stroke="#000" stroke-width="1.5" fill="none"/>
<rect x="43.59" y="649.10" width="18.82" height="65.70" fill="#FBE5D6" stroke="#000" stroke-width="1.4"/>
<path d="M81.40 635.96V626.11M78.65 626.11H84.15" stroke="#000" stroke-width="1.5" fill="none"/>
<rect x="71.99" y="635.96" width="18.82" height="78.84" fill="#F4B183" stroke="#000" stroke-width="1.4"/>
<path d="M109.80 629.39V612.96M107.05 612.96H112.55" stroke="#000" stroke-width="1.5" fill="none"/>
<rect x="100.39" y="629.39" width="18.82" height="85.41" fill="#C55A11" stroke="#000" stroke-width="1.4"/>
<path d="M38.80 582.80V715.00H122.30" stroke="#000" stroke-width="1.6" fill="none" stroke-linejoin="miter"/>
<text x="30.80" y="717.60" text-anchor="end" font-size="8.2" font-weight="bold">0.0</text>
<line x1="38.80" y1="688.52" x2="41.80" y2="688.52" stroke="#000" stroke-width="1.3"/>
<text x="30.80" y="691.32" text-anchor="end" font-size="8.2" font-weight="bold">0.4</text>
<line x1="38.80" y1="662.24" x2="41.80" y2="662.24" stroke="#000" stroke-width="1.3"/>
<text x="30.80" y="665.04" text-anchor="end" font-size="8.2" font-weight="bold">0.8</text>
<line x1="38.80" y1="635.96" x2="41.80" y2="635.96" stroke="#000" stroke-width="1.3"/>
<text x="30.80" y="638.76" text-anchor="end" font-size="8.2" font-weight="bold">1.2</text>
<line x1="38.80" y1="609.68" x2="41.80" y2="609.68" stroke="#000" stroke-width="1.3"/>
<text x="30.80" y="612.48" text-anchor="end" font-size="8.2" font-weight="bold">1.6</text>
<line x1="38.80" y1="583.40" x2="41.80" y2="583.40" stroke="#000" stroke-width="1.3"/>
<text x="30.80" y="586.20" text-anchor="end" font-size="8.2" font-weight="bold">2.0</text>
<text x="53.00" y="727.80" text-anchor="middle" font-size="8.8" font-weight="bold">0.0<tspan font-weight="normal">µ</tspan>M</text>
<text x="81.40" y="727.80" text-anchor="middle" font-size="8.8" font-weight="bold">0.1<tspan font-weight="normal">µ</tspan>M</text>
<text x="109.80" y="727.80" text-anchor="middle" font-size="8.8" font-weight="bold">1.0<tspan font-weight="normal">µ</tspan>M</text>
<text x="5.20" y="577.60" font-size="10.0" font-weight="bold">J.</text>
<text transform="translate(9.90 649.10) rotate(-90)" text-anchor="middle" font-size="8.8" font-weight="bold" xml:space="preserve"><tspan font-style="italic">eTM160-1</tspan> expression</text>
</g>
<g>
<line x1="179.50" y1="688.52" x2="264.00" y2="688.52" stroke="#DEDEDE" stroke-width="0.8"/>
<line x1="179.50" y1="662.24" x2="264.00" y2="662.24" stroke="#DEDEDE" stroke-width="0.8"/>
<line x1="179.50" y1="635.96" x2="264.00" y2="635.96" stroke="#DEDEDE" stroke-width="0.8"/>
<line x1="179.50" y1="609.68" x2="264.00" y2="609.68" stroke="#DEDEDE" stroke-width="0.8"/>
<line x1="179.50" y1="583.40" x2="264.00" y2="583.40" stroke="#DEDEDE" stroke-width="0.8"/>
<path d="M193.83 649.10V645.81M191.08 645.81H196.58" stroke="#000" stroke-width="1.5" fill="none"/>
<rect x="184.33" y="649.10" width="19.01" height="65.70" fill="#FBE5D6" stroke="#000" stroke-width="1.4"/>
<path d="M222.50 612.96V606.39M219.75 606.39H225.25" stroke="#000" stroke-width="1.5" fill="none"/>
<rect x="212.99" y="612.96" width="19.01" height="101.84" fill="#F4B183" stroke="#000" stroke-width="1.4"/>
<path d="M251.17 603.11V601.14M248.42 601.14H253.92" stroke="#000" stroke-width="1.5" fill="none"/>
<rect x="241.66" y="603.11" width="19.01" height="111.69" fill="#C55A11" stroke="#000" stroke-width="1.4"/>
<text x="251.52" y="598.05" text-anchor="middle" font-size="13.6" font-weight="bold" stroke="none" letter-spacing="1.45">*</text>
<path d="M179.50 582.80V715.00H264.00" stroke="#000" stroke-width="1.6" fill="none" stroke-linejoin="miter"/>
<text x="171.50" y="717.60" text-anchor="end" font-size="8.2" font-weight="bold">0.0</text>
<line x1="179.50" y1="688.52" x2="182.50" y2="688.52" stroke="#000" stroke-width="1.3"/>
<text x="171.50" y="691.32" text-anchor="end" font-size="8.2" font-weight="bold">0.4</text>
<line x1="179.50" y1="662.24" x2="182.50" y2="662.24" stroke="#000" stroke-width="1.3"/>
<text x="171.50" y="665.04" text-anchor="end" font-size="8.2" font-weight="bold">0.8</text>
<line x1="179.50" y1="635.96" x2="182.50" y2="635.96" stroke="#000" stroke-width="1.3"/>
<text x="171.50" y="638.76" text-anchor="end" font-size="8.2" font-weight="bold">1.2</text>
<line x1="179.50" y1="609.68" x2="182.50" y2="609.68" stroke="#000" stroke-width="1.3"/>
<text x="171.50" y="612.48" text-anchor="end" font-size="8.2" font-weight="bold">1.6</text>
<line x1="179.50" y1="583.40" x2="182.50" y2="583.40" stroke="#000" stroke-width="1.3"/>
<text x="171.50" y="586.20" text-anchor="end" font-size="8.2" font-weight="bold">2.0</text>
<text x="193.83" y="727.80" text-anchor="middle" font-size="8.8" font-weight="bold">0.0<tspan font-weight="normal">µ</tspan>M</text>
<text x="222.50" y="727.80" text-anchor="middle" font-size="8.8" font-weight="bold">0.1<tspan font-weight="normal">µ</tspan>M</text>
<text x="251.17" y="727.80" text-anchor="middle" font-size="8.8" font-weight="bold">1.0<tspan font-weight="normal">µ</tspan>M</text>
<text x="144.80" y="577.60" font-size="10.0" font-weight="bold">K.</text>
<text transform="translate(151.90 649.10) rotate(-90)" text-anchor="middle" font-size="8.8" font-weight="bold" xml:space="preserve"><tspan font-style="italic">eTM160-2</tspan> expression</text>
</g>
<g>
<line x1="320.30" y1="681.95" x2="404.40" y2="681.95" stroke="#DEDEDE" stroke-width="0.8"/>
<line x1="320.30" y1="649.10" x2="404.40" y2="649.10" stroke="#DEDEDE" stroke-width="0.8"/>
<line x1="320.30" y1="616.25" x2="404.40" y2="616.25" stroke="#DEDEDE" stroke-width="0.8"/>
<line x1="320.30" y1="583.40" x2="404.40" y2="583.40" stroke="#DEDEDE" stroke-width="0.8"/>
<path d="M334.63 632.67V620.36M331.88 620.36H337.38" stroke="#000" stroke-width="1.5" fill="none"/>
<rect x="325.13" y="632.67" width="19.01" height="82.12" fill="#FBE5D6" stroke="#000" stroke-width="1.4"/>
<path d="M363.30 599.83V589.97M360.55 589.97H366.05" stroke="#000" stroke-width="1.5" fill="none"/>
<rect x="353.79" y="599.83" width="19.01" height="114.97" fill="#F4B183" stroke="#000" stroke-width="1.4"/>
<path d="M391.97 598.18V594.08M389.22 594.08H394.72" stroke="#000" stroke-width="1.5" fill="none"/>
<rect x="382.46" y="598.18" width="19.01" height="116.62" fill="#C55A11" stroke="#000" stroke-width="1.4"/>
<path d="M320.30 582.80V715.00H404.40" stroke="#000" stroke-width="1.6" fill="none" stroke-linejoin="miter"/>
<text x="312.30" y="717.60" text-anchor="end" font-size="8.2" font-weight="bold">0.0</text>
<line x1="320.30" y1="681.95" x2="323.30" y2="681.95" stroke="#000" stroke-width="1.3"/>
<text x="312.30" y="684.75" text-anchor="end" font-size="8.2" font-weight="bold">0.4</text>
<line x1="320.30" y1="649.10" x2="323.30" y2="649.10" stroke="#000" stroke-width="1.3"/>
<text x="312.30" y="651.90" text-anchor="end" font-size="8.2" font-weight="bold">0.8</text>
<line x1="320.30" y1="616.25" x2="323.30" y2="616.25" stroke="#000" stroke-width="1.3"/>
<text x="312.30" y="619.05" text-anchor="end" font-size="8.2" font-weight="bold">1.2</text>
<line x1="320.30" y1="583.40" x2="323.30" y2="583.40" stroke="#000" stroke-width="1.3"/>
<text x="312.30" y="586.20" text-anchor="end" font-size="8.2" font-weight="bold">1.6</text>
<text x="334.63" y="727.80" text-anchor="middle" font-size="8.8" font-weight="bold">0.0<tspan font-weight="normal">µ</tspan>M</text>
<text x="363.30" y="727.80" text-anchor="middle" font-size="8.8" font-weight="bold">0.1<tspan font-weight="normal">µ</tspan>M</text>
<text x="391.97" y="727.80" text-anchor="middle" font-size="8.8" font-weight="bold">1.0<tspan font-weight="normal">µ</tspan>M</text>
<text x="286.00" y="577.60" font-size="10.0" font-weight="bold">L.</text>
<text transform="translate(291.70 649.10) rotate(-90)" text-anchor="middle" font-size="8.8" font-weight="bold" xml:space="preserve"><tspan font-style="italic">ARF10</tspan> expression</text>
</g>
<g>
<line x1="461.00" y1="681.95" x2="547.00" y2="681.95" stroke="#DEDEDE" stroke-width="0.8"/>
<line x1="461.00" y1="649.10" x2="547.00" y2="649.10" stroke="#DEDEDE" stroke-width="0.8"/>
<line x1="461.00" y1="616.25" x2="547.00" y2="616.25" stroke="#DEDEDE" stroke-width="0.8"/>
<line x1="461.00" y1="583.40" x2="547.00" y2="583.40" stroke="#DEDEDE" stroke-width="0.8"/>
<path d="M475.30 632.67V624.46M472.55 624.46H478.05" stroke="#000" stroke-width="1.5" fill="none"/>
<rect x="465.82" y="632.67" width="18.96" height="82.12" fill="#FBE5D6" stroke="#000" stroke-width="1.4"/>
<path d="M503.90 601.47V589.15M501.15 589.15H506.65" stroke="#000" stroke-width="1.5" fill="none"/>
<rect x="494.42" y="601.47" width="18.96" height="113.33" fill="#F4B183" stroke="#000" stroke-width="1.4"/>
<path d="M532.50 619.53V608.04M529.75 608.04H535.25" stroke="#000" stroke-width="1.5" fill="none"/>
<rect x="523.02" y="619.53" width="18.96" height="95.26" fill="#C55A11" stroke="#000" stroke-width="1.4"/>
<path d="M461.00 582.80V715.00H547.00" stroke="#000" stroke-width="1.6" fill="none" stroke-linejoin="miter"/>
<text x="453.00" y="717.60" text-anchor="end" font-size="8.2" font-weight="bold">0.0</text>
<line x1="461.00" y1="681.95" x2="464.00" y2="681.95" stroke="#000" stroke-width="1.3"/>
<text x="453.00" y="684.75" text-anchor="end" font-size="8.2" font-weight="bold">0.4</text>
<line x1="461.00" y1="649.10" x2="464.00" y2="649.10" stroke="#000" stroke-width="1.3"/>
<text x="453.00" y="651.90" text-anchor="end" font-size="8.2" font-weight="bold">0.8</text>
<line x1="461.00" y1="616.25" x2="464.00" y2="616.25" stroke="#000" stroke-width="1.3"/>
<text x="453.00" y="619.05" text-anchor="end" font-size="8.2" font-weight="bold">1.2</text>
<line x1="461.00" y1="583.40" x2="464.00" y2="583.40" stroke="#000" stroke-width="1.3"/>
<text x="453.00" y="586.20" text-anchor="end" font-size="8.2" font-weight="bold">1.6</text>
<text x="475.30" y="727.80" text-anchor="middle" font-size="8.8" font-weight="bold">0.0<tspan font-weight="normal">µ</tspan>M</text>
<text x="503.90" y="727.80" text-anchor="middle" font-size="8.8" font-weight="bold">0.1<tspan font-weight="normal">µ</tspan>M</text>
<text x="532.50" y="727.80" text-anchor="middle" font-size="8.8" font-weight="bold">1.0<tspan font-weight="normal">µ</tspan>M</text>
<text x="426.50" y="577.60" font-size="10.0" font-weight="bold">M.</text>
<text transform="translate(433.00 649.10) rotate(-90)" text-anchor="middle" font-size="8.8" font-weight="bold" xml:space="preserve"><tspan font-style="italic">ARF16</tspan> expression</text>
</g>
<g>
<line x1="38.80" y1="860.52" x2="122.30" y2="860.52" stroke="#DEDEDE" stroke-width="0.8"/>
<line x1="38.80" y1="834.24" x2="122.30" y2="834.24" stroke="#DEDEDE" stroke-width="0.8"/>
<line x1="38.80" y1="807.96" x2="122.30" y2="807.96" stroke="#DEDEDE" stroke-width="0.8"/>
<line x1="38.80" y1="781.68" x2="122.30" y2="781.68" stroke="#DEDEDE" stroke-width="0.8"/>
<line x1="38.80" y1="755.40" x2="122.30" y2="755.40" stroke="#DEDEDE" stroke-width="0.8"/>
<path d="M53.00 799.20V790.44M50.25 790.44H55.75" stroke="#000" stroke-width="1.5" fill="none"/>
<rect x="43.59" y="799.20" width="18.82" height="87.60" fill="#FBE5D6" stroke="#000" stroke-width="1.4"/>
<path d="M81.40 812.34V807.96M78.65 807.96H84.15" stroke="#000" stroke-width="1.5" fill="none"/>
<rect x="71.99" y="812.34" width="18.82" height="74.46" fill="#F4B183" stroke="#000" stroke-width="1.4"/>
<path d="M109.80 821.10V816.72M107.05 816.72H112.55" stroke="#000" stroke-width="1.5" fill="none"/>
<rect x="100.39" y="821.10" width="18.82" height="65.70" fill="#C55A11" stroke="#000" stroke-width="1.4"/>
<path d="M38.80 754.80V887.00H122.30" stroke="#000" stroke-width="1.6" fill="none" stroke-linejoin="miter"/>
<text x="30.80" y="889.60" text-anchor="end" font-size="8.2" font-weight="bold">0.0</text>
<line x1="38.80" y1="860.52" x2="41.80" y2="860.52" stroke="#000" stroke-width="1.3"/>
<text x="30.80" y="863.32" text-anchor="end" font-size="8.2" font-weight="bold">0.3</text>
<line x1="38.80" y1="834.24" x2="41.80" y2="834.24" stroke="#000" stroke-width="1.3"/>
<text x="30.80" y="837.04" text-anchor="end" font-size="8.2" font-weight="bold">0.6</text>
<line x1="38.80" y1="807.96" x2="41.80" y2="807.96" stroke="#000" stroke-width="1.3"/>
<text x="30.80" y="810.76" text-anchor="end" font-size="8.2" font-weight="bold">0.9</text>
<line x1="38.80" y1="781.68" x2="41.80" y2="781.68" stroke="#000" stroke-width="1.3"/>
<text x="30.80" y="784.48" text-anchor="end" font-size="8.2" font-weight="bold">1.2</text>
<line x1="38.80" y1="755.40" x2="41.80" y2="755.40" stroke="#000" stroke-width="1.3"/>
<text x="30.80" y="758.20" text-anchor="end" font-size="8.2" font-weight="bold">1.5</text>
<text x="53.00" y="899.80" text-anchor="middle" font-size="8.8" font-weight="bold">0.0<tspan font-weight="normal">µ</tspan>M</text>
<text x="81.40" y="899.80" text-anchor="middle" font-size="8.8" font-weight="bold">0.1<tspan font-weight="normal">µ</tspan>M</text>
<text x="109.80" y="899.80" text-anchor="middle" font-size="8.8" font-weight="bold">1.0<tspan font-weight="normal">µ</tspan>M</text>
<text x="5.20" y="749.60" font-size="10.0" font-weight="bold">N.</text>
<text transform="translate(9.90 821.10) rotate(-90)" text-anchor="middle" font-size="8.8" font-weight="bold" xml:space="preserve"><tspan font-style="italic">ARF17</tspan> expression</text>
</g>
<g>
<line x1="179.50" y1="860.52" x2="264.40" y2="860.52" stroke="#DEDEDE" stroke-width="0.8"/>
<line x1="179.50" y1="834.24" x2="264.40" y2="834.24" stroke="#DEDEDE" stroke-width="0.8"/>
<line x1="179.50" y1="807.96" x2="264.40" y2="807.96" stroke="#DEDEDE" stroke-width="0.8"/>
<line x1="179.50" y1="781.68" x2="264.40" y2="781.68" stroke="#DEDEDE" stroke-width="0.8"/>
<line x1="179.50" y1="755.40" x2="264.40" y2="755.40" stroke="#DEDEDE" stroke-width="0.8"/>
<path d="M193.92 821.10V807.96M191.17 807.96H196.67" stroke="#000" stroke-width="1.5" fill="none"/>
<rect x="184.35" y="821.10" width="19.13" height="65.70" fill="#FBE5D6" stroke="#000" stroke-width="1.4"/>
<path d="M222.75 771.82V758.68M220.00 758.68H225.50" stroke="#000" stroke-width="1.5" fill="none"/>
<rect x="213.19" y="771.82" width="19.13" height="114.98" fill="#F4B183" stroke="#000" stroke-width="1.4"/>
<path d="M251.58 794.82V788.25M248.83 788.25H254.33" stroke="#000" stroke-width="1.5" fill="none"/>
<rect x="242.02" y="794.82" width="19.13" height="91.98" fill="#C55A11" stroke="#000" stroke-width="1.4"/>
<path d="M179.50 754.80V887.00H264.40" stroke="#000" stroke-width="1.6" fill="none" stroke-linejoin="miter"/>
<text x="171.50" y="889.60" text-anchor="end" font-size="8.2" font-weight="bold">0.0</text>
<line x1="179.50" y1="860.52" x2="182.50" y2="860.52" stroke="#000" stroke-width="1.3"/>
<text x="171.50" y="863.32" text-anchor="end" font-size="8.2" font-weight="bold">0.4</text>
<line x1="179.50" y1="834.24" x2="182.50" y2="834.24" stroke="#000" stroke-width="1.3"/>
<text x="171.50" y="837.04" text-anchor="end" font-size="8.2" font-weight="bold">0.8</text>
<line x1="179.50" y1="807.96" x2="182.50" y2="807.96" stroke="#000" stroke-width="1.3"/>
<text x="171.50" y="810.76" text-anchor="end" font-size="8.2" font-weight="bold">1.2</text>
<line x1="179.50" y1="781.68" x2="182.50" y2="781.68" stroke="#000" stroke-width="1.3"/>
<text x="171.50" y="784.48" text-anchor="end" font-size="8.2" font-weight="bold">1.6</text>
<line x1="179.50" y1="755.40" x2="182.50" y2="755.40" stroke="#000" stroke-width="1.3"/>
<text x="171.50" y="758.20" text-anchor="end" font-size="8.2" font-weight="bold">2.0</text>
<text x="193.92" y="899.80" text-anchor="middle" font-size="8.8" font-weight="bold">0.0<tspan font-weight="normal">µ</tspan>M</text>
<text x="222.75" y="899.80" text-anchor="middle" font-size="8.8" font-weight="bold">0.1<tspan font-weight="normal">µ</tspan>M</text>
<text x="251.58" y="899.80" text-anchor="middle" font-size="8.8" font-weight="bold">1.0<tspan font-weight="normal">µ</tspan>M</text>
<text x="144.80" y="749.60" font-size="10.0" font-weight="bold">O.</text>
<text transform="translate(151.90 821.10) rotate(-90)" text-anchor="middle" font-size="8.8" font-weight="bold" xml:space="preserve"><tspan font-style="italic">DRB1</tspan> expression</text>
</g>
<g>
<line x1="320.00" y1="860.52" x2="405.00" y2="860.52" stroke="#DEDEDE" stroke-width="0.8"/>
<line x1="320.00" y1="834.24" x2="405.00" y2="834.24" stroke="#DEDEDE" stroke-width="0.8"/>
<line x1="320.00" y1="807.96" x2="405.00" y2="807.96" stroke="#DEDEDE" stroke-width="0.8"/>
<line x1="320.00" y1="781.68" x2="405.00" y2="781.68" stroke="#DEDEDE" stroke-width="0.8"/>
<line x1="320.00" y1="755.40" x2="405.00" y2="755.40" stroke="#DEDEDE" stroke-width="0.8"/>
<path d="M320.00 754.80V887.00H405.00" stroke="#000" stroke-width="1.6" fill="none" stroke-linejoin="miter"/>
<text x="312.00" y="889.60" text-anchor="end" font-size="8.2" font-weight="bold">0.0</text>
<line x1="320.00" y1="860.52" x2="323.00" y2="860.52" stroke="#000" stroke-width="1.3"/>
<text x="312.00" y="863.32" text-anchor="end" font-size="8.2" font-weight="bold">0.2</text>
<line x1="320.00" y1="834.24" x2="323.00" y2="834.24" stroke="#000" stroke-width="1.3"/>
<text x="312.00" y="837.04" text-anchor="end" font-size="8.2" font-weight="bold">0.4</text>
<line x1="320.00" y1="807.96" x2="323.00" y2="807.96" stroke="#000" stroke-width="1.3"/>
<text x="312.00" y="810.76" text-anchor="end" font-size="8.2" font-weight="bold">0.6</text>
<line x1="320.00" y1="781.68" x2="323.00" y2="781.68" stroke="#000" stroke-width="1.3"/>
<text x="312.00" y="784.48" text-anchor="end" font-size="8.2" font-weight="bold">0.8</text>
<line x1="320.00" y1="755.40" x2="323.00" y2="755.40" stroke="#000" stroke-width="1.3"/>
<text x="312.00" y="758.20" text-anchor="end" font-size="8.2" font-weight="bold">1.0</text>
<text x="334.17" y="899.80" text-anchor="middle" font-size="8.8" font-weight="bold">0.0<tspan font-weight="normal">µ</tspan>M</text>
<text x="362.50" y="899.80" text-anchor="middle" font-size="8.8" font-weight="bold">0.1<tspan font-weight="normal">µ</tspan>M</text>
<text x="390.83" y="899.80" text-anchor="middle" font-size="8.8" font-weight="bold">1.0<tspan font-weight="normal">µ</tspan>M</text>
<text x="286.00" y="749.60" font-size="10.0" font-weight="bold">P.</text>
<text transform="translate(291.70 821.10) rotate(-90)" text-anchor="middle" font-size="8.8" font-weight="bold" xml:space="preserve"><tspan font-style="italic">DRB2</tspan> expression</text>
</g>
<g>
<line x1="460.40" y1="864.90" x2="547.00" y2="864.90" stroke="#DEDEDE" stroke-width="0.8"/>
<line x1="460.40" y1="843.00" x2="547.00" y2="843.00" stroke="#DEDEDE" stroke-width="0.8"/>
<line x1="460.40" y1="821.10" x2="547.00" y2="821.10" stroke="#DEDEDE" stroke-width="0.8"/>
<line x1="460.40" y1="799.20" x2="547.00" y2="799.20" stroke="#DEDEDE" stroke-width="0.8"/>
<line x1="460.40" y1="777.30" x2="547.00" y2="777.30" stroke="#DEDEDE" stroke-width="0.8"/>
<line x1="460.40" y1="755.40" x2="547.00" y2="755.40" stroke="#DEDEDE" stroke-width="0.8"/>
<path d="M474.83 777.30V760.88M472.08 760.88H477.58" stroke="#000" stroke-width="1.5" fill="none"/>
<rect x="465.26" y="777.30" width="19.15" height="109.50" fill="#FBE5D6" stroke="#000" stroke-width="1.4"/>
<path d="M503.70 859.42V857.23M500.95 857.23H506.45" stroke="#000" stroke-width="1.5" fill="none"/>
<rect x="494.12" y="859.42" width="19.15" height="27.38" fill="#F4B183" stroke="#000" stroke-width="1.4"/>
<text x="504.05" y="855.85" text-anchor="middle" font-size="13.6" font-weight="bold" stroke="none" letter-spacing="1.45">**</text>
<path d="M532.57 864.90V860.52M529.82 860.52H535.32" stroke="#000" stroke-width="1.5" fill="none"/>
<rect x="522.99" y="864.90" width="19.15" height="21.90" fill="#C55A11" stroke="#000" stroke-width="1.4"/>
<text x="532.92" y="859.14" text-anchor="middle" font-size="13.6" font-weight="bold" stroke="none" letter-spacing="1.45">***</text>
<path d="M460.40 754.80V887.00H547.00" stroke="#000" stroke-width="1.6" fill="none" stroke-linejoin="miter"/>
<text x="452.40" y="889.60" text-anchor="end" font-size="8.2" font-weight="bold">0.0</text>
<line x1="460.40" y1="864.90" x2="463.40" y2="864.90" stroke="#000" stroke-width="1.3"/>
<text x="452.40" y="867.70" text-anchor="end" font-size="8.2" font-weight="bold">0.2</text>
<line x1="460.40" y1="843.00" x2="463.40" y2="843.00" stroke="#000" stroke-width="1.3"/>
<text x="452.40" y="845.80" text-anchor="end" font-size="8.2" font-weight="bold">0.4</text>
<line x1="460.40" y1="821.10" x2="463.40" y2="821.10" stroke="#000" stroke-width="1.3"/>
<text x="452.40" y="823.90" text-anchor="end" font-size="8.2" font-weight="bold">0.6</text>
<line x1="460.40" y1="799.20" x2="463.40" y2="799.20" stroke="#000" stroke-width="1.3"/>
<text x="452.40" y="802.00" text-anchor="end" font-size="8.2" font-weight="bold">0.8</text>
<line x1="460.40" y1="777.30" x2="463.40" y2="777.30" stroke="#000" stroke-width="1.3"/>
<text x="452.40" y="780.10" text-anchor="end" font-size="8.2" font-weight="bold">1.0</text>
<line x1="460.40" y1="755.40" x2="463.40" y2="755.40" stroke="#000" stroke-width="1.3"/>
<text x="452.40" y="758.20" text-anchor="end" font-size="8.2" font-weight="bold">1.2</text>
<text x="474.83" y="899.80" text-anchor="middle" font-size="8.8" font-weight="bold">0.0<tspan font-weight="normal">µ</tspan>M</text>
<text x="503.70" y="899.80" text-anchor="middle" font-size="8.8" font-weight="bold">0.1<tspan font-weight="normal">µ</tspan>M</text>
<text x="532.57" y="899.80" text-anchor="middle" font-size="8.8" font-weight="bold">1.0<tspan font-weight="normal">µ</tspan>M</text>
<text x="426.50" y="749.60" font-size="10.0" font-weight="bold">Q.</text>
<text transform="translate(433.00 821.10) rotate(-90)" text-anchor="middle" font-size="8.8" font-weight="bold" xml:space="preserve"><tspan font-style="italic">DRB4</tspan> expression</text>
</g>
</svg>
</body>
</html>
